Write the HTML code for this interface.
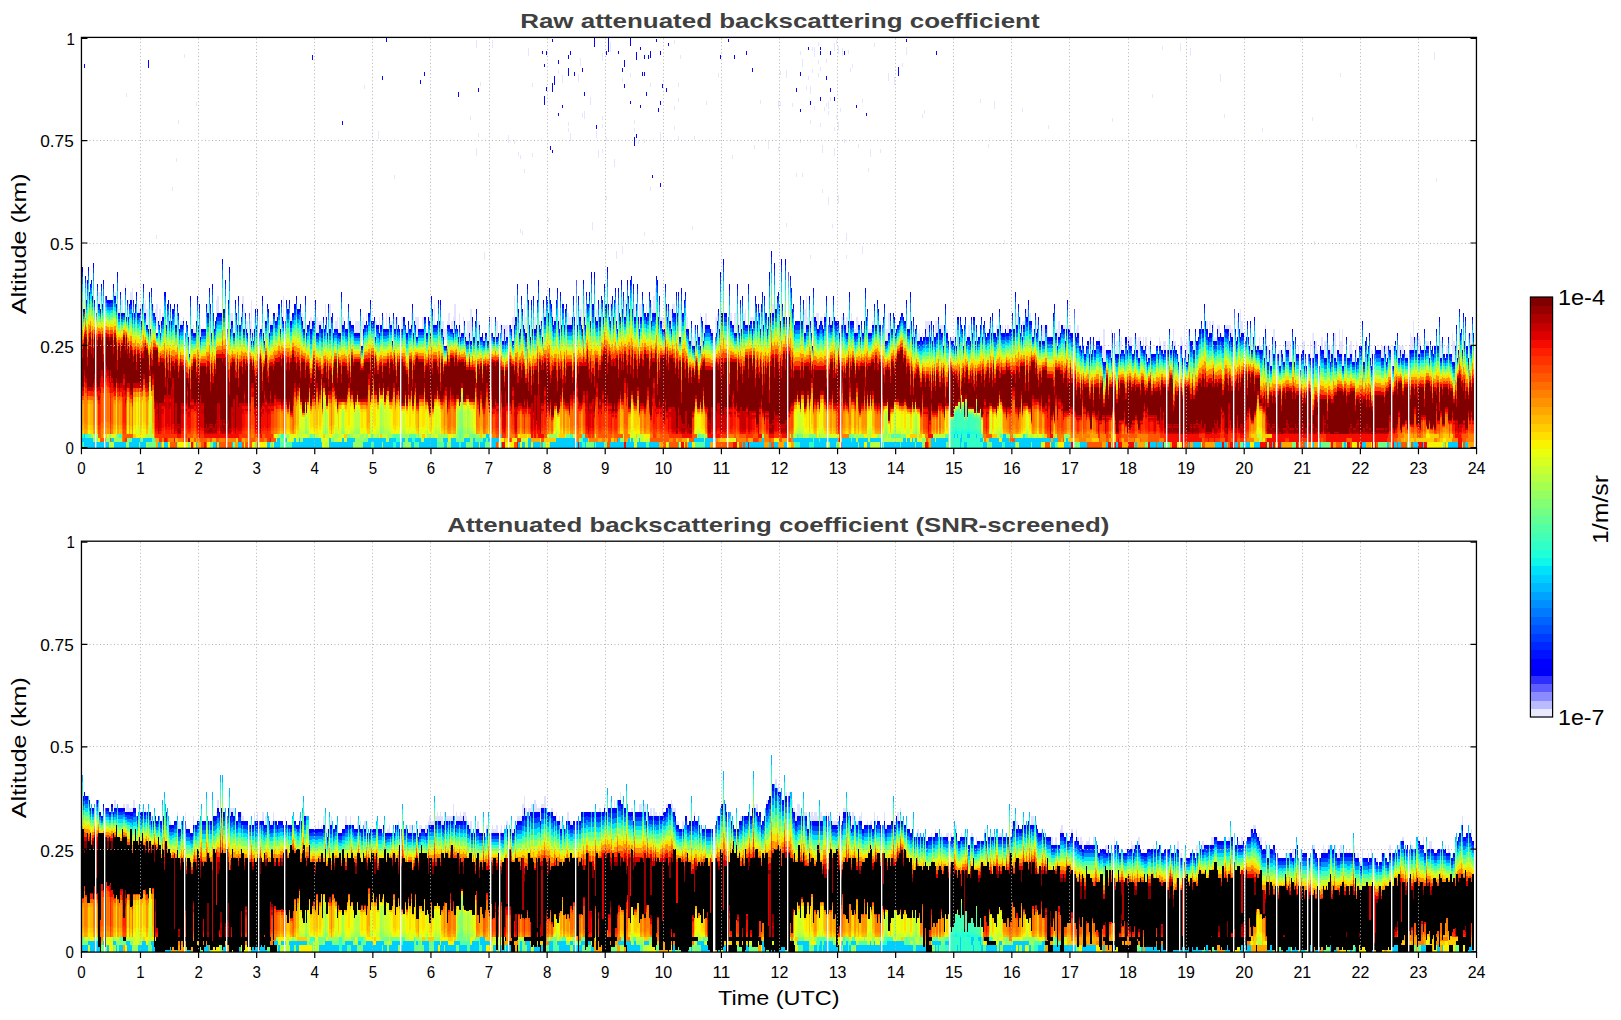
<!DOCTYPE html>
<html><head><meta charset="utf-8"><title>Backscatter</title>
<style>html,body{margin:0;padding:0;background:#fff;overflow:hidden;font-family:"Liberation Sans",sans-serif}svg{display:block}</style></head>
<body>
<svg width="1621" height="1020" viewBox="0 0 1621 1020">
<defs>
<linearGradient id="u" x1="0" y1="0" x2="0" y2="1"><stop offset="0" stop-color="#0000ff"/><stop offset="0.0909" stop-color="#0000ff"/><stop offset="0.0909" stop-color="#003cff"/><stop offset="0.182" stop-color="#003cff"/><stop offset="0.182" stop-color="#008fff"/><stop offset="0.273" stop-color="#008fff"/><stop offset="0.273" stop-color="#00e2f9"/><stop offset="0.364" stop-color="#00e2f9"/><stop offset="0.364" stop-color="#41ffb6"/><stop offset="0.455" stop-color="#41ffb6"/><stop offset="0.455" stop-color="#84ff73"/><stop offset="0.545" stop-color="#84ff73"/><stop offset="0.545" stop-color="#c7ff30"/><stop offset="0.636" stop-color="#c7ff30"/><stop offset="0.636" stop-color="#ffdf00"/><stop offset="0.727" stop-color="#ffdf00"/><stop offset="0.727" stop-color="#ff9200"/><stop offset="0.818" stop-color="#ff9200"/><stop offset="0.818" stop-color="#ff4500"/><stop offset="0.909" stop-color="#ff4500"/><stop offset="0.909" stop-color="#de0000"/><stop offset="1" stop-color="#de0000"/></linearGradient>
<linearGradient id="v" x1="0" y1="0" x2="0" y2="1"><stop offset="0" stop-color="#00b9ff"/><stop offset="0.0833" stop-color="#00b9ff"/><stop offset="0.0833" stop-color="#0ef7e9"/><stop offset="0.167" stop-color="#0ef7e9"/><stop offset="0.167" stop-color="#41ffb6"/><stop offset="0.25" stop-color="#41ffb6"/><stop offset="0.25" stop-color="#73ff84"/><stop offset="0.333" stop-color="#73ff84"/><stop offset="0.333" stop-color="#a5ff51"/><stop offset="0.417" stop-color="#a5ff51"/><stop offset="0.417" stop-color="#d8ff1f"/><stop offset="0.5" stop-color="#d8ff1f"/><stop offset="0.5" stop-color="#ffdf00"/><stop offset="0.583" stop-color="#ffdf00"/><stop offset="0.583" stop-color="#ffa600"/><stop offset="0.667" stop-color="#ffa600"/><stop offset="0.667" stop-color="#ff6c00"/><stop offset="0.75" stop-color="#ff6c00"/><stop offset="0.75" stop-color="#ff3200"/><stop offset="0.833" stop-color="#ff3200"/><stop offset="0.833" stop-color="#de0000"/><stop offset="0.917" stop-color="#de0000"/><stop offset="0.917" stop-color="#af0000"/><stop offset="1" stop-color="#af0000"/></linearGradient>
<linearGradient id="w" x1="0" y1="0" x2="0" y2="1"><stop offset="0" stop-color="#0000ff"/><stop offset="0.05" stop-color="#0000ff"/><stop offset="0.05" stop-color="#003cff"/><stop offset="0.11" stop-color="#003cff"/><stop offset="0.11" stop-color="#008fff"/><stop offset="0.19" stop-color="#008fff"/><stop offset="0.19" stop-color="#00e2f9"/><stop offset="0.28" stop-color="#00e2f9"/><stop offset="0.28" stop-color="#41ffb6"/><stop offset="0.38" stop-color="#41ffb6"/><stop offset="0.38" stop-color="#84ff73"/><stop offset="0.48" stop-color="#84ff73"/><stop offset="0.48" stop-color="#c7ff30"/><stop offset="0.58" stop-color="#c7ff30"/><stop offset="0.58" stop-color="#ffdf00"/><stop offset="0.69" stop-color="#ffdf00"/><stop offset="0.69" stop-color="#ff9200"/><stop offset="0.8" stop-color="#ff9200"/><stop offset="0.8" stop-color="#ff4500"/><stop offset="0.9" stop-color="#ff4500"/><stop offset="0.9" stop-color="#de0000"/><stop offset="1" stop-color="#de0000"/></linearGradient>
<linearGradient id="l17" x1="0" y1="0" x2="0" y2="1"><stop offset="0" stop-color="#c60000"/><stop offset="0.0909" stop-color="#c60000"/><stop offset="0.0909" stop-color="#84ff73"/><stop offset="0.182" stop-color="#84ff73"/><stop offset="0.182" stop-color="#41ffb6"/><stop offset="0.273" stop-color="#41ffb6"/><stop offset="0.273" stop-color="#0ef7e9"/><stop offset="0.364" stop-color="#0ef7e9"/><stop offset="0.364" stop-color="#00e2f9"/><stop offset="0.455" stop-color="#00e2f9"/><stop offset="0.455" stop-color="#00e2f9"/><stop offset="0.545" stop-color="#00e2f9"/><stop offset="0.545" stop-color="#00e2f9"/><stop offset="0.636" stop-color="#00e2f9"/><stop offset="0.636" stop-color="#00e2f9"/><stop offset="0.727" stop-color="#00e2f9"/><stop offset="0.727" stop-color="#00e2f9"/><stop offset="0.818" stop-color="#00e2f9"/><stop offset="0.818" stop-color="#00ceff"/><stop offset="0.909" stop-color="#00ceff"/><stop offset="0.909" stop-color="#00ceff"/><stop offset="1" stop-color="#00ceff"/></linearGradient>
<linearGradient id="l18" x1="0" y1="0" x2="0" y2="1"><stop offset="0" stop-color="#c60000"/><stop offset="0.0909" stop-color="#c60000"/><stop offset="0.0909" stop-color="#95ff62"/><stop offset="0.182" stop-color="#95ff62"/><stop offset="0.182" stop-color="#51ffa5"/><stop offset="0.273" stop-color="#51ffa5"/><stop offset="0.273" stop-color="#1fffd8"/><stop offset="0.364" stop-color="#1fffd8"/><stop offset="0.364" stop-color="#0ef7e9"/><stop offset="0.455" stop-color="#0ef7e9"/><stop offset="0.455" stop-color="#0ef7e9"/><stop offset="0.545" stop-color="#0ef7e9"/><stop offset="0.545" stop-color="#0ef7e9"/><stop offset="0.636" stop-color="#0ef7e9"/><stop offset="0.636" stop-color="#0ef7e9"/><stop offset="0.727" stop-color="#0ef7e9"/><stop offset="0.727" stop-color="#0ef7e9"/><stop offset="0.818" stop-color="#0ef7e9"/><stop offset="0.818" stop-color="#00e2f9"/><stop offset="0.909" stop-color="#00e2f9"/><stop offset="0.909" stop-color="#00ceff"/><stop offset="1" stop-color="#00ceff"/></linearGradient>
<linearGradient id="l19" x1="0" y1="0" x2="0" y2="1"><stop offset="0" stop-color="#c60000"/><stop offset="0.0909" stop-color="#c60000"/><stop offset="0.0909" stop-color="#a5ff51"/><stop offset="0.182" stop-color="#a5ff51"/><stop offset="0.182" stop-color="#62ff95"/><stop offset="0.273" stop-color="#62ff95"/><stop offset="0.273" stop-color="#30ffc7"/><stop offset="0.364" stop-color="#30ffc7"/><stop offset="0.364" stop-color="#1fffd8"/><stop offset="0.455" stop-color="#1fffd8"/><stop offset="0.455" stop-color="#1fffd8"/><stop offset="0.545" stop-color="#1fffd8"/><stop offset="0.545" stop-color="#1fffd8"/><stop offset="0.636" stop-color="#1fffd8"/><stop offset="0.636" stop-color="#1fffd8"/><stop offset="0.727" stop-color="#1fffd8"/><stop offset="0.727" stop-color="#1fffd8"/><stop offset="0.818" stop-color="#1fffd8"/><stop offset="0.818" stop-color="#0ef7e9"/><stop offset="0.909" stop-color="#0ef7e9"/><stop offset="0.909" stop-color="#00e2f9"/><stop offset="1" stop-color="#00e2f9"/></linearGradient>
<linearGradient id="l20" x1="0" y1="0" x2="0" y2="1"><stop offset="0" stop-color="#c60000"/><stop offset="0.0909" stop-color="#c60000"/><stop offset="0.0909" stop-color="#b6ff41"/><stop offset="0.182" stop-color="#b6ff41"/><stop offset="0.182" stop-color="#73ff84"/><stop offset="0.273" stop-color="#73ff84"/><stop offset="0.273" stop-color="#41ffb6"/><stop offset="0.364" stop-color="#41ffb6"/><stop offset="0.364" stop-color="#30ffc7"/><stop offset="0.455" stop-color="#30ffc7"/><stop offset="0.455" stop-color="#30ffc7"/><stop offset="0.545" stop-color="#30ffc7"/><stop offset="0.545" stop-color="#30ffc7"/><stop offset="0.636" stop-color="#30ffc7"/><stop offset="0.636" stop-color="#30ffc7"/><stop offset="0.727" stop-color="#30ffc7"/><stop offset="0.727" stop-color="#30ffc7"/><stop offset="0.818" stop-color="#30ffc7"/><stop offset="0.818" stop-color="#1fffd8"/><stop offset="0.909" stop-color="#1fffd8"/><stop offset="0.909" stop-color="#0ef7e9"/><stop offset="1" stop-color="#0ef7e9"/></linearGradient>
<linearGradient id="l21" x1="0" y1="0" x2="0" y2="1"><stop offset="0" stop-color="#c60000"/><stop offset="0.0909" stop-color="#c60000"/><stop offset="0.0909" stop-color="#c7ff30"/><stop offset="0.182" stop-color="#c7ff30"/><stop offset="0.182" stop-color="#84ff73"/><stop offset="0.273" stop-color="#84ff73"/><stop offset="0.273" stop-color="#51ffa5"/><stop offset="0.364" stop-color="#51ffa5"/><stop offset="0.364" stop-color="#41ffb6"/><stop offset="0.455" stop-color="#41ffb6"/><stop offset="0.455" stop-color="#41ffb6"/><stop offset="0.545" stop-color="#41ffb6"/><stop offset="0.545" stop-color="#41ffb6"/><stop offset="0.636" stop-color="#41ffb6"/><stop offset="0.636" stop-color="#41ffb6"/><stop offset="0.727" stop-color="#41ffb6"/><stop offset="0.727" stop-color="#41ffb6"/><stop offset="0.818" stop-color="#41ffb6"/><stop offset="0.818" stop-color="#30ffc7"/><stop offset="0.909" stop-color="#30ffc7"/><stop offset="0.909" stop-color="#1fffd8"/><stop offset="1" stop-color="#1fffd8"/></linearGradient>
<linearGradient id="l22" x1="0" y1="0" x2="0" y2="1"><stop offset="0" stop-color="#c60000"/><stop offset="0.0909" stop-color="#c60000"/><stop offset="0.0909" stop-color="#d8ff1f"/><stop offset="0.182" stop-color="#d8ff1f"/><stop offset="0.182" stop-color="#95ff62"/><stop offset="0.273" stop-color="#95ff62"/><stop offset="0.273" stop-color="#62ff95"/><stop offset="0.364" stop-color="#62ff95"/><stop offset="0.364" stop-color="#51ffa5"/><stop offset="0.455" stop-color="#51ffa5"/><stop offset="0.455" stop-color="#51ffa5"/><stop offset="0.545" stop-color="#51ffa5"/><stop offset="0.545" stop-color="#51ffa5"/><stop offset="0.636" stop-color="#51ffa5"/><stop offset="0.636" stop-color="#51ffa5"/><stop offset="0.727" stop-color="#51ffa5"/><stop offset="0.727" stop-color="#51ffa5"/><stop offset="0.818" stop-color="#51ffa5"/><stop offset="0.818" stop-color="#41ffb6"/><stop offset="0.909" stop-color="#41ffb6"/><stop offset="0.909" stop-color="#30ffc7"/><stop offset="1" stop-color="#30ffc7"/></linearGradient>
<linearGradient id="l23" x1="0" y1="0" x2="0" y2="1"><stop offset="0" stop-color="#c60000"/><stop offset="0.0909" stop-color="#c60000"/><stop offset="0.0909" stop-color="#e9ff0e"/><stop offset="0.182" stop-color="#e9ff0e"/><stop offset="0.182" stop-color="#a5ff51"/><stop offset="0.273" stop-color="#a5ff51"/><stop offset="0.273" stop-color="#73ff84"/><stop offset="0.364" stop-color="#73ff84"/><stop offset="0.364" stop-color="#62ff95"/><stop offset="0.455" stop-color="#62ff95"/><stop offset="0.455" stop-color="#62ff95"/><stop offset="0.545" stop-color="#62ff95"/><stop offset="0.545" stop-color="#62ff95"/><stop offset="0.636" stop-color="#62ff95"/><stop offset="0.636" stop-color="#62ff95"/><stop offset="0.727" stop-color="#62ff95"/><stop offset="0.727" stop-color="#62ff95"/><stop offset="0.818" stop-color="#62ff95"/><stop offset="0.818" stop-color="#51ffa5"/><stop offset="0.909" stop-color="#51ffa5"/><stop offset="0.909" stop-color="#41ffb6"/><stop offset="1" stop-color="#41ffb6"/></linearGradient>
<linearGradient id="l24" x1="0" y1="0" x2="0" y2="1"><stop offset="0" stop-color="#c60000"/><stop offset="0.0909" stop-color="#c60000"/><stop offset="0.0909" stop-color="#f9f300"/><stop offset="0.182" stop-color="#f9f300"/><stop offset="0.182" stop-color="#b6ff41"/><stop offset="0.273" stop-color="#b6ff41"/><stop offset="0.273" stop-color="#84ff73"/><stop offset="0.364" stop-color="#84ff73"/><stop offset="0.364" stop-color="#73ff84"/><stop offset="0.455" stop-color="#73ff84"/><stop offset="0.455" stop-color="#73ff84"/><stop offset="0.545" stop-color="#73ff84"/><stop offset="0.545" stop-color="#73ff84"/><stop offset="0.636" stop-color="#73ff84"/><stop offset="0.636" stop-color="#73ff84"/><stop offset="0.727" stop-color="#73ff84"/><stop offset="0.727" stop-color="#73ff84"/><stop offset="0.818" stop-color="#73ff84"/><stop offset="0.818" stop-color="#62ff95"/><stop offset="0.909" stop-color="#62ff95"/><stop offset="0.909" stop-color="#51ffa5"/><stop offset="1" stop-color="#51ffa5"/></linearGradient>
<linearGradient id="l25" x1="0" y1="0" x2="0" y2="1"><stop offset="0" stop-color="#c60000"/><stop offset="0.0909" stop-color="#c60000"/><stop offset="0.0909" stop-color="#ffdf00"/><stop offset="0.182" stop-color="#ffdf00"/><stop offset="0.182" stop-color="#c7ff30"/><stop offset="0.273" stop-color="#c7ff30"/><stop offset="0.273" stop-color="#95ff62"/><stop offset="0.364" stop-color="#95ff62"/><stop offset="0.364" stop-color="#84ff73"/><stop offset="0.455" stop-color="#84ff73"/><stop offset="0.455" stop-color="#84ff73"/><stop offset="0.545" stop-color="#84ff73"/><stop offset="0.545" stop-color="#84ff73"/><stop offset="0.636" stop-color="#84ff73"/><stop offset="0.636" stop-color="#84ff73"/><stop offset="0.727" stop-color="#84ff73"/><stop offset="0.727" stop-color="#84ff73"/><stop offset="0.818" stop-color="#84ff73"/><stop offset="0.818" stop-color="#73ff84"/><stop offset="0.909" stop-color="#73ff84"/><stop offset="0.909" stop-color="#62ff95"/><stop offset="1" stop-color="#62ff95"/></linearGradient>
<linearGradient id="l26" x1="0" y1="0" x2="0" y2="1"><stop offset="0" stop-color="#c60000"/><stop offset="0.0909" stop-color="#c60000"/><stop offset="0.0909" stop-color="#ffcc00"/><stop offset="0.182" stop-color="#ffcc00"/><stop offset="0.182" stop-color="#d8ff1f"/><stop offset="0.273" stop-color="#d8ff1f"/><stop offset="0.273" stop-color="#a5ff51"/><stop offset="0.364" stop-color="#a5ff51"/><stop offset="0.364" stop-color="#95ff62"/><stop offset="0.455" stop-color="#95ff62"/><stop offset="0.455" stop-color="#95ff62"/><stop offset="0.545" stop-color="#95ff62"/><stop offset="0.545" stop-color="#95ff62"/><stop offset="0.636" stop-color="#95ff62"/><stop offset="0.636" stop-color="#95ff62"/><stop offset="0.727" stop-color="#95ff62"/><stop offset="0.727" stop-color="#95ff62"/><stop offset="0.818" stop-color="#95ff62"/><stop offset="0.818" stop-color="#84ff73"/><stop offset="0.909" stop-color="#84ff73"/><stop offset="0.909" stop-color="#73ff84"/><stop offset="1" stop-color="#73ff84"/></linearGradient>
<linearGradient id="l27" x1="0" y1="0" x2="0" y2="1"><stop offset="0" stop-color="#c60000"/><stop offset="0.0909" stop-color="#c60000"/><stop offset="0.0909" stop-color="#ffb900"/><stop offset="0.182" stop-color="#ffb900"/><stop offset="0.182" stop-color="#e9ff0e"/><stop offset="0.273" stop-color="#e9ff0e"/><stop offset="0.273" stop-color="#b6ff41"/><stop offset="0.364" stop-color="#b6ff41"/><stop offset="0.364" stop-color="#a5ff51"/><stop offset="0.455" stop-color="#a5ff51"/><stop offset="0.455" stop-color="#a5ff51"/><stop offset="0.545" stop-color="#a5ff51"/><stop offset="0.545" stop-color="#a5ff51"/><stop offset="0.636" stop-color="#a5ff51"/><stop offset="0.636" stop-color="#a5ff51"/><stop offset="0.727" stop-color="#a5ff51"/><stop offset="0.727" stop-color="#a5ff51"/><stop offset="0.818" stop-color="#a5ff51"/><stop offset="0.818" stop-color="#95ff62"/><stop offset="0.909" stop-color="#95ff62"/><stop offset="0.909" stop-color="#84ff73"/><stop offset="1" stop-color="#84ff73"/></linearGradient>
<linearGradient id="l28" x1="0" y1="0" x2="0" y2="1"><stop offset="0" stop-color="#c60000"/><stop offset="0.0909" stop-color="#c60000"/><stop offset="0.0909" stop-color="#ffa600"/><stop offset="0.182" stop-color="#ffa600"/><stop offset="0.182" stop-color="#f9f300"/><stop offset="0.273" stop-color="#f9f300"/><stop offset="0.273" stop-color="#c7ff30"/><stop offset="0.364" stop-color="#c7ff30"/><stop offset="0.364" stop-color="#b6ff41"/><stop offset="0.455" stop-color="#b6ff41"/><stop offset="0.455" stop-color="#b6ff41"/><stop offset="0.545" stop-color="#b6ff41"/><stop offset="0.545" stop-color="#b6ff41"/><stop offset="0.636" stop-color="#b6ff41"/><stop offset="0.636" stop-color="#b6ff41"/><stop offset="0.727" stop-color="#b6ff41"/><stop offset="0.727" stop-color="#b6ff41"/><stop offset="0.818" stop-color="#b6ff41"/><stop offset="0.818" stop-color="#a5ff51"/><stop offset="0.909" stop-color="#a5ff51"/><stop offset="0.909" stop-color="#95ff62"/><stop offset="1" stop-color="#95ff62"/></linearGradient>
<linearGradient id="l29" x1="0" y1="0" x2="0" y2="1"><stop offset="0" stop-color="#c60000"/><stop offset="0.0909" stop-color="#c60000"/><stop offset="0.0909" stop-color="#ff9200"/><stop offset="0.182" stop-color="#ff9200"/><stop offset="0.182" stop-color="#ffdf00"/><stop offset="0.273" stop-color="#ffdf00"/><stop offset="0.273" stop-color="#d8ff1f"/><stop offset="0.364" stop-color="#d8ff1f"/><stop offset="0.364" stop-color="#c7ff30"/><stop offset="0.455" stop-color="#c7ff30"/><stop offset="0.455" stop-color="#c7ff30"/><stop offset="0.545" stop-color="#c7ff30"/><stop offset="0.545" stop-color="#c7ff30"/><stop offset="0.636" stop-color="#c7ff30"/><stop offset="0.636" stop-color="#c7ff30"/><stop offset="0.727" stop-color="#c7ff30"/><stop offset="0.727" stop-color="#c7ff30"/><stop offset="0.818" stop-color="#c7ff30"/><stop offset="0.818" stop-color="#b6ff41"/><stop offset="0.909" stop-color="#b6ff41"/><stop offset="0.909" stop-color="#a5ff51"/><stop offset="1" stop-color="#a5ff51"/></linearGradient>
<linearGradient id="l30" x1="0" y1="0" x2="0" y2="1"><stop offset="0" stop-color="#c60000"/><stop offset="0.0909" stop-color="#c60000"/><stop offset="0.0909" stop-color="#ff7f00"/><stop offset="0.182" stop-color="#ff7f00"/><stop offset="0.182" stop-color="#ffcc00"/><stop offset="0.273" stop-color="#ffcc00"/><stop offset="0.273" stop-color="#e9ff0e"/><stop offset="0.364" stop-color="#e9ff0e"/><stop offset="0.364" stop-color="#d8ff1f"/><stop offset="0.455" stop-color="#d8ff1f"/><stop offset="0.455" stop-color="#d8ff1f"/><stop offset="0.545" stop-color="#d8ff1f"/><stop offset="0.545" stop-color="#d8ff1f"/><stop offset="0.636" stop-color="#d8ff1f"/><stop offset="0.636" stop-color="#d8ff1f"/><stop offset="0.727" stop-color="#d8ff1f"/><stop offset="0.727" stop-color="#d8ff1f"/><stop offset="0.818" stop-color="#d8ff1f"/><stop offset="0.818" stop-color="#c7ff30"/><stop offset="0.909" stop-color="#c7ff30"/><stop offset="0.909" stop-color="#b6ff41"/><stop offset="1" stop-color="#b6ff41"/></linearGradient>
<linearGradient id="l31" x1="0" y1="0" x2="0" y2="1"><stop offset="0" stop-color="#c60000"/><stop offset="0.0909" stop-color="#c60000"/><stop offset="0.0909" stop-color="#ff6c00"/><stop offset="0.182" stop-color="#ff6c00"/><stop offset="0.182" stop-color="#ffb900"/><stop offset="0.273" stop-color="#ffb900"/><stop offset="0.273" stop-color="#f9f300"/><stop offset="0.364" stop-color="#f9f300"/><stop offset="0.364" stop-color="#e9ff0e"/><stop offset="0.455" stop-color="#e9ff0e"/><stop offset="0.455" stop-color="#e9ff0e"/><stop offset="0.545" stop-color="#e9ff0e"/><stop offset="0.545" stop-color="#e9ff0e"/><stop offset="0.636" stop-color="#e9ff0e"/><stop offset="0.636" stop-color="#e9ff0e"/><stop offset="0.727" stop-color="#e9ff0e"/><stop offset="0.727" stop-color="#e9ff0e"/><stop offset="0.818" stop-color="#e9ff0e"/><stop offset="0.818" stop-color="#d8ff1f"/><stop offset="0.909" stop-color="#d8ff1f"/><stop offset="0.909" stop-color="#c7ff30"/><stop offset="1" stop-color="#c7ff30"/></linearGradient>
<linearGradient id="l32" x1="0" y1="0" x2="0" y2="1"><stop offset="0" stop-color="#c60000"/><stop offset="0.0909" stop-color="#c60000"/><stop offset="0.0909" stop-color="#ff5800"/><stop offset="0.182" stop-color="#ff5800"/><stop offset="0.182" stop-color="#ffa600"/><stop offset="0.273" stop-color="#ffa600"/><stop offset="0.273" stop-color="#ffdf00"/><stop offset="0.364" stop-color="#ffdf00"/><stop offset="0.364" stop-color="#f9f300"/><stop offset="0.455" stop-color="#f9f300"/><stop offset="0.455" stop-color="#f9f300"/><stop offset="0.545" stop-color="#f9f300"/><stop offset="0.545" stop-color="#f9f300"/><stop offset="0.636" stop-color="#f9f300"/><stop offset="0.636" stop-color="#f9f300"/><stop offset="0.727" stop-color="#f9f300"/><stop offset="0.727" stop-color="#f9f300"/><stop offset="0.818" stop-color="#f9f300"/><stop offset="0.818" stop-color="#e9ff0e"/><stop offset="0.909" stop-color="#e9ff0e"/><stop offset="0.909" stop-color="#d8ff1f"/><stop offset="1" stop-color="#d8ff1f"/></linearGradient>
<linearGradient id="l33" x1="0" y1="0" x2="0" y2="1"><stop offset="0" stop-color="#c60000"/><stop offset="0.0909" stop-color="#c60000"/><stop offset="0.0909" stop-color="#ff4500"/><stop offset="0.182" stop-color="#ff4500"/><stop offset="0.182" stop-color="#ff9200"/><stop offset="0.273" stop-color="#ff9200"/><stop offset="0.273" stop-color="#ffcc00"/><stop offset="0.364" stop-color="#ffcc00"/><stop offset="0.364" stop-color="#ffdf00"/><stop offset="0.455" stop-color="#ffdf00"/><stop offset="0.455" stop-color="#ffdf00"/><stop offset="0.545" stop-color="#ffdf00"/><stop offset="0.545" stop-color="#ffdf00"/><stop offset="0.636" stop-color="#ffdf00"/><stop offset="0.636" stop-color="#ffdf00"/><stop offset="0.727" stop-color="#ffdf00"/><stop offset="0.727" stop-color="#ffdf00"/><stop offset="0.818" stop-color="#ffdf00"/><stop offset="0.818" stop-color="#f9f300"/><stop offset="0.909" stop-color="#f9f300"/><stop offset="0.909" stop-color="#e9ff0e"/><stop offset="1" stop-color="#e9ff0e"/></linearGradient>
<linearGradient id="l34" x1="0" y1="0" x2="0" y2="1"><stop offset="0" stop-color="#c60000"/><stop offset="0.0909" stop-color="#c60000"/><stop offset="0.0909" stop-color="#ff3200"/><stop offset="0.182" stop-color="#ff3200"/><stop offset="0.182" stop-color="#ff7f00"/><stop offset="0.273" stop-color="#ff7f00"/><stop offset="0.273" stop-color="#ffb900"/><stop offset="0.364" stop-color="#ffb900"/><stop offset="0.364" stop-color="#ffcc00"/><stop offset="0.455" stop-color="#ffcc00"/><stop offset="0.455" stop-color="#ffcc00"/><stop offset="0.545" stop-color="#ffcc00"/><stop offset="0.545" stop-color="#ffcc00"/><stop offset="0.636" stop-color="#ffcc00"/><stop offset="0.636" stop-color="#ffcc00"/><stop offset="0.727" stop-color="#ffcc00"/><stop offset="0.727" stop-color="#ffcc00"/><stop offset="0.818" stop-color="#ffcc00"/><stop offset="0.818" stop-color="#ffdf00"/><stop offset="0.909" stop-color="#ffdf00"/><stop offset="0.909" stop-color="#f9f300"/><stop offset="1" stop-color="#f9f300"/></linearGradient>
<linearGradient id="l35" x1="0" y1="0" x2="0" y2="1"><stop offset="0" stop-color="#c60000"/><stop offset="0.0909" stop-color="#c60000"/><stop offset="0.0909" stop-color="#ff1f00"/><stop offset="0.182" stop-color="#ff1f00"/><stop offset="0.182" stop-color="#ff6c00"/><stop offset="0.273" stop-color="#ff6c00"/><stop offset="0.273" stop-color="#ffa600"/><stop offset="0.364" stop-color="#ffa600"/><stop offset="0.364" stop-color="#ffb900"/><stop offset="0.455" stop-color="#ffb900"/><stop offset="0.455" stop-color="#ffb900"/><stop offset="0.545" stop-color="#ffb900"/><stop offset="0.545" stop-color="#ffb900"/><stop offset="0.636" stop-color="#ffb900"/><stop offset="0.636" stop-color="#ffb900"/><stop offset="0.727" stop-color="#ffb900"/><stop offset="0.727" stop-color="#ffb900"/><stop offset="0.818" stop-color="#ffb900"/><stop offset="0.818" stop-color="#ffcc00"/><stop offset="0.909" stop-color="#ffcc00"/><stop offset="0.909" stop-color="#ffdf00"/><stop offset="1" stop-color="#ffdf00"/></linearGradient>
<linearGradient id="l36" x1="0" y1="0" x2="0" y2="1"><stop offset="0" stop-color="#c60000"/><stop offset="0.0909" stop-color="#c60000"/><stop offset="0.0909" stop-color="#f60b00"/><stop offset="0.182" stop-color="#f60b00"/><stop offset="0.182" stop-color="#ff5800"/><stop offset="0.273" stop-color="#ff5800"/><stop offset="0.273" stop-color="#ff9200"/><stop offset="0.364" stop-color="#ff9200"/><stop offset="0.364" stop-color="#ffa600"/><stop offset="0.455" stop-color="#ffa600"/><stop offset="0.455" stop-color="#ffa600"/><stop offset="0.545" stop-color="#ffa600"/><stop offset="0.545" stop-color="#ffa600"/><stop offset="0.636" stop-color="#ffa600"/><stop offset="0.636" stop-color="#ffa600"/><stop offset="0.727" stop-color="#ffa600"/><stop offset="0.727" stop-color="#ffa600"/><stop offset="0.818" stop-color="#ffa600"/><stop offset="0.818" stop-color="#ffb900"/><stop offset="0.909" stop-color="#ffb900"/><stop offset="0.909" stop-color="#ffcc00"/><stop offset="1" stop-color="#ffcc00"/></linearGradient>
<linearGradient id="l37" x1="0" y1="0" x2="0" y2="1"><stop offset="0" stop-color="#c60000"/><stop offset="0.0909" stop-color="#c60000"/><stop offset="0.0909" stop-color="#f60b00"/><stop offset="0.182" stop-color="#f60b00"/><stop offset="0.182" stop-color="#ff4500"/><stop offset="0.273" stop-color="#ff4500"/><stop offset="0.273" stop-color="#ff7f00"/><stop offset="0.364" stop-color="#ff7f00"/><stop offset="0.364" stop-color="#ff9200"/><stop offset="0.455" stop-color="#ff9200"/><stop offset="0.455" stop-color="#ff9200"/><stop offset="0.545" stop-color="#ff9200"/><stop offset="0.545" stop-color="#ff9200"/><stop offset="0.636" stop-color="#ff9200"/><stop offset="0.636" stop-color="#ff9200"/><stop offset="0.727" stop-color="#ff9200"/><stop offset="0.727" stop-color="#ff9200"/><stop offset="0.818" stop-color="#ff9200"/><stop offset="0.818" stop-color="#ffa600"/><stop offset="0.909" stop-color="#ffa600"/><stop offset="0.909" stop-color="#ffb900"/><stop offset="1" stop-color="#ffb900"/></linearGradient>
<linearGradient id="l38" x1="0" y1="0" x2="0" y2="1"><stop offset="0" stop-color="#c60000"/><stop offset="0.0909" stop-color="#c60000"/><stop offset="0.0909" stop-color="#f60b00"/><stop offset="0.182" stop-color="#f60b00"/><stop offset="0.182" stop-color="#ff3200"/><stop offset="0.273" stop-color="#ff3200"/><stop offset="0.273" stop-color="#ff6c00"/><stop offset="0.364" stop-color="#ff6c00"/><stop offset="0.364" stop-color="#ff7f00"/><stop offset="0.455" stop-color="#ff7f00"/><stop offset="0.455" stop-color="#ff7f00"/><stop offset="0.545" stop-color="#ff7f00"/><stop offset="0.545" stop-color="#ff7f00"/><stop offset="0.636" stop-color="#ff7f00"/><stop offset="0.636" stop-color="#ff7f00"/><stop offset="0.727" stop-color="#ff7f00"/><stop offset="0.727" stop-color="#ff7f00"/><stop offset="0.818" stop-color="#ff7f00"/><stop offset="0.818" stop-color="#ff9200"/><stop offset="0.909" stop-color="#ff9200"/><stop offset="0.909" stop-color="#ffa600"/><stop offset="1" stop-color="#ffa600"/></linearGradient>
<linearGradient id="l39" x1="0" y1="0" x2="0" y2="1"><stop offset="0" stop-color="#c60000"/><stop offset="0.0909" stop-color="#c60000"/><stop offset="0.0909" stop-color="#f60b00"/><stop offset="0.182" stop-color="#f60b00"/><stop offset="0.182" stop-color="#ff1f00"/><stop offset="0.273" stop-color="#ff1f00"/><stop offset="0.273" stop-color="#ff5800"/><stop offset="0.364" stop-color="#ff5800"/><stop offset="0.364" stop-color="#ff6c00"/><stop offset="0.455" stop-color="#ff6c00"/><stop offset="0.455" stop-color="#ff6c00"/><stop offset="0.545" stop-color="#ff6c00"/><stop offset="0.545" stop-color="#ff6c00"/><stop offset="0.636" stop-color="#ff6c00"/><stop offset="0.636" stop-color="#ff6c00"/><stop offset="0.727" stop-color="#ff6c00"/><stop offset="0.727" stop-color="#ff6c00"/><stop offset="0.818" stop-color="#ff6c00"/><stop offset="0.818" stop-color="#ff7f00"/><stop offset="0.909" stop-color="#ff7f00"/><stop offset="0.909" stop-color="#ff9200"/><stop offset="1" stop-color="#ff9200"/></linearGradient>
<linearGradient id="l40" x1="0" y1="0" x2="0" y2="1"><stop offset="0" stop-color="#c60000"/><stop offset="0.0909" stop-color="#c60000"/><stop offset="0.0909" stop-color="#f60b00"/><stop offset="0.182" stop-color="#f60b00"/><stop offset="0.182" stop-color="#f60b00"/><stop offset="0.273" stop-color="#f60b00"/><stop offset="0.273" stop-color="#ff4500"/><stop offset="0.364" stop-color="#ff4500"/><stop offset="0.364" stop-color="#ff5800"/><stop offset="0.455" stop-color="#ff5800"/><stop offset="0.455" stop-color="#ff5800"/><stop offset="0.545" stop-color="#ff5800"/><stop offset="0.545" stop-color="#ff5800"/><stop offset="0.636" stop-color="#ff5800"/><stop offset="0.636" stop-color="#ff5800"/><stop offset="0.727" stop-color="#ff5800"/><stop offset="0.727" stop-color="#ff5800"/><stop offset="0.818" stop-color="#ff5800"/><stop offset="0.818" stop-color="#ff6c00"/><stop offset="0.909" stop-color="#ff6c00"/><stop offset="0.909" stop-color="#ff7f00"/><stop offset="1" stop-color="#ff7f00"/></linearGradient>
<linearGradient id="l41" x1="0" y1="0" x2="0" y2="1"><stop offset="0" stop-color="#c60000"/><stop offset="0.0909" stop-color="#c60000"/><stop offset="0.0909" stop-color="#f60b00"/><stop offset="0.182" stop-color="#f60b00"/><stop offset="0.182" stop-color="#de0000"/><stop offset="0.273" stop-color="#de0000"/><stop offset="0.273" stop-color="#ff3200"/><stop offset="0.364" stop-color="#ff3200"/><stop offset="0.364" stop-color="#ff4500"/><stop offset="0.455" stop-color="#ff4500"/><stop offset="0.455" stop-color="#ff4500"/><stop offset="0.545" stop-color="#ff4500"/><stop offset="0.545" stop-color="#ff4500"/><stop offset="0.636" stop-color="#ff4500"/><stop offset="0.636" stop-color="#ff4500"/><stop offset="0.727" stop-color="#ff4500"/><stop offset="0.727" stop-color="#ff4500"/><stop offset="0.818" stop-color="#ff4500"/><stop offset="0.818" stop-color="#ff5800"/><stop offset="0.909" stop-color="#ff5800"/><stop offset="0.909" stop-color="#ff6c00"/><stop offset="1" stop-color="#ff6c00"/></linearGradient>
<linearGradient id="l42" x1="0" y1="0" x2="0" y2="1"><stop offset="0" stop-color="#c60000"/><stop offset="0.0909" stop-color="#c60000"/><stop offset="0.0909" stop-color="#f60b00"/><stop offset="0.182" stop-color="#f60b00"/><stop offset="0.182" stop-color="#c60000"/><stop offset="0.273" stop-color="#c60000"/><stop offset="0.273" stop-color="#ff1f00"/><stop offset="0.364" stop-color="#ff1f00"/><stop offset="0.364" stop-color="#ff3200"/><stop offset="0.455" stop-color="#ff3200"/><stop offset="0.455" stop-color="#ff3200"/><stop offset="0.545" stop-color="#ff3200"/><stop offset="0.545" stop-color="#ff3200"/><stop offset="0.636" stop-color="#ff3200"/><stop offset="0.636" stop-color="#ff3200"/><stop offset="0.727" stop-color="#ff3200"/><stop offset="0.727" stop-color="#ff3200"/><stop offset="0.818" stop-color="#ff3200"/><stop offset="0.818" stop-color="#ff4500"/><stop offset="0.909" stop-color="#ff4500"/><stop offset="0.909" stop-color="#ff5800"/><stop offset="1" stop-color="#ff5800"/></linearGradient>
<linearGradient id="l43" x1="0" y1="0" x2="0" y2="1"><stop offset="0" stop-color="#c60000"/><stop offset="0.0909" stop-color="#c60000"/><stop offset="0.0909" stop-color="#f60b00"/><stop offset="0.182" stop-color="#f60b00"/><stop offset="0.182" stop-color="#c60000"/><stop offset="0.273" stop-color="#c60000"/><stop offset="0.273" stop-color="#f60b00"/><stop offset="0.364" stop-color="#f60b00"/><stop offset="0.364" stop-color="#ff1f00"/><stop offset="0.455" stop-color="#ff1f00"/><stop offset="0.455" stop-color="#ff1f00"/><stop offset="0.545" stop-color="#ff1f00"/><stop offset="0.545" stop-color="#ff1f00"/><stop offset="0.636" stop-color="#ff1f00"/><stop offset="0.636" stop-color="#ff1f00"/><stop offset="0.727" stop-color="#ff1f00"/><stop offset="0.727" stop-color="#ff1f00"/><stop offset="0.818" stop-color="#ff1f00"/><stop offset="0.818" stop-color="#ff3200"/><stop offset="0.909" stop-color="#ff3200"/><stop offset="0.909" stop-color="#ff4500"/><stop offset="1" stop-color="#ff4500"/></linearGradient>
<linearGradient id="l44" x1="0" y1="0" x2="0" y2="1"><stop offset="0" stop-color="#c60000"/><stop offset="0.0909" stop-color="#c60000"/><stop offset="0.0909" stop-color="#f60b00"/><stop offset="0.182" stop-color="#f60b00"/><stop offset="0.182" stop-color="#c60000"/><stop offset="0.273" stop-color="#c60000"/><stop offset="0.273" stop-color="#de0000"/><stop offset="0.364" stop-color="#de0000"/><stop offset="0.364" stop-color="#f60b00"/><stop offset="0.455" stop-color="#f60b00"/><stop offset="0.455" stop-color="#f60b00"/><stop offset="0.545" stop-color="#f60b00"/><stop offset="0.545" stop-color="#f60b00"/><stop offset="0.636" stop-color="#f60b00"/><stop offset="0.636" stop-color="#f60b00"/><stop offset="0.727" stop-color="#f60b00"/><stop offset="0.727" stop-color="#f60b00"/><stop offset="0.818" stop-color="#f60b00"/><stop offset="0.818" stop-color="#ff1f00"/><stop offset="0.909" stop-color="#ff1f00"/><stop offset="0.909" stop-color="#ff3200"/><stop offset="1" stop-color="#ff3200"/></linearGradient>
<linearGradient id="l45" x1="0" y1="0" x2="0" y2="1"><stop offset="0" stop-color="#c60000"/><stop offset="0.0909" stop-color="#c60000"/><stop offset="0.0909" stop-color="#de0000"/><stop offset="0.182" stop-color="#de0000"/><stop offset="0.182" stop-color="#c60000"/><stop offset="0.273" stop-color="#c60000"/><stop offset="0.273" stop-color="#c60000"/><stop offset="0.364" stop-color="#c60000"/><stop offset="0.364" stop-color="#de0000"/><stop offset="0.455" stop-color="#de0000"/><stop offset="0.455" stop-color="#de0000"/><stop offset="0.545" stop-color="#de0000"/><stop offset="0.545" stop-color="#de0000"/><stop offset="0.636" stop-color="#de0000"/><stop offset="0.636" stop-color="#de0000"/><stop offset="0.727" stop-color="#de0000"/><stop offset="0.727" stop-color="#de0000"/><stop offset="0.818" stop-color="#de0000"/><stop offset="0.818" stop-color="#f60b00"/><stop offset="0.909" stop-color="#f60b00"/><stop offset="0.909" stop-color="#ff1f00"/><stop offset="1" stop-color="#ff1f00"/></linearGradient>
<linearGradient id="l46" x1="0" y1="0" x2="0" y2="1"><stop offset="0" stop-color="#c60000"/><stop offset="0.0909" stop-color="#c60000"/><stop offset="0.0909" stop-color="#c60000"/><stop offset="0.182" stop-color="#c60000"/><stop offset="0.182" stop-color="#c60000"/><stop offset="0.273" stop-color="#c60000"/><stop offset="0.273" stop-color="#c60000"/><stop offset="0.364" stop-color="#c60000"/><stop offset="0.364" stop-color="#c60000"/><stop offset="0.455" stop-color="#c60000"/><stop offset="0.455" stop-color="#c60000"/><stop offset="0.545" stop-color="#c60000"/><stop offset="0.545" stop-color="#c60000"/><stop offset="0.636" stop-color="#c60000"/><stop offset="0.636" stop-color="#c60000"/><stop offset="0.727" stop-color="#c60000"/><stop offset="0.727" stop-color="#c60000"/><stop offset="0.818" stop-color="#c60000"/><stop offset="0.818" stop-color="#de0000"/><stop offset="0.909" stop-color="#de0000"/><stop offset="0.909" stop-color="#f60b00"/><stop offset="1" stop-color="#f60b00"/></linearGradient>
<linearGradient id="l47" x1="0" y1="0" x2="0" y2="1"><stop offset="0" stop-color="#c60000"/><stop offset="0.0909" stop-color="#c60000"/><stop offset="0.0909" stop-color="#af0000"/><stop offset="0.182" stop-color="#af0000"/><stop offset="0.182" stop-color="#c60000"/><stop offset="0.273" stop-color="#c60000"/><stop offset="0.273" stop-color="#c60000"/><stop offset="0.364" stop-color="#c60000"/><stop offset="0.364" stop-color="#af0000"/><stop offset="0.455" stop-color="#af0000"/><stop offset="0.455" stop-color="#af0000"/><stop offset="0.545" stop-color="#af0000"/><stop offset="0.545" stop-color="#af0000"/><stop offset="0.636" stop-color="#af0000"/><stop offset="0.636" stop-color="#af0000"/><stop offset="0.727" stop-color="#af0000"/><stop offset="0.727" stop-color="#af0000"/><stop offset="0.818" stop-color="#af0000"/><stop offset="0.818" stop-color="#c60000"/><stop offset="0.909" stop-color="#c60000"/><stop offset="0.909" stop-color="#de0000"/><stop offset="1" stop-color="#de0000"/></linearGradient>
<linearGradient id="l48" x1="0" y1="0" x2="0" y2="1"><stop offset="0" stop-color="#c60000"/><stop offset="0.0909" stop-color="#c60000"/><stop offset="0.0909" stop-color="#970000"/><stop offset="0.182" stop-color="#970000"/><stop offset="0.182" stop-color="#c60000"/><stop offset="0.273" stop-color="#c60000"/><stop offset="0.273" stop-color="#c60000"/><stop offset="0.364" stop-color="#c60000"/><stop offset="0.364" stop-color="#970000"/><stop offset="0.455" stop-color="#970000"/><stop offset="0.455" stop-color="#970000"/><stop offset="0.545" stop-color="#970000"/><stop offset="0.545" stop-color="#970000"/><stop offset="0.636" stop-color="#970000"/><stop offset="0.636" stop-color="#970000"/><stop offset="0.727" stop-color="#970000"/><stop offset="0.727" stop-color="#970000"/><stop offset="0.818" stop-color="#970000"/><stop offset="0.818" stop-color="#af0000"/><stop offset="0.909" stop-color="#af0000"/><stop offset="0.909" stop-color="#c60000"/><stop offset="1" stop-color="#c60000"/></linearGradient>
</defs>
<rect width="1621" height="1020" fill="#fff"/>
<g shape-rendering="crispEdges" transform="translate(82.40 0) scale(1.45225 1)">
<path fill="#e4e4ff" d="M0 300V300h2V280h1V304h1V292h1V304h1V292h2V304h1V292h1V304h1V292h3V300h1V304h1V300h3V304h1V300h2V292h2V309h2V300h2V313h1V284h1V313h1V300h1V309h1V292h1V288h1V317h3V304h1V309h1V304h3V300h1V309h3V317h1V304h1V317h1V309h1V304h1V321h1V309h1V321h1V313h1V321h1V313h1V309h1V313h1V321h1V325h2V317h1V313h1V329h2V321h2V317h1V333h4V337h2V325h1V329h2V337h2V325h1V337h2V333h1V321h1V304h1V317h1V313h1V321h1V325h2V300h1V296h1V321h2V313h2V321h2V325h1V313h3V325h1V313h3V329h1V313h1V296h1V309h1V321h4V300h1V329h1V317h4V333h1V325h1V333h1V317h1V329h1V333h2V321h2V313h1V329h1V313h2V317h3V296h1V313h2V304h2V317h7V313h2V317h1V325h3V329h1V317h1V329h1V317h1V329h1V317h1V321h3V329h2V304h1V329h2V304h1V329h3V321h1V317h1V329h1V317h1V329h1V317h1V329h2V317h3V329h3V321h5V317h1V329h1V313h1V329h1V321h6V329h1V317h1V329h1V317h2V329h1V313h1V329h1V313h1V321h2V317h3V329h2V317h3V329h4V313h2V329h1V317h3V329h2V317h2V329h3V317h2V329h1V304h1V325h1V329h3V321h2V329h2V321h1V313h1V329h1V321h1V317h1V304h1V329h2V313h1V329h1V333h1V317h1V333h2V321h2V309h1V325h1V333h1V321h1V317h1V321h2V337h5V325h1V329h1V317h1V337h2V325h1V321h1V337h1V325h1V337h1V325h4V321h1V333h1V329h1V317h1V296h1V329h2V321h2V329h1V325h1V304h1V317h1V313h1V329h1V321h2V317h2V329h2V321h2V317h2V309h1V321h1V329h1V321h2V309h1V321h1V317h1V325h1V309h1V317h1V325h1V300h1V325h2V313h2V317h2V321h1V313h1V321h1V304h1V309h3V321h1V296h1V309h1V321h1V304h1V321h1V309h3V317h1V309h1V317h1V304h2V317h3V304h1V317h1V300h2V304h1V317h1V304h3V317h1V300h1V317h1V300h1V317h1V304h1V317h1V304h2V309h1V304h2V317h1V304h2V317h1V304h1V317h1V304h1V317h1V309h1V304h1V309h1V296h1V288h1V300h3V317h3V304h2V317h1V309h2V304h2V321h1V304h1V321h1V304h1V321h2V325h1V313h1V317h1V333h2V337h2V325h1V337h1V329h1V333h1V313h1V317h1V329h1V325h1V313h1V337h1V329h1V337h1V329h1V321h1V317h2V313h2V321h1V325h1V317h1V325h1V313h2V296h1V313h1V325h2V313h3V325h2V317h1V313h1V309h1V325h3V317h3V325h1V313h2V309h1V325h2V321h1V313h1V317h1V321h1V313h2V304h3V313h1V309h3V317h1V304h1V317h2V304h1V317h1V309h1V317h1V325h1V321h1V325h5V309h1V296h1V317h1V313h1V325h1V317h1V313h1V325h1V313h2V325h1V317h2V325h1V313h2V325h2V317h1V321h1V317h2V325h3V317h3V321h1V317h1V313h1V321h1V313h1V329h3V317h1V321h1V329h1V325h1V329h2V321h1V317h1V329h3V321h4V329h1V321h1V325h3V329h2V313h2V329h4V325h1V321h1V317h2V321h1V325h1V317h1V329h1V325h4V337h1V333h2V329h1V337h1V333h1V337h1V321h4V337h3V321h2V337h1V325h3V333h1V337h1V329h1V337h5V329h1V337h1V329h2V337h2V325h1V333h1V337h1V325h1V337h2V325h2V337h3V325h1V333h1V329h2V337h1V333h1V321h1V325h1V333h1V325h1V333h1V325h3V333h1V325h1V333h1V325h1V333h1V325h1V333h2V321h1V329h1V313h2V329h1V317h1V329h1V321h2V309h2V329h1V313h1V329h3V317h1V321h2V337h1V325h3V337h1V325h1V337h3V325h1V337h1V329h2V321h1V337h2V325h6V337h1V341h2V329h1V325h1V333h1V346h1V337h1V350h3V346h1V337h1V341h2V350h1V346h1V341h1V350h1V337h1V346h2V329h1V350h4V329h1V346h2V350h1V341h3V337h1V350h2V337h1V350h1V337h3V354h1V337h2V341h1V337h2V354h1V337h1V354h1V337h1V354h1V346h1V337h1V354h5V337h1V341h1V354h1V341h2V354h1V346h1V354h1V346h2V329h1V341h1V354h2V346h1V337h1V341h1V325h1V354h1V341h1V329h1V341h2V346h1V341h1V354h2V346h1V337h3V321h3V337h1V321h1V337h1V321h1V337h2V325h2V333h2V337h2V325h4V329h2V337h2V321h1V337h1V309h1V321h1V337h1V329h1V341h2V337h1V341h1V333h1V337h1V333h1V346h2V337h1V346h1V358h1V341h1V325h1V333h1V346h1V358h1V350h1V358h1V329h1V358h2V350h4V358h2V341h3V358h1V341h2V358h2V346h1V358h2V341h2V358h1V346h1V358h1V341h2V333h1V341h2V350h2V358h1V337h1V358h1V341h2V346h2V350h1V346h2V333h1V358h2V329h1V341h1V329h1V358h2V346h1V358h1V346h1V341h1V350h1V358h2V341h1V358h2V346h1V350h1V358h2V350h1V358h2V350h3V358h4V346h2V358h1V346h2V358h1V346h4V354h2V346h4V354h3V346h1V333h1V337h1V321h1V337h2V354h1V337h1V341h1V354h1V350h1V341h3V354h4V358h4V341h1V358h3V346h1V358h1V341h1V358h1V333h1V341h1V346h2V350h1V337h1V350h1V346h1V350h1V321h1V350h1V333h3V350h1V360h-10V361h-1V362h-1V364h-1V366h-1V367h-13V366h-1V365h-2V364h-25V365h-1V366h-1V367h-1V368h-36V367h-52V365h-1V359h-1V355h-1V354h-5V353h-2V352h-1V349h-1V347h-23V348h-7V350h-1V357h-1V363h-37V362h-40V361h-1V360h-1V359h-1V358h-1V357h-1V355h-1V354h-1V352h-1V351h-1V350h-3V349h-20V348h-1V347h-1V343h-1V340h-5V339h-10V342h-1V344h-8V345h-8V346h-1V347h-2V348h-1V349h-16V350h-10V349h-22V348h-1V345h-1V343h-1V340h-1V337h-1V334h-1V332h-1V329h-1V327h-1V331h-1V335h-1V338h-1V341h-9V340h-10V339h-10V338h-10V337h-2V334h-1V332h-1V331h-1V333h-1V335h-1V337h-23V335h-1V333h-1V331h-1V329h-2V328h-2V327h-3V326h-2V325h-2V327h-1V328h-1V329h-1V331h-1V332h-1V333h-2V334h-6V335h-6V336h-6V337h-6V336h-1V335h-2V334h-1V333h-1V335h-1V337h-1V339h-1V340h-1V342h-1V344h-1V345h-1V347h-1V348h-1V350h-1V349h-6V348h-5V347h-1V345h-1V342h-1V339h-1V336h-1V334h-1V331h-4V330h-5V329h-4V328h-43V329h-7V330h-7V331h-5V332h-3V333h-2V334h-3V335h-2V336h-2V337h-3V338h-2V339h-4V340h-11V341h-12V343h-1V344h-1V346h-1V347h-12V346h-17V344h-1V343h-1V342h-1V341h-6V340h-43V341h-23V340h-30V339h-1V338h-1V337h-1V336h-1V334h-1V332h-1V331h-1V329h-1V327h-3V328h-5V329h-3V331h-1V332h-1V334h-1V336h-1V338h-1V339h-1V340h-2V341h-2V342h-2V343h-6V342h-4V341h-4V340h-4V339h-2V338h-3V337h-1V336h-1V335h-1V334h-1V333h-1V332h-1V331h-1V332h-2V333h-2V334h-2V335h-2V337h-1V339h-1V341h-1V343h-1V344h-1V346h-2V347h-8V346h-1V345h-1V344h-2V343h-1V342h-2V340h-1V339h-1V338h-1V337h-1V336h-1V334h-1V333h-1V332h-2V331h-4V330h-4V329h-4V328h-3V327h-4V326h-3V325h-2V324h-2V323h-2V322h-2V321h-1V320h-2V319h-2V318h-2V317h-4V316h-8V315h-6V314h-1V313h-1V312h-1z"/>
<path fill="#800000" d="M0 344V344h1V336h17V340h1V336h4V344h5V336h3V344h2V348h1V352h7V348h2V344h1V348h1V356h1V352h1V348h5V352h1V356h1V360h2V356h4V360h2V364h1V360h2V356h1V369h1V360h1V364h3V369h3V364h1V369h1V360h5V364h8V360h1V364h1V373h1V356h4V360h1V356h4V364h2V360h5V364h1V360h4V364h1V373h1V360h3V373h2V360h2V356h1V364h1V369h1V364h1V356h1V364h4V360h5V356h4V360h2V356h1V360h1V352h2V360h8V364h3V381h1V373h1V360h1V364h2V369h2V377h2V364h3V369h4V360h2V381h1V360h1V364h5V373h1V364h1V381h1V356h1V364h1V360h5V369h2V360h4V364h1V356h3V364h1V373h1V364h6V360h4V356h1V360h2V364h1V360h3V364h2V373h1V360h3V364h1V360h2V356h1V360h4V364h3V360h6V369h1V360h3V373h1V364h2V356h1V364h1V356h5V360h6V369h2V360h1V369h5V364h3V381h1V364h4V360h7V364h2V369h1V385h1V369h3V360h1V364h2V373h1V364h6V369h1V381h1V369h7V364h1V360h8V369h3V364h3V369h1V364h2V360h1V364h1V360h1V364h3V381h1V364h9V352h1V360h3V373h1V360h3V364h1V369h1V352h4V356h1V352h1V356h1V360h2V356h7V352h1V360h2V352h1V356h1V352h1V356h4V364h1V356h1V352h3V356h3V352h1V360h2V352h1V360h3V356h3V352h2V356h4V360h1V373h1V360h7V364h1V381h1V369h3V377h1V360h1V369h1V381h1V369h1V364h1V360h2V369h5V364h2V360h1V364h1V360h7V364h1V360h6V364h3V369h1V356h5V369h1V356h1V360h4V364h7V356h6V360h2V352h6V360h1V364h1V369h4V360h1V364h5V360h2V364h1V369h11V373h1V360h3V377h1V373h1V356h1V364h1V369h3V377h1V364h1V360h1V364h1V369h1V360h1V364h1V377h1V364h10V360h2V364h1V356h1V360h2V364h4V369h1V364h1V369h1V364h1V360h4V352h2V348h2V360h1V356h1V360h1V364h1V369h2V373h1V377h1V369h3V377h1V385h1V373h1V377h1V385h1V377h4V373h2V389h1V373h2V385h1V373h1V369h3V385h1V373h1V364h1V369h1V373h3V369h1V373h3V369h4V381h1V373h8V369h2V377h1V373h1V369h1V381h1V369h2V364h1V381h1V369h4V373h3V364h1V369h2V373h3V369h2V364h5V369h4V360h3V364h1V377h2V373h1V369h4V377h6V369h3V373h4V369h2V381h1V369h1V381h1V373h1V377h1V393h1V385h1V377h1V381h1V393h1V381h1V385h3V397h1V385h6V397h1V385h1V381h1V406h1V393h1V377h1V397h1V385h3V389h1V385h1V401h1V381h4V385h1V397h1V381h3V385h2V381h1V385h3V381h3V389h3V381h2V393h1V385h1V389h1V385h2V381h3V385h2V389h2V377h3V410h1V389h5V397h1V385h5V397h1V385h1V397h1V385h1V389h1V381h2V377h4V385h1V381h3V373h1V385h1V381h1V385h1V381h3V393h1V381h1V377h1V381h1V377h1V381h1V389h1V373h1V381h2V377h4V373h8V377h4V397h1V393h4V406h1V393h7V389h2V393h1V389h8V393h5V401h1V393h3V389h1V393h1V397h1V414h1V397h2V406h1V397h9V401h1V393h3V389h4V393h1V389h2V393h2V389h3V397h9V393h2V406h1V410h1V393h7V397h1V389h3V385h1V393h2V381h6V393h1V385h4V397h1V385h4V389h1V385h5V381h3V385h1V401h1V385h1V389h1V385h10V389h2V401h1V389h1V377h4V381h3V389h1V397h1V381h1V389h1V381h1V421h-1V413h-1V421h-1V413h-1V429h-2V421h-1V425h-3V429h-1V421h-3V413h-1V421h-3V409h-2V425h-2V413h-1V421h-2V405h-1V429h-1V425h-1V429h-2V421h-1V429h-1V425h-1V417h-3V429h-1V425h-3V409h-1V425h-3V421h-1V429h-1V421h-1V425h-2V434h-1V429h-1V413h-1V425h-1V429h-1V434h-1V429h-1V421h-1V417h-1V434h-2V429h-1V434h-1V429h-5V434h-4V429h-1V434h-1V425h-1V434h-1V429h-1V434h-3V421h-1V425h-1V429h-2V434h-1V425h-1V429h-1V434h-14V425h-1V434h-1V421h-1V417h-1V434h-3V417h-1V429h-1V434h-1V425h-1V434h-2V421h-1V434h-1V429h-1V434h-1V425h-1V434h-1V429h-1V421h-1V429h-1V425h-1V434h-1V429h-3V425h-1V421h-1V429h-2V434h-3V429h-1V425h-1V434h-1V425h-2V429h-1V425h-1V421h-1V417h-1V405h-1V409h-1V405h-3V392h-1V405h-1V413h-1V421h-2V417h-1V409h-1V413h-1V417h-1V421h-1V429h-1V425h-2V429h-1V417h-1V429h-1V425h-1V429h-2V421h-1V405h-1V434h-1V429h-1V417h-1V413h-1V409h-1V425h-1V429h-1V421h-1V425h-1V421h-1V429h-1V434h-4V425h-2V429h-1V421h-1V425h-2V421h-1V425h-2V434h-1V425h-1V434h-3V429h-1V434h-4V425h-4V429h-1V425h-4V429h-1V413h-1V421h-1V409h-1V425h-1V421h-1V417h-6V409h-1V413h-1V405h-1V413h-1V421h-2V429h-1V421h-1V417h-1V421h-2V425h-1V429h-1V425h-1V434h-1V425h-1V413h-1V421h-3V425h-1V434h-1V421h-1V413h-1V409h-1V417h-4V425h-1V417h-2V421h-2V413h-1V417h-2V413h-2V429h-1V417h-1V413h-1V417h-1V409h-2V397h-1V417h-4V413h-2V409h-2V413h-4V417h-1V405h-1V401h-2V417h-1V397h-1V421h-1V413h-1V417h-1V421h-1V397h-1V413h-1V405h-1V409h-2V397h-1V405h-1V401h-4V397h-1V421h-1V409h-2V405h-3V413h-1V392h-1V409h-1V417h-1V409h-2V388h-2V409h-3V417h-1V409h-2V405h-1V401h-1V392h-1V405h-1V413h-1V409h-3V405h-2V409h-2V401h-1V409h-1V417h-1V409h-1V413h-2V397h-1V413h-1V409h-4V417h-1V397h-1V417h-1V401h-1V392h-1V409h-1V401h-1V405h-2V409h-1V417h-3V405h-3V417h-1V409h-1V405h-3V413h-4V405h-1V421h-1V413h-1V409h-3V392h-1V413h-1V409h-3V401h-1V409h-1V401h-1V409h-3V405h-1V401h-1V405h-4V401h-3V409h-3V421h-1V401h-1V405h-3V397h-1V409h-1V405h-1V409h-1V405h-2V392h-1V405h-1V392h-1V405h-1V392h-1V405h-1V388h-1V405h-2V413h-1V405h-1V384h-1V405h-1V401h-3V384h-1V409h-1V405h-1V401h-1V405h-1V380h-1V397h-1V388h-1V405h-4V392h-1V401h-2V405h-2V401h-1V392h-3V409h-1V401h-1V405h-1V401h-1V409h-1V380h-1V397h-1V405h-1V392h-1V405h-1V409h-1V392h-2V409h-1V401h-1V392h-1V401h-2V405h-2V409h-1V413h-1V417h-1V421h-1V425h-4V417h-3V413h-1V421h-1V425h-2V413h-3V421h-1V413h-1V401h-1V409h-1V425h-2V413h-5V417h-1V409h-1V413h-3V409h-1V413h-2V405h-1V409h-1V392h-1V397h-1V409h-5V417h-1V413h-1V417h-1V405h-2V413h-1V421h-1V425h-1V409h-1V425h-1V421h-1V409h-2V405h-1V388h-1V409h-1V401h-1V409h-2V397h-1V409h-1V413h-1V429h-2V425h-1V429h-1V413h-1V425h-2V421h-1V417h-1V409h-1V429h-1V413h-1V409h-5V413h-1V401h-1V421h-1V405h-1V409h-1V401h-1V409h-2V405h-1V380h-1V397h-1V417h-1V409h-1V388h-1V401h-1V409h-1V405h-3V413h-1V388h-1V405h-2V401h-1V392h-1V409h-2V384h-1V397h-1V380h-1V401h-2V392h-1V401h-1V405h-1V413h-1V405h-1V413h-1V405h-3V397h-1V405h-2V392h-1V409h-1V401h-1V409h-1V384h-1V397h-1V413h-1V401h-1V405h-2V413h-1V392h-1V405h-1V392h-1V401h-1V405h-2V401h-1V384h-1V401h-1V392h-1V401h-1V397h-1V413h-1V405h-3V401h-1V384h-1V397h-1V409h-1V413h-1V405h-2V417h-2V401h-1V413h-1V405h-1V413h-1V388h-1V405h-2V425h-1V397h-2V421h-1V397h-1V413h-1V405h-1V409h-2V401h-1V409h-1V401h-1V409h-1V405h-3V409h-3V388h-1V409h-1V405h-1V413h-1V405h-1V392h-1V409h-2V392h-1V413h-1V405h-2V401h-1V409h-2V388h-1V409h-1V401h-1V384h-1V401h-1V409h-1V405h-1V392h-1V413h-1V401h-1V384h-2V401h-4V397h-2V401h-2V384h-1V401h-1V405h-1V397h-2V401h-1V397h-2V388h-1V401h-1V409h-1V388h-1V392h-1V397h-1V401h-2V397h-1V388h-1V397h-2V409h-1V392h-1V413h-1V405h-1V401h-2V384h-1V397h-3V405h-2V384h-1V392h-1V405h-1V388h-1V397h-1V392h-1V405h-1V392h-1V405h-3V397h-1V388h-1V392h-1V401h-1V384h-1V397h-1V401h-2V388h-1V392h-1V401h-1V384h-1V392h-2V384h-1V401h-1V392h-2V376h-1V392h-1V401h-1V376h-1V397h-1V401h-6V392h-1V401h-1V409h-1V401h-1V392h-1V397h-1V384h-1V392h-1V401h-6V409h-1V397h-1V388h-1V384h-1V392h-3V405h-1V392h-1V384h-1V409h-1V377h-1V392h-1V401h-1V384h-1V401h-1V397h-2V405h-1V384h-1V401h-1V413h-1V401h-1V413h-2V401h-1V384h-1V388h-1V397h-1V384h-1V397h-1V413h-2V401h-1V409h-1V401h-3V405h-1V401h-4V397h-1V405h-2V392h-1V405h-2V401h-1V392h-1V405h-1V409h-1V429h-1V405h-1V409h-3V384h-2V405h-1V392h-1V405h-2V392h-1V405h-3V409h-1V397h-1V429h-1V401h-1V409h-2V429h-1V421h-1V425h-2V421h-1V429h-1V421h-1V405h-2V421h-1V425h-1V429h-1V425h-3V429h-1V425h-1V429h-1V405h-2V397h-1V405h-2V401h-1V405h-1V401h-3V409h-1V388h-1V405h-4V429h-1V425h-2V405h-1V425h-1V380h-1V388h-1V397h-2V380h-1V397h-2V405h-3V421h-1V405h-1V409h-1V401h-1V376h-1V388h-1V372h-1V388h-1V384h-2V376h-1V388h-1V384h-6V397h-1V392h-1V384h-2V388h-1V392h-1V376h-1V384h-2V388h-1V384h-1V380h-1V388h-1V384h-1V380h-1V372h-1V380h-1V372h-1V368h-1V364h-1V380h-1V372h-1V380h-1V388h-2V384h-1V376h-1V384h-1V388h-4V380h-1V372h-1V388h-1z"/>
<g fill="url(#u)">
<path d="M0 309h1v37h-1z"/>
<path d="M1 309h1v28h-1z"/>
<path d="M2 300h1v37h-1z"/>
<path d="M3 304h1v33h-1z"/>
<path d="M4 292h1v45h-1z"/>
<path d="M5 292h1v45h-1z"/>
<path d="M6 296h1v41h-1z"/>
<path d="M7 296h1v41h-1z"/>
<path d="M8 300h1v37h-1z"/>
<path d="M9 313h1v24h-1z"/>
<path d="M10 304h1v33h-1z"/>
<path d="M11 304h1v33h-1z"/>
<path d="M12 309h1v28h-1z"/>
<path d="M13 304h1v33h-1z"/>
<path d="M14 304h1v33h-1z"/>
<path d="M15 296h1v41h-1z"/>
<path d="M16 296h1v41h-1z"/>
<path d="M17 300h1v37h-1z"/>
<path d="M18 300h1v41h-1z"/>
<path d="M19 300h1v37h-1z"/>
<path d="M20 300h1v37h-1z"/>
<path d="M21 300h1v37h-1z"/>
<path d="M22 296h1v41h-1z"/>
<path d="M23 304h1v42h-1z"/>
<path d="M24 313h1v33h-1z"/>
<path d="M25 313h1v33h-1z"/>
<path d="M26 313h1v33h-1z"/>
<path d="M27 313h1v33h-1z"/>
<path d="M28 313h1v24h-1z"/>
<path d="M29 309h1v28h-1z"/>
<path d="M30 317h1v20h-1z"/>
<path d="M31 317h1v29h-1z"/>
<path d="M32 317h1v29h-1z"/>
<path d="M33 300h1v50h-1z"/>
<path d="M34 313h1v41h-1z"/>
<path d="M35 313h1v41h-1z"/>
<path d="M36 304h1v50h-1z"/>
<path d="M37 313h1v41h-1z"/>
<path d="M38 313h1v41h-1z"/>
<path d="M39 321h1v33h-1z"/>
<path d="M40 321h1v33h-1z"/>
<path d="M41 317h1v33h-1z"/>
<path d="M42 313h1v37h-1z"/>
<path d="M43 313h1v33h-1z"/>
<path d="M44 325h1v25h-1z"/>
<path d="M45 329h1v29h-1z"/>
<path d="M46 329h1v25h-1z"/>
<path d="M47 313h1v37h-1z"/>
<path d="M48 313h1v37h-1z"/>
<path d="M49 313h1v37h-1z"/>
<path d="M50 317h1v33h-1z"/>
<path d="M51 333h1v17h-1z"/>
<path d="M52 333h1v21h-1z"/>
<path d="M53 333h1v25h-1z"/>
<path d="M54 321h1v41h-1z"/>
<path d="M55 317h1v45h-1z"/>
<path d="M56 317h1v41h-1z"/>
<path d="M57 325h1v33h-1z"/>
<path d="M58 325h1v33h-1z"/>
<path d="M59 321h1v37h-1z"/>
<path d="M60 321h1v41h-1z"/>
<path d="M61 321h1v41h-1z"/>
<path d="M62 309h1v57h-1z"/>
<path d="M63 325h1v37h-1z"/>
<path d="M64 325h1v37h-1z"/>
<path d="M65 325h1v33h-1z"/>
<path d="M66 329h1v41h-1z"/>
<path d="M67 325h1v37h-1z"/>
<path d="M68 325h1v41h-1z"/>
<path d="M69 333h1v33h-1z"/>
<path d="M70 333h1v33h-1z"/>
<path d="M71 333h1v37h-1z"/>
<path d="M72 346h1v24h-1z"/>
<path d="M73 354h1v16h-1z"/>
<path d="M74 321h1v45h-1z"/>
<path d="M75 329h1v41h-1z"/>
<path d="M76 333h1v29h-1z"/>
<path d="M77 333h1v29h-1z"/>
<path d="M78 341h1v21h-1z"/>
<path d="M79 325h1v37h-1z"/>
<path d="M80 325h1v37h-1z"/>
<path d="M81 337h1v29h-1z"/>
<path d="M82 329h1v37h-1z"/>
<path d="M83 329h1v37h-1z"/>
<path d="M84 329h1v37h-1z"/>
<path d="M85 325h1v41h-1z"/>
<path d="M86 313h1v53h-1z"/>
<path d="M87 333h1v33h-1z"/>
<path d="M88 333h1v33h-1z"/>
<path d="M89 333h1v29h-1z"/>
<path d="M90 329h1v37h-1z"/>
<path d="M91 321h1v53h-1z"/>
<path d="M92 317h1v41h-1z"/>
<path d="M93 313h1v45h-1z"/>
<path d="M94 313h1v45h-1z"/>
<path d="M95 313h1v45h-1z"/>
<path d="M96 309h1v53h-1z"/>
<path d="M97 309h1v49h-1z"/>
<path d="M98 309h1v49h-1z"/>
<path d="M99 329h1v29h-1z"/>
<path d="M100 329h1v29h-1z"/>
<path d="M101 329h1v37h-1z"/>
<path d="M102 321h1v45h-1z"/>
<path d="M103 321h1v41h-1z"/>
<path d="M104 333h1v29h-1z"/>
<path d="M105 325h1v37h-1z"/>
<path d="M106 325h1v37h-1z"/>
<path d="M107 325h1v37h-1z"/>
<path d="M108 325h1v41h-1z"/>
<path d="M109 329h1v33h-1z"/>
<path d="M110 329h1v33h-1z"/>
<path d="M111 329h1v33h-1z"/>
<path d="M112 329h1v33h-1z"/>
<path d="M113 333h1v33h-1z"/>
<path d="M114 325h1v49h-1z"/>
<path d="M115 329h1v33h-1z"/>
<path d="M116 341h1v21h-1z"/>
<path d="M117 341h1v21h-1z"/>
<path d="M118 329h1v45h-1z"/>
<path d="M119 325h1v49h-1z"/>
<path d="M120 329h1v33h-1z"/>
<path d="M121 333h1v29h-1z"/>
<path d="M122 329h1v29h-1z"/>
<path d="M123 329h1v37h-1z"/>
<path d="M124 333h1v37h-1z"/>
<path d="M125 341h1v25h-1z"/>
<path d="M126 321h1v37h-1z"/>
<path d="M127 317h1v49h-1z"/>
<path d="M128 333h1v33h-1z"/>
<path d="M129 325h1v41h-1z"/>
<path d="M130 325h1v41h-1z"/>
<path d="M131 325h1v37h-1z"/>
<path d="M132 321h1v41h-1z"/>
<path d="M133 321h1v41h-1z"/>
<path d="M134 317h1v45h-1z"/>
<path d="M135 304h1v58h-1z"/>
<path d="M136 329h1v29h-1z"/>
<path d="M137 317h1v41h-1z"/>
<path d="M138 321h1v37h-1z"/>
<path d="M139 321h1v37h-1z"/>
<path d="M140 317h1v45h-1z"/>
<path d="M141 309h1v53h-1z"/>
<path d="M142 321h1v37h-1z"/>
<path d="M143 321h1v41h-1z"/>
<path d="M144 313h1v41h-1z"/>
<path d="M145 313h1v41h-1z"/>
<path d="M146 304h1v58h-1z"/>
<path d="M147 309h1v53h-1z"/>
<path d="M148 309h1v53h-1z"/>
<path d="M149 317h1v45h-1z"/>
<path d="M150 317h1v45h-1z"/>
<path d="M151 321h1v41h-1z"/>
<path d="M152 329h1v33h-1z"/>
<path d="M153 329h1v33h-1z"/>
<path d="M154 333h1v33h-1z"/>
<path d="M155 325h1v41h-1z"/>
<path d="M156 329h1v37h-1z"/>
<path d="M157 329h1v54h-1z"/>
<path d="M158 321h1v53h-1z"/>
<path d="M159 321h1v41h-1z"/>
<path d="M160 333h1v33h-1z"/>
<path d="M161 333h1v33h-1z"/>
<path d="M162 333h1v37h-1z"/>
<path d="M163 325h1v45h-1z"/>
<path d="M164 329h1v49h-1z"/>
<path d="M165 329h1v49h-1z"/>
<path d="M166 329h1v37h-1z"/>
<path d="M167 325h1v41h-1z"/>
<path d="M168 333h1v33h-1z"/>
<path d="M169 329h1v41h-1z"/>
<path d="M170 329h1v41h-1z"/>
<path d="M171 325h1v45h-1z"/>
<path d="M172 333h1v37h-1z"/>
<path d="M173 329h1v33h-1z"/>
<path d="M174 329h1v33h-1z"/>
<path d="M175 329h1v54h-1z"/>
<path d="M176 333h1v29h-1z"/>
<path d="M177 333h1v33h-1z"/>
<path d="M178 329h1v37h-1z"/>
<path d="M179 325h1v41h-1z"/>
<path d="M180 321h1v45h-1z"/>
<path d="M181 329h1v37h-1z"/>
<path d="M182 329h1v45h-1z"/>
<path d="M183 321h1v45h-1z"/>
<path d="M184 321h1v62h-1z"/>
<path d="M185 325h1v33h-1z"/>
<path d="M186 325h1v41h-1z"/>
<path d="M187 333h1v29h-1z"/>
<path d="M188 333h1v29h-1z"/>
<path d="M189 333h1v29h-1z"/>
<path d="M190 333h1v29h-1z"/>
<path d="M191 329h1v33h-1z"/>
<path d="M192 346h1v24h-1z"/>
<path d="M193 329h1v41h-1z"/>
<path d="M194 325h1v37h-1z"/>
<path d="M195 321h1v41h-1z"/>
<path d="M196 325h1v37h-1z"/>
<path d="M197 313h1v49h-1z"/>
<path d="M198 321h1v45h-1z"/>
<path d="M199 321h1v37h-1z"/>
<path d="M200 321h1v37h-1z"/>
<path d="M201 337h1v21h-1z"/>
<path d="M202 325h1v41h-1z"/>
<path d="M203 325h1v49h-1z"/>
<path d="M204 333h1v33h-1z"/>
<path d="M205 325h1v41h-1z"/>
<path d="M206 325h1v41h-1z"/>
<path d="M207 329h1v37h-1z"/>
<path d="M208 329h1v37h-1z"/>
<path d="M209 329h1v37h-1z"/>
<path d="M210 329h1v33h-1z"/>
<path d="M211 329h1v33h-1z"/>
<path d="M212 325h1v37h-1z"/>
<path d="M213 341h1v21h-1z"/>
<path d="M214 329h1v29h-1z"/>
<path d="M215 337h1v25h-1z"/>
<path d="M216 329h1v33h-1z"/>
<path d="M217 325h1v41h-1z"/>
<path d="M218 329h1v33h-1z"/>
<path d="M219 329h1v33h-1z"/>
<path d="M220 329h1v33h-1z"/>
<path d="M221 317h1v49h-1z"/>
<path d="M222 333h1v33h-1z"/>
<path d="M223 333h1v41h-1z"/>
<path d="M224 337h1v25h-1z"/>
<path d="M225 329h1v33h-1z"/>
<path d="M226 325h1v37h-1z"/>
<path d="M227 333h1v33h-1z"/>
<path d="M228 333h1v29h-1z"/>
<path d="M229 325h1v37h-1z"/>
<path d="M230 337h1v21h-1z"/>
<path d="M231 329h1v33h-1z"/>
<path d="M232 329h1v33h-1z"/>
<path d="M233 329h1v33h-1z"/>
<path d="M234 329h1v33h-1z"/>
<path d="M235 333h1v33h-1z"/>
<path d="M236 333h1v33h-1z"/>
<path d="M237 333h1v33h-1z"/>
<path d="M238 317h1v45h-1z"/>
<path d="M239 333h1v29h-1z"/>
<path d="M240 317h1v45h-1z"/>
<path d="M241 325h1v37h-1z"/>
<path d="M242 325h1v37h-1z"/>
<path d="M243 325h1v37h-1z"/>
<path d="M244 321h1v49h-1z"/>
<path d="M245 321h1v41h-1z"/>
<path d="M246 317h1v45h-1z"/>
<path d="M247 329h1v33h-1z"/>
<path d="M248 337h1v37h-1z"/>
<path d="M249 346h1v20h-1z"/>
<path d="M250 346h1v20h-1z"/>
<path d="M251 325h1v33h-1z"/>
<path d="M252 325h1v41h-1z"/>
<path d="M253 329h1v29h-1z"/>
<path d="M254 329h1v29h-1z"/>
<path d="M255 333h1v25h-1z"/>
<path d="M256 329h1v29h-1z"/>
<path d="M257 325h1v33h-1z"/>
<path d="M258 337h1v25h-1z"/>
<path d="M259 325h1v37h-1z"/>
<path d="M260 337h1v25h-1z"/>
<path d="M261 333h1v29h-1z"/>
<path d="M262 333h1v29h-1z"/>
<path d="M263 337h1v25h-1z"/>
<path d="M264 341h1v29h-1z"/>
<path d="M265 341h1v29h-1z"/>
<path d="M266 333h1v29h-1z"/>
<path d="M267 341h1v29h-1z"/>
<path d="M268 317h1v53h-1z"/>
<path d="M269 337h1v33h-1z"/>
<path d="M270 337h1v33h-1z"/>
<path d="M271 337h1v33h-1z"/>
<path d="M272 341h1v25h-1z"/>
<path d="M273 350h1v16h-1z"/>
<path d="M274 337h1v29h-1z"/>
<path d="M275 333h1v50h-1z"/>
<path d="M276 341h1v25h-1z"/>
<path d="M277 333h1v33h-1z"/>
<path d="M278 341h1v25h-1z"/>
<path d="M279 341h1v25h-1z"/>
<path d="M280 333h1v29h-1z"/>
<path d="M281 333h1v29h-1z"/>
<path d="M282 333h1v29h-1z"/>
<path d="M283 337h1v25h-1z"/>
<path d="M284 329h1v33h-1z"/>
<path d="M285 337h1v25h-1z"/>
<path d="M286 333h1v29h-1z"/>
<path d="M287 333h1v33h-1z"/>
<path d="M288 337h1v29h-1z"/>
<path d="M289 341h1v29h-1z"/>
<path d="M290 329h1v58h-1z"/>
<path d="M291 341h1v29h-1z"/>
<path d="M292 337h1v33h-1z"/>
<path d="M293 337h1v33h-1z"/>
<path d="M294 325h1v37h-1z"/>
<path d="M295 329h1v37h-1z"/>
<path d="M296 341h1v25h-1z"/>
<path d="M297 325h1v49h-1z"/>
<path d="M298 317h1v49h-1z"/>
<path d="M299 317h1v49h-1z"/>
<path d="M300 333h1v33h-1z"/>
<path d="M301 329h1v37h-1z"/>
<path d="M302 325h1v41h-1z"/>
<path d="M303 325h1v41h-1z"/>
<path d="M304 329h1v41h-1z"/>
<path d="M305 333h1v50h-1z"/>
<path d="M306 325h1v45h-1z"/>
<path d="M307 325h1v45h-1z"/>
<path d="M308 337h1v33h-1z"/>
<path d="M309 329h1v41h-1z"/>
<path d="M310 325h1v45h-1z"/>
<path d="M311 329h1v41h-1z"/>
<path d="M312 325h1v45h-1z"/>
<path d="M313 321h1v45h-1z"/>
<path d="M314 325h1v37h-1z"/>
<path d="M315 329h1v33h-1z"/>
<path d="M316 337h1v25h-1z"/>
<path d="M317 325h1v37h-1z"/>
<path d="M318 317h1v45h-1z"/>
<path d="M319 317h1v45h-1z"/>
<path d="M320 313h1v49h-1z"/>
<path d="M321 325h1v37h-1z"/>
<path d="M322 317h1v53h-1z"/>
<path d="M323 317h1v53h-1z"/>
<path d="M324 325h1v45h-1z"/>
<path d="M325 321h1v45h-1z"/>
<path d="M326 329h1v37h-1z"/>
<path d="M327 321h1v45h-1z"/>
<path d="M328 329h1v41h-1z"/>
<path d="M329 325h1v41h-1z"/>
<path d="M330 325h1v41h-1z"/>
<path d="M331 325h1v37h-1z"/>
<path d="M332 333h1v33h-1z"/>
<path d="M333 325h1v37h-1z"/>
<path d="M334 325h1v41h-1z"/>
<path d="M335 325h1v41h-1z"/>
<path d="M336 325h1v41h-1z"/>
<path d="M337 317h1v66h-1z"/>
<path d="M338 317h1v49h-1z"/>
<path d="M339 313h1v53h-1z"/>
<path d="M340 325h1v41h-1z"/>
<path d="M341 317h1v49h-1z"/>
<path d="M342 317h1v49h-1z"/>
<path d="M343 325h1v41h-1z"/>
<path d="M344 329h1v37h-1z"/>
<path d="M345 317h1v49h-1z"/>
<path d="M346 325h1v41h-1z"/>
<path d="M347 304h1v50h-1z"/>
<path d="M348 317h1v45h-1z"/>
<path d="M349 321h1v41h-1z"/>
<path d="M350 321h1v41h-1z"/>
<path d="M351 304h1v70h-1z"/>
<path d="M352 304h1v58h-1z"/>
<path d="M353 317h1v45h-1z"/>
<path d="M354 321h1v41h-1z"/>
<path d="M355 321h1v45h-1z"/>
<path d="M356 317h1v53h-1z"/>
<path d="M357 317h1v37h-1z"/>
<path d="M358 317h1v37h-1z"/>
<path d="M359 317h1v37h-1z"/>
<path d="M360 304h1v50h-1z"/>
<path d="M361 304h1v54h-1z"/>
<path d="M362 317h1v37h-1z"/>
<path d="M363 321h1v37h-1z"/>
<path d="M364 321h1v41h-1z"/>
<path d="M365 317h1v45h-1z"/>
<path d="M366 317h1v41h-1z"/>
<path d="M367 321h1v37h-1z"/>
<path d="M368 329h1v29h-1z"/>
<path d="M369 313h1v45h-1z"/>
<path d="M370 317h1v41h-1z"/>
<path d="M371 309h1v49h-1z"/>
<path d="M372 309h1v49h-1z"/>
<path d="M373 317h1v37h-1z"/>
<path d="M374 317h1v45h-1z"/>
<path d="M375 317h1v45h-1z"/>
<path d="M376 309h1v45h-1z"/>
<path d="M377 309h1v49h-1z"/>
<path d="M378 309h1v45h-1z"/>
<path d="M379 309h1v49h-1z"/>
<path d="M380 317h1v41h-1z"/>
<path d="M381 317h1v41h-1z"/>
<path d="M382 317h1v41h-1z"/>
<path d="M383 329h1v37h-1z"/>
<path d="M384 317h1v41h-1z"/>
<path d="M385 317h1v37h-1z"/>
<path d="M386 321h1v33h-1z"/>
<path d="M387 313h1v41h-1z"/>
<path d="M388 317h1v41h-1z"/>
<path d="M389 313h1v45h-1z"/>
<path d="M390 321h1v37h-1z"/>
<path d="M391 321h1v33h-1z"/>
<path d="M392 313h1v49h-1z"/>
<path d="M393 313h1v49h-1z"/>
<path d="M394 313h1v41h-1z"/>
<path d="M395 317h1v45h-1z"/>
<path d="M396 317h1v45h-1z"/>
<path d="M397 317h1v45h-1z"/>
<path d="M398 321h1v37h-1z"/>
<path d="M399 329h1v29h-1z"/>
<path d="M400 329h1v29h-1z"/>
<path d="M401 325h1v29h-1z"/>
<path d="M402 317h1v37h-1z"/>
<path d="M403 317h1v41h-1z"/>
<path d="M404 321h1v37h-1z"/>
<path d="M405 329h1v29h-1z"/>
<path d="M406 309h1v49h-1z"/>
<path d="M407 313h1v49h-1z"/>
<path d="M408 313h1v61h-1z"/>
<path d="M409 313h1v49h-1z"/>
<path d="M410 313h1v49h-1z"/>
<path d="M411 337h1v25h-1z"/>
<path d="M412 337h1v25h-1z"/>
<path d="M413 313h1v49h-1z"/>
<path d="M414 313h1v49h-1z"/>
<path d="M415 329h1v33h-1z"/>
<path d="M416 329h1v37h-1z"/>
<path d="M417 329h1v54h-1z"/>
<path d="M418 341h1v29h-1z"/>
<path d="M419 346h1v24h-1z"/>
<path d="M420 346h1v24h-1z"/>
<path d="M421 346h1v32h-1z"/>
<path d="M422 341h1v21h-1z"/>
<path d="M423 325h1v45h-1z"/>
<path d="M424 337h1v46h-1z"/>
<path d="M425 346h1v24h-1z"/>
<path d="M426 321h1v45h-1z"/>
<path d="M427 341h1v21h-1z"/>
<path d="M428 333h1v29h-1z"/>
<path d="M429 325h1v45h-1z"/>
<path d="M430 325h1v45h-1z"/>
<path d="M431 325h1v45h-1z"/>
<path d="M432 329h1v41h-1z"/>
<path d="M433 333h1v37h-1z"/>
<path d="M434 341h1v25h-1z"/>
<path d="M435 337h1v29h-1z"/>
<path d="M436 333h1v29h-1z"/>
<path d="M437 321h1v45h-1z"/>
<path d="M438 329h1v33h-1z"/>
<path d="M439 321h1v41h-1z"/>
<path d="M440 313h1v49h-1z"/>
<path d="M441 313h1v49h-1z"/>
<path d="M442 313h1v49h-1z"/>
<path d="M443 313h1v49h-1z"/>
<path d="M444 317h1v45h-1z"/>
<path d="M445 317h1v49h-1z"/>
<path d="M446 321h1v41h-1z"/>
<path d="M447 325h1v37h-1z"/>
<path d="M448 325h1v37h-1z"/>
<path d="M449 333h1v29h-1z"/>
<path d="M450 333h1v29h-1z"/>
<path d="M451 325h1v37h-1z"/>
<path d="M452 333h1v33h-1z"/>
<path d="M453 329h1v37h-1z"/>
<path d="M454 329h1v37h-1z"/>
<path d="M455 321h1v49h-1z"/>
<path d="M456 325h1v33h-1z"/>
<path d="M457 325h1v33h-1z"/>
<path d="M458 317h1v41h-1z"/>
<path d="M459 325h1v33h-1z"/>
<path d="M460 321h1v37h-1z"/>
<path d="M461 329h1v41h-1z"/>
<path d="M462 321h1v37h-1z"/>
<path d="M463 321h1v41h-1z"/>
<path d="M464 321h1v41h-1z"/>
<path d="M465 325h1v37h-1z"/>
<path d="M466 329h1v33h-1z"/>
<path d="M467 325h1v41h-1z"/>
<path d="M468 325h1v41h-1z"/>
<path d="M469 317h1v49h-1z"/>
<path d="M470 313h1v53h-1z"/>
<path d="M471 329h1v37h-1z"/>
<path d="M472 317h1v49h-1z"/>
<path d="M473 313h1v53h-1z"/>
<path d="M474 313h1v45h-1z"/>
<path d="M475 313h1v45h-1z"/>
<path d="M476 325h1v33h-1z"/>
<path d="M477 309h1v49h-1z"/>
<path d="M478 309h1v49h-1z"/>
<path d="M479 321h1v37h-1z"/>
<path d="M480 321h1v41h-1z"/>
<path d="M481 317h1v45h-1z"/>
<path d="M482 317h1v37h-1z"/>
<path d="M483 317h1v37h-1z"/>
<path d="M484 317h1v37h-1z"/>
<path d="M485 317h1v37h-1z"/>
<path d="M486 317h1v37h-1z"/>
<path d="M487 309h1v45h-1z"/>
<path d="M488 309h1v53h-1z"/>
<path d="M489 325h1v41h-1z"/>
<path d="M490 325h1v45h-1z"/>
<path d="M491 321h1v49h-1z"/>
<path d="M492 321h1v49h-1z"/>
<path d="M493 321h1v49h-1z"/>
<path d="M494 317h1v45h-1z"/>
<path d="M495 321h1v45h-1z"/>
<path d="M496 321h1v45h-1z"/>
<path d="M497 333h1v33h-1z"/>
<path d="M498 325h1v41h-1z"/>
<path d="M499 325h1v41h-1z"/>
<path d="M500 313h1v49h-1z"/>
<path d="M501 321h1v41h-1z"/>
<path d="M502 346h1v20h-1z"/>
<path d="M503 317h1v53h-1z"/>
<path d="M504 317h1v53h-1z"/>
<path d="M505 321h1v49h-1z"/>
<path d="M506 329h1v41h-1z"/>
<path d="M507 325h1v45h-1z"/>
<path d="M508 321h1v49h-1z"/>
<path d="M509 325h1v45h-1z"/>
<path d="M510 329h1v41h-1z"/>
<path d="M511 317h1v53h-1z"/>
<path d="M512 317h1v53h-1z"/>
<path d="M513 325h1v45h-1z"/>
<path d="M514 317h1v57h-1z"/>
<path d="M515 325h1v37h-1z"/>
<path d="M516 321h1v41h-1z"/>
<path d="M517 317h1v45h-1z"/>
<path d="M518 321h1v57h-1z"/>
<path d="M519 321h1v53h-1z"/>
<path d="M520 321h1v37h-1z"/>
<path d="M521 333h1v33h-1z"/>
<path d="M522 325h1v45h-1z"/>
<path d="M523 325h1v45h-1z"/>
<path d="M524 325h1v45h-1z"/>
<path d="M525 325h1v53h-1z"/>
<path d="M526 333h1v33h-1z"/>
<path d="M527 321h1v41h-1z"/>
<path d="M528 321h1v45h-1z"/>
<path d="M529 321h1v49h-1z"/>
<path d="M530 321h1v41h-1z"/>
<path d="M531 333h1v33h-1z"/>
<path d="M532 333h1v45h-1z"/>
<path d="M533 333h1v33h-1z"/>
<path d="M534 333h1v33h-1z"/>
<path d="M535 337h1v29h-1z"/>
<path d="M536 321h1v45h-1z"/>
<path d="M537 333h1v33h-1z"/>
<path d="M538 321h1v45h-1z"/>
<path d="M539 317h1v49h-1z"/>
<path d="M540 321h1v45h-1z"/>
<path d="M541 333h1v33h-1z"/>
<path d="M542 333h1v33h-1z"/>
<path d="M543 333h1v29h-1z"/>
<path d="M544 325h1v37h-1z"/>
<path d="M545 325h1v41h-1z"/>
<path d="M546 325h1v33h-1z"/>
<path d="M547 325h1v37h-1z"/>
<path d="M548 325h1v37h-1z"/>
<path d="M549 325h1v41h-1z"/>
<path d="M550 325h1v41h-1z"/>
<path d="M551 329h1v37h-1z"/>
<path d="M552 325h1v41h-1z"/>
<path d="M553 341h1v29h-1z"/>
<path d="M554 341h1v25h-1z"/>
<path d="M555 333h1v37h-1z"/>
<path d="M556 333h1v33h-1z"/>
<path d="M557 329h1v33h-1z"/>
<path d="M558 329h1v33h-1z"/>
<path d="M559 333h1v29h-1z"/>
<path d="M560 329h1v33h-1z"/>
<path d="M561 325h1v29h-1z"/>
<path d="M562 321h1v33h-1z"/>
<path d="M563 317h1v33h-1z"/>
<path d="M564 313h1v37h-1z"/>
<path d="M565 317h1v45h-1z"/>
<path d="M566 321h1v37h-1z"/>
<path d="M567 321h1v41h-1z"/>
<path d="M568 329h1v37h-1z"/>
<path d="M569 329h1v41h-1z"/>
<path d="M570 321h1v49h-1z"/>
<path d="M571 337h1v37h-1z"/>
<path d="M572 337h1v41h-1z"/>
<path d="M573 337h1v33h-1z"/>
<path d="M574 341h1v29h-1z"/>
<path d="M575 341h1v29h-1z"/>
<path d="M576 341h1v37h-1z"/>
<path d="M577 337h1v50h-1z"/>
<path d="M578 341h1v33h-1z"/>
<path d="M579 337h1v41h-1z"/>
<path d="M580 329h1v58h-1z"/>
<path d="M581 337h1v41h-1z"/>
<path d="M582 337h1v41h-1z"/>
<path d="M583 337h1v41h-1z"/>
<path d="M584 333h1v45h-1z"/>
<path d="M585 341h1v33h-1z"/>
<path d="M586 337h1v37h-1z"/>
<path d="M587 337h1v54h-1z"/>
<path d="M588 333h1v41h-1z"/>
<path d="M589 329h1v45h-1z"/>
<path d="M590 329h1v58h-1z"/>
<path d="M591 333h1v41h-1z"/>
<path d="M592 346h1v24h-1z"/>
<path d="M593 341h1v29h-1z"/>
<path d="M594 333h1v37h-1z"/>
<path d="M595 333h1v54h-1z"/>
<path d="M596 341h1v33h-1z"/>
<path d="M597 337h1v29h-1z"/>
<path d="M598 341h1v29h-1z"/>
<path d="M599 341h1v33h-1z"/>
<path d="M600 346h1v28h-1z"/>
<path d="M601 346h1v28h-1z"/>
<path d="M602 337h1v33h-1z"/>
<path d="M603 337h1v37h-1z"/>
<path d="M604 337h1v37h-1z"/>
<path d="M605 341h1v33h-1z"/>
<path d="M606 346h1v24h-1z"/>
<path d="M607 346h1v24h-1z"/>
<path d="M608 341h1v29h-1z"/>
<path d="M609 337h1v33h-1z"/>
<path d="M610 337h1v46h-1z"/>
<path d="M611 341h1v33h-1z"/>
<path d="M612 333h1v41h-1z"/>
<path d="M613 333h1v41h-1z"/>
<path d="M614 341h1v33h-1z"/>
<path d="M615 341h1v33h-1z"/>
<path d="M616 341h1v33h-1z"/>
<path d="M617 337h1v37h-1z"/>
<path d="M618 325h1v49h-1z"/>
<path d="M619 337h1v33h-1z"/>
<path d="M620 337h1v33h-1z"/>
<path d="M621 333h1v45h-1z"/>
<path d="M622 337h1v37h-1z"/>
<path d="M623 333h1v37h-1z"/>
<path d="M624 329h1v54h-1z"/>
<path d="M625 333h1v37h-1z"/>
<path d="M626 333h1v37h-1z"/>
<path d="M627 333h1v33h-1z"/>
<path d="M628 333h1v50h-1z"/>
<path d="M629 337h1v33h-1z"/>
<path d="M630 329h1v41h-1z"/>
<path d="M631 329h1v41h-1z"/>
<path d="M632 333h1v37h-1z"/>
<path d="M633 333h1v41h-1z"/>
<path d="M634 333h1v41h-1z"/>
<path d="M635 329h1v45h-1z"/>
<path d="M636 333h1v33h-1z"/>
<path d="M637 333h1v37h-1z"/>
<path d="M638 329h1v41h-1z"/>
<path d="M639 329h1v45h-1z"/>
<path d="M640 333h1v41h-1z"/>
<path d="M641 329h1v45h-1z"/>
<path d="M642 317h1v53h-1z"/>
<path d="M643 325h1v45h-1z"/>
<path d="M644 325h1v41h-1z"/>
<path d="M645 333h1v33h-1z"/>
<path d="M646 325h1v41h-1z"/>
<path d="M647 337h1v29h-1z"/>
<path d="M648 325h1v41h-1z"/>
<path d="M649 333h1v37h-1z"/>
<path d="M650 317h1v53h-1z"/>
<path d="M651 317h1v53h-1z"/>
<path d="M652 321h1v49h-1z"/>
<path d="M653 321h1v41h-1z"/>
<path d="M654 337h1v25h-1z"/>
<path d="M655 329h1v33h-1z"/>
<path d="M656 333h1v33h-1z"/>
<path d="M657 329h1v49h-1z"/>
<path d="M658 329h1v49h-1z"/>
<path d="M659 341h1v33h-1z"/>
<path d="M660 346h1v24h-1z"/>
<path d="M661 341h1v29h-1z"/>
<path d="M662 341h1v29h-1z"/>
<path d="M663 325h1v45h-1z"/>
<path d="M664 337h1v41h-1z"/>
<path d="M665 337h1v41h-1z"/>
<path d="M666 337h1v41h-1z"/>
<path d="M667 337h1v41h-1z"/>
<path d="M668 333h1v45h-1z"/>
<path d="M669 333h1v45h-1z"/>
<path d="M670 333h1v37h-1z"/>
<path d="M671 346h1v24h-1z"/>
<path d="M672 337h1v33h-1z"/>
<path d="M673 333h1v41h-1z"/>
<path d="M674 325h1v49h-1z"/>
<path d="M675 341h1v33h-1z"/>
<path d="M676 341h1v33h-1z"/>
<path d="M677 329h1v41h-1z"/>
<path d="M678 329h1v41h-1z"/>
<path d="M679 329h1v54h-1z"/>
<path d="M680 333h1v37h-1z"/>
<path d="M681 333h1v50h-1z"/>
<path d="M682 333h1v41h-1z"/>
<path d="M683 333h1v45h-1z"/>
<path d="M684 337h1v58h-1z"/>
<path d="M685 333h1v54h-1z"/>
<path d="M686 358h1v20h-1z"/>
<path d="M687 350h1v33h-1z"/>
<path d="M688 337h1v58h-1z"/>
<path d="M689 346h1v37h-1z"/>
<path d="M690 354h1v33h-1z"/>
<path d="M691 346h1v41h-1z"/>
<path d="M692 341h1v46h-1z"/>
<path d="M693 354h1v45h-1z"/>
<path d="M694 354h1v33h-1z"/>
<path d="M695 350h1v37h-1z"/>
<path d="M696 350h1v37h-1z"/>
<path d="M697 350h1v37h-1z"/>
<path d="M698 341h1v46h-1z"/>
<path d="M699 341h1v46h-1z"/>
<path d="M700 341h1v58h-1z"/>
<path d="M701 346h1v41h-1z"/>
<path d="M702 358h1v25h-1z"/>
<path d="M703 362h1v45h-1z"/>
<path d="M704 362h1v33h-1z"/>
<path d="M705 350h1v28h-1z"/>
<path d="M706 350h1v49h-1z"/>
<path d="M707 350h1v37h-1z"/>
<path d="M708 358h1v29h-1z"/>
<path d="M709 333h1v54h-1z"/>
<path d="M710 333h1v58h-1z"/>
<path d="M711 354h1v33h-1z"/>
<path d="M712 354h1v49h-1z"/>
<path d="M713 354h1v29h-1z"/>
<path d="M714 354h1v29h-1z"/>
<path d="M715 350h1v33h-1z"/>
<path d="M716 350h1v33h-1z"/>
<path d="M717 354h1v33h-1z"/>
<path d="M718 337h1v62h-1z"/>
<path d="M719 350h1v33h-1z"/>
<path d="M720 358h1v25h-1z"/>
<path d="M721 346h1v37h-1z"/>
<path d="M722 354h1v33h-1z"/>
<path d="M723 354h1v33h-1z"/>
<path d="M724 350h1v33h-1z"/>
<path d="M725 350h1v37h-1z"/>
<path d="M726 350h1v37h-1z"/>
<path d="M727 358h1v29h-1z"/>
<path d="M728 358h1v25h-1z"/>
<path d="M729 346h1v37h-1z"/>
<path d="M730 350h1v33h-1z"/>
<path d="M731 350h1v41h-1z"/>
<path d="M732 354h1v37h-1z"/>
<path d="M733 362h1v29h-1z"/>
<path d="M734 358h1v25h-1z"/>
<path d="M735 341h1v42h-1z"/>
<path d="M736 354h1v41h-1z"/>
<path d="M737 354h1v33h-1z"/>
<path d="M738 354h1v37h-1z"/>
<path d="M739 354h1v33h-1z"/>
<path d="M740 354h1v33h-1z"/>
<path d="M741 354h1v29h-1z"/>
<path d="M742 350h1v33h-1z"/>
<path d="M743 350h1v33h-1z"/>
<path d="M744 354h1v33h-1z"/>
<path d="M745 350h1v37h-1z"/>
<path d="M746 350h1v41h-1z"/>
<path d="M747 350h1v41h-1z"/>
<path d="M748 341h1v37h-1z"/>
<path d="M749 350h1v28h-1z"/>
<path d="M750 350h1v28h-1z"/>
<path d="M751 350h1v61h-1z"/>
<path d="M752 350h1v41h-1z"/>
<path d="M753 358h1v33h-1z"/>
<path d="M754 362h1v29h-1z"/>
<path d="M755 358h1v33h-1z"/>
<path d="M756 346h1v45h-1z"/>
<path d="M757 358h1v41h-1z"/>
<path d="M758 358h1v29h-1z"/>
<path d="M759 350h1v37h-1z"/>
<path d="M760 362h1v25h-1z"/>
<path d="M761 354h1v33h-1z"/>
<path d="M762 341h1v46h-1z"/>
<path d="M763 341h1v58h-1z"/>
<path d="M764 341h1v46h-1z"/>
<path d="M765 350h1v49h-1z"/>
<path d="M766 341h1v46h-1z"/>
<path d="M767 341h1v50h-1z"/>
<path d="M768 337h1v46h-1z"/>
<path d="M769 329h1v54h-1z"/>
<path d="M770 333h1v45h-1z"/>
<path d="M771 329h1v49h-1z"/>
<path d="M772 321h1v57h-1z"/>
<path d="M773 321h1v57h-1z"/>
<path d="M774 329h1v58h-1z"/>
<path d="M775 337h1v46h-1z"/>
<path d="M776 333h1v50h-1z"/>
<path d="M777 333h1v50h-1z"/>
<path d="M778 341h1v33h-1z"/>
<path d="M779 341h1v46h-1z"/>
<path d="M780 341h1v42h-1z"/>
<path d="M781 329h1v58h-1z"/>
<path d="M782 337h1v46h-1z"/>
<path d="M783 333h1v50h-1z"/>
<path d="M784 337h1v46h-1z"/>
<path d="M785 337h1v58h-1z"/>
<path d="M786 333h1v50h-1z"/>
<path d="M787 329h1v49h-1z"/>
<path d="M788 329h1v54h-1z"/>
<path d="M789 341h1v37h-1z"/>
<path d="M790 333h1v50h-1z"/>
<path d="M791 337h1v54h-1z"/>
<path d="M792 341h1v33h-1z"/>
<path d="M793 333h1v50h-1z"/>
<path d="M794 341h1v42h-1z"/>
<path d="M795 337h1v41h-1z"/>
<path d="M796 329h1v49h-1z"/>
<path d="M797 350h1v28h-1z"/>
<path d="M798 333h1v45h-1z"/>
<path d="M799 333h1v41h-1z"/>
<path d="M800 341h1v33h-1z"/>
<path d="M801 337h1v37h-1z"/>
<path d="M802 337h1v37h-1z"/>
<path d="M803 346h1v28h-1z"/>
<path d="M804 333h1v41h-1z"/>
<path d="M805 350h1v24h-1z"/>
<path d="M806 337h1v37h-1z"/>
<path d="M807 346h1v32h-1z"/>
<path d="M808 350h1v28h-1z"/>
<path d="M809 346h1v32h-1z"/>
<path d="M810 350h1v28h-1z"/>
<path d="M811 350h1v49h-1z"/>
<path d="M812 366h1v29h-1z"/>
<path d="M813 358h1v37h-1z"/>
<path d="M814 358h1v37h-1z"/>
<path d="M815 346h1v49h-1z"/>
<path d="M816 362h1v45h-1z"/>
<path d="M817 350h1v45h-1z"/>
<path d="M818 366h1v29h-1z"/>
<path d="M819 354h1v41h-1z"/>
<path d="M820 354h1v41h-1z"/>
<path d="M821 354h1v41h-1z"/>
<path d="M822 354h1v41h-1z"/>
<path d="M823 354h1v41h-1z"/>
<path d="M824 366h1v25h-1z"/>
<path d="M825 366h1v25h-1z"/>
<path d="M826 354h1v41h-1z"/>
<path d="M827 362h1v29h-1z"/>
<path d="M828 350h1v41h-1z"/>
<path d="M829 350h1v41h-1z"/>
<path d="M830 350h1v41h-1z"/>
<path d="M831 362h1v29h-1z"/>
<path d="M832 362h1v29h-1z"/>
<path d="M833 341h1v50h-1z"/>
<path d="M834 362h1v29h-1z"/>
<path d="M835 354h1v41h-1z"/>
<path d="M836 354h1v41h-1z"/>
<path d="M837 354h1v41h-1z"/>
<path d="M838 370h1v25h-1z"/>
<path d="M839 354h1v41h-1z"/>
<path d="M840 350h1v53h-1z"/>
<path d="M841 366h1v29h-1z"/>
<path d="M842 366h1v29h-1z"/>
<path d="M843 354h1v41h-1z"/>
<path d="M844 354h1v37h-1z"/>
<path d="M845 358h1v37h-1z"/>
<path d="M846 354h1v45h-1z"/>
<path d="M847 358h1v57h-1z"/>
<path d="M848 354h1v45h-1z"/>
<path d="M849 354h1v45h-1z"/>
<path d="M850 354h1v53h-1z"/>
<path d="M851 366h1v33h-1z"/>
<path d="M852 346h1v53h-1z"/>
<path d="M853 350h1v49h-1z"/>
<path d="M854 350h1v49h-1z"/>
<path d="M855 358h1v41h-1z"/>
<path d="M856 358h1v41h-1z"/>
<path d="M857 358h1v41h-1z"/>
<path d="M858 350h1v49h-1z"/>
<path d="M859 362h1v37h-1z"/>
<path d="M860 354h1v49h-1z"/>
<path d="M861 354h1v41h-1z"/>
<path d="M862 358h1v37h-1z"/>
<path d="M863 362h1v33h-1z"/>
<path d="M864 350h1v41h-1z"/>
<path d="M865 354h1v37h-1z"/>
<path d="M866 354h1v37h-1z"/>
<path d="M867 366h1v25h-1z"/>
<path d="M868 366h1v29h-1z"/>
<path d="M869 354h1v37h-1z"/>
<path d="M870 350h1v41h-1z"/>
<path d="M871 358h1v37h-1z"/>
<path d="M872 358h1v37h-1z"/>
<path d="M873 354h1v37h-1z"/>
<path d="M874 362h1v29h-1z"/>
<path d="M875 362h1v29h-1z"/>
<path d="M876 362h1v37h-1z"/>
<path d="M877 362h1v37h-1z"/>
<path d="M878 358h1v41h-1z"/>
<path d="M879 354h1v45h-1z"/>
<path d="M880 346h1v53h-1z"/>
<path d="M881 346h1v53h-1z"/>
<path d="M882 362h1v37h-1z"/>
<path d="M883 341h1v58h-1z"/>
<path d="M884 354h1v45h-1z"/>
<path d="M885 358h1v37h-1z"/>
<path d="M886 358h1v37h-1z"/>
<path d="M887 366h1v41h-1z"/>
<path d="M888 354h1v57h-1z"/>
<path d="M889 354h1v41h-1z"/>
<path d="M890 346h1v49h-1z"/>
<path d="M891 350h1v45h-1z"/>
<path d="M892 350h1v45h-1z"/>
<path d="M893 350h1v45h-1z"/>
<path d="M894 358h1v37h-1z"/>
<path d="M895 358h1v37h-1z"/>
<path d="M896 358h1v41h-1z"/>
<path d="M897 362h1v29h-1z"/>
<path d="M898 358h1v33h-1z"/>
<path d="M899 358h1v33h-1z"/>
<path d="M900 350h1v37h-1z"/>
<path d="M901 354h1v41h-1z"/>
<path d="M902 366h1v29h-1z"/>
<path d="M903 354h1v29h-1z"/>
<path d="M904 350h1v33h-1z"/>
<path d="M905 362h1v21h-1z"/>
<path d="M906 358h1v25h-1z"/>
<path d="M907 350h1v33h-1z"/>
<path d="M908 358h1v25h-1z"/>
<path d="M909 354h1v41h-1z"/>
<path d="M910 350h1v37h-1z"/>
<path d="M911 358h1v29h-1z"/>
<path d="M912 358h1v29h-1z"/>
<path d="M913 350h1v37h-1z"/>
<path d="M914 350h1v49h-1z"/>
<path d="M915 350h1v37h-1z"/>
<path d="M916 350h1v37h-1z"/>
<path d="M917 350h1v37h-1z"/>
<path d="M918 350h1v37h-1z"/>
<path d="M919 350h1v41h-1z"/>
<path d="M920 354h1v33h-1z"/>
<path d="M921 346h1v41h-1z"/>
<path d="M922 350h1v37h-1z"/>
<path d="M923 350h1v37h-1z"/>
<path d="M924 350h1v37h-1z"/>
<path d="M925 346h1v37h-1z"/>
<path d="M926 346h1v37h-1z"/>
<path d="M927 358h1v25h-1z"/>
<path d="M928 350h1v37h-1z"/>
<path d="M929 346h1v57h-1z"/>
<path d="M930 354h1v33h-1z"/>
<path d="M931 346h1v45h-1z"/>
<path d="M932 346h1v41h-1z"/>
<path d="M933 346h1v41h-1z"/>
<path d="M934 346h1v41h-1z"/>
<path d="M935 358h1v29h-1z"/>
<path d="M936 350h1v37h-1z"/>
<path d="M937 354h1v33h-1z"/>
<path d="M938 358h1v29h-1z"/>
<path d="M939 354h1v33h-1z"/>
<path d="M940 354h1v33h-1z"/>
<path d="M941 354h1v33h-1z"/>
<path d="M942 354h1v37h-1z"/>
<path d="M943 362h1v29h-1z"/>
<path d="M944 362h1v41h-1z"/>
<path d="M945 358h1v33h-1z"/>
<path d="M946 358h1v20h-1z"/>
<path d="M947 350h1v28h-1z"/>
<path d="M948 333h1v45h-1z"/>
<path d="M949 341h1v37h-1z"/>
<path d="M950 350h1v33h-1z"/>
<path d="M951 341h1v42h-1z"/>
<path d="M952 341h1v42h-1z"/>
<path d="M953 346h1v45h-1z"/>
<path d="M954 358h1v41h-1z"/>
<path d="M955 346h1v37h-1z"/>
<path d="M956 346h1v45h-1z"/>
<path d="M957 333h1v50h-1z"/>
</g>
<g fill="url(#w)">
<path d="M0 267h.69v91h-.69z"/>
<path d="M2 276h.69v61h-.69z"/>
<path d="M3 280h.69v86h-.69z"/>
<path d="M4 267h.69v83h-.69z"/>
<path d="M5 284h.69v53h-.69z"/>
<path d="M6 280h.69v74h-.69z"/>
<path d="M7 263h.69v95h-.69z"/>
<path d="M10 284h.69v62h-.69z"/>
<path d="M13 284h.69v62h-.69z"/>
<path d="M14 280h.69v82h-.69z"/>
<path d="M21 284h.69v70h-.69z"/>
<path d="M24 272h.69v98h-.69z"/>
<path d="M26 292h.69v66h-.69z"/>
<path d="M29 288h.69v62h-.69z"/>
<path d="M31 300h.69v54h-.69z"/>
<path d="M32 304h.69v54h-.69z"/>
<path d="M35 300h.69v62h-.69z"/>
<path d="M37 292h.69v78h-.69z"/>
<path d="M39 313h.69v45h-.69z"/>
<path d="M40 309h.69v53h-.69z"/>
<path d="M41 304h.69v54h-.69z"/>
<path d="M42 284h.69v74h-.69z"/>
<path d="M46 292h.69v91h-.69z"/>
<path d="M47 288h.69v78h-.69z"/>
<path d="M48 304h.69v62h-.69z"/>
<path d="M52 321h.69v45h-.69z"/>
<path d="M53 325h.69v41h-.69z"/>
<path d="M56 292h.69v74h-.69z"/>
<path d="M57 292h.69v95h-.69z"/>
<path d="M58 304h.69v66h-.69z"/>
<path d="M59 300h.69v78h-.69z"/>
<path d="M60 304h.69v74h-.69z"/>
<path d="M63 304h.69v66h-.69z"/>
<path d="M65 304h.69v62h-.69z"/>
<path d="M66 313h.69v65h-.69z"/>
<path d="M69 321h.69v49h-.69z"/>
<path d="M71 321h.69v57h-.69z"/>
<path d="M72 325h.69v53h-.69z"/>
<path d="M73 337h.69v46h-.69z"/>
<path d="M74 296h.69v103h-.69z"/>
<path d="M78 321h.69v57h-.69z"/>
<path d="M79 296h.69v78h-.69z"/>
<path d="M80 304h.69v79h-.69z"/>
<path d="M85 304h.69v70h-.69z"/>
<path d="M87 288h.69v82h-.69z"/>
<path d="M88 304h.69v87h-.69z"/>
<path d="M89 284h.69v99h-.69z"/>
<path d="M90 313h.69v70h-.69z"/>
<path d="M96 259h.69v103h-.69z"/>
<path d="M98 280h.69v86h-.69z"/>
<path d="M100 300h.69v78h-.69z"/>
<path d="M101 267h.69v128h-.69z"/>
<path d="M105 300h.69v78h-.69z"/>
<path d="M106 313h.69v65h-.69z"/>
<path d="M107 296h.69v91h-.69z"/>
<path d="M109 317h.69v49h-.69z"/>
<path d="M110 304h.69v70h-.69z"/>
<path d="M112 313h.69v57h-.69z"/>
<path d="M115 313h.69v57h-.69z"/>
<path d="M117 333h.69v37h-.69z"/>
<path d="M119 309h.69v74h-.69z"/>
<path d="M120 309h.69v65h-.69z"/>
<path d="M121 321h.69v45h-.69z"/>
<path d="M124 296h.69v95h-.69z"/>
<path d="M127 304h.69v74h-.69z"/>
<path d="M128 309h.69v74h-.69z"/>
<path d="M131 313h.69v57h-.69z"/>
<path d="M132 313h.69v53h-.69z"/>
<path d="M137 300h.69v66h-.69z"/>
<path d="M140 300h.69v70h-.69z"/>
<path d="M142 300h.69v70h-.69z"/>
<path d="M147 296h.69v74h-.69z"/>
<path d="M149 309h.69v57h-.69z"/>
<path d="M150 304h.69v74h-.69z"/>
<path d="M153 296h.69v82h-.69z"/>
<path d="M156 321h.69v53h-.69z"/>
<path d="M160 300h.69v87h-.69z"/>
<path d="M166 317h.69v57h-.69z"/>
<path d="M168 317h.69v61h-.69z"/>
<path d="M169 304h.69v83h-.69z"/>
<path d="M171 317h.69v57h-.69z"/>
<path d="M172 313h.69v90h-.69z"/>
<path d="M178 292h.69v91h-.69z"/>
<path d="M183 304h.69v74h-.69z"/>
<path d="M191 309h.69v61h-.69z"/>
<path d="M198 300h.69v78h-.69z"/>
<path d="M201 317h.69v57h-.69z"/>
<path d="M206 313h.69v65h-.69z"/>
<path d="M211 317h.69v57h-.69z"/>
<path d="M214 313h.69v57h-.69z"/>
<path d="M215 329h.69v41h-.69z"/>
<path d="M216 317h.69v66h-.69z"/>
<path d="M219 321h.69v45h-.69z"/>
<path d="M222 325h.69v45h-.69z"/>
<path d="M224 321h.69v70h-.69z"/>
<path d="M227 304h.69v83h-.69z"/>
<path d="M228 321h.69v49h-.69z"/>
<path d="M235 317h.69v61h-.69z"/>
<path d="M236 317h.69v53h-.69z"/>
<path d="M239 321h.69v49h-.69z"/>
<path d="M240 296h.69v74h-.69z"/>
<path d="M241 309h.69v65h-.69z"/>
<path d="M245 300h.69v74h-.69z"/>
<path d="M246 300h.69v91h-.69z"/>
<path d="M256 321h.69v45h-.69z"/>
<path d="M258 329h.69v37h-.69z"/>
<path d="M263 321h.69v45h-.69z"/>
<path d="M270 321h.69v57h-.69z"/>
<path d="M271 309h.69v102h-.69z"/>
<path d="M273 325h.69v49h-.69z"/>
<path d="M278 333h.69v37h-.69z"/>
<path d="M280 317h.69v53h-.69z"/>
<path d="M284 317h.69v49h-.69z"/>
<path d="M287 317h.69v57h-.69z"/>
<path d="M288 325h.69v45h-.69z"/>
<path d="M299 284h.69v99h-.69z"/>
<path d="M300 309h.69v74h-.69z"/>
<path d="M302 296h.69v82h-.69z"/>
<path d="M303 309h.69v61h-.69z"/>
<path d="M306 284h.69v94h-.69z"/>
<path d="M307 300h.69v91h-.69z"/>
<path d="M309 300h.69v95h-.69z"/>
<path d="M310 296h.69v87h-.69z"/>
<path d="M313 300h.69v66h-.69z"/>
<path d="M314 280h.69v115h-.69z"/>
<path d="M316 321h.69v49h-.69z"/>
<path d="M317 300h.69v70h-.69z"/>
<path d="M319 296h.69v78h-.69z"/>
<path d="M320 300h.69v66h-.69z"/>
<path d="M321 288h.69v82h-.69z"/>
<path d="M322 300h.69v83h-.69z"/>
<path d="M323 304h.69v74h-.69z"/>
<path d="M326 300h.69v78h-.69z"/>
<path d="M327 288h.69v103h-.69z"/>
<path d="M329 292h.69v86h-.69z"/>
<path d="M330 304h.69v83h-.69z"/>
<path d="M331 304h.69v79h-.69z"/>
<path d="M332 309h.69v74h-.69z"/>
<path d="M333 304h.69v66h-.69z"/>
<path d="M338 296h.69v82h-.69z"/>
<path d="M340 280h.69v123h-.69z"/>
<path d="M341 296h.69v78h-.69z"/>
<path d="M345 280h.69v86h-.69z"/>
<path d="M347 292h.69v74h-.69z"/>
<path d="M348 304h.69v66h-.69z"/>
<path d="M349 292h.69v86h-.69z"/>
<path d="M350 272h.69v111h-.69z"/>
<path d="M352 272h.69v115h-.69z"/>
<path d="M355 300h.69v78h-.69z"/>
<path d="M357 296h.69v66h-.69z"/>
<path d="M358 300h.69v62h-.69z"/>
<path d="M359 284h.69v70h-.69z"/>
<path d="M361 267h.69v107h-.69z"/>
<path d="M362 304h.69v58h-.69z"/>
<path d="M364 304h.69v62h-.69z"/>
<path d="M365 296h.69v70h-.69z"/>
<path d="M366 300h.69v66h-.69z"/>
<path d="M367 288h.69v78h-.69z"/>
<path d="M369 288h.69v90h-.69z"/>
<path d="M371 280h.69v90h-.69z"/>
<path d="M372 292h.69v78h-.69z"/>
<path d="M374 304h.69v62h-.69z"/>
<path d="M375 280h.69v94h-.69z"/>
<path d="M376 296h.69v66h-.69z"/>
<path d="M377 280h.69v94h-.69z"/>
<path d="M378 276h.69v90h-.69z"/>
<path d="M379 284h.69v94h-.69z"/>
<path d="M381 304h.69v62h-.69z"/>
<path d="M382 284h.69v94h-.69z"/>
<path d="M385 292h.69v74h-.69z"/>
<path d="M386 304h.69v62h-.69z"/>
<path d="M390 292h.69v86h-.69z"/>
<path d="M391 300h.69v66h-.69z"/>
<path d="M395 276h.69v86h-.69z"/>
<path d="M396 280h.69v115h-.69z"/>
<path d="M397 296h.69v82h-.69z"/>
<path d="M401 284h.69v70h-.69z"/>
<path d="M402 304h.69v62h-.69z"/>
<path d="M403 304h.69v66h-.69z"/>
<path d="M409 292h.69v74h-.69z"/>
<path d="M410 292h.69v86h-.69z"/>
<path d="M412 288h.69v115h-.69z"/>
<path d="M414 300h.69v70h-.69z"/>
<path d="M415 292h.69v86h-.69z"/>
<path d="M419 321h.69v62h-.69z"/>
<path d="M422 325h.69v45h-.69z"/>
<path d="M426 317h.69v53h-.69z"/>
<path d="M438 309h.69v61h-.69z"/>
<path d="M439 272h.69v106h-.69z"/>
<path d="M441 259h.69v115h-.69z"/>
<path d="M445 284h.69v111h-.69z"/>
<path d="M451 284h.69v107h-.69z"/>
<path d="M453 300h.69v74h-.69z"/>
<path d="M454 296h.69v87h-.69z"/>
<path d="M458 284h.69v94h-.69z"/>
<path d="M463 296h.69v91h-.69z"/>
<path d="M464 304h.69v70h-.69z"/>
<path d="M465 304h.69v70h-.69z"/>
<path d="M466 313h.69v65h-.69z"/>
<path d="M467 304h.69v70h-.69z"/>
<path d="M468 292h.69v103h-.69z"/>
<path d="M469 296h.69v87h-.69z"/>
<path d="M471 313h.69v61h-.69z"/>
<path d="M473 272h.69v131h-.69z"/>
<path d="M474 251h.69v115h-.69z"/>
<path d="M476 263h.69v115h-.69z"/>
<path d="M478 296h.69v66h-.69z"/>
<path d="M479 292h.69v78h-.69z"/>
<path d="M480 304h.69v70h-.69z"/>
<path d="M481 259h.69v119h-.69z"/>
<path d="M482 304h.69v62h-.69z"/>
<path d="M484 259h.69v111h-.69z"/>
<path d="M485 304h.69v62h-.69z"/>
<path d="M486 272h.69v82h-.69z"/>
<path d="M487 276h.69v90h-.69z"/>
<path d="M488 288h.69v90h-.69z"/>
<path d="M489 304h.69v74h-.69z"/>
<path d="M494 296h.69v82h-.69z"/>
<path d="M496 300h.69v78h-.69z"/>
<path d="M500 296h.69v74h-.69z"/>
<path d="M502 333h.69v41h-.69z"/>
<path d="M503 288h.69v90h-.69z"/>
<path d="M512 296h.69v91h-.69z"/>
<path d="M517 296h.69v82h-.69z"/>
<path d="M524 313h.69v65h-.69z"/>
<path d="M528 292h.69v95h-.69z"/>
<path d="M534 325h.69v45h-.69z"/>
<path d="M535 325h.69v45h-.69z"/>
<path d="M539 288h.69v99h-.69z"/>
<path d="M540 309h.69v61h-.69z"/>
<path d="M545 304h.69v66h-.69z"/>
<path d="M547 300h.69v70h-.69z"/>
<path d="M548 309h.69v61h-.69z"/>
<path d="M551 317h.69v57h-.69z"/>
<path d="M552 304h.69v79h-.69z"/>
<path d="M556 313h.69v70h-.69z"/>
<path d="M558 313h.69v53h-.69z"/>
<path d="M559 317h.69v57h-.69z"/>
<path d="M567 300h.69v74h-.69z"/>
<path d="M570 292h.69v103h-.69z"/>
<path d="M572 317h.69v78h-.69z"/>
<path d="M573 329h.69v49h-.69z"/>
<path d="M574 325h.69v49h-.69z"/>
<path d="M583 325h.69v62h-.69z"/>
<path d="M584 321h.69v78h-.69z"/>
<path d="M586 325h.69v62h-.69z"/>
<path d="M589 317h.69v61h-.69z"/>
<path d="M592 333h.69v50h-.69z"/>
<path d="M593 325h.69v58h-.69z"/>
<path d="M594 304h.69v103h-.69z"/>
<path d="M597 321h.69v57h-.69z"/>
<path d="M601 337h.69v41h-.69z"/>
<path d="M602 317h.69v66h-.69z"/>
<path d="M603 317h.69v70h-.69z"/>
<path d="M604 317h.69v90h-.69z"/>
<path d="M605 325h.69v62h-.69z"/>
<path d="M606 329h.69v49h-.69z"/>
<path d="M607 325h.69v58h-.69z"/>
<path d="M608 317h.69v61h-.69z"/>
<path d="M612 317h.69v66h-.69z"/>
<path d="M613 317h.69v70h-.69z"/>
<path d="M614 317h.69v74h-.69z"/>
<path d="M615 325h.69v62h-.69z"/>
<path d="M619 317h.69v66h-.69z"/>
<path d="M620 325h.69v49h-.69z"/>
<path d="M621 321h.69v66h-.69z"/>
<path d="M625 317h.69v57h-.69z"/>
<path d="M626 313h.69v74h-.69z"/>
<path d="M631 309h.69v69h-.69z"/>
<path d="M632 325h.69v53h-.69z"/>
<path d="M640 313h.69v65h-.69z"/>
<path d="M642 292h.69v91h-.69z"/>
<path d="M644 304h.69v70h-.69z"/>
<path d="M645 317h.69v61h-.69z"/>
<path d="M649 309h.69v82h-.69z"/>
<path d="M651 300h.69v91h-.69z"/>
<path d="M656 313h.69v61h-.69z"/>
<path d="M658 317h.69v70h-.69z"/>
<path d="M660 325h.69v58h-.69z"/>
<path d="M668 313h.69v74h-.69z"/>
<path d="M669 304h.69v91h-.69z"/>
<path d="M675 329h.69v54h-.69z"/>
<path d="M676 329h.69v49h-.69z"/>
<path d="M678 300h.69v87h-.69z"/>
<path d="M683 309h.69v78h-.69z"/>
<path d="M686 346h.69v41h-.69z"/>
<path d="M687 346h.69v53h-.69z"/>
<path d="M694 337h.69v62h-.69z"/>
<path d="M696 337h.69v70h-.69z"/>
<path d="M714 329h.69v66h-.69z"/>
<path d="M720 341h.69v50h-.69z"/>
<path d="M722 346h.69v45h-.69z"/>
<path d="M725 333h.69v58h-.69z"/>
<path d="M728 341h.69v54h-.69z"/>
<path d="M732 346h.69v49h-.69z"/>
<path d="M739 346h.69v45h-.69z"/>
<path d="M740 346h.69v45h-.69z"/>
<path d="M741 346h.69v45h-.69z"/>
<path d="M742 346h.69v49h-.69z"/>
<path d="M748 329h.69v54h-.69z"/>
<path d="M750 341h.69v42h-.69z"/>
<path d="M752 346h.69v61h-.69z"/>
<path d="M753 350h.69v45h-.69z"/>
<path d="M754 354h.69v41h-.69z"/>
<path d="M762 329h.69v62h-.69z"/>
<path d="M766 329h.69v66h-.69z"/>
<path d="M770 321h.69v66h-.69z"/>
<path d="M772 304h.69v83h-.69z"/>
<path d="M778 325h.69v62h-.69z"/>
<path d="M786 325h.69v62h-.69z"/>
<path d="M789 329h.69v62h-.69z"/>
<path d="M792 329h.69v54h-.69z"/>
<path d="M793 309h.69v82h-.69z"/>
<path d="M794 329h.69v58h-.69z"/>
<path d="M796 313h.69v78h-.69z"/>
<path d="M797 337h.69v50h-.69z"/>
<path d="M800 325h.69v70h-.69z"/>
<path d="M802 321h.69v74h-.69z"/>
<path d="M804 321h.69v62h-.69z"/>
<path d="M807 317h.69v74h-.69z"/>
<path d="M812 350h.69v53h-.69z"/>
<path d="M813 337h.69v66h-.69z"/>
<path d="M814 329h.69v78h-.69z"/>
<path d="M819 337h.69v66h-.69z"/>
<path d="M821 341h.69v62h-.69z"/>
<path d="M825 350h.69v61h-.69z"/>
<path d="M828 341h.69v58h-.69z"/>
<path d="M833 329h.69v70h-.69z"/>
<path d="M835 337h.69v62h-.69z"/>
<path d="M842 354h.69v49h-.69z"/>
<path d="M848 341h.69v66h-.69z"/>
<path d="M851 350h.69v57h-.69z"/>
<path d="M857 333h.69v87h-.69z"/>
<path d="M861 333h.69v70h-.69z"/>
<path d="M870 337h.69v66h-.69z"/>
<path d="M876 350h.69v61h-.69z"/>
<path d="M879 346h.69v57h-.69z"/>
<path d="M881 321h.69v82h-.69z"/>
<path d="M884 337h.69v70h-.69z"/>
<path d="M885 346h.69v53h-.69z"/>
<path d="M886 333h.69v74h-.69z"/>
<path d="M896 346h.69v57h-.69z"/>
<path d="M897 354h.69v41h-.69z"/>
<path d="M899 346h.69v45h-.69z"/>
<path d="M901 337h.69v66h-.69z"/>
<path d="M903 346h.69v45h-.69z"/>
<path d="M904 341h.69v50h-.69z"/>
<path d="M905 333h.69v62h-.69z"/>
<path d="M913 329h.69v74h-.69z"/>
<path d="M917 337h.69v58h-.69z"/>
<path d="M919 333h.69v66h-.69z"/>
<path d="M924 329h.69v78h-.69z"/>
<path d="M928 341h.69v50h-.69z"/>
<path d="M932 329h.69v66h-.69z"/>
<path d="M934 317h.69v94h-.69z"/>
<path d="M936 337h.69v58h-.69z"/>
<path d="M940 337h.69v58h-.69z"/>
<path d="M945 346h.69v49h-.69z"/>
<path d="M946 325h.69v82h-.69z"/>
<path d="M948 309h.69v69h-.69z"/>
<path d="M949 329h.69v58h-.69z"/>
<path d="M951 313h.69v78h-.69z"/>
<path d="M952 317h.69v82h-.69z"/>
<path d="M955 333h.69v54h-.69z"/>
<path d="M957 317h.69v66h-.69z"/>
</g>
<g fill="url(#l20)">
<path d="M601 403h1v31h-1z"/>
<path d="M609 415h1v19h-1z"/>
<path d="M610 407h1v27h-1z"/>
</g>
<g fill="url(#l21)">
<path d="M599 415h1v19h-1z"/>
<path d="M600 407h1v27h-1z"/>
<path d="M602 403h1v31h-1z"/>
<path d="M603 399h1v35h-1z"/>
<path d="M604 407h1v27h-1z"/>
<path d="M605 391h1v43h-1z"/>
<path d="M606 399h1v35h-1z"/>
<path d="M607 415h1v19h-1z"/>
<path d="M608 395h1v39h-1z"/>
<path d="M611 407h1v27h-1z"/>
<path d="M612 407h1v27h-1z"/>
<path d="M613 407h1v27h-1z"/>
<path d="M614 411h1v23h-1z"/>
<path d="M618 407h1v27h-1z"/>
</g>
<g fill="url(#l22)">
<path d="M597 415h1v19h-1z"/>
<path d="M598 415h1v19h-1z"/>
<path d="M615 395h1v39h-1z"/>
<path d="M616 411h1v23h-1z"/>
<path d="M617 411h1v23h-1z"/>
</g>
<g fill="url(#l25)">
<path d="M259 403h1v31h-1z"/>
<path d="M260 399h1v35h-1z"/>
<path d="M261 383h1v51h-1z"/>
</g>
<g fill="url(#l26)">
<path d="M154 411h1v23h-1z"/>
<path d="M167 391h1v43h-1z"/>
<path d="M574 407h1v27h-1z"/>
</g>
<g fill="url(#l27)">
<path d="M153 399h1v35h-1z"/>
<path d="M179 399h1v35h-1z"/>
<path d="M205 391h1v43h-1z"/>
<path d="M258 395h1v39h-1z"/>
<path d="M265 395h1v39h-1z"/>
<path d="M553 403h1v31h-1z"/>
<path d="M573 399h1v35h-1z"/>
</g>
<g fill="url(#l28)">
<path d="M47 387h1v47h-1z"/>
<path d="M168 403h1v31h-1z"/>
<path d="M187 407h1v27h-1z"/>
<path d="M188 399h1v35h-1z"/>
<path d="M189 391h1v43h-1z"/>
<path d="M190 399h1v35h-1z"/>
<path d="M206 391h1v43h-1z"/>
<path d="M207 383h1v51h-1z"/>
<path d="M262 399h1v35h-1z"/>
<path d="M263 399h1v35h-1z"/>
<path d="M266 399h1v35h-1z"/>
<path d="M559 399h1v35h-1z"/>
</g>
<g fill="url(#l29)">
<path d="M155 399h1v35h-1z"/>
<path d="M166 383h1v51h-1z"/>
<path d="M178 399h1v35h-1z"/>
<path d="M180 399h1v35h-1z"/>
<path d="M198 399h1v35h-1z"/>
<path d="M208 399h1v35h-1z"/>
<path d="M209 391h1v43h-1z"/>
<path d="M221 403h1v31h-1z"/>
<path d="M237 399h1v35h-1z"/>
<path d="M243 395h1v39h-1z"/>
<path d="M267 399h1v35h-1z"/>
<path d="M268 399h1v35h-1z"/>
<path d="M326 403h1v31h-1z"/>
<path d="M493 399h1v35h-1z"/>
<path d="M494 407h1v27h-1z"/>
<path d="M552 403h1v31h-1z"/>
<path d="M554 399h1v35h-1z"/>
<path d="M572 407h1v27h-1z"/>
</g>
<g fill="url(#l30)">
<path d="M39 383h1v51h-1z"/>
<path d="M46 370h1v64h-1z"/>
<path d="M149 383h1v51h-1z"/>
<path d="M150 399h1v35h-1z"/>
<path d="M151 411h1v23h-1z"/>
<path d="M152 411h1v23h-1z"/>
<path d="M174 395h1v39h-1z"/>
<path d="M186 399h1v35h-1z"/>
<path d="M204 383h1v51h-1z"/>
<path d="M210 387h1v47h-1z"/>
<path d="M211 399h1v35h-1z"/>
<path d="M220 403h1v31h-1z"/>
<path d="M245 395h1v39h-1z"/>
<path d="M264 395h1v39h-1z"/>
<path d="M492 391h1v43h-1z"/>
<path d="M495 391h1v43h-1z"/>
<path d="M507 407h1v27h-1z"/>
<path d="M509 391h1v43h-1z"/>
<path d="M542 391h1v43h-1z"/>
<path d="M558 407h1v27h-1z"/>
<path d="M563 403h1v31h-1z"/>
<path d="M568 407h1v27h-1z"/>
<path d="M569 407h1v27h-1z"/>
<path d="M575 407h1v27h-1z"/>
<path d="M619 415h1v19h-1z"/>
<path d="M625 403h1v31h-1z"/>
<path d="M630 403h1v31h-1z"/>
<path d="M632 399h1v35h-1z"/>
<path d="M650 403h1v31h-1z"/>
</g>
<g fill="url(#l31)">
<path d="M169 391h1v43h-1z"/>
<path d="M175 407h1v27h-1z"/>
<path d="M177 399h1v35h-1z"/>
<path d="M184 395h1v39h-1z"/>
<path d="M185 391h1v43h-1z"/>
<path d="M199 391h1v43h-1z"/>
<path d="M202 391h1v43h-1z"/>
<path d="M203 399h1v35h-1z"/>
<path d="M212 399h1v35h-1z"/>
<path d="M219 403h1v31h-1z"/>
<path d="M222 391h1v43h-1z"/>
<path d="M224 391h1v43h-1z"/>
<path d="M228 391h1v43h-1z"/>
<path d="M242 395h1v39h-1z"/>
<path d="M269 399h1v35h-1z"/>
<path d="M327 411h1v23h-1z"/>
<path d="M378 391h1v43h-1z"/>
<path d="M423 407h1v27h-1z"/>
<path d="M424 407h1v27h-1z"/>
<path d="M491 399h1v35h-1z"/>
<path d="M496 391h1v43h-1z"/>
<path d="M501 395h1v39h-1z"/>
<path d="M541 403h1v31h-1z"/>
<path d="M543 403h1v31h-1z"/>
<path d="M555 420h1v14h-1z"/>
<path d="M557 407h1v27h-1z"/>
<path d="M560 399h1v35h-1z"/>
<path d="M561 399h1v35h-1z"/>
<path d="M562 403h1v31h-1z"/>
<path d="M565 403h1v31h-1z"/>
<path d="M567 403h1v31h-1z"/>
<path d="M571 399h1v35h-1z"/>
<path d="M576 407h1v27h-1z"/>
<path d="M594 403h1v31h-1z"/>
<path d="M596 403h1v31h-1z"/>
<path d="M628 407h1v27h-1z"/>
<path d="M631 391h1v43h-1z"/>
<path d="M651 407h1v27h-1z"/>
</g>
<g fill="url(#l32)">
<path d="M37 383h1v51h-1z"/>
<path d="M41 387h1v47h-1z"/>
<path d="M156 383h1v51h-1z"/>
<path d="M162 399h1v35h-1z"/>
<path d="M165 407h1v27h-1z"/>
<path d="M181 399h1v35h-1z"/>
<path d="M182 391h1v43h-1z"/>
<path d="M191 399h1v35h-1z"/>
<path d="M193 399h1v35h-1z"/>
<path d="M194 399h1v35h-1z"/>
<path d="M213 395h1v39h-1z"/>
<path d="M217 387h1v47h-1z"/>
<path d="M223 403h1v31h-1z"/>
<path d="M226 387h1v47h-1z"/>
<path d="M227 403h1v31h-1z"/>
<path d="M232 395h1v39h-1z"/>
<path d="M233 395h1v39h-1z"/>
<path d="M236 399h1v35h-1z"/>
<path d="M238 403h1v31h-1z"/>
<path d="M241 407h1v27h-1z"/>
<path d="M244 387h1v47h-1z"/>
<path d="M246 399h1v35h-1z"/>
<path d="M257 395h1v39h-1z"/>
<path d="M270 383h1v51h-1z"/>
<path d="M328 407h1v27h-1z"/>
<path d="M422 395h1v39h-1z"/>
<path d="M425 399h1v35h-1z"/>
<path d="M490 399h1v35h-1z"/>
<path d="M497 407h1v27h-1z"/>
<path d="M499 391h1v43h-1z"/>
<path d="M508 391h1v43h-1z"/>
<path d="M540 391h1v43h-1z"/>
<path d="M564 403h1v31h-1z"/>
<path d="M629 411h1v23h-1z"/>
<path d="M809 391h1v43h-1z"/>
</g>
<g fill="url(#l33)">
<path d="M23 378h1v56h-1z"/>
<path d="M31 383h1v51h-1z"/>
<path d="M35 383h1v51h-1z"/>
<path d="M157 403h1v31h-1z"/>
<path d="M158 395h1v39h-1z"/>
<path d="M164 374h1v60h-1z"/>
<path d="M173 387h1v47h-1z"/>
<path d="M183 383h1v51h-1z"/>
<path d="M192 399h1v35h-1z"/>
<path d="M200 374h1v60h-1z"/>
<path d="M201 391h1v43h-1z"/>
<path d="M216 391h1v43h-1z"/>
<path d="M218 395h1v39h-1z"/>
<path d="M225 395h1v39h-1z"/>
<path d="M234 395h1v39h-1z"/>
<path d="M235 383h1v51h-1z"/>
<path d="M239 411h1v23h-1z"/>
<path d="M325 403h1v31h-1z"/>
<path d="M379 399h1v35h-1z"/>
<path d="M383 411h1v23h-1z"/>
<path d="M426 407h1v27h-1z"/>
<path d="M498 403h1v31h-1z"/>
<path d="M506 399h1v35h-1z"/>
<path d="M530 399h1v35h-1z"/>
<path d="M551 403h1v31h-1z"/>
<path d="M566 399h1v35h-1z"/>
<path d="M570 407h1v27h-1z"/>
<path d="M627 407h1v27h-1z"/>
<path d="M649 403h1v31h-1z"/>
<path d="M652 407h1v27h-1z"/>
<path d="M810 403h1v31h-1z"/>
<path d="M811 403h1v31h-1z"/>
</g>
<g fill="url(#l34)">
<path d="M4 387h1v47h-1z"/>
<path d="M36 383h1v51h-1z"/>
<path d="M38 383h1v51h-1z"/>
<path d="M42 374h1v60h-1z"/>
<path d="M43 383h1v51h-1z"/>
<path d="M45 387h1v47h-1z"/>
<path d="M141 407h1v27h-1z"/>
<path d="M147 395h1v39h-1z"/>
<path d="M159 395h1v39h-1z"/>
<path d="M160 399h1v35h-1z"/>
<path d="M163 391h1v43h-1z"/>
<path d="M176 399h1v35h-1z"/>
<path d="M195 399h1v35h-1z"/>
<path d="M214 383h1v51h-1z"/>
<path d="M215 399h1v35h-1z"/>
<path d="M229 383h1v51h-1z"/>
<path d="M330 383h1v51h-1z"/>
<path d="M377 407h1v27h-1z"/>
<path d="M380 403h1v31h-1z"/>
<path d="M381 403h1v31h-1z"/>
<path d="M382 387h1v47h-1z"/>
<path d="M427 387h1v47h-1z"/>
<path d="M428 403h1v31h-1z"/>
<path d="M502 378h1v56h-1z"/>
<path d="M510 391h1v43h-1z"/>
<path d="M529 399h1v35h-1z"/>
<path d="M535 411h1v23h-1z"/>
<path d="M589 403h1v31h-1z"/>
<path d="M595 403h1v31h-1z"/>
<path d="M624 403h1v31h-1z"/>
<path d="M626 407h1v27h-1z"/>
<path d="M633 403h1v31h-1z"/>
<path d="M648 403h1v31h-1z"/>
<path d="M657 399h1v35h-1z"/>
<path d="M669 420h1v14h-1z"/>
<path d="M926 428h1v6h-1z"/>
</g>
<g fill="url(#l35)">
<path d="M5 387h1v47h-1z"/>
<path d="M6 387h1v47h-1z"/>
<path d="M9 383h1v51h-1z"/>
<path d="M33 391h1v43h-1z"/>
<path d="M40 383h1v51h-1z"/>
<path d="M140 399h1v35h-1z"/>
<path d="M142 399h1v35h-1z"/>
<path d="M148 387h1v47h-1z"/>
<path d="M161 383h1v51h-1z"/>
<path d="M170 391h1v43h-1z"/>
<path d="M172 383h1v51h-1z"/>
<path d="M230 403h1v31h-1z"/>
<path d="M240 391h1v43h-1z"/>
<path d="M247 399h1v35h-1z"/>
<path d="M279 399h1v35h-1z"/>
<path d="M324 415h1v19h-1z"/>
<path d="M332 403h1v31h-1z"/>
<path d="M335 411h1v23h-1z"/>
<path d="M370 391h1v43h-1z"/>
<path d="M371 399h1v35h-1z"/>
<path d="M376 407h1v27h-1z"/>
<path d="M421 407h1v27h-1z"/>
<path d="M500 403h1v31h-1z"/>
<path d="M503 407h1v27h-1z"/>
<path d="M511 399h1v35h-1z"/>
<path d="M513 403h1v31h-1z"/>
<path d="M514 399h1v35h-1z"/>
<path d="M516 391h1v43h-1z"/>
<path d="M526 403h1v31h-1z"/>
<path d="M533 383h1v51h-1z"/>
<path d="M544 391h1v43h-1z"/>
<path d="M556 407h1v27h-1z"/>
<path d="M593 415h1v19h-1z"/>
<path d="M646 391h1v43h-1z"/>
<path d="M647 411h1v23h-1z"/>
<path d="M653 420h1v14h-1z"/>
<path d="M658 399h1v35h-1z"/>
<path d="M808 403h1v31h-1z"/>
</g>
<g fill="url(#l36)">
<path d="M0 387h1v47h-1z"/>
<path d="M22 387h1v47h-1z"/>
<path d="M25 387h1v47h-1z"/>
<path d="M48 374h1v60h-1z"/>
<path d="M136 399h1v35h-1z"/>
<path d="M196 395h1v39h-1z"/>
<path d="M197 374h1v60h-1z"/>
<path d="M248 395h1v39h-1z"/>
<path d="M250 387h1v47h-1z"/>
<path d="M274 391h1v43h-1z"/>
<path d="M275 403h1v31h-1z"/>
<path d="M329 395h1v39h-1z"/>
<path d="M333 403h1v31h-1z"/>
<path d="M343 403h1v31h-1z"/>
<path d="M385 403h1v31h-1z"/>
<path d="M505 403h1v31h-1z"/>
<path d="M512 403h1v31h-1z"/>
<path d="M517 403h1v31h-1z"/>
<path d="M525 399h1v35h-1z"/>
<path d="M527 407h1v27h-1z"/>
<path d="M536 403h1v31h-1z"/>
<path d="M545 403h1v31h-1z"/>
<path d="M587 411h1v23h-1z"/>
<path d="M591 403h1v31h-1z"/>
<path d="M661 407h1v27h-1z"/>
<path d="M813 407h1v27h-1z"/>
<path d="M925 424h1v10h-1z"/>
</g>
<g fill="url(#l37)">
<path d="M3 387h1v47h-1z"/>
<path d="M21 383h1v51h-1z"/>
<path d="M26 383h1v51h-1z"/>
<path d="M44 383h1v51h-1z"/>
<path d="M137 403h1v31h-1z"/>
<path d="M143 411h1v23h-1z"/>
<path d="M146 383h1v51h-1z"/>
<path d="M231 403h1v31h-1z"/>
<path d="M254 395h1v39h-1z"/>
<path d="M273 411h1v23h-1z"/>
<path d="M280 407h1v27h-1z"/>
<path d="M301 403h1v31h-1z"/>
<path d="M334 403h1v31h-1z"/>
<path d="M344 399h1v35h-1z"/>
<path d="M372 399h1v35h-1z"/>
<path d="M386 403h1v31h-1z"/>
<path d="M504 399h1v35h-1z"/>
<path d="M515 399h1v35h-1z"/>
<path d="M518 403h1v31h-1z"/>
<path d="M524 403h1v31h-1z"/>
<path d="M531 399h1v35h-1z"/>
<path d="M532 403h1v31h-1z"/>
<path d="M534 403h1v31h-1z"/>
<path d="M537 403h1v31h-1z"/>
<path d="M538 387h1v47h-1z"/>
<path d="M539 403h1v31h-1z"/>
<path d="M550 395h1v39h-1z"/>
<path d="M585 411h1v23h-1z"/>
<path d="M592 407h1v27h-1z"/>
<path d="M634 407h1v27h-1z"/>
<path d="M635 407h1v27h-1z"/>
<path d="M636 415h1v19h-1z"/>
<path d="M645 407h1v27h-1z"/>
<path d="M656 399h1v35h-1z"/>
<path d="M668 411h1v23h-1z"/>
<path d="M678 411h1v23h-1z"/>
<path d="M679 411h1v23h-1z"/>
<path d="M695 411h1v23h-1z"/>
<path d="M708 415h1v19h-1z"/>
<path d="M709 407h1v27h-1z"/>
<path d="M805 420h1v14h-1z"/>
<path d="M807 411h1v23h-1z"/>
<path d="M812 403h1v31h-1z"/>
<path d="M937 424h1v10h-1z"/>
<path d="M938 407h1v27h-1z"/>
<path d="M940 420h1v14h-1z"/>
</g>
<g fill="url(#l38)">
<path d="M1 370h1v64h-1z"/>
<path d="M2 378h1v56h-1z"/>
<path d="M7 383h1v51h-1z"/>
<path d="M10 387h1v47h-1z"/>
<path d="M14 378h1v56h-1z"/>
<path d="M16 366h1v68h-1z"/>
<path d="M18 378h1v56h-1z"/>
<path d="M24 383h1v51h-1z"/>
<path d="M32 383h1v51h-1z"/>
<path d="M135 399h1v35h-1z"/>
<path d="M171 391h1v43h-1z"/>
<path d="M249 391h1v43h-1z"/>
<path d="M251 407h1v27h-1z"/>
<path d="M255 395h1v39h-1z"/>
<path d="M256 399h1v35h-1z"/>
<path d="M272 399h1v35h-1z"/>
<path d="M278 383h1v51h-1z"/>
<path d="M281 387h1v47h-1z"/>
<path d="M302 403h1v31h-1z"/>
<path d="M321 411h1v23h-1z"/>
<path d="M322 399h1v35h-1z"/>
<path d="M331 399h1v35h-1z"/>
<path d="M338 391h1v43h-1z"/>
<path d="M384 403h1v31h-1z"/>
<path d="M388 399h1v35h-1z"/>
<path d="M389 387h1v47h-1z"/>
<path d="M390 407h1v27h-1z"/>
<path d="M429 407h1v27h-1z"/>
<path d="M489 403h1v31h-1z"/>
<path d="M528 383h1v51h-1z"/>
<path d="M546 403h1v31h-1z"/>
<path d="M547 407h1v27h-1z"/>
<path d="M548 403h1v31h-1z"/>
<path d="M577 411h1v23h-1z"/>
<path d="M578 391h1v43h-1z"/>
<path d="M586 411h1v23h-1z"/>
<path d="M637 407h1v27h-1z"/>
<path d="M641 387h1v47h-1z"/>
<path d="M642 407h1v27h-1z"/>
<path d="M644 415h1v19h-1z"/>
<path d="M655 399h1v35h-1z"/>
<path d="M680 407h1v27h-1z"/>
<path d="M688 395h1v39h-1z"/>
<path d="M694 428h1v6h-1z"/>
<path d="M806 420h1v14h-1z"/>
<path d="M910 424h1v10h-1z"/>
<path d="M914 424h1v10h-1z"/>
<path d="M923 415h1v19h-1z"/>
<path d="M927 420h1v14h-1z"/>
<path d="M928 428h1v6h-1z"/>
<path d="M930 424h1v10h-1z"/>
<path d="M936 424h1v10h-1z"/>
<path d="M939 407h1v27h-1z"/>
<path d="M942 420h1v14h-1z"/>
</g>
<g fill="url(#l39)">
<path d="M8 374h1v60h-1z"/>
<path d="M17 370h1v64h-1z"/>
<path d="M30 387h1v47h-1z"/>
<path d="M34 395h1v39h-1z"/>
<path d="M134 399h1v35h-1z"/>
<path d="M138 399h1v35h-1z"/>
<path d="M139 399h1v35h-1z"/>
<path d="M144 411h1v23h-1z"/>
<path d="M252 399h1v35h-1z"/>
<path d="M253 387h1v47h-1z"/>
<path d="M271 383h1v51h-1z"/>
<path d="M277 399h1v35h-1z"/>
<path d="M305 407h1v27h-1z"/>
<path d="M306 399h1v35h-1z"/>
<path d="M336 395h1v39h-1z"/>
<path d="M337 399h1v35h-1z"/>
<path d="M339 399h1v35h-1z"/>
<path d="M342 403h1v31h-1z"/>
<path d="M353 395h1v39h-1z"/>
<path d="M369 399h1v35h-1z"/>
<path d="M387 407h1v27h-1z"/>
<path d="M468 411h1v23h-1z"/>
<path d="M523 378h1v56h-1z"/>
<path d="M549 407h1v27h-1z"/>
<path d="M588 411h1v23h-1z"/>
<path d="M640 387h1v47h-1z"/>
<path d="M643 407h1v27h-1z"/>
<path d="M654 395h1v39h-1z"/>
<path d="M659 403h1v31h-1z"/>
<path d="M660 395h1v39h-1z"/>
<path d="M662 407h1v27h-1z"/>
<path d="M670 395h1v39h-1z"/>
<path d="M677 411h1v23h-1z"/>
<path d="M692 411h1v23h-1z"/>
<path d="M693 415h1v19h-1z"/>
<path d="M696 411h1v23h-1z"/>
<path d="M697 415h1v19h-1z"/>
<path d="M710 411h1v23h-1z"/>
<path d="M716 420h1v14h-1z"/>
<path d="M718 424h1v10h-1z"/>
<path d="M803 407h1v27h-1z"/>
<path d="M804 415h1v19h-1z"/>
<path d="M909 424h1v10h-1z"/>
<path d="M918 424h1v10h-1z"/>
<path d="M929 428h1v6h-1z"/>
<path d="M935 411h1v23h-1z"/>
</g>
<g fill="url(#l40)">
<path d="M13 370h1v64h-1z"/>
<path d="M20 378h1v56h-1z"/>
<path d="M49 399h1v35h-1z"/>
<path d="M116 383h1v51h-1z"/>
<path d="M132 395h1v39h-1z"/>
<path d="M133 399h1v35h-1z"/>
<path d="M145 395h1v39h-1z"/>
<path d="M276 407h1v27h-1z"/>
<path d="M283 407h1v27h-1z"/>
<path d="M287 411h1v23h-1z"/>
<path d="M288 391h1v43h-1z"/>
<path d="M292 403h1v31h-1z"/>
<path d="M294 403h1v31h-1z"/>
<path d="M300 403h1v31h-1z"/>
<path d="M303 407h1v27h-1z"/>
<path d="M307 407h1v27h-1z"/>
<path d="M320 403h1v31h-1z"/>
<path d="M323 415h1v19h-1z"/>
<path d="M345 391h1v43h-1z"/>
<path d="M361 395h1v39h-1z"/>
<path d="M373 378h1v56h-1z"/>
<path d="M374 395h1v39h-1z"/>
<path d="M375 383h1v51h-1z"/>
<path d="M487 407h1v27h-1z"/>
<path d="M519 403h1v31h-1z"/>
<path d="M584 403h1v31h-1z"/>
<path d="M590 403h1v31h-1z"/>
<path d="M638 407h1v27h-1z"/>
<path d="M639 407h1v27h-1z"/>
<path d="M673 399h1v35h-1z"/>
<path d="M676 411h1v23h-1z"/>
<path d="M683 411h1v23h-1z"/>
<path d="M687 415h1v19h-1z"/>
<path d="M691 415h1v19h-1z"/>
<path d="M707 415h1v19h-1z"/>
<path d="M726 420h1v14h-1z"/>
<path d="M908 432h1v2h-1z"/>
<path d="M911 420h1v14h-1z"/>
<path d="M912 428h1v6h-1z"/>
<path d="M913 420h1v14h-1z"/>
<path d="M915 424h1v10h-1z"/>
<path d="M917 407h1v27h-1z"/>
<path d="M924 415h1v19h-1z"/>
<path d="M933 420h1v14h-1z"/>
<path d="M954 411h1v23h-1z"/>
</g>
<g fill="url(#l41)">
<path d="M27 383h1v51h-1z"/>
<path d="M77 403h1v31h-1z"/>
<path d="M114 391h1v43h-1z"/>
<path d="M117 383h1v51h-1z"/>
<path d="M130 403h1v31h-1z"/>
<path d="M131 403h1v31h-1z"/>
<path d="M295 407h1v27h-1z"/>
<path d="M299 407h1v27h-1z"/>
<path d="M319 411h1v23h-1z"/>
<path d="M340 383h1v51h-1z"/>
<path d="M341 399h1v35h-1z"/>
<path d="M352 411h1v23h-1z"/>
<path d="M354 383h1v51h-1z"/>
<path d="M360 403h1v31h-1z"/>
<path d="M365 411h1v23h-1z"/>
<path d="M391 415h1v19h-1z"/>
<path d="M396 407h1v27h-1z"/>
<path d="M450 403h1v31h-1z"/>
<path d="M467 399h1v35h-1z"/>
<path d="M469 420h1v14h-1z"/>
<path d="M470 411h1v23h-1z"/>
<path d="M486 411h1v23h-1z"/>
<path d="M488 403h1v31h-1z"/>
<path d="M522 395h1v39h-1z"/>
<path d="M579 407h1v27h-1z"/>
<path d="M580 407h1v27h-1z"/>
<path d="M620 407h1v27h-1z"/>
<path d="M667 415h1v19h-1z"/>
<path d="M671 415h1v19h-1z"/>
<path d="M672 399h1v35h-1z"/>
<path d="M675 415h1v19h-1z"/>
<path d="M681 407h1v27h-1z"/>
<path d="M684 415h1v19h-1z"/>
<path d="M686 415h1v19h-1z"/>
<path d="M690 407h1v27h-1z"/>
<path d="M701 420h1v14h-1z"/>
<path d="M702 415h1v19h-1z"/>
<path d="M725 415h1v19h-1z"/>
<path d="M906 411h1v23h-1z"/>
<path d="M907 428h1v6h-1z"/>
<path d="M916 424h1v10h-1z"/>
<path d="M922 415h1v19h-1z"/>
<path d="M934 420h1v14h-1z"/>
<path d="M941 420h1v14h-1z"/>
<path d="M955 420h1v14h-1z"/>
</g>
<g fill="url(#l42)">
<path d="M12 378h1v56h-1z"/>
<path d="M15 362h1v72h-1z"/>
<path d="M75 399h1v35h-1z"/>
<path d="M76 399h1v35h-1z"/>
<path d="M113 403h1v31h-1z"/>
<path d="M118 407h1v27h-1z"/>
<path d="M282 407h1v27h-1z"/>
<path d="M284 399h1v35h-1z"/>
<path d="M296 387h1v47h-1z"/>
<path d="M317 403h1v31h-1z"/>
<path d="M355 407h1v27h-1z"/>
<path d="M357 407h1v27h-1z"/>
<path d="M358 391h1v43h-1z"/>
<path d="M359 403h1v31h-1z"/>
<path d="M368 403h1v31h-1z"/>
<path d="M392 395h1v39h-1z"/>
<path d="M397 399h1v35h-1z"/>
<path d="M400 420h1v14h-1z"/>
<path d="M420 411h1v23h-1z"/>
<path d="M445 407h1v27h-1z"/>
<path d="M451 411h1v23h-1z"/>
<path d="M463 411h1v23h-1z"/>
<path d="M466 407h1v27h-1z"/>
<path d="M581 407h1v27h-1z"/>
<path d="M621 399h1v35h-1z"/>
<path d="M623 407h1v27h-1z"/>
<path d="M663 403h1v31h-1z"/>
<path d="M674 403h1v31h-1z"/>
<path d="M682 411h1v23h-1z"/>
<path d="M689 407h1v27h-1z"/>
<path d="M698 415h1v19h-1z"/>
<path d="M703 415h1v19h-1z"/>
<path d="M715 420h1v14h-1z"/>
<path d="M719 432h1v2h-1z"/>
<path d="M720 424h1v10h-1z"/>
<path d="M727 428h1v6h-1z"/>
<path d="M729 420h1v14h-1z"/>
<path d="M730 411h1v23h-1z"/>
<path d="M731 403h1v31h-1z"/>
<path d="M740 420h1v14h-1z"/>
<path d="M814 403h1v31h-1z"/>
<path d="M905 424h1v10h-1z"/>
<path d="M919 424h1v10h-1z"/>
<path d="M921 428h1v6h-1z"/>
<path d="M931 428h1v6h-1z"/>
<path d="M932 403h1v31h-1z"/>
<path d="M953 428h1v6h-1z"/>
<path d="M956 411h1v23h-1z"/>
<path d="M957 420h1v14h-1z"/>
</g>
<g fill="url(#l43)">
<path d="M11 387h1v47h-1z"/>
<path d="M19 370h1v64h-1z"/>
<path d="M28 374h1v60h-1z"/>
<path d="M29 391h1v43h-1z"/>
<path d="M56 395h1v39h-1z"/>
<path d="M70 403h1v31h-1z"/>
<path d="M71 403h1v31h-1z"/>
<path d="M78 399h1v35h-1z"/>
<path d="M112 403h1v31h-1z"/>
<path d="M115 403h1v31h-1z"/>
<path d="M285 403h1v31h-1z"/>
<path d="M286 403h1v31h-1z"/>
<path d="M293 411h1v23h-1z"/>
<path d="M304 399h1v35h-1z"/>
<path d="M308 407h1v27h-1z"/>
<path d="M312 420h1v14h-1z"/>
<path d="M316 403h1v31h-1z"/>
<path d="M318 387h1v47h-1z"/>
<path d="M346 403h1v31h-1z"/>
<path d="M356 399h1v35h-1z"/>
<path d="M362 403h1v31h-1z"/>
<path d="M363 403h1v31h-1z"/>
<path d="M366 403h1v31h-1z"/>
<path d="M367 411h1v23h-1z"/>
<path d="M394 403h1v31h-1z"/>
<path d="M395 407h1v27h-1z"/>
<path d="M398 407h1v27h-1z"/>
<path d="M399 403h1v31h-1z"/>
<path d="M401 399h1v35h-1z"/>
<path d="M402 411h1v23h-1z"/>
<path d="M448 391h1v43h-1z"/>
<path d="M449 407h1v27h-1z"/>
<path d="M464 424h1v10h-1z"/>
<path d="M472 411h1v23h-1z"/>
<path d="M521 387h1v47h-1z"/>
<path d="M583 420h1v14h-1z"/>
<path d="M664 411h1v23h-1z"/>
<path d="M665 395h1v39h-1z"/>
<path d="M685 415h1v19h-1z"/>
<path d="M700 420h1v14h-1z"/>
<path d="M706 415h1v19h-1z"/>
<path d="M711 420h1v14h-1z"/>
<path d="M717 411h1v23h-1z"/>
<path d="M721 428h1v6h-1z"/>
<path d="M722 424h1v10h-1z"/>
<path d="M724 420h1v14h-1z"/>
<path d="M732 411h1v23h-1z"/>
<path d="M733 407h1v27h-1z"/>
<path d="M735 415h1v19h-1z"/>
<path d="M736 415h1v19h-1z"/>
<path d="M739 415h1v19h-1z"/>
<path d="M741 424h1v10h-1z"/>
<path d="M784 407h1v27h-1z"/>
<path d="M801 415h1v19h-1z"/>
<path d="M802 411h1v23h-1z"/>
<path d="M920 424h1v10h-1z"/>
<path d="M943 411h1v23h-1z"/>
<path d="M944 420h1v14h-1z"/>
<path d="M950 424h1v10h-1z"/>
</g>
<g fill="url(#l44)">
<path d="M55 403h1v31h-1z"/>
<path d="M60 395h1v39h-1z"/>
<path d="M69 403h1v31h-1z"/>
<path d="M72 387h1v47h-1z"/>
<path d="M73 407h1v27h-1z"/>
<path d="M74 399h1v35h-1z"/>
<path d="M110 403h1v31h-1z"/>
<path d="M111 391h1v43h-1z"/>
<path d="M123 407h1v27h-1z"/>
<path d="M124 403h1v31h-1z"/>
<path d="M125 391h1v43h-1z"/>
<path d="M126 399h1v35h-1z"/>
<path d="M128 403h1v31h-1z"/>
<path d="M129 391h1v43h-1z"/>
<path d="M297 407h1v27h-1z"/>
<path d="M310 411h1v23h-1z"/>
<path d="M350 403h1v31h-1z"/>
<path d="M364 403h1v31h-1z"/>
<path d="M393 378h1v56h-1z"/>
<path d="M404 407h1v27h-1z"/>
<path d="M430 407h1v27h-1z"/>
<path d="M443 407h1v27h-1z"/>
<path d="M444 407h1v27h-1z"/>
<path d="M446 407h1v27h-1z"/>
<path d="M447 395h1v39h-1z"/>
<path d="M452 411h1v23h-1z"/>
<path d="M457 407h1v27h-1z"/>
<path d="M461 411h1v23h-1z"/>
<path d="M462 411h1v23h-1z"/>
<path d="M471 411h1v23h-1z"/>
<path d="M478 415h1v19h-1z"/>
<path d="M480 424h1v10h-1z"/>
<path d="M520 403h1v31h-1z"/>
<path d="M622 407h1v27h-1z"/>
<path d="M705 415h1v19h-1z"/>
<path d="M714 420h1v14h-1z"/>
<path d="M723 420h1v14h-1z"/>
<path d="M728 420h1v14h-1z"/>
<path d="M734 415h1v19h-1z"/>
<path d="M737 415h1v19h-1z"/>
<path d="M744 411h1v23h-1z"/>
<path d="M785 411h1v23h-1z"/>
<path d="M790 420h1v14h-1z"/>
<path d="M791 428h1v6h-1z"/>
<path d="M795 415h1v19h-1z"/>
<path d="M815 415h1v19h-1z"/>
<path d="M900 415h1v19h-1z"/>
<path d="M904 428h1v6h-1z"/>
<path d="M951 420h1v14h-1z"/>
<path d="M952 428h1v6h-1z"/>
</g>
<g fill="url(#l45)">
<path d="M50 407h1v27h-1z"/>
<path d="M51 403h1v31h-1z"/>
<path d="M54 403h1v31h-1z"/>
<path d="M57 395h1v39h-1z"/>
<path d="M58 378h1v56h-1z"/>
<path d="M59 395h1v39h-1z"/>
<path d="M62 378h1v56h-1z"/>
<path d="M68 403h1v31h-1z"/>
<path d="M79 403h1v31h-1z"/>
<path d="M81 395h1v39h-1z"/>
<path d="M82 403h1v31h-1z"/>
<path d="M83 403h1v31h-1z"/>
<path d="M94 403h1v31h-1z"/>
<path d="M103 407h1v27h-1z"/>
<path d="M119 407h1v27h-1z"/>
<path d="M120 407h1v27h-1z"/>
<path d="M127 403h1v31h-1z"/>
<path d="M289 407h1v27h-1z"/>
<path d="M291 391h1v43h-1z"/>
<path d="M347 391h1v43h-1z"/>
<path d="M349 403h1v31h-1z"/>
<path d="M351 399h1v35h-1z"/>
<path d="M403 407h1v27h-1z"/>
<path d="M405 407h1v27h-1z"/>
<path d="M410 407h1v27h-1z"/>
<path d="M433 407h1v27h-1z"/>
<path d="M437 403h1v31h-1z"/>
<path d="M438 403h1v31h-1z"/>
<path d="M441 415h1v19h-1z"/>
<path d="M460 411h1v23h-1z"/>
<path d="M476 411h1v23h-1z"/>
<path d="M477 415h1v19h-1z"/>
<path d="M479 415h1v19h-1z"/>
<path d="M738 415h1v19h-1z"/>
<path d="M742 407h1v27h-1z"/>
<path d="M743 420h1v14h-1z"/>
<path d="M771 428h1v6h-1z"/>
<path d="M772 424h1v10h-1z"/>
<path d="M778 428h1v6h-1z"/>
<path d="M782 428h1v6h-1z"/>
<path d="M783 424h1v10h-1z"/>
<path d="M789 403h1v31h-1z"/>
<path d="M796 428h1v6h-1z"/>
<path d="M800 420h1v14h-1z"/>
<path d="M851 432h1v2h-1z"/>
<path d="M853 432h1v2h-1z"/>
<path d="M854 415h1v19h-1z"/>
<path d="M899 432h1v2h-1z"/>
<path d="M901 420h1v14h-1z"/>
<path d="M902 428h1v6h-1z"/>
<path d="M903 432h1v2h-1z"/>
<path d="M946 420h1v14h-1z"/>
<path d="M948 424h1v10h-1z"/>
<path d="M949 424h1v10h-1z"/>
</g>
<g fill="url(#l46)">
<path d="M53 403h1v31h-1z"/>
<path d="M61 387h1v47h-1z"/>
<path d="M64 403h1v31h-1z"/>
<path d="M80 403h1v31h-1z"/>
<path d="M93 403h1v31h-1z"/>
<path d="M102 407h1v27h-1z"/>
<path d="M104 399h1v35h-1z"/>
<path d="M106 395h1v39h-1z"/>
<path d="M107 407h1v27h-1z"/>
<path d="M108 403h1v31h-1z"/>
<path d="M109 403h1v31h-1z"/>
<path d="M121 403h1v31h-1z"/>
<path d="M290 407h1v27h-1z"/>
<path d="M298 407h1v27h-1z"/>
<path d="M309 403h1v31h-1z"/>
<path d="M311 395h1v39h-1z"/>
<path d="M313 395h1v39h-1z"/>
<path d="M314 395h1v39h-1z"/>
<path d="M348 411h1v23h-1z"/>
<path d="M406 407h1v27h-1z"/>
<path d="M407 407h1v27h-1z"/>
<path d="M408 411h1v23h-1z"/>
<path d="M411 415h1v19h-1z"/>
<path d="M415 411h1v23h-1z"/>
<path d="M436 411h1v23h-1z"/>
<path d="M439 415h1v19h-1z"/>
<path d="M440 411h1v23h-1z"/>
<path d="M442 407h1v27h-1z"/>
<path d="M453 407h1v27h-1z"/>
<path d="M454 411h1v23h-1z"/>
<path d="M455 411h1v23h-1z"/>
<path d="M456 411h1v23h-1z"/>
<path d="M458 415h1v19h-1z"/>
<path d="M459 411h1v23h-1z"/>
<path d="M485 415h1v19h-1z"/>
<path d="M582 411h1v23h-1z"/>
<path d="M699 411h1v23h-1z"/>
<path d="M704 424h1v10h-1z"/>
<path d="M712 432h1v2h-1z"/>
<path d="M745 428h1v6h-1z"/>
<path d="M769 424h1v10h-1z"/>
<path d="M770 420h1v14h-1z"/>
<path d="M776 432h1v2h-1z"/>
<path d="M781 420h1v14h-1z"/>
<path d="M786 415h1v19h-1z"/>
<path d="M792 428h1v6h-1z"/>
<path d="M794 428h1v6h-1z"/>
<path d="M850 415h1v19h-1z"/>
<path d="M858 432h1v2h-1z"/>
<path d="M898 432h1v2h-1z"/>
<path d="M945 420h1v14h-1z"/>
</g>
<g fill="url(#l47)">
<path d="M52 420h1v14h-1z"/>
<path d="M63 424h1v10h-1z"/>
<path d="M65 424h1v10h-1z"/>
<path d="M84 428h1v6h-1z"/>
<path d="M85 424h1v10h-1z"/>
<path d="M90 428h1v6h-1z"/>
<path d="M91 424h1v10h-1z"/>
<path d="M95 420h1v14h-1z"/>
<path d="M98 424h1v10h-1z"/>
<path d="M99 424h1v10h-1z"/>
<path d="M101 428h1v6h-1z"/>
<path d="M105 428h1v6h-1z"/>
<path d="M122 428h1v6h-1z"/>
<path d="M315 424h1v10h-1z"/>
<path d="M412 420h1v14h-1z"/>
<path d="M413 424h1v10h-1z"/>
<path d="M416 428h1v6h-1z"/>
<path d="M417 424h1v10h-1z"/>
<path d="M431 420h1v14h-1z"/>
<path d="M432 424h1v10h-1z"/>
<path d="M434 424h1v10h-1z"/>
<path d="M435 420h1v14h-1z"/>
<path d="M465 424h1v10h-1z"/>
<path d="M482 424h1v10h-1z"/>
<path d="M483 424h1v10h-1z"/>
<path d="M484 420h1v14h-1z"/>
<path d="M666 420h1v14h-1z"/>
<path d="M774 432h1v2h-1z"/>
<path d="M777 432h1v2h-1z"/>
<path d="M780 424h1v10h-1z"/>
<path d="M787 428h1v6h-1z"/>
<path d="M793 424h1v10h-1z"/>
<path d="M797 424h1v10h-1z"/>
<path d="M798 424h1v10h-1z"/>
<path d="M799 428h1v6h-1z"/>
<path d="M828 428h1v6h-1z"/>
<path d="M829 420h1v14h-1z"/>
<path d="M840 424h1v10h-1z"/>
<path d="M842 428h1v6h-1z"/>
<path d="M872 428h1v6h-1z"/>
<path d="M880 432h1v2h-1z"/>
<path d="M881 432h1v2h-1z"/>
<path d="M882 428h1v6h-1z"/>
<path d="M947 428h1v6h-1z"/>
</g>
<g fill="url(#l48)">
<path d="M66 424h1v10h-1z"/>
<path d="M67 428h1v6h-1z"/>
<path d="M86 428h1v6h-1z"/>
<path d="M87 424h1v10h-1z"/>
<path d="M88 424h1v10h-1z"/>
<path d="M89 424h1v10h-1z"/>
<path d="M92 420h1v14h-1z"/>
<path d="M96 428h1v6h-1z"/>
<path d="M97 420h1v14h-1z"/>
<path d="M100 420h1v14h-1z"/>
<path d="M409 428h1v6h-1z"/>
<path d="M414 424h1v10h-1z"/>
<path d="M418 428h1v6h-1z"/>
<path d="M419 428h1v6h-1z"/>
<path d="M473 424h1v10h-1z"/>
<path d="M474 424h1v10h-1z"/>
<path d="M475 420h1v14h-1z"/>
<path d="M481 424h1v10h-1z"/>
<path d="M713 424h1v10h-1z"/>
<path d="M746 424h1v10h-1z"/>
<path d="M747 424h1v10h-1z"/>
<path d="M748 424h1v10h-1z"/>
<path d="M749 424h1v10h-1z"/>
<path d="M750 428h1v6h-1z"/>
<path d="M751 424h1v10h-1z"/>
<path d="M752 424h1v10h-1z"/>
<path d="M753 424h1v10h-1z"/>
<path d="M754 424h1v10h-1z"/>
<path d="M755 432h1v2h-1z"/>
<path d="M757 432h1v2h-1z"/>
<path d="M759 428h1v6h-1z"/>
<path d="M760 432h1v2h-1z"/>
<path d="M761 432h1v2h-1z"/>
<path d="M762 432h1v2h-1z"/>
<path d="M763 424h1v10h-1z"/>
<path d="M765 424h1v10h-1z"/>
<path d="M766 424h1v10h-1z"/>
<path d="M767 420h1v14h-1z"/>
<path d="M768 424h1v10h-1z"/>
<path d="M773 424h1v10h-1z"/>
<path d="M775 432h1v2h-1z"/>
<path d="M779 420h1v14h-1z"/>
<path d="M816 420h1v14h-1z"/>
<path d="M817 424h1v10h-1z"/>
<path d="M818 428h1v6h-1z"/>
<path d="M819 424h1v10h-1z"/>
<path d="M820 424h1v10h-1z"/>
<path d="M821 432h1v2h-1z"/>
<path d="M822 424h1v10h-1z"/>
<path d="M823 428h1v6h-1z"/>
<path d="M824 432h1v2h-1z"/>
<path d="M827 428h1v6h-1z"/>
<path d="M830 424h1v10h-1z"/>
<path d="M831 428h1v6h-1z"/>
<path d="M832 428h1v6h-1z"/>
<path d="M833 428h1v6h-1z"/>
<path d="M835 424h1v10h-1z"/>
<path d="M836 428h1v6h-1z"/>
<path d="M837 420h1v14h-1z"/>
<path d="M838 428h1v6h-1z"/>
<path d="M844 420h1v14h-1z"/>
<path d="M845 432h1v2h-1z"/>
<path d="M846 432h1v2h-1z"/>
<path d="M847 424h1v10h-1z"/>
<path d="M849 428h1v6h-1z"/>
<path d="M855 420h1v14h-1z"/>
<path d="M856 432h1v2h-1z"/>
<path d="M857 424h1v10h-1z"/>
<path d="M862 432h1v2h-1z"/>
<path d="M863 432h1v2h-1z"/>
<path d="M864 432h1v2h-1z"/>
<path d="M873 424h1v10h-1z"/>
<path d="M875 428h1v6h-1z"/>
<path d="M876 428h1v6h-1z"/>
<path d="M877 424h1v10h-1z"/>
<path d="M878 420h1v14h-1z"/>
<path d="M883 432h1v2h-1z"/>
<path d="M884 424h1v10h-1z"/>
<path d="M885 432h1v2h-1z"/>
<path d="M886 428h1v6h-1z"/>
<path d="M887 432h1v2h-1z"/>
<path d="M888 432h1v2h-1z"/>
<path d="M889 432h1v2h-1z"/>
<path d="M890 432h1v2h-1z"/>
<path d="M891 428h1v6h-1z"/>
<path d="M892 428h1v6h-1z"/>
<path d="M893 428h1v6h-1z"/>
<path d="M894 428h1v6h-1z"/>
<path d="M895 428h1v6h-1z"/>
<path d="M896 432h1v2h-1z"/>
<path d="M897 428h1v6h-1z"/>
</g>
<path stroke="#30ffc7" stroke-width="4.0" fill="none" d="M0 436.0h1M2 436.0h2M25 436.0h2M137 436.0h2M336 436.0h2M344 436.0h2M492 436.0h1M558 436.0h1M598 436.0h2M601 436.0h1M603 436.0h2M606 436.0h3M611 436.0h4M616 436.0h4"/>
<path stroke="#00ceff" stroke-width="4.0" fill="none" d="M1 436.0h1M278 436.0h2M288 436.0h1M600 436.0h1M602 436.0h1M605 436.0h1M609 436.0h2M615 436.0h1M634 436.0h2"/>
<path stroke="#51ffa5" stroke-width="4.0" fill="none" d="M4 436.0h2M157 436.0h1M199 436.0h1M214 436.0h4M219 436.0h1M225 436.0h5M231 436.0h1M259 436.0h2M424 436.0h1M528 436.0h1M557 436.0h1M560 436.0h4M594 436.0h2M632 436.0h2"/>
<path stroke="#95ff62" stroke-width="4.0" fill="none" d="M6 436.0h1M8 436.0h3M18 436.0h2M23 436.0h1M135 436.0h2M139 436.0h3M174 436.0h2M184 436.0h2M191 436.0h3M196 436.0h1M200 436.0h1M203 436.0h1M210 436.0h3M220 436.0h4M230 436.0h1M237 436.0h3M245 436.0h7M257 436.0h2M262 436.0h1M271 436.0h3M321 436.0h6M353 436.0h1M423 436.0h1M429 436.0h1M468 436.0h1M531 436.0h1M533 436.0h1M535 436.0h3M542 436.0h1M547 436.0h7M555 436.0h1M564 436.0h1M637 436.0h2M641 436.0h1M657 436.0h1M661 436.0h1M670 436.0h1M676 436.0h4"/>
<path stroke="#d8ff1f" stroke-width="4.0" fill="none" d="M7 436.0h1M17 436.0h1M20 436.0h1M22 436.0h1M142 436.0h3M151 436.0h4M163 436.0h3M178 436.0h2M197 436.0h2M204 436.0h1M233 436.0h1M236 436.0h1M243 436.0h2M253 436.0h1M320 436.0h1M327 436.0h1M377 436.0h4M496 436.0h1M506 436.0h1M515 436.0h6M554 436.0h1M567 436.0h1M569 436.0h1M578 436.0h2M644 436.0h4M655 436.0h2M658 436.0h2M811 436.0h1"/>
<path stroke="#ff5800" stroke-width="4.0" fill="none" d="M11 436.0h2M28 436.0h7M72 436.0h4M78 436.0h2M113 436.0h3M118 436.0h2M124 436.0h2M285 436.0h2M310 436.0h1M312 436.0h2M318 436.0h2M346 436.0h2M350 436.0h1M355 436.0h6M362 436.0h3M366 436.0h6M395 436.0h1M398 436.0h6M420 436.0h3M430 436.0h1M444 436.0h1M449 436.0h1M452 436.0h5M462 436.0h3M472 436.0h1M521 436.0h1M622 436.0h4M664 436.0h2M706 436.0h2M715 436.0h11M734 436.0h8M801 436.0h2M919 436.0h3M944 436.0h1M950 436.0h4"/>
<path stroke="#ff7f00" stroke-width="4.0" fill="none" d="M13 436.0h1M27 436.0h1M49 436.0h1M76 436.0h2M116 436.0h2M131 436.0h1M282 436.0h3M287 436.0h1M292 436.0h6M299 436.0h1M340 436.0h4M352 436.0h1M354 436.0h1M361 436.0h1M365 436.0h1M373 436.0h4M391 436.0h2M396 436.0h2M445 436.0h4M450 436.0h2M469 436.0h3M486 436.0h1M488 436.0h1M522 436.0h6M580 436.0h2M620 436.0h2M639 436.0h2M671 436.0h5M681 436.0h7M689 436.0h5M701 436.0h4M726 436.0h8M906 436.0h4M916 436.0h1M922 436.0h1M934 436.0h1M941 436.0h1M954 436.0h4"/>
<path stroke="#ffcc00" stroke-width="4.0" fill="none" d="M14 436.0h3M35 436.0h2M166 436.0h1M180 436.0h2M205 436.0h1M234 436.0h2M274 436.0h1M301 436.0h5M307 436.0h2M328 436.0h4M381 436.0h1M505 436.0h1M570 436.0h5M576 436.0h2M626 436.0h4M662 436.0h2M668 436.0h2M708 436.0h4M805 436.0h4M812 436.0h7M928 436.0h6M937 436.0h4M942 436.0h2"/>
<path stroke="#f9f300" stroke-width="4.0" fill="none" d="M21 436.0h1M37 436.0h6M132 436.0h2M145 436.0h3M170 436.0h2M209 436.0h1M252 436.0h1M254 436.0h1M300 436.0h1M306 436.0h1M338 436.0h2M386 436.0h5M538 436.0h2M543 436.0h4M568 436.0h1M593 436.0h1M643 436.0h1M660 436.0h1M925 436.0h3"/>
<path stroke="#73ff84" stroke-width="4.0" fill="none" d="M24 436.0h1M158 436.0h2M182 436.0h2M195 436.0h1M213 436.0h1M218 436.0h1M261 436.0h1M266 436.0h5M280 436.0h2M333 436.0h3M425 436.0h3M489 436.0h1M493 436.0h3M500 436.0h5M507 436.0h1M529 436.0h2M559 436.0h1M565 436.0h2M596 436.0h2M636 436.0h1M649 436.0h2"/>
<path stroke="#b6ff41" stroke-width="4.0" fill="none" d="M43 436.0h6M134 436.0h1M148 436.0h3M155 436.0h2M160 436.0h3M167 436.0h3M172 436.0h2M176 436.0h2M186 436.0h5M194 436.0h1M201 436.0h2M206 436.0h3M224 436.0h1M232 436.0h1M240 436.0h3M255 436.0h2M263 436.0h3M275 436.0h3M332 436.0h1M372 436.0h1M382 436.0h4M428 436.0h1M487 436.0h1M490 436.0h2M497 436.0h3M508 436.0h7M532 436.0h1M534 436.0h1M540 436.0h2M556 436.0h1M575 436.0h1M586 436.0h7M630 436.0h2M642 436.0h1M651 436.0h4M809 436.0h2"/>
<path stroke="#ff3200" stroke-width="4.0" fill="none" d="M50 436.0h15M68 436.0h4M81 436.0h3M108 436.0h5M120 436.0h2M126 436.0h5M289 436.0h3M298 436.0h1M348 436.0h2M351 436.0h1M393 436.0h2M404 436.0h9M439 436.0h5M457 436.0h5M476 436.0h6M699 436.0h2M705 436.0h1M712 436.0h3M742 436.0h4M769 436.0h4M783 436.0h3M789 436.0h4M795 436.0h2M852 436.0h4M899 436.0h7M949 436.0h1"/>
<path stroke="#f60b00" stroke-width="4.0" fill="none" d="M65 436.0h3M80 436.0h1M84 436.0h24M122 436.0h2M309 436.0h1M311 436.0h1M314 436.0h4M413 436.0h7M431 436.0h8M465 436.0h3M473 436.0h3M482 436.0h4M582 436.0h4M666 436.0h2M746 436.0h23M773 436.0h10M786 436.0h3M793 436.0h2M797 436.0h4M819 436.0h33M856 436.0h43M945 436.0h4"/>
<path stroke="#0ef7e9" stroke-width="4.0" fill="none" d="M648 436.0h1"/>
<path stroke="#ffa600" stroke-width="4.0" fill="none" d="M680 436.0h1M688 436.0h1M694 436.0h5M803 436.0h2M910 436.0h6M917 436.0h2M923 436.0h2M935 436.0h2"/>
<path stroke="#00ceff" stroke-width="4.0" fill="none" d="M0 440.0h7M20 440.0h2M34 440.0h6M42 440.0h6M134 440.0h2M139 440.0h2M146 440.0h1M149 440.0h1M152 440.0h12M170 440.0h1M179 440.0h1M182 440.0h6M197 440.0h12M211 440.0h5M220 440.0h2M224 440.0h3M229 440.0h4M235 440.0h9M248 440.0h4M254 440.0h3M263 440.0h4M269 440.0h1M276 440.0h2M279 440.0h8M307 440.0h2M326 440.0h14M345 440.0h3M369 440.0h1M376 440.0h1M378 440.0h1M383 440.0h1M421 440.0h7M429 440.0h7M468 440.0h1M489 440.0h14M504 440.0h3M508 440.0h12M523 440.0h6M530 440.0h3M534 440.0h7M542 440.0h8M565 440.0h2M568 440.0h2M571 440.0h1M573 440.0h2M584 440.0h3M588 440.0h8M604 440.0h2M618 440.0h2M624 440.0h7M633 440.0h5M642 440.0h25M668 440.0h4M677 440.0h2"/>
<path stroke="#95ff62" stroke-width="4.0" fill="none" d="M7 440.0h3M16 440.0h3M22 440.0h5M145 440.0h1M150 440.0h2M171 440.0h1M188 440.0h6M222 440.0h2M247 440.0h1M262 440.0h1M267 440.0h2M371 440.0h2M390 440.0h1M550 440.0h2M572 440.0h1M578 440.0h3M676 440.0h1"/>
<path stroke="#73ff84" stroke-width="4.0" fill="none" d="M10 440.0h1M31 440.0h3M40 440.0h2M136 440.0h3M172 440.0h1M194 440.0h3M244 440.0h3M257 440.0h5M342 440.0h2M370 440.0h1M596 440.0h2"/>
<path stroke="#f9f300" stroke-width="4.0" fill="none" d="M11 440.0h1M287 440.0h3M296 440.0h1M315 440.0h1M443 440.0h1M476 440.0h4M631 440.0h2M813 440.0h1M937 440.0h2"/>
<path stroke="#ff5800" stroke-width="4.0" fill="none" d="M12 440.0h4M19 440.0h1M28 440.0h1M69 440.0h3M77 440.0h1M81 440.0h5M88 440.0h1M92 440.0h2M98 440.0h1M109 440.0h1M114 440.0h5M121 440.0h4M130 440.0h3M295 440.0h1M316 440.0h2M362 440.0h2M368 440.0h1M391 440.0h13M407 440.0h2M418 440.0h3M450 440.0h1M457 440.0h1M465 440.0h1M473 440.0h1M480 440.0h2M486 440.0h2M581 440.0h1M639 440.0h3M675 440.0h1M700 440.0h1M705 440.0h2M714 440.0h1M717 440.0h3M724 440.0h1M728 440.0h1M734 440.0h7M771 440.0h1M783 440.0h4M791 440.0h1M795 440.0h2M801 440.0h1M815 440.0h1M851 440.0h1M853 440.0h1M871 440.0h3M901 440.0h1M903 440.0h2M950 440.0h3"/>
<path stroke="#ff7f00" stroke-width="4.0" fill="none" d="M27 440.0h1M55 440.0h1M59 440.0h4M66 440.0h3M72 440.0h1M79 440.0h2M86 440.0h2M94 440.0h4M99 440.0h7M112 440.0h2M119 440.0h2M125 440.0h2M290 440.0h1M340 440.0h2M349 440.0h6M358 440.0h2M366 440.0h1M373 440.0h1M404 440.0h3M410 440.0h3M436 440.0h2M451 440.0h6M466 440.0h2M469 440.0h4M474 440.0h2M488 440.0h1M520 440.0h1M621 440.0h1M672 440.0h2M682 440.0h1M686 440.0h5M701 440.0h4M715 440.0h1M720 440.0h4M729 440.0h5M741 440.0h4M802 440.0h5M814 440.0h1M905 440.0h3M931 440.0h2M943 440.0h4M953 440.0h5"/>
<path stroke="#ff3200" stroke-width="4.0" fill="none" d="M29 440.0h2M53 440.0h2M58 440.0h1M107 440.0h2M127 440.0h2M293 440.0h2M299 440.0h3M462 440.0h3M712 440.0h1M745 440.0h1M772 440.0h3M776 440.0h3M780 440.0h3M789 440.0h2M792 440.0h1M797 440.0h4M828 440.0h3M839 440.0h4M852 440.0h1M854 440.0h2M870 440.0h1M898 440.0h3M902 440.0h1"/>
<path stroke="#51ffa5" stroke-width="4.0" fill="none" d="M48 440.0h2M270 440.0h6M278 440.0h1M503 440.0h1M507 440.0h1M529 440.0h1"/>
<path stroke="#ffa600" stroke-width="4.0" fill="none" d="M50 440.0h3M64 440.0h2M74 440.0h3M78 440.0h1M89 440.0h3M110 440.0h2M309 440.0h6M355 440.0h3M360 440.0h2M367 440.0h1M374 440.0h2M409 440.0h1M413 440.0h3M438 440.0h1M458 440.0h4M482 440.0h4M582 440.0h2M638 440.0h1M667 440.0h1M674 440.0h1M683 440.0h3M691 440.0h4M707 440.0h2M716 440.0h1M725 440.0h3M908 440.0h2M911 440.0h3M917 440.0h1M933 440.0h2"/>
<path stroke="#f60b00" stroke-width="4.0" fill="none" d="M56 440.0h2M63 440.0h1M129 440.0h1M521 440.0h1M713 440.0h1M746 440.0h25M775 440.0h1M779 440.0h1M787 440.0h2M793 440.0h2M816 440.0h12M831 440.0h8M843 440.0h8M856 440.0h14M874 440.0h24M947 440.0h3"/>
<path stroke="#c60000" stroke-width="4.0" fill="none" d="M73 440.0h1"/>
<path stroke="#ffcc00" stroke-width="4.0" fill="none" d="M106 440.0h1M291 440.0h2M318 440.0h8M348 440.0h1M364 440.0h2M439 440.0h4M522 440.0h1M622 440.0h2M679 440.0h3M695 440.0h5M709 440.0h3M807 440.0h3M812 440.0h1M910 440.0h1M914 440.0h3M918 440.0h13M935 440.0h2M939 440.0h4"/>
<path stroke="#b6ff41" stroke-width="4.0" fill="none" d="M133 440.0h1M147 440.0h2M164 440.0h1M173 440.0h3M209 440.0h2M233 440.0h2M253 440.0h1M302 440.0h3M377 440.0h1M379 440.0h4M384 440.0h2M428 440.0h1M533 440.0h1M541 440.0h1M552 440.0h13M620 440.0h1M810 440.0h2"/>
<path stroke="#d8ff1f" stroke-width="4.0" fill="none" d="M141 440.0h4M165 440.0h5M176 440.0h3M180 440.0h2M252 440.0h1M297 440.0h2M305 440.0h2M386 440.0h4M416 440.0h2M444 440.0h6M567 440.0h1M570 440.0h1M575 440.0h3M587 440.0h1"/>
<path stroke="#30ffc7" stroke-width="4.0" fill="none" d="M216 440.0h4M227 440.0h2M344 440.0h1M598 440.0h6M606 440.0h12"/>
<path stroke="#30ffc7" stroke-width="6.0" fill="none" d="M0 445.0h1M214 445.0h2M259 445.0h2M344 445.0h2M491 445.0h3M500 445.0h4M563 445.0h1M598 445.0h6M605 445.0h2M609 445.0h11M634 445.0h1"/>
<path stroke="#00ceff" stroke-width="6.0" fill="none" d="M1 445.0h17M22 445.0h8M32 445.0h7M40 445.0h4M52 445.0h2M56 445.0h3M78 445.0h1M90 445.0h2M103 445.0h1M107 445.0h3M127 445.0h2M132 445.0h4M144 445.0h21M170 445.0h16M193 445.0h6M201 445.0h5M207 445.0h7M216 445.0h5M226 445.0h2M232 445.0h12M249 445.0h2M254 445.0h5M261 445.0h3M269 445.0h4M274 445.0h3M281 445.0h4M288 445.0h1M300 445.0h1M303 445.0h2M307 445.0h2M310 445.0h5M316 445.0h1M322 445.0h19M342 445.0h2M346 445.0h1M352 445.0h1M354 445.0h5M363 445.0h10M374 445.0h6M382 445.0h6M390 445.0h7M410 445.0h1M417 445.0h3M429 445.0h3M454 445.0h1M456 445.0h2M459 445.0h10M473 445.0h1M476 445.0h3M483 445.0h3M494 445.0h6M504 445.0h8M515 445.0h4M523 445.0h11M535 445.0h3M540 445.0h2M549 445.0h2M552 445.0h11M564 445.0h9M574 445.0h4M584 445.0h11M604 445.0h1M607 445.0h2M620 445.0h3M626 445.0h7M635 445.0h7M645 445.0h8M654 445.0h6M667 445.0h3M676 445.0h5M687 445.0h5M705 445.0h1M712 445.0h1M725 445.0h1M735 445.0h4M740 445.0h4M761 445.0h1M765 445.0h5M780 445.0h5M786 445.0h2M794 445.0h2M799 445.0h5M807 445.0h4M819 445.0h1M825 445.0h1M842 445.0h1M847 445.0h1M851 445.0h2M869 445.0h1M881 445.0h3M898 445.0h2M903 445.0h2M906 445.0h2M916 445.0h4M923 445.0h1M940 445.0h7M952 445.0h2"/>
<path stroke="#b6ff41" stroke-width="6.0" fill="none" d="M18 445.0h4M167 445.0h2M206 445.0h1M273 445.0h1M305 445.0h2M543 445.0h6M643 445.0h2"/>
<path stroke="#95ff62" stroke-width="6.0" fill="none" d="M30 445.0h2M44 445.0h1M186 445.0h7M222 445.0h4M251 445.0h3M321 445.0h1M512 445.0h3M534 445.0h1M542 445.0h1M551 445.0h1M578 445.0h2"/>
<path stroke="#73ff84" stroke-width="6.0" fill="none" d="M39 445.0h1M45 445.0h6M65 445.0h1M73 445.0h1M88 445.0h2M93 445.0h1M104 445.0h1M119 445.0h1M129 445.0h2M221 445.0h1M264 445.0h5M277 445.0h4M317 445.0h2M347 445.0h5M359 445.0h2M403 445.0h1M490 445.0h1M519 445.0h2M573 445.0h1M595 445.0h3M623 445.0h3M642 445.0h1M653 445.0h1M671 445.0h1M683 445.0h4M708 445.0h1M732 445.0h2M745 445.0h4M797 445.0h2M816 445.0h1M833 445.0h3M853 445.0h6M867 445.0h2M870 445.0h1M892 445.0h6M912 445.0h3M937 445.0h1M950 445.0h1"/>
<path stroke="#ffa600" stroke-width="6.0" fill="none" d="M51 445.0h1M54 445.0h1M76 445.0h1M79 445.0h3M105 445.0h2M286 445.0h1M315 445.0h1M397 445.0h3M416 445.0h1M432 445.0h4M469 445.0h4M479 445.0h4M488 445.0h2M583 445.0h1M702 445.0h3M709 445.0h1M716 445.0h4M724 445.0h1M726 445.0h6M749 445.0h1M763 445.0h2M773 445.0h7M788 445.0h1M821 445.0h2M826 445.0h7M843 445.0h4M848 445.0h3M859 445.0h1M861 445.0h2M884 445.0h3M900 445.0h2M938 445.0h1M954 445.0h4"/>
<path stroke="#f9f300" stroke-width="6.0" fill="none" d="M55 445.0h1M59 445.0h1M66 445.0h7M74 445.0h1M77 445.0h1M86 445.0h2M111 445.0h1M117 445.0h2M121 445.0h6M131 445.0h1M169 445.0h1M287 445.0h1M291 445.0h6M309 445.0h1M319 445.0h2M402 445.0h1M411 445.0h1M414 445.0h1M420 445.0h2M451 445.0h1M486 445.0h2M521 445.0h1M538 445.0h2M666 445.0h1M672 445.0h4M754 445.0h3M770 445.0h1M804 445.0h3M874 445.0h4M879 445.0h1M887 445.0h1M889 445.0h1M926 445.0h11M939 445.0h1"/>
<path stroke="#ff5800" stroke-width="6.0" fill="none" d="M60 445.0h5M82 445.0h2M85 445.0h1M92 445.0h1M94 445.0h9M110 445.0h1M112 445.0h5M120 445.0h1M285 445.0h1M297 445.0h2M361 445.0h2M400 445.0h2M404 445.0h6M415 445.0h1M436 445.0h12M452 445.0h2M455 445.0h1M474 445.0h2M582 445.0h1M663 445.0h3M692 445.0h10M739 445.0h1M758 445.0h3M762 445.0h1M771 445.0h2M789 445.0h1M796 445.0h1M837 445.0h5M863 445.0h4M873 445.0h1M891 445.0h1M905 445.0h1M908 445.0h4M915 445.0h1M951 445.0h1"/>
<path stroke="#f60b00" stroke-width="6.0" fill="none" d="M75 445.0h1M84 445.0h1M289 445.0h2M299 445.0h1M341 445.0h1M373 445.0h1M412 445.0h2M448 445.0h3M458 445.0h1M522 445.0h1M580 445.0h2M681 445.0h2M706 445.0h2M710 445.0h2M713 445.0h3M720 445.0h4M734 445.0h1M744 445.0h1M750 445.0h4M757 445.0h1M785 445.0h1M790 445.0h4M811 445.0h5M817 445.0h2M820 445.0h1M823 445.0h2M836 445.0h1M860 445.0h1M871 445.0h2M878 445.0h1M880 445.0h1M888 445.0h1M890 445.0h1M902 445.0h1M920 445.0h3M924 445.0h2M947 445.0h3"/>
<path stroke="#51ffa5" stroke-width="6.0" fill="none" d="M136 445.0h8M199 445.0h2M228 445.0h4M244 445.0h5M353 445.0h1M388 445.0h2M422 445.0h7M633 445.0h1M670 445.0h1"/>
<path stroke="#d8ff1f" stroke-width="6.0" fill="none" d="M165 445.0h2M301 445.0h2M380 445.0h2M660 445.0h3"/>
</g>
<g shape-rendering="crispEdges" transform="translate(82.40 0) scale(1.45225 1)">
<path fill="#e0e0ff" d="M0 796V796h1V792h1V796h2V800h1V808h3V812h1V800h2V808h1V812h1V816h1V804h1V808h4V812h1V804h1V812h1V800h1V808h5V804h1V812h1V804h2V808h3V800h1V808h1V816h1V812h1V816h1V812h1V808h1V812h1V808h1V812h1V808h1V812h1V816h1V821h2V816h1V821h1V816h1V821h2V816h1V812h2V816h1V821h2V825h2V821h2V812h1V821h1V829h1V821h2V812h1V825h1V829h2V833h2V816h1V825h2V821h2V816h1V821h3V812h1V821h4V816h2V812h1V800h1V812h1V808h3V812h1V816h1V808h5V821h2V812h3V816h1V821h6V825h1V812h1V821h1V812h1V821h3V812h1V825h1V816h2V821h1V825h1V821h1V812h1V821h2V825h1V821h3V825h1V816h1V821h1V825h4V821h2V825h2V816h1V821h1V816h1V812h1V816h3V829h4V825h1V829h1V821h1V829h1V825h1V829h1V816h1V821h1V829h2V821h1V816h1V829h2V825h2V833h3V829h2V816h1V825h2V816h1V825h2V829h2V821h1V825h1V821h1V829h2V821h1V825h2V833h1V829h4V821h1V829h1V825h1V829h1V833h1V825h1V833h2V829h1V825h1V833h3V825h2V821h1V829h2V825h1V829h1V825h2V833h1V825h2V833h1V825h1V833h1V821h1V833h1V825h2V829h2V825h2V821h1V816h1V821h2V816h2V812h1V816h1V812h1V816h1V821h1V812h1V816h5V804h1V821h1V812h1V816h2V812h1V816h1V812h2V816h1V821h1V825h1V821h1V833h2V829h2V821h1V829h1V833h3V837h1V825h1V833h2V829h1V825h1V829h2V825h1V833h1V829h1V825h1V833h1V825h1V833h1V821h1V829h2V837h1V829h1V825h1V821h1V816h4V804h1V796h1V808h1V812h1V808h2V804h1V808h1V800h1V804h1V808h3V804h2V796h1V808h1V812h3V808h1V816h2V812h1V821h1V816h1V821h1V825h2V829h1V821h1V812h1V821h2V825h1V821h1V812h1V821h1V816h1V821h1V812h13V808h1V812h2V804h1V812h1V804h1V808h1V800h1V804h1V808h1V800h1V808h1V804h1V800h1V792h1V804h1V808h4V812h2V808h1V816h1V812h3V804h2V812h1V808h1V804h1V812h2V816h1V808h1V816h1V808h1V812h2V816h1V812h1V816h1V808h1V812h2V804h3V800h1V804h1V808h2V821h2V829h2V821h1V829h1V816h1V821h1V825h1V821h1V816h1V821h1V812h1V821h2V816h1V825h1V829h1V825h1V829h7V825h1V816h1V825h1V816h1V812h1V804h1V800h1V804h2V812h1V816h1V821h3V829h3V821h1V816h5V812h1V808h1V816h1V808h1V804h1V812h1V804h1V816h1V812h1V825h1V821h1V816h1V812h1V800h2V796h1V784h3V779h1V788h1V784h1V792h2V800h2V792h3V800h2V808h2V812h1V804h2V812h5V825h1V812h1V816h1V812h1V816h1V812h2V816h1V812h2V816h1V821h2V812h2V816h2V821h5V812h1V821h1V816h1V808h3V812h2V825h1V812h1V816h2V821h2V816h1V812h1V829h1V825h2V821h1V825h1V821h2V829h1V812h1V825h1V816h1V821h1V825h3V812h1V825h4V821h3V816h1V812h1V821h1V808h1V821h2V825h2V829h2V833h1V829h1V837h2V833h1V829h1V833h2V837h2V841h2V837h2V833h1V837h2V829h1V833h1V837h2V833h1V837h3V833h4V837h1V829h1V825h1V841h2V837h1V833h1V837h1V833h1V829h2V845h2V833h1V841h1V845h1V837h1V841h5V829h1V841h1V837h3V833h1V837h4V833h2V837h2V833h1V837h2V833h1V837h1V821h2V808h1V821h1V825h1V829h2V825h3V821h2V825h1V816h2V821h2V829h1V833h2V829h1V833h1V829h1V837h5V845h2V837h1V845h2V829h1V825h1V833h1V837h2V833h1V841h1V837h1V829h1V833h1V841h1V829h1V837h1V845h1V837h1V841h1V845h2V841h2V837h1V845h2V837h1V845h2V853h1V849h4V845h3V853h3V837h1V845h1V841h1V845h1V853h5V849h3V841h1V845h4V837h1V849h1V853h4V849h4V845h1V849h1V841h1V849h1V845h2V853h2V849h4V853h4V849h1V841h1V849h1V853h1V858h1V853h1V849h1V858h3V853h1V849h1V853h1V858h1V845h1V853h1V845h1V849h1V841h1V845h5V837h5V841h7V837h1V841h1V837h3V845h1V837h1V841h1V845h1V837h1V841h1V845h1V841h1V837h2V829h2V825h2V833h1V837h1V833h1V837h1V849h2V841h1V849h2V845h1V849h2V845h1V849h1V853h2V858h4V853h5V849h1V858h1V849h1V845h1V862h1V853h1V858h1V853h3V849h1V858h3V845h2V853h1V858h1V853h1V858h1V853h1V845h1V849h1V853h1V849h1V845h1V849h1V845h1V849h1V845h1V853h2V849h1V845h1V853h3V849h1V853h1V849h1V853h2V845h1V853h1V858h1V853h1V866h1V862h1V849h1V858h3V853h1V858h1V849h1V858h4V866h1V862h1V853h2V858h2V862h2V845h1V858h1V853h3V845h2V849h1V841h1V837h1V849h2V845h1V849h1V841h1V845h1V849h2V841h3V845h2V837h1V853h1V845h1V849h1V841h2V849h2V853h2V849h3V845h1V849h1V845h1V853h1V845h1V849h1V858h1V853h2V845h1V841h1V837h1V833h1V825h1V816h1V837h2V833h1V829h1V833h1V829h1V841h1V849h-1V845h-1V841h-3V845h-2V833h-1V841h-2V845h-1V849h-1V853h-1V862h-1V866h-2V862h-3V858h-6V862h-2V858h-5V853h-1V862h-1V853h-3V849h-2V858h-6V853h-1V858h-2V849h-2V858h-2V853h-1V862h-3V866h-1V862h-1V870h-2V866h-2V862h-1V870h-2V874h-1V870h-1V866h-5V870h-1V866h-4V874h-2V866h-3V862h-10V866h-2V862h-2V858h-4V862h-5V866h-3V862h-1V858h-2V866h-3V858h-1V862h-3V866h-1V870h-2V853h-1V858h-1V866h-2V862h-2V866h-8V862h-2V853h-1V858h-3V866h-1V858h-4V853h-1V849h-1V845h-1V841h-1V837h-1V841h-1V837h-1V845h-3V849h-1V853h-1V849h-1V853h-3V845h-1V853h-1V849h-1V845h-2V849h-10V845h-2V853h-7V858h-3V862h-2V866h-1V862h-3V866h-3V858h-1V870h-1V866h-2V858h-3V862h-4V858h-4V862h-2V853h-2V858h-8V862h-4V858h-1V853h-3V858h-1V862h-1V858h-4V862h-5V853h-4V862h-3V853h-1V862h-1V858h-4V862h-2V853h-9V858h-2V853h-2V849h-1V845h-1V849h-1V841h-2V845h-1V849h-2V845h-2V841h-3V853h-6V845h-5V841h-4V837h-1V833h-5V829h-1V833h-4V837h-2V833h-1V837h-1V825h-1V829h-1V837h-1V845h-1V841h-1V845h-15V849h-1V841h-1V849h-5V853h-2V849h-1V845h-1V853h-2V841h-1V845h-5V849h-2V841h-2V845h-2V849h-2V845h-7V841h-2V845h-5V849h-2V845h-8V837h-1V841h-1V837h-2V833h-2V829h-2V825h-1V829h-2V825h-1V833h-1V829h-2V833h-3V837h-1V829h-1V833h-3V829h-2V833h-1V829h-1V837h-1V833h-6V837h-1V829h-2V833h-3V829h-1V833h-1V837h-1V825h-2V821h-3V829h-1V833h-1V825h-1V833h-5V829h-2V825h-2V833h-2V829h-10V837h-1V825h-7V829h-1V821h-2V816h-1V808h-1V804h-1V800h-1V804h-1V808h-2V804h-1V800h-2V796h-2V792h-2V800h-1V804h-1V808h-1V812h-1V821h-1V825h-1V829h-1V833h-1V821h-1V825h-1V821h-2V816h-2V825h-1V816h-1V821h-1V825h-4V829h-2V837h-3V833h-2V829h-1V825h-1V821h-2V812h-1V808h-1V812h-1V821h-1V825h-1V833h-1V829h-1V833h-1V837h-9V841h-1V833h-1V829h-2V825h-1V829h-1V825h-1V829h-1V833h-2V825h-1V837h-4V833h-2V825h-1V821h-2V816h-1V812h-2V816h-1V821h-2V825h-10V821h-1V829h-1V821h-8V829h-1V821h-3V816h-4V812h-1V808h-2V816h-7V812h-1V821h-1V816h-1V821h-16V829h-1V825h-1V829h-3V833h-2V829h-3V837h-4V829h-3V825h-2V821h-5V816h-3V829h-1V821h-7V825h-3V816h-1V825h-1V829h-4V833h-1V837h-1V841h-1V845h-1V837h-3V841h-12V845h-1V837h-1V845h-1V841h-4V837h-3V841h-3V837h-1V833h-1V829h-2V825h-1V829h-5V833h-1V825h-1V829h-6V833h-2V829h-5V833h-4V837h-1V841h-1V837h-3V841h-1V845h-1V837h-1V841h-6V837h-7V833h-2V841h-7V833h-1V841h-1V837h-8V841h-2V833h-1V837h-4V833h-1V837h-3V833h-6V837h-2V841h-3V833h-2V837h-2V833h-2V837h-1V845h-1V829h-1V833h-1V837h-10V825h-4V829h-3V833h-2V829h-2V833h-4V829h-1V833h-2V829h-3V833h-1V829h-3V833h-2V829h-2V833h-2V829h-7V833h-3V829h-6V821h-2V829h-2V825h-1V821h-2V825h-1V816h-1V825h-1V821h-3V816h-1V821h-1V816h-1V825h-3V829h-11V833h-3V841h-2V837h-3V829h-3V837h-2V829h-3V833h-4V825h-1V821h-2V825h-1V829h-2V825h-1V829h-1V825h-1V829h-3V821h-7V825h-3V816h-2V821h-6V816h-7V821h-1V812h-1V821h-2V816h-3V812h-1V825h-1V821h-2V808h-2V821h-1V816h-3V808h-1V804h-2V800h-1V804h-1z"/>
<path fill="#800000" d="M0 848V848h1V839h22V848h5V839h3V848h2V852h1V856h7V852h2V848h1V852h1V856h2V852h5V856h1V860h1V864h2V860h4V864h2V860h1V864h2V860h1V872h1V864h1V868h3V872h3V868h1V872h1V864h5V868h8V864h1V868h1V864h1V860h4V864h1V860h4V868h2V864h5V868h1V864h4V868h2V864h3V876h2V864h2V860h1V868h1V872h1V868h1V860h1V868h4V864h5V860h4V864h2V860h1V864h1V856h3V864h7V868h4V864h2V868h2V864h3V868h4V872h4V864h2V868h1V864h1V868h8V860h1V868h1V864h5V872h2V864h4V868h1V860h3V868h8V864h4V860h1V864h2V868h1V864h3V868h2V876h1V864h3V868h1V864h2V860h1V864h4V868h3V864h6V872h1V864h3V868h3V860h1V868h1V860h5V864h6V872h2V864h1V872h5V868h8V864h7V868h2V872h5V864h1V868h9V872h9V868h1V864h8V872h3V868h3V872h1V868h2V864h1V868h1V864h1V868h13V856h1V864h7V868h1V864h1V856h4V860h1V856h1V860h1V864h2V860h7V856h1V864h2V856h1V860h1V856h1V860h6V856h3V860h3V856h1V864h2V856h1V864h3V860h3V856h2V860h4V864h9V868h2V872h4V864h1V872h3V868h1V864h2V872h5V868h2V864h9V868h1V864h6V860h1V868h2V872h1V860h7V864h4V868h7V860h6V864h2V856h6V864h1V868h1V872h3V864h2V868h5V864h2V868h1V872h11V868h1V864h3V868h2V860h1V868h1V872h4V868h1V864h1V868h1V872h1V864h1V868h12V864h2V868h1V860h1V864h2V868h4V872h1V868h3V864h4V856h2V852h2V864h1V860h1V864h1V868h1V872h2V876h1V881h1V872h3V881h1V876h2V881h6V876h7V872h3V876h2V868h1V872h1V876h3V872h1V876h3V872h4V885h1V876h8V872h2V881h1V876h1V872h1V876h1V872h2V868h1V872h5V876h3V868h1V872h2V876h3V872h2V868h5V872h4V864h3V868h1V881h2V876h1V872h4V881h6V872h3V876h4V872h4V885h1V876h1V881h1V889h2V881h1V885h3V889h12V885h1V897h2V881h1V889h4V893h1V889h1V893h1V885h4V889h2V885h3V889h2V885h1V889h3V885h3V893h3V885h2V897h1V889h1V893h1V889h2V885h3V889h2V893h2V881h3V897h1V893h5V889h11V885h1V881h5V889h1V885h3V876h2V872h1V885h6V881h1V885h1V881h1V885h2V876h1V885h2V881h4V876h8V881h4V897h13V893h2V897h1V893h8V897h9V893h1V897h1V901h14V897h4V893h4V897h1V893h2V897h2V893h3V901h9V897h11V901h1V893h3V889h1V897h2V885h7V889h9V893h1V889h5V885h3V889h14V893h4V881h4V885h8V925h-1V917h-1V925h-1V917h-1V933h-2V925h-1V929h-3V933h-1V925h-3V917h-1V925h-3V913h-2V929h-2V917h-1V925h-2V909h-1V933h-1V929h-1V933h-2V925h-1V933h-1V929h-1V921h-3V933h-1V929h-3V913h-1V929h-3V925h-1V933h-1V925h-1V929h-2V937h-1V933h-1V917h-1V929h-1V933h-1V937h-1V933h-1V925h-1V921h-1V937h-2V933h-1V937h-1V933h-5V937h-4V933h-1V937h-1V929h-1V937h-1V933h-1V937h-3V925h-1V929h-1V933h-2V937h-1V929h-1V933h-1V937h-14V929h-1V937h-1V925h-1V921h-1V937h-3V921h-1V933h-1V937h-1V929h-1V937h-2V925h-1V937h-1V933h-1V937h-1V929h-1V937h-1V933h-1V925h-1V933h-1V929h-1V937h-1V933h-3V929h-1V925h-1V933h-2V937h-3V933h-1V929h-1V937h-1V929h-2V933h-1V929h-1V925h-1V921h-1V909h-1V913h-1V909h-3V896h-1V909h-1V917h-1V925h-2V921h-1V913h-1V917h-1V921h-1V925h-1V933h-1V929h-2V933h-1V921h-1V933h-1V929h-1V933h-2V925h-1V909h-1V937h-1V933h-1V921h-1V917h-1V913h-1V929h-1V933h-1V925h-1V929h-1V925h-1V933h-1V937h-4V929h-2V933h-1V925h-1V929h-2V925h-1V929h-2V937h-1V929h-1V937h-3V933h-1V937h-4V929h-4V933h-1V929h-4V933h-1V917h-1V925h-1V913h-1V929h-1V925h-1V921h-6V913h-1V917h-1V909h-1V917h-1V925h-2V933h-1V925h-1V921h-1V925h-2V929h-1V933h-1V929h-1V937h-1V929h-1V917h-1V925h-3V929h-1V937h-1V925h-1V917h-1V913h-1V921h-4V929h-1V921h-2V925h-2V917h-1V921h-2V917h-2V933h-1V921h-1V917h-1V921h-1V913h-2V900h-1V921h-4V917h-2V913h-2V917h-4V921h-1V909h-1V904h-2V921h-1V900h-1V925h-1V917h-1V921h-1V925h-1V900h-1V917h-1V909h-1V913h-2V900h-1V909h-1V904h-4V900h-1V925h-1V913h-2V909h-3V917h-1V896h-1V913h-1V921h-1V913h-2V892h-2V913h-3V921h-1V913h-2V909h-1V904h-1V896h-1V909h-1V917h-1V913h-3V909h-2V913h-2V904h-1V913h-1V921h-1V913h-1V917h-2V900h-1V917h-1V913h-4V921h-1V900h-1V921h-1V904h-1V896h-1V913h-1V904h-1V909h-2V913h-1V921h-3V909h-3V921h-1V913h-1V909h-3V917h-4V909h-1V925h-1V917h-1V913h-3V896h-1V917h-1V913h-3V904h-1V913h-1V904h-1V913h-3V909h-1V904h-1V909h-4V904h-3V913h-3V925h-1V904h-1V909h-3V900h-1V913h-1V909h-1V913h-1V909h-2V896h-1V909h-1V896h-1V909h-1V896h-1V909h-1V892h-1V909h-2V917h-1V909h-1V888h-1V909h-1V904h-3V888h-1V913h-1V909h-1V904h-1V909h-1V884h-1V900h-1V892h-1V909h-4V896h-1V904h-2V909h-2V904h-1V896h-3V913h-1V904h-1V909h-1V904h-1V913h-1V884h-1V900h-1V909h-1V896h-1V909h-1V913h-1V896h-2V913h-1V904h-1V896h-1V904h-2V909h-2V913h-1V917h-1V921h-1V925h-1V929h-4V921h-3V917h-1V925h-1V929h-2V917h-3V925h-1V917h-1V904h-1V913h-1V929h-2V917h-5V921h-1V913h-1V917h-3V913h-1V917h-2V909h-1V913h-1V896h-1V900h-1V913h-5V921h-1V917h-1V921h-1V909h-2V917h-1V925h-1V929h-1V913h-1V929h-1V925h-1V913h-2V909h-1V892h-1V913h-1V904h-1V913h-2V900h-1V913h-1V917h-1V933h-2V929h-1V933h-1V917h-1V929h-2V925h-1V921h-1V913h-1V933h-1V917h-1V913h-5V917h-1V904h-1V925h-1V909h-1V913h-1V904h-1V913h-2V909h-1V884h-1V900h-1V921h-1V913h-1V892h-1V904h-1V913h-1V909h-3V917h-1V892h-1V909h-2V904h-1V896h-1V913h-2V888h-1V900h-1V884h-1V904h-2V896h-1V904h-1V909h-1V917h-1V909h-1V917h-1V909h-3V900h-1V909h-2V896h-1V913h-1V904h-1V913h-1V888h-1V900h-1V917h-1V904h-1V909h-2V917h-1V896h-1V909h-1V896h-1V904h-1V909h-2V904h-1V888h-1V904h-1V896h-1V904h-1V900h-1V917h-1V909h-3V904h-1V888h-1V900h-1V913h-1V917h-1V909h-2V921h-2V904h-1V917h-1V909h-1V917h-1V892h-1V909h-2V929h-1V900h-2V925h-1V900h-1V917h-1V909h-1V913h-2V904h-1V913h-1V904h-1V913h-1V909h-3V913h-3V892h-1V913h-1V909h-1V917h-1V909h-1V896h-1V913h-2V896h-1V917h-1V909h-2V904h-1V913h-2V892h-1V913h-1V904h-1V888h-1V904h-1V913h-1V909h-1V896h-1V917h-1V904h-1V888h-2V904h-4V900h-2V904h-2V888h-1V904h-1V909h-1V900h-2V904h-1V900h-2V892h-1V904h-1V913h-1V892h-1V896h-1V900h-1V904h-2V900h-1V892h-1V900h-2V913h-1V896h-1V917h-1V909h-1V904h-2V888h-1V900h-3V909h-2V888h-1V896h-1V909h-1V892h-1V900h-1V896h-1V909h-1V896h-1V909h-3V900h-1V892h-1V896h-1V904h-1V888h-1V900h-1V904h-2V892h-1V896h-1V904h-1V888h-1V896h-2V888h-1V904h-1V896h-2V880h-1V896h-1V904h-1V880h-1V900h-1V904h-6V896h-1V904h-1V913h-1V904h-1V896h-1V900h-1V888h-1V896h-1V904h-6V913h-1V900h-1V892h-1V888h-1V896h-3V909h-1V896h-1V888h-1V913h-1V880h-1V896h-1V904h-1V888h-1V904h-1V900h-2V909h-1V888h-1V904h-1V917h-1V904h-1V917h-2V904h-1V888h-1V892h-1V900h-1V888h-1V900h-1V917h-2V904h-1V913h-1V904h-3V909h-1V904h-4V900h-1V909h-2V896h-1V909h-2V904h-1V896h-1V909h-1V913h-1V933h-1V909h-1V913h-3V888h-2V909h-1V896h-1V909h-2V896h-1V909h-3V913h-1V900h-1V933h-1V904h-1V913h-2V933h-1V925h-1V929h-2V925h-1V933h-1V925h-1V909h-2V925h-1V929h-1V933h-1V929h-3V933h-1V929h-1V933h-1V909h-2V900h-1V909h-2V904h-1V909h-1V904h-3V913h-1V892h-1V909h-4V933h-1V929h-2V909h-1V929h-1V884h-1V892h-1V900h-2V884h-1V900h-2V909h-3V925h-1V909h-1V913h-1V904h-1V880h-1V892h-1V876h-1V892h-1V888h-2V880h-1V892h-1V888h-6V900h-1V896h-1V888h-2V892h-1V896h-1V880h-1V888h-2V892h-1V888h-1V884h-1V892h-1V888h-1V884h-1V876h-1V884h-1V876h-1V872h-1V867h-1V884h-1V876h-1V884h-1V892h-2V888h-1V880h-1V888h-1V892h-4V884h-1V876h-1V892h-1z"/>
<g fill="url(#u)">
<path d="M0 796h1v53h-1z"/>
<path d="M1 792h1v49h-1z"/>
<path d="M2 796h1v45h-1z"/>
<path d="M3 796h1v45h-1z"/>
<path d="M4 800h1v41h-1z"/>
<path d="M5 808h1v33h-1z"/>
<path d="M6 808h1v33h-1z"/>
<path d="M7 808h1v33h-1z"/>
<path d="M8 812h1v29h-1z"/>
<path d="M9 800h1v41h-1z"/>
<path d="M10 800h1v41h-1z"/>
<path d="M11 812h1v29h-1z"/>
<path d="M12 812h1v29h-1z"/>
<path d="M13 816h1v25h-1z"/>
<path d="M14 804h1v37h-1z"/>
<path d="M15 808h1v33h-1z"/>
<path d="M16 808h1v33h-1z"/>
<path d="M17 808h1v33h-1z"/>
<path d="M18 812h1v29h-1z"/>
<path d="M19 812h1v29h-1z"/>
<path d="M20 804h1v37h-1z"/>
<path d="M21 812h1v29h-1z"/>
<path d="M22 808h1v33h-1z"/>
<path d="M23 808h1v41h-1z"/>
<path d="M24 808h1v41h-1z"/>
<path d="M25 808h1v41h-1z"/>
<path d="M26 808h1v41h-1z"/>
<path d="M27 808h1v41h-1z"/>
<path d="M28 808h1v33h-1z"/>
<path d="M29 812h1v29h-1z"/>
<path d="M30 812h1v29h-1z"/>
<path d="M31 812h1v37h-1z"/>
<path d="M32 812h1v37h-1z"/>
<path d="M33 812h1v41h-1z"/>
<path d="M34 812h1v46h-1z"/>
<path d="M35 808h1v50h-1z"/>
<path d="M36 808h1v50h-1z"/>
<path d="M37 816h1v42h-1z"/>
<path d="M38 816h1v42h-1z"/>
<path d="M39 816h1v42h-1z"/>
<path d="M40 812h1v46h-1z"/>
<path d="M41 812h1v41h-1z"/>
<path d="M42 812h1v41h-1z"/>
<path d="M43 812h1v37h-1z"/>
<path d="M44 812h1v41h-1z"/>
<path d="M45 812h1v46h-1z"/>
<path d="M46 812h1v46h-1z"/>
<path d="M47 821h1v32h-1z"/>
<path d="M48 821h1v32h-1z"/>
<path d="M49 821h1v32h-1z"/>
<path d="M50 816h1v37h-1z"/>
<path d="M51 821h1v32h-1z"/>
<path d="M52 816h1v42h-1z"/>
<path d="M53 821h1v41h-1z"/>
<path d="M54 821h1v45h-1z"/>
<path d="M55 816h1v50h-1z"/>
<path d="M56 812h1v50h-1z"/>
<path d="M57 812h1v50h-1z"/>
<path d="M58 816h1v46h-1z"/>
<path d="M59 825h1v37h-1z"/>
<path d="M60 825h1v41h-1z"/>
<path d="M61 825h1v41h-1z"/>
<path d="M62 825h1v37h-1z"/>
<path d="M63 821h1v45h-1z"/>
<path d="M64 821h1v45h-1z"/>
<path d="M65 821h1v41h-1z"/>
<path d="M66 829h1v45h-1z"/>
<path d="M67 829h1v37h-1z"/>
<path d="M68 821h1v49h-1z"/>
<path d="M69 821h1v49h-1z"/>
<path d="M70 821h1v49h-1z"/>
<path d="M71 829h1v45h-1z"/>
<path d="M72 829h1v45h-1z"/>
<path d="M73 829h1v45h-1z"/>
<path d="M74 833h1v37h-1z"/>
<path d="M75 833h1v41h-1z"/>
<path d="M76 825h1v41h-1z"/>
<path d="M77 825h1v41h-1z"/>
<path d="M78 825h1v41h-1z"/>
<path d="M79 821h1v45h-1z"/>
<path d="M80 821h1v45h-1z"/>
<path d="M81 821h1v49h-1z"/>
<path d="M82 821h1v49h-1z"/>
<path d="M83 821h1v49h-1z"/>
<path d="M84 821h1v49h-1z"/>
<path d="M85 821h1v49h-1z"/>
<path d="M86 821h1v49h-1z"/>
<path d="M87 821h1v49h-1z"/>
<path d="M88 821h1v49h-1z"/>
<path d="M89 821h1v45h-1z"/>
<path d="M90 816h1v54h-1z"/>
<path d="M91 816h1v50h-1z"/>
<path d="M92 816h1v46h-1z"/>
<path d="M93 808h1v54h-1z"/>
<path d="M94 812h1v50h-1z"/>
<path d="M95 808h1v54h-1z"/>
<path d="M96 812h1v54h-1z"/>
<path d="M97 812h1v50h-1z"/>
<path d="M98 812h1v50h-1z"/>
<path d="M99 816h1v46h-1z"/>
<path d="M100 808h1v54h-1z"/>
<path d="M101 816h1v54h-1z"/>
<path d="M102 812h1v58h-1z"/>
<path d="M103 812h1v54h-1z"/>
<path d="M104 816h1v50h-1z"/>
<path d="M105 821h1v45h-1z"/>
<path d="M106 821h1v45h-1z"/>
<path d="M107 812h1v54h-1z"/>
<path d="M108 812h1v58h-1z"/>
<path d="M109 821h1v45h-1z"/>
<path d="M110 821h1v45h-1z"/>
<path d="M111 821h1v45h-1z"/>
<path d="M112 821h1v45h-1z"/>
<path d="M113 821h1v49h-1z"/>
<path d="M114 821h1v49h-1z"/>
<path d="M115 825h1v41h-1z"/>
<path d="M116 825h1v41h-1z"/>
<path d="M117 825h1v41h-1z"/>
<path d="M118 821h1v57h-1z"/>
<path d="M119 821h1v57h-1z"/>
<path d="M120 821h1v45h-1z"/>
<path d="M121 821h1v45h-1z"/>
<path d="M122 821h1v41h-1z"/>
<path d="M123 821h1v49h-1z"/>
<path d="M124 821h1v53h-1z"/>
<path d="M125 825h1v45h-1z"/>
<path d="M126 825h1v37h-1z"/>
<path d="M127 821h1v49h-1z"/>
<path d="M128 821h1v49h-1z"/>
<path d="M129 825h1v45h-1z"/>
<path d="M130 825h1v45h-1z"/>
<path d="M131 821h1v45h-1z"/>
<path d="M132 821h1v45h-1z"/>
<path d="M133 821h1v45h-1z"/>
<path d="M134 825h1v41h-1z"/>
<path d="M135 821h1v45h-1z"/>
<path d="M136 821h1v41h-1z"/>
<path d="M137 821h1v41h-1z"/>
<path d="M138 825h1v37h-1z"/>
<path d="M139 825h1v37h-1z"/>
<path d="M140 821h1v45h-1z"/>
<path d="M141 825h1v41h-1z"/>
<path d="M142 825h1v37h-1z"/>
<path d="M143 825h1v41h-1z"/>
<path d="M144 825h1v33h-1z"/>
<path d="M145 821h1v37h-1z"/>
<path d="M146 821h1v37h-1z"/>
<path d="M147 825h1v41h-1z"/>
<path d="M148 825h1v41h-1z"/>
<path d="M149 821h1v45h-1z"/>
<path d="M150 821h1v45h-1z"/>
<path d="M151 821h1v45h-1z"/>
<path d="M152 816h1v50h-1z"/>
<path d="M153 816h1v50h-1z"/>
<path d="M154 816h1v54h-1z"/>
<path d="M155 816h1v54h-1z"/>
<path d="M156 829h1v41h-1z"/>
<path d="M157 829h1v41h-1z"/>
<path d="M158 829h1v37h-1z"/>
<path d="M159 829h1v37h-1z"/>
<path d="M160 829h1v41h-1z"/>
<path d="M161 829h1v41h-1z"/>
<path d="M162 829h1v37h-1z"/>
<path d="M163 829h1v37h-1z"/>
<path d="M164 829h1v37h-1z"/>
<path d="M165 829h1v41h-1z"/>
<path d="M166 825h1v45h-1z"/>
<path d="M167 821h1v49h-1z"/>
<path d="M168 837h1v33h-1z"/>
<path d="M169 829h1v45h-1z"/>
<path d="M170 825h1v49h-1z"/>
<path d="M171 825h1v49h-1z"/>
<path d="M172 829h1v45h-1z"/>
<path d="M173 829h1v37h-1z"/>
<path d="M174 825h1v41h-1z"/>
<path d="M175 825h1v45h-1z"/>
<path d="M176 833h1v33h-1z"/>
<path d="M177 833h1v37h-1z"/>
<path d="M178 833h1v37h-1z"/>
<path d="M179 829h1v41h-1z"/>
<path d="M180 829h1v41h-1z"/>
<path d="M181 825h1v45h-1z"/>
<path d="M182 825h1v45h-1z"/>
<path d="M183 825h1v45h-1z"/>
<path d="M184 825h1v45h-1z"/>
<path d="M185 825h1v37h-1z"/>
<path d="M186 825h1v45h-1z"/>
<path d="M187 829h1v37h-1z"/>
<path d="M188 829h1v37h-1z"/>
<path d="M189 829h1v37h-1z"/>
<path d="M190 825h1v41h-1z"/>
<path d="M191 829h1v37h-1z"/>
<path d="M192 829h1v45h-1z"/>
<path d="M193 829h1v45h-1z"/>
<path d="M194 829h1v37h-1z"/>
<path d="M195 825h1v41h-1z"/>
<path d="M196 833h1v33h-1z"/>
<path d="M197 833h1v33h-1z"/>
<path d="M198 829h1v41h-1z"/>
<path d="M199 829h1v33h-1z"/>
<path d="M200 829h1v33h-1z"/>
<path d="M201 829h1v33h-1z"/>
<path d="M202 829h1v41h-1z"/>
<path d="M203 829h1v41h-1z"/>
<path d="M204 829h1v41h-1z"/>
<path d="M205 829h1v41h-1z"/>
<path d="M206 833h1v37h-1z"/>
<path d="M207 825h1v45h-1z"/>
<path d="M208 833h1v37h-1z"/>
<path d="M209 833h1v37h-1z"/>
<path d="M210 833h1v33h-1z"/>
<path d="M211 833h1v33h-1z"/>
<path d="M212 833h1v33h-1z"/>
<path d="M213 833h1v33h-1z"/>
<path d="M214 833h1v29h-1z"/>
<path d="M215 825h1v41h-1z"/>
<path d="M216 825h1v41h-1z"/>
<path d="M217 829h1v41h-1z"/>
<path d="M218 829h1v37h-1z"/>
<path d="M219 829h1v37h-1z"/>
<path d="M220 829h1v37h-1z"/>
<path d="M221 829h1v41h-1z"/>
<path d="M222 829h1v41h-1z"/>
<path d="M223 829h1v49h-1z"/>
<path d="M224 833h1v33h-1z"/>
<path d="M225 833h1v33h-1z"/>
<path d="M226 833h1v33h-1z"/>
<path d="M227 833h1v37h-1z"/>
<path d="M228 833h1v33h-1z"/>
<path d="M229 833h1v33h-1z"/>
<path d="M230 829h1v33h-1z"/>
<path d="M231 837h1v29h-1z"/>
<path d="M232 833h1v33h-1z"/>
<path d="M233 829h1v37h-1z"/>
<path d="M234 829h1v37h-1z"/>
<path d="M235 829h1v41h-1z"/>
<path d="M236 833h1v37h-1z"/>
<path d="M237 829h1v41h-1z"/>
<path d="M238 825h1v41h-1z"/>
<path d="M239 825h1v41h-1z"/>
<path d="M240 825h1v41h-1z"/>
<path d="M241 825h1v41h-1z"/>
<path d="M242 821h1v45h-1z"/>
<path d="M243 821h1v45h-1z"/>
<path d="M244 821h1v53h-1z"/>
<path d="M245 821h1v45h-1z"/>
<path d="M246 821h1v45h-1z"/>
<path d="M247 825h1v41h-1z"/>
<path d="M248 825h1v45h-1z"/>
<path d="M249 821h1v49h-1z"/>
<path d="M250 821h1v49h-1z"/>
<path d="M251 821h1v41h-1z"/>
<path d="M252 821h1v49h-1z"/>
<path d="M253 821h1v41h-1z"/>
<path d="M254 821h1v41h-1z"/>
<path d="M255 816h1v46h-1z"/>
<path d="M256 825h1v37h-1z"/>
<path d="M257 821h1v41h-1z"/>
<path d="M258 821h1v45h-1z"/>
<path d="M259 821h1v45h-1z"/>
<path d="M260 821h1v45h-1z"/>
<path d="M261 821h1v45h-1z"/>
<path d="M262 816h1v50h-1z"/>
<path d="M263 821h1v45h-1z"/>
<path d="M264 821h1v53h-1z"/>
<path d="M265 825h1v49h-1z"/>
<path d="M266 829h1v37h-1z"/>
<path d="M267 833h1v41h-1z"/>
<path d="M268 833h1v41h-1z"/>
<path d="M269 833h1v41h-1z"/>
<path d="M270 829h1v45h-1z"/>
<path d="M271 829h1v45h-1z"/>
<path d="M272 829h1v41h-1z"/>
<path d="M273 833h1v37h-1z"/>
<path d="M274 833h1v37h-1z"/>
<path d="M275 833h1v37h-1z"/>
<path d="M276 833h1v37h-1z"/>
<path d="M277 837h1v33h-1z"/>
<path d="M278 829h1v41h-1z"/>
<path d="M279 837h1v33h-1z"/>
<path d="M280 833h1v33h-1z"/>
<path d="M281 833h1v33h-1z"/>
<path d="M282 833h1v33h-1z"/>
<path d="M283 833h1v33h-1z"/>
<path d="M284 833h1v33h-1z"/>
<path d="M285 833h1v33h-1z"/>
<path d="M286 833h1v33h-1z"/>
<path d="M287 833h1v37h-1z"/>
<path d="M288 833h1v37h-1z"/>
<path d="M289 833h1v41h-1z"/>
<path d="M290 833h1v41h-1z"/>
<path d="M291 833h1v41h-1z"/>
<path d="M292 829h1v45h-1z"/>
<path d="M293 829h1v45h-1z"/>
<path d="M294 829h1v37h-1z"/>
<path d="M295 837h1v33h-1z"/>
<path d="M296 833h1v37h-1z"/>
<path d="M297 829h1v41h-1z"/>
<path d="M298 825h1v45h-1z"/>
<path d="M299 821h1v49h-1z"/>
<path d="M300 821h1v49h-1z"/>
<path d="M301 821h1v49h-1z"/>
<path d="M302 821h1v49h-1z"/>
<path d="M303 816h1v54h-1z"/>
<path d="M304 808h1v66h-1z"/>
<path d="M305 816h1v58h-1z"/>
<path d="M306 816h1v58h-1z"/>
<path d="M307 816h1v58h-1z"/>
<path d="M308 812h1v62h-1z"/>
<path d="M309 812h1v62h-1z"/>
<path d="M310 812h1v62h-1z"/>
<path d="M311 812h1v62h-1z"/>
<path d="M312 812h1v62h-1z"/>
<path d="M313 812h1v58h-1z"/>
<path d="M314 812h1v54h-1z"/>
<path d="M315 821h1v45h-1z"/>
<path d="M316 808h1v58h-1z"/>
<path d="M317 808h1v58h-1z"/>
<path d="M318 808h1v58h-1z"/>
<path d="M319 812h1v54h-1z"/>
<path d="M320 812h1v54h-1z"/>
<path d="M321 812h1v54h-1z"/>
<path d="M322 812h1v62h-1z"/>
<path d="M323 812h1v62h-1z"/>
<path d="M324 816h1v58h-1z"/>
<path d="M325 816h1v54h-1z"/>
<path d="M326 821h1v49h-1z"/>
<path d="M327 821h1v49h-1z"/>
<path d="M328 821h1v53h-1z"/>
<path d="M329 829h1v41h-1z"/>
<path d="M330 829h1v41h-1z"/>
<path d="M331 829h1v37h-1z"/>
<path d="M332 829h1v41h-1z"/>
<path d="M333 821h1v45h-1z"/>
<path d="M334 821h1v49h-1z"/>
<path d="M335 821h1v49h-1z"/>
<path d="M336 825h1v45h-1z"/>
<path d="M337 825h1v45h-1z"/>
<path d="M338 821h1v49h-1z"/>
<path d="M339 821h1v49h-1z"/>
<path d="M340 821h1v49h-1z"/>
<path d="M341 816h1v54h-1z"/>
<path d="M342 821h1v49h-1z"/>
<path d="M343 812h1v58h-1z"/>
<path d="M344 812h1v58h-1z"/>
<path d="M345 812h1v58h-1z"/>
<path d="M346 812h1v58h-1z"/>
<path d="M347 812h1v46h-1z"/>
<path d="M348 812h1v54h-1z"/>
<path d="M349 812h1v54h-1z"/>
<path d="M350 812h1v54h-1z"/>
<path d="M351 812h1v54h-1z"/>
<path d="M352 812h1v54h-1z"/>
<path d="M353 812h1v54h-1z"/>
<path d="M354 812h1v54h-1z"/>
<path d="M355 812h1v58h-1z"/>
<path d="M356 812h1v54h-1z"/>
<path d="M357 812h1v46h-1z"/>
<path d="M358 812h1v46h-1z"/>
<path d="M359 808h1v50h-1z"/>
<path d="M360 812h1v46h-1z"/>
<path d="M361 804h1v58h-1z"/>
<path d="M362 808h1v50h-1z"/>
<path d="M363 808h1v54h-1z"/>
<path d="M364 808h1v58h-1z"/>
<path d="M365 808h1v58h-1z"/>
<path d="M366 808h1v54h-1z"/>
<path d="M367 808h1v54h-1z"/>
<path d="M368 808h1v54h-1z"/>
<path d="M369 800h1v62h-1z"/>
<path d="M370 800h1v62h-1z"/>
<path d="M371 804h1v58h-1z"/>
<path d="M372 808h1v54h-1z"/>
<path d="M373 808h1v50h-1z"/>
<path d="M374 808h1v58h-1z"/>
<path d="M375 808h1v58h-1z"/>
<path d="M376 812h1v46h-1z"/>
<path d="M377 812h1v50h-1z"/>
<path d="M378 812h1v46h-1z"/>
<path d="M379 821h1v41h-1z"/>
<path d="M380 812h1v50h-1z"/>
<path d="M381 812h1v50h-1z"/>
<path d="M382 812h1v50h-1z"/>
<path d="M383 812h1v50h-1z"/>
<path d="M384 812h1v50h-1z"/>
<path d="M385 812h1v46h-1z"/>
<path d="M386 812h1v46h-1z"/>
<path d="M387 812h1v46h-1z"/>
<path d="M388 821h1v41h-1z"/>
<path d="M389 812h1v50h-1z"/>
<path d="M390 816h1v46h-1z"/>
<path d="M391 816h1v42h-1z"/>
<path d="M392 816h1v50h-1z"/>
<path d="M393 816h1v50h-1z"/>
<path d="M394 816h1v42h-1z"/>
<path d="M395 816h1v50h-1z"/>
<path d="M396 816h1v50h-1z"/>
<path d="M397 816h1v50h-1z"/>
<path d="M398 816h1v46h-1z"/>
<path d="M399 816h1v46h-1z"/>
<path d="M400 812h1v50h-1z"/>
<path d="M401 812h1v46h-1z"/>
<path d="M402 808h1v50h-1z"/>
<path d="M403 804h1v58h-1z"/>
<path d="M404 804h1v58h-1z"/>
<path d="M405 808h1v54h-1z"/>
<path d="M406 812h1v50h-1z"/>
<path d="M407 812h1v54h-1z"/>
<path d="M408 816h1v50h-1z"/>
<path d="M409 825h1v41h-1z"/>
<path d="M410 825h1v41h-1z"/>
<path d="M411 829h1v37h-1z"/>
<path d="M412 829h1v37h-1z"/>
<path d="M413 829h1v37h-1z"/>
<path d="M414 829h1v37h-1z"/>
<path d="M415 816h1v50h-1z"/>
<path d="M416 825h1v45h-1z"/>
<path d="M417 825h1v45h-1z"/>
<path d="M418 821h1v53h-1z"/>
<path d="M419 816h1v58h-1z"/>
<path d="M420 821h1v53h-1z"/>
<path d="M421 816h1v58h-1z"/>
<path d="M422 821h1v45h-1z"/>
<path d="M423 821h1v53h-1z"/>
<path d="M424 825h1v49h-1z"/>
<path d="M425 833h1v41h-1z"/>
<path d="M426 829h1v41h-1z"/>
<path d="M427 829h1v37h-1z"/>
<path d="M428 829h1v37h-1z"/>
<path d="M429 829h1v45h-1z"/>
<path d="M430 829h1v45h-1z"/>
<path d="M431 829h1v45h-1z"/>
<path d="M432 829h1v45h-1z"/>
<path d="M433 829h1v45h-1z"/>
<path d="M434 829h1v41h-1z"/>
<path d="M435 825h1v45h-1z"/>
<path d="M436 821h1v45h-1z"/>
<path d="M437 825h1v41h-1z"/>
<path d="M438 816h1v50h-1z"/>
<path d="M439 812h1v54h-1z"/>
<path d="M440 804h1v62h-1z"/>
<path d="M441 800h1v66h-1z"/>
<path d="M442 804h1v62h-1z"/>
<path d="M443 812h1v54h-1z"/>
<path d="M444 812h1v54h-1z"/>
<path d="M445 816h1v54h-1z"/>
<path d="M446 821h1v45h-1z"/>
<path d="M447 825h1v41h-1z"/>
<path d="M448 825h1v41h-1z"/>
<path d="M449 829h1v37h-1z"/>
<path d="M450 829h1v37h-1z"/>
<path d="M451 829h1v37h-1z"/>
<path d="M452 821h1v41h-1z"/>
<path d="M453 821h1v49h-1z"/>
<path d="M454 816h1v54h-1z"/>
<path d="M455 816h1v58h-1z"/>
<path d="M456 816h1v46h-1z"/>
<path d="M457 816h1v46h-1z"/>
<path d="M458 812h1v50h-1z"/>
<path d="M459 808h1v54h-1z"/>
<path d="M460 816h1v46h-1z"/>
<path d="M461 808h1v54h-1z"/>
<path d="M462 808h1v54h-1z"/>
<path d="M463 812h1v54h-1z"/>
<path d="M464 812h1v54h-1z"/>
<path d="M465 816h1v50h-1z"/>
<path d="M466 812h1v54h-1z"/>
<path d="M467 825h1v45h-1z"/>
<path d="M468 821h1v49h-1z"/>
<path d="M469 816h1v54h-1z"/>
<path d="M470 812h1v58h-1z"/>
<path d="M471 804h1v66h-1z"/>
<path d="M472 800h1v70h-1z"/>
<path d="M473 796h1v74h-1z"/>
<path d="M474 792h1v70h-1z"/>
<path d="M475 784h1v78h-1z"/>
<path d="M476 784h1v78h-1z"/>
<path d="M477 788h1v74h-1z"/>
<path d="M478 788h1v74h-1z"/>
<path d="M479 792h1v70h-1z"/>
<path d="M480 792h1v74h-1z"/>
<path d="M481 796h1v70h-1z"/>
<path d="M482 800h1v58h-1z"/>
<path d="M483 800h1v58h-1z"/>
<path d="M484 796h1v62h-1z"/>
<path d="M485 792h1v66h-1z"/>
<path d="M486 796h1v62h-1z"/>
<path d="M487 800h1v58h-1z"/>
<path d="M488 808h1v58h-1z"/>
<path d="M489 812h1v58h-1z"/>
<path d="M490 812h1v62h-1z"/>
<path d="M491 821h1v53h-1z"/>
<path d="M492 816h1v58h-1z"/>
<path d="M493 816h1v50h-1z"/>
<path d="M494 816h1v50h-1z"/>
<path d="M495 816h1v54h-1z"/>
<path d="M496 816h1v54h-1z"/>
<path d="M497 816h1v54h-1z"/>
<path d="M498 816h1v54h-1z"/>
<path d="M499 829h1v41h-1z"/>
<path d="M500 821h1v45h-1z"/>
<path d="M501 821h1v45h-1z"/>
<path d="M502 821h1v49h-1z"/>
<path d="M503 821h1v53h-1z"/>
<path d="M504 821h1v53h-1z"/>
<path d="M505 821h1v53h-1z"/>
<path d="M506 821h1v53h-1z"/>
<path d="M507 821h1v53h-1z"/>
<path d="M508 821h1v53h-1z"/>
<path d="M509 821h1v53h-1z"/>
<path d="M510 825h1v49h-1z"/>
<path d="M511 825h1v49h-1z"/>
<path d="M512 816h1v58h-1z"/>
<path d="M513 816h1v58h-1z"/>
<path d="M514 821h1v49h-1z"/>
<path d="M515 821h1v45h-1z"/>
<path d="M516 825h1v41h-1z"/>
<path d="M517 825h1v41h-1z"/>
<path d="M518 825h1v45h-1z"/>
<path d="M519 825h1v45h-1z"/>
<path d="M520 825h1v37h-1z"/>
<path d="M521 816h1v54h-1z"/>
<path d="M522 825h1v49h-1z"/>
<path d="M523 821h1v53h-1z"/>
<path d="M524 812h1v62h-1z"/>
<path d="M525 812h1v62h-1z"/>
<path d="M526 812h1v58h-1z"/>
<path d="M527 816h1v50h-1z"/>
<path d="M528 816h1v54h-1z"/>
<path d="M529 829h1v45h-1z"/>
<path d="M530 825h1v41h-1z"/>
<path d="M531 821h1v49h-1z"/>
<path d="M532 825h1v45h-1z"/>
<path d="M533 825h1v45h-1z"/>
<path d="M534 825h1v45h-1z"/>
<path d="M535 821h1v49h-1z"/>
<path d="M536 821h1v49h-1z"/>
<path d="M537 829h1v41h-1z"/>
<path d="M538 825h1v45h-1z"/>
<path d="M539 825h1v45h-1z"/>
<path d="M540 825h1v45h-1z"/>
<path d="M541 825h1v45h-1z"/>
<path d="M542 825h1v45h-1z"/>
<path d="M543 825h1v41h-1z"/>
<path d="M544 829h1v37h-1z"/>
<path d="M545 821h1v49h-1z"/>
<path d="M546 825h1v37h-1z"/>
<path d="M547 821h1v45h-1z"/>
<path d="M548 821h1v45h-1z"/>
<path d="M549 825h1v45h-1z"/>
<path d="M550 825h1v45h-1z"/>
<path d="M551 825h1v45h-1z"/>
<path d="M552 821h1v49h-1z"/>
<path d="M553 829h1v45h-1z"/>
<path d="M554 825h1v45h-1z"/>
<path d="M555 825h1v45h-1z"/>
<path d="M556 825h1v45h-1z"/>
<path d="M557 821h1v45h-1z"/>
<path d="M558 821h1v45h-1z"/>
<path d="M559 825h1v41h-1z"/>
<path d="M560 816h1v50h-1z"/>
<path d="M561 821h1v37h-1z"/>
<path d="M562 821h1v37h-1z"/>
<path d="M563 816h1v37h-1z"/>
<path d="M564 821h1v32h-1z"/>
<path d="M565 821h1v45h-1z"/>
<path d="M566 825h1v37h-1z"/>
<path d="M567 825h1v41h-1z"/>
<path d="M568 829h1v41h-1z"/>
<path d="M569 829h1v45h-1z"/>
<path d="M570 833h1v41h-1z"/>
<path d="M571 829h1v49h-1z"/>
<path d="M572 837h1v45h-1z"/>
<path d="M573 837h1v37h-1z"/>
<path d="M574 837h1v37h-1z"/>
<path d="M575 837h1v37h-1z"/>
<path d="M576 837h1v45h-1z"/>
<path d="M577 837h1v41h-1z"/>
<path d="M578 837h1v41h-1z"/>
<path d="M579 837h1v45h-1z"/>
<path d="M580 841h1v41h-1z"/>
<path d="M581 841h1v41h-1z"/>
<path d="M582 837h1v45h-1z"/>
<path d="M583 837h1v45h-1z"/>
<path d="M584 837h1v45h-1z"/>
<path d="M585 837h1v41h-1z"/>
<path d="M586 837h1v41h-1z"/>
<path d="M587 833h1v45h-1z"/>
<path d="M588 833h1v45h-1z"/>
<path d="M589 837h1v41h-1z"/>
<path d="M590 837h1v41h-1z"/>
<path d="M591 837h1v41h-1z"/>
<path d="M592 837h1v37h-1z"/>
<path d="M593 837h1v37h-1z"/>
<path d="M594 837h1v37h-1z"/>
<path d="M595 837h1v41h-1z"/>
<path d="M596 841h1v37h-1z"/>
<path d="M597 841h1v29h-1z"/>
<path d="M598 837h1v37h-1z"/>
<path d="M599 837h1v41h-1z"/>
<path d="M600 833h1v45h-1z"/>
<path d="M601 833h1v45h-1z"/>
<path d="M602 841h1v33h-1z"/>
<path d="M603 841h1v37h-1z"/>
<path d="M604 837h1v41h-1z"/>
<path d="M605 837h1v41h-1z"/>
<path d="M606 837h1v37h-1z"/>
<path d="M607 837h1v37h-1z"/>
<path d="M608 837h1v37h-1z"/>
<path d="M609 833h1v41h-1z"/>
<path d="M610 845h1v41h-1z"/>
<path d="M611 845h1v33h-1z"/>
<path d="M612 837h1v41h-1z"/>
<path d="M613 841h1v37h-1z"/>
<path d="M614 845h1v33h-1z"/>
<path d="M615 845h1v33h-1z"/>
<path d="M616 841h1v37h-1z"/>
<path d="M617 841h1v37h-1z"/>
<path d="M618 841h1v37h-1z"/>
<path d="M619 841h1v33h-1z"/>
<path d="M620 841h1v33h-1z"/>
<path d="M621 833h1v49h-1z"/>
<path d="M622 841h1v37h-1z"/>
<path d="M623 837h1v37h-1z"/>
<path d="M624 837h1v41h-1z"/>
<path d="M625 837h1v37h-1z"/>
<path d="M626 837h1v37h-1z"/>
<path d="M627 837h1v33h-1z"/>
<path d="M628 837h1v37h-1z"/>
<path d="M629 837h1v37h-1z"/>
<path d="M630 837h1v37h-1z"/>
<path d="M631 837h1v37h-1z"/>
<path d="M632 837h1v37h-1z"/>
<path d="M633 837h1v41h-1z"/>
<path d="M634 837h1v41h-1z"/>
<path d="M635 837h1v41h-1z"/>
<path d="M636 837h1v33h-1z"/>
<path d="M637 837h1v37h-1z"/>
<path d="M638 833h1v41h-1z"/>
<path d="M639 837h1v41h-1z"/>
<path d="M640 829h1v49h-1z"/>
<path d="M641 821h1v57h-1z"/>
<path d="M642 816h1v58h-1z"/>
<path d="M643 829h1v45h-1z"/>
<path d="M644 825h1v45h-1z"/>
<path d="M645 829h1v41h-1z"/>
<path d="M646 829h1v41h-1z"/>
<path d="M647 825h1v45h-1z"/>
<path d="M648 825h1v45h-1z"/>
<path d="M649 825h1v49h-1z"/>
<path d="M650 825h1v49h-1z"/>
<path d="M651 821h1v53h-1z"/>
<path d="M652 825h1v49h-1z"/>
<path d="M653 825h1v41h-1z"/>
<path d="M654 825h1v41h-1z"/>
<path d="M655 825h1v41h-1z"/>
<path d="M656 825h1v45h-1z"/>
<path d="M657 829h1v53h-1z"/>
<path d="M658 833h1v49h-1z"/>
<path d="M659 833h1v45h-1z"/>
<path d="M660 833h1v41h-1z"/>
<path d="M661 833h1v41h-1z"/>
<path d="M662 837h1v37h-1z"/>
<path d="M663 837h1v37h-1z"/>
<path d="M664 837h1v45h-1z"/>
<path d="M665 837h1v45h-1z"/>
<path d="M666 837h1v45h-1z"/>
<path d="M667 845h1v37h-1z"/>
<path d="M668 845h1v37h-1z"/>
<path d="M669 845h1v37h-1z"/>
<path d="M670 845h1v29h-1z"/>
<path d="M671 845h1v29h-1z"/>
<path d="M672 845h1v29h-1z"/>
<path d="M673 833h1v45h-1z"/>
<path d="M674 833h1v45h-1z"/>
<path d="M675 833h1v45h-1z"/>
<path d="M676 837h1v41h-1z"/>
<path d="M677 837h1v37h-1z"/>
<path d="M678 841h1v33h-1z"/>
<path d="M679 841h1v33h-1z"/>
<path d="M680 837h1v37h-1z"/>
<path d="M681 833h1v53h-1z"/>
<path d="M682 833h1v45h-1z"/>
<path d="M683 841h1v41h-1z"/>
<path d="M684 837h1v53h-1z"/>
<path d="M685 841h1v49h-1z"/>
<path d="M686 845h1v37h-1z"/>
<path d="M687 845h1v41h-1z"/>
<path d="M688 849h1v37h-1z"/>
<path d="M689 849h1v37h-1z"/>
<path d="M690 845h1v45h-1z"/>
<path d="M691 845h1v45h-1z"/>
<path d="M692 845h1v45h-1z"/>
<path d="M693 845h1v45h-1z"/>
<path d="M694 845h1v45h-1z"/>
<path d="M695 845h1v45h-1z"/>
<path d="M696 845h1v45h-1z"/>
<path d="M697 845h1v45h-1z"/>
<path d="M698 845h1v45h-1z"/>
<path d="M699 853h1v37h-1z"/>
<path d="M700 853h1v37h-1z"/>
<path d="M701 849h1v41h-1z"/>
<path d="M702 849h1v37h-1z"/>
<path d="M703 849h1v50h-1z"/>
<path d="M704 849h1v50h-1z"/>
<path d="M705 853h1v29h-1z"/>
<path d="M706 845h1v45h-1z"/>
<path d="M707 853h1v37h-1z"/>
<path d="M708 853h1v37h-1z"/>
<path d="M709 853h1v37h-1z"/>
<path d="M710 845h1v50h-1z"/>
<path d="M711 845h1v45h-1z"/>
<path d="M712 845h1v50h-1z"/>
<path d="M713 845h1v41h-1z"/>
<path d="M714 853h1v33h-1z"/>
<path d="M715 853h1v33h-1z"/>
<path d="M716 853h1v33h-1z"/>
<path d="M717 853h1v37h-1z"/>
<path d="M718 853h1v37h-1z"/>
<path d="M719 849h1v37h-1z"/>
<path d="M720 849h1v37h-1z"/>
<path d="M721 849h1v37h-1z"/>
<path d="M722 849h1v41h-1z"/>
<path d="M723 853h1v37h-1z"/>
<path d="M724 849h1v37h-1z"/>
<path d="M725 845h1v45h-1z"/>
<path d="M726 845h1v45h-1z"/>
<path d="M727 845h1v45h-1z"/>
<path d="M728 849h1v37h-1z"/>
<path d="M729 853h1v33h-1z"/>
<path d="M730 853h1v33h-1z"/>
<path d="M731 853h1v42h-1z"/>
<path d="M732 853h1v42h-1z"/>
<path d="M733 849h1v46h-1z"/>
<path d="M734 849h1v37h-1z"/>
<path d="M735 849h1v37h-1z"/>
<path d="M736 849h1v50h-1z"/>
<path d="M737 849h1v41h-1z"/>
<path d="M738 849h1v46h-1z"/>
<path d="M739 849h1v41h-1z"/>
<path d="M740 849h1v41h-1z"/>
<path d="M741 845h1v41h-1z"/>
<path d="M742 845h1v41h-1z"/>
<path d="M743 853h1v33h-1z"/>
<path d="M744 853h1v37h-1z"/>
<path d="M745 849h1v41h-1z"/>
<path d="M746 849h1v46h-1z"/>
<path d="M747 849h1v46h-1z"/>
<path d="M748 849h1v33h-1z"/>
<path d="M749 853h1v29h-1z"/>
<path d="M750 853h1v29h-1z"/>
<path d="M751 853h1v46h-1z"/>
<path d="M752 853h1v42h-1z"/>
<path d="M753 849h1v46h-1z"/>
<path d="M754 849h1v46h-1z"/>
<path d="M755 849h1v46h-1z"/>
<path d="M756 858h1v37h-1z"/>
<path d="M757 858h1v32h-1z"/>
<path d="M758 862h1v28h-1z"/>
<path d="M759 849h1v41h-1z"/>
<path d="M760 858h1v32h-1z"/>
<path d="M761 858h1v32h-1z"/>
<path d="M762 858h1v32h-1z"/>
<path d="M763 853h1v37h-1z"/>
<path d="M764 853h1v37h-1z"/>
<path d="M765 853h1v37h-1z"/>
<path d="M766 858h1v32h-1z"/>
<path d="M767 853h1v37h-1z"/>
<path d="M768 853h1v33h-1z"/>
<path d="M769 849h1v33h-1z"/>
<path d="M770 849h1v33h-1z"/>
<path d="M771 849h1v33h-1z"/>
<path d="M772 845h1v37h-1z"/>
<path d="M773 845h1v37h-1z"/>
<path d="M774 845h1v45h-1z"/>
<path d="M775 845h1v41h-1z"/>
<path d="M776 845h1v41h-1z"/>
<path d="M777 845h1v41h-1z"/>
<path d="M778 845h1v33h-1z"/>
<path d="M779 837h1v41h-1z"/>
<path d="M780 837h1v37h-1z"/>
<path d="M781 841h1v45h-1z"/>
<path d="M782 841h1v45h-1z"/>
<path d="M783 841h1v45h-1z"/>
<path d="M784 841h1v45h-1z"/>
<path d="M785 841h1v45h-1z"/>
<path d="M786 841h1v45h-1z"/>
<path d="M787 841h1v41h-1z"/>
<path d="M788 841h1v45h-1z"/>
<path d="M789 841h1v41h-1z"/>
<path d="M790 841h1v45h-1z"/>
<path d="M791 837h1v49h-1z"/>
<path d="M792 837h1v41h-1z"/>
<path d="M793 841h1v45h-1z"/>
<path d="M794 845h1v41h-1z"/>
<path d="M795 837h1v45h-1z"/>
<path d="M796 845h1v37h-1z"/>
<path d="M797 845h1v37h-1z"/>
<path d="M798 845h1v37h-1z"/>
<path d="M799 841h1v37h-1z"/>
<path d="M800 845h1v33h-1z"/>
<path d="M801 841h1v37h-1z"/>
<path d="M802 837h1v41h-1z"/>
<path d="M803 837h1v41h-1z"/>
<path d="M804 837h1v41h-1z"/>
<path d="M805 829h1v49h-1z"/>
<path d="M806 833h1v45h-1z"/>
<path d="M807 829h1v53h-1z"/>
<path d="M808 833h1v49h-1z"/>
<path d="M809 837h1v45h-1z"/>
<path d="M810 841h1v41h-1z"/>
<path d="M811 845h1v54h-1z"/>
<path d="M812 849h1v50h-1z"/>
<path d="M813 849h1v50h-1z"/>
<path d="M814 849h1v50h-1z"/>
<path d="M815 849h1v50h-1z"/>
<path d="M816 858h1v41h-1z"/>
<path d="M817 849h1v50h-1z"/>
<path d="M818 849h1v50h-1z"/>
<path d="M819 849h1v50h-1z"/>
<path d="M820 845h1v54h-1z"/>
<path d="M821 853h1v46h-1z"/>
<path d="M822 853h1v46h-1z"/>
<path d="M823 858h1v41h-1z"/>
<path d="M824 858h1v37h-1z"/>
<path d="M825 858h1v37h-1z"/>
<path d="M826 858h1v41h-1z"/>
<path d="M827 858h1v37h-1z"/>
<path d="M828 858h1v37h-1z"/>
<path d="M829 858h1v37h-1z"/>
<path d="M830 858h1v37h-1z"/>
<path d="M831 853h1v42h-1z"/>
<path d="M832 853h1v42h-1z"/>
<path d="M833 858h1v37h-1z"/>
<path d="M834 858h1v37h-1z"/>
<path d="M835 849h1v50h-1z"/>
<path d="M836 845h1v54h-1z"/>
<path d="M837 862h1v37h-1z"/>
<path d="M838 862h1v37h-1z"/>
<path d="M839 858h1v41h-1z"/>
<path d="M840 853h1v46h-1z"/>
<path d="M841 853h1v46h-1z"/>
<path d="M842 853h1v46h-1z"/>
<path d="M843 849h1v50h-1z"/>
<path d="M844 858h1v37h-1z"/>
<path d="M845 858h1v41h-1z"/>
<path d="M846 858h1v45h-1z"/>
<path d="M847 849h1v54h-1z"/>
<path d="M848 849h1v54h-1z"/>
<path d="M849 853h1v50h-1z"/>
<path d="M850 858h1v45h-1z"/>
<path d="M851 858h1v45h-1z"/>
<path d="M852 858h1v45h-1z"/>
<path d="M853 853h1v50h-1z"/>
<path d="M854 853h1v50h-1z"/>
<path d="M855 853h1v50h-1z"/>
<path d="M856 853h1v50h-1z"/>
<path d="M857 853h1v50h-1z"/>
<path d="M858 849h1v54h-1z"/>
<path d="M859 849h1v54h-1z"/>
<path d="M860 849h1v50h-1z"/>
<path d="M861 849h1v50h-1z"/>
<path d="M862 853h1v46h-1z"/>
<path d="M863 853h1v46h-1z"/>
<path d="M864 858h1v37h-1z"/>
<path d="M865 858h1v37h-1z"/>
<path d="M866 853h1v42h-1z"/>
<path d="M867 853h1v42h-1z"/>
<path d="M868 853h1v46h-1z"/>
<path d="M869 853h1v42h-1z"/>
<path d="M870 853h1v42h-1z"/>
<path d="M871 853h1v46h-1z"/>
<path d="M872 853h1v46h-1z"/>
<path d="M873 853h1v42h-1z"/>
<path d="M874 853h1v42h-1z"/>
<path d="M875 853h1v42h-1z"/>
<path d="M876 858h1v45h-1z"/>
<path d="M877 858h1v45h-1z"/>
<path d="M878 858h1v45h-1z"/>
<path d="M879 866h1v37h-1z"/>
<path d="M880 866h1v37h-1z"/>
<path d="M881 858h1v45h-1z"/>
<path d="M882 858h1v45h-1z"/>
<path d="M883 858h1v45h-1z"/>
<path d="M884 858h1v45h-1z"/>
<path d="M885 862h1v37h-1z"/>
<path d="M886 858h1v41h-1z"/>
<path d="M887 858h1v41h-1z"/>
<path d="M888 858h1v41h-1z"/>
<path d="M889 858h1v41h-1z"/>
<path d="M890 858h1v41h-1z"/>
<path d="M891 862h1v37h-1z"/>
<path d="M892 866h1v33h-1z"/>
<path d="M893 862h1v37h-1z"/>
<path d="M894 862h1v37h-1z"/>
<path d="M895 853h1v46h-1z"/>
<path d="M896 858h1v45h-1z"/>
<path d="M897 858h1v37h-1z"/>
<path d="M898 862h1v33h-1z"/>
<path d="M899 862h1v33h-1z"/>
<path d="M900 853h1v37h-1z"/>
<path d="M901 858h1v41h-1z"/>
<path d="M902 853h1v46h-1z"/>
<path d="M903 853h1v33h-1z"/>
<path d="M904 853h1v33h-1z"/>
<path d="M905 845h1v41h-1z"/>
<path d="M906 849h1v37h-1z"/>
<path d="M907 849h1v37h-1z"/>
<path d="M908 841h1v45h-1z"/>
<path d="M909 841h1v45h-1z"/>
<path d="M910 849h1v41h-1z"/>
<path d="M911 849h1v41h-1z"/>
<path d="M912 845h1v45h-1z"/>
<path d="M913 849h1v41h-1z"/>
<path d="M914 849h1v41h-1z"/>
<path d="M915 849h1v41h-1z"/>
<path d="M916 849h1v41h-1z"/>
<path d="M917 849h1v41h-1z"/>
<path d="M918 849h1v41h-1z"/>
<path d="M919 841h1v54h-1z"/>
<path d="M920 841h1v49h-1z"/>
<path d="M921 845h1v45h-1z"/>
<path d="M922 845h1v45h-1z"/>
<path d="M923 845h1v45h-1z"/>
<path d="M924 853h1v37h-1z"/>
<path d="M925 845h1v41h-1z"/>
<path d="M926 849h1v37h-1z"/>
<path d="M927 849h1v37h-1z"/>
<path d="M928 849h1v41h-1z"/>
<path d="M929 849h1v41h-1z"/>
<path d="M930 849h1v41h-1z"/>
<path d="M931 853h1v37h-1z"/>
<path d="M932 853h1v37h-1z"/>
<path d="M933 849h1v41h-1z"/>
<path d="M934 849h1v41h-1z"/>
<path d="M935 849h1v41h-1z"/>
<path d="M936 849h1v41h-1z"/>
<path d="M937 849h1v41h-1z"/>
<path d="M938 849h1v41h-1z"/>
<path d="M939 853h1v37h-1z"/>
<path d="M940 853h1v37h-1z"/>
<path d="M941 853h1v37h-1z"/>
<path d="M942 858h1v37h-1z"/>
<path d="M943 858h1v37h-1z"/>
<path d="M944 853h1v42h-1z"/>
<path d="M945 845h1v50h-1z"/>
<path d="M946 841h1v41h-1z"/>
<path d="M947 837h1v45h-1z"/>
<path d="M948 833h1v49h-1z"/>
<path d="M949 833h1v49h-1z"/>
<path d="M950 825h1v61h-1z"/>
<path d="M951 837h1v49h-1z"/>
<path d="M952 837h1v49h-1z"/>
<path d="M953 833h1v53h-1z"/>
<path d="M954 833h1v53h-1z"/>
<path d="M955 833h1v53h-1z"/>
<path d="M956 837h1v49h-1z"/>
<path d="M957 841h1v45h-1z"/>
</g>
<g fill="url(#v)">
<path d="M0 775h.69v87h-.69z"/>
<path d="M4 796h.69v57h-.69z"/>
<path d="M6 804h.69v54h-.69z"/>
<path d="M8 804h.69v37h-.69z"/>
<path d="M9 800h.69v41h-.69z"/>
<path d="M11 800h.69v41h-.69z"/>
<path d="M15 812h.69v29h-.69z"/>
<path d="M24 804h.69v70h-.69z"/>
<path d="M37 816h.69v58h-.69z"/>
<path d="M38 812h.69v46h-.69z"/>
<path d="M39 804h.69v58h-.69z"/>
<path d="M42 804h.69v58h-.69z"/>
<path d="M44 812h.69v41h-.69z"/>
<path d="M45 804h.69v58h-.69z"/>
<path d="M48 816h.69v54h-.69z"/>
<path d="M49 808h.69v45h-.69z"/>
<path d="M53 816h.69v54h-.69z"/>
<path d="M55 800h.69v66h-.69z"/>
<path d="M56 792h.69v78h-.69z"/>
<path d="M57 804h.69v86h-.69z"/>
<path d="M58 808h.69v66h-.69z"/>
<path d="M59 816h.69v66h-.69z"/>
<path d="M65 816h.69v54h-.69z"/>
<path d="M68 821h.69v49h-.69z"/>
<path d="M69 816h.69v58h-.69z"/>
<path d="M77 825h.69v41h-.69z"/>
<path d="M80 821h.69v65h-.69z"/>
<path d="M81 816h.69v54h-.69z"/>
<path d="M82 804h.69v66h-.69z"/>
<path d="M85 792h.69v86h-.69z"/>
<path d="M86 816h.69v54h-.69z"/>
<path d="M87 821h.69v53h-.69z"/>
<path d="M89 792h.69v94h-.69z"/>
<path d="M95 775h.69v87h-.69z"/>
<path d="M96 775h.69v91h-.69z"/>
<path d="M98 808h.69v62h-.69z"/>
<path d="M99 808h.69v54h-.69z"/>
<path d="M101 788h.69v111h-.69z"/>
<path d="M105 808h.69v74h-.69z"/>
<path d="M110 825h.69v53h-.69z"/>
<path d="M116 816h.69v50h-.69z"/>
<path d="M118 821h.69v57h-.69z"/>
<path d="M122 825h.69v37h-.69z"/>
<path d="M124 825h.69v70h-.69z"/>
<path d="M127 812h.69v70h-.69z"/>
<path d="M128 816h.69v70h-.69z"/>
<path d="M132 821h.69v49h-.69z"/>
<path d="M139 821h.69v41h-.69z"/>
<path d="M141 825h.69v41h-.69z"/>
<path d="M142 829h.69v45h-.69z"/>
<path d="M144 816h.69v42h-.69z"/>
<path d="M145 812h.69v46h-.69z"/>
<path d="M147 829h.69v45h-.69z"/>
<path d="M150 812h.69v70h-.69z"/>
<path d="M151 808h.69v58h-.69z"/>
<path d="M152 796h.69v70h-.69z"/>
<path d="M154 816h.69v54h-.69z"/>
<path d="M155 816h.69v54h-.69z"/>
<path d="M167 808h.69v62h-.69z"/>
<path d="M168 833h.69v49h-.69z"/>
<path d="M170 812h.69v62h-.69z"/>
<path d="M172 821h.69v86h-.69z"/>
<path d="M175 816h.69v70h-.69z"/>
<path d="M183 825h.69v57h-.69z"/>
<path d="M184 829h.69v57h-.69z"/>
<path d="M185 825h.69v37h-.69z"/>
<path d="M189 833h.69v33h-.69z"/>
<path d="M190 816h.69v50h-.69z"/>
<path d="M191 833h.69v41h-.69z"/>
<path d="M193 825h.69v49h-.69z"/>
<path d="M195 821h.69v45h-.69z"/>
<path d="M197 829h.69v37h-.69z"/>
<path d="M199 829h.69v33h-.69z"/>
<path d="M202 821h.69v49h-.69z"/>
<path d="M203 816h.69v62h-.69z"/>
<path d="M206 833h.69v49h-.69z"/>
<path d="M208 816h.69v54h-.69z"/>
<path d="M212 837h.69v29h-.69z"/>
<path d="M213 833h.69v33h-.69z"/>
<path d="M214 825h.69v49h-.69z"/>
<path d="M216 825h.69v61h-.69z"/>
<path d="M217 825h.69v45h-.69z"/>
<path d="M219 829h.69v41h-.69z"/>
<path d="M220 804h.69v62h-.69z"/>
<path d="M221 821h.69v49h-.69z"/>
<path d="M223 825h.69v53h-.69z"/>
<path d="M227 825h.69v65h-.69z"/>
<path d="M230 821h.69v41h-.69z"/>
<path d="M236 837h.69v37h-.69z"/>
<path d="M238 825h.69v41h-.69z"/>
<path d="M242 796h.69v70h-.69z"/>
<path d="M244 821h.69v53h-.69z"/>
<path d="M247 825h.69v41h-.69z"/>
<path d="M250 812h.69v58h-.69z"/>
<path d="M252 821h.69v49h-.69z"/>
<path d="M253 821h.69v41h-.69z"/>
<path d="M256 816h.69v54h-.69z"/>
<path d="M259 825h.69v41h-.69z"/>
<path d="M264 821h.69v53h-.69z"/>
<path d="M267 829h.69v45h-.69z"/>
<path d="M269 829h.69v45h-.69z"/>
<path d="M270 816h.69v66h-.69z"/>
<path d="M276 812h.69v58h-.69z"/>
<path d="M277 837h.69v33h-.69z"/>
<path d="M278 829h.69v45h-.69z"/>
<path d="M279 812h.69v58h-.69z"/>
<path d="M280 833h.69v41h-.69z"/>
<path d="M281 825h.69v41h-.69z"/>
<path d="M290 829h.69v61h-.69z"/>
<path d="M291 829h.69v45h-.69z"/>
<path d="M292 825h.69v49h-.69z"/>
<path d="M294 825h.69v41h-.69z"/>
<path d="M295 816h.69v54h-.69z"/>
<path d="M298 821h.69v49h-.69z"/>
<path d="M306 812h.69v70h-.69z"/>
<path d="M307 812h.69v83h-.69z"/>
<path d="M308 816h.69v58h-.69z"/>
<path d="M310 804h.69v82h-.69z"/>
<path d="M318 808h.69v58h-.69z"/>
<path d="M319 808h.69v70h-.69z"/>
<path d="M321 816h.69v58h-.69z"/>
<path d="M322 812h.69v74h-.69z"/>
<path d="M325 821h.69v49h-.69z"/>
<path d="M326 821h.69v61h-.69z"/>
<path d="M328 825h.69v49h-.69z"/>
<path d="M330 816h.69v74h-.69z"/>
<path d="M331 825h.69v61h-.69z"/>
<path d="M332 829h.69v57h-.69z"/>
<path d="M334 821h.69v49h-.69z"/>
<path d="M341 816h.69v62h-.69z"/>
<path d="M345 812h.69v58h-.69z"/>
<path d="M350 812h.69v74h-.69z"/>
<path d="M352 812h.69v78h-.69z"/>
<path d="M353 804h.69v62h-.69z"/>
<path d="M357 812h.69v54h-.69z"/>
<path d="M360 812h.69v46h-.69z"/>
<path d="M361 788h.69v90h-.69z"/>
<path d="M364 796h.69v74h-.69z"/>
<path d="M368 800h.69v62h-.69z"/>
<path d="M372 796h.69v78h-.69z"/>
<path d="M374 784h.69v86h-.69z"/>
<path d="M375 804h.69v74h-.69z"/>
<path d="M380 800h.69v62h-.69z"/>
<path d="M385 812h.69v58h-.69z"/>
<path d="M386 800h.69v70h-.69z"/>
<path d="M389 804h.69v58h-.69z"/>
<path d="M393 816h.69v50h-.69z"/>
<path d="M397 816h.69v66h-.69z"/>
<path d="M399 821h.69v41h-.69z"/>
<path d="M403 808h.69v66h-.69z"/>
<path d="M405 808h.69v54h-.69z"/>
<path d="M406 812h.69v50h-.69z"/>
<path d="M413 829h.69v37h-.69z"/>
<path d="M414 825h.69v49h-.69z"/>
<path d="M419 796h.69v90h-.69z"/>
<path d="M424 816h.69v70h-.69z"/>
<path d="M425 833h.69v41h-.69z"/>
<path d="M426 825h.69v49h-.69z"/>
<path d="M429 825h.69v49h-.69z"/>
<path d="M433 829h.69v45h-.69z"/>
<path d="M435 829h.69v41h-.69z"/>
<path d="M437 816h.69v54h-.69z"/>
<path d="M439 808h.69v74h-.69z"/>
<path d="M441 771h.69v107h-.69z"/>
<path d="M442 800h.69v66h-.69z"/>
<path d="M445 812h.69v87h-.69z"/>
<path d="M446 812h.69v54h-.69z"/>
<path d="M447 816h.69v50h-.69z"/>
<path d="M450 808h.69v58h-.69z"/>
<path d="M455 816h.69v58h-.69z"/>
<path d="M459 804h.69v58h-.69z"/>
<path d="M462 771h.69v91h-.69z"/>
<path d="M463 808h.69v82h-.69z"/>
<path d="M464 816h.69v62h-.69z"/>
<path d="M470 808h.69v62h-.69z"/>
<path d="M474 755h.69v115h-.69z"/>
<path d="M476 784h.69v98h-.69z"/>
<path d="M478 788h.69v78h-.69z"/>
<path d="M479 796h.69v78h-.69z"/>
<path d="M481 788h.69v94h-.69z"/>
<path d="M483 775h.69v83h-.69z"/>
<path d="M485 771h.69v99h-.69z"/>
<path d="M487 792h.69v78h-.69z"/>
<path d="M488 792h.69v90h-.69z"/>
<path d="M495 808h.69v62h-.69z"/>
<path d="M496 792h.69v90h-.69z"/>
<path d="M497 816h.69v54h-.69z"/>
<path d="M500 812h.69v62h-.69z"/>
<path d="M502 821h.69v57h-.69z"/>
<path d="M507 800h.69v74h-.69z"/>
<path d="M510 816h.69v58h-.69z"/>
<path d="M511 816h.69v58h-.69z"/>
<path d="M514 821h.69v57h-.69z"/>
<path d="M515 812h.69v54h-.69z"/>
<path d="M520 821h.69v41h-.69z"/>
<path d="M526 792h.69v78h-.69z"/>
<path d="M527 816h.69v50h-.69z"/>
<path d="M528 812h.69v78h-.69z"/>
<path d="M529 833h.69v41h-.69z"/>
<path d="M531 816h.69v54h-.69z"/>
<path d="M532 821h.69v61h-.69z"/>
<path d="M534 821h.69v53h-.69z"/>
<path d="M541 825h.69v45h-.69z"/>
<path d="M543 829h.69v37h-.69z"/>
<path d="M546 821h.69v41h-.69z"/>
<path d="M551 825h.69v53h-.69z"/>
<path d="M558 796h.69v74h-.69z"/>
<path d="M561 821h.69v37h-.69z"/>
<path d="M563 812h.69v41h-.69z"/>
<path d="M565 816h.69v50h-.69z"/>
<path d="M567 816h.69v62h-.69z"/>
<path d="M572 812h.69v87h-.69z"/>
<path d="M573 837h.69v45h-.69z"/>
<path d="M575 833h.69v41h-.69z"/>
<path d="M577 833h.69v57h-.69z"/>
<path d="M579 833h.69v49h-.69z"/>
<path d="M580 829h.69v61h-.69z"/>
<path d="M585 837h.69v41h-.69z"/>
<path d="M589 837h.69v45h-.69z"/>
<path d="M590 829h.69v61h-.69z"/>
<path d="M591 837h.69v41h-.69z"/>
<path d="M592 837h.69v49h-.69z"/>
<path d="M596 841h.69v37h-.69z"/>
<path d="M597 833h.69v49h-.69z"/>
<path d="M600 821h.69v57h-.69z"/>
<path d="M601 829h.69v53h-.69z"/>
<path d="M602 841h.69v45h-.69z"/>
<path d="M605 841h.69v49h-.69z"/>
<path d="M608 829h.69v53h-.69z"/>
<path d="M609 829h.69v45h-.69z"/>
<path d="M611 837h.69v41h-.69z"/>
<path d="M613 837h.69v53h-.69z"/>
<path d="M618 841h.69v37h-.69z"/>
<path d="M620 845h.69v33h-.69z"/>
<path d="M621 833h.69v57h-.69z"/>
<path d="M623 825h.69v49h-.69z"/>
<path d="M625 829h.69v49h-.69z"/>
<path d="M626 841h.69v49h-.69z"/>
<path d="M628 829h.69v57h-.69z"/>
<path d="M629 829h.69v45h-.69z"/>
<path d="M630 829h.69v45h-.69z"/>
<path d="M633 829h.69v49h-.69z"/>
<path d="M636 833h.69v37h-.69z"/>
<path d="M638 804h.69v70h-.69z"/>
<path d="M639 837h.69v41h-.69z"/>
<path d="M642 808h.69v78h-.69z"/>
<path d="M648 812h.69v58h-.69z"/>
<path d="M650 821h.69v53h-.69z"/>
<path d="M652 812h.69v62h-.69z"/>
<path d="M653 829h.69v37h-.69z"/>
<path d="M655 825h.69v41h-.69z"/>
<path d="M656 816h.69v62h-.69z"/>
<path d="M661 829h.69v45h-.69z"/>
<path d="M663 833h.69v41h-.69z"/>
<path d="M671 845h.69v29h-.69z"/>
<path d="M677 833h.69v41h-.69z"/>
<path d="M697 837h.69v53h-.69z"/>
<path d="M698 841h.69v49h-.69z"/>
<path d="M699 858h.69v32h-.69z"/>
<path d="M708 845h.69v45h-.69z"/>
<path d="M709 853h.69v37h-.69z"/>
<path d="M712 841h.69v66h-.69z"/>
<path d="M715 849h.69v37h-.69z"/>
<path d="M716 849h.69v37h-.69z"/>
<path d="M723 849h.69v41h-.69z"/>
<path d="M726 841h.69v49h-.69z"/>
<path d="M737 849h.69v41h-.69z"/>
<path d="M739 841h.69v54h-.69z"/>
<path d="M742 845h.69v54h-.69z"/>
<path d="M746 845h.69v50h-.69z"/>
<path d="M749 845h.69v37h-.69z"/>
<path d="M752 845h.69v66h-.69z"/>
<path d="M753 849h.69v50h-.69z"/>
<path d="M755 841h.69v54h-.69z"/>
<path d="M757 858h.69v45h-.69z"/>
<path d="M758 849h.69v41h-.69z"/>
<path d="M759 845h.69v45h-.69z"/>
<path d="M764 849h.69v41h-.69z"/>
<path d="M767 853h.69v42h-.69z"/>
<path d="M768 853h.69v33h-.69z"/>
<path d="M769 841h.69v45h-.69z"/>
<path d="M770 845h.69v45h-.69z"/>
<path d="M776 845h.69v41h-.69z"/>
<path d="M786 837h.69v53h-.69z"/>
<path d="M787 837h.69v45h-.69z"/>
<path d="M790 821h.69v65h-.69z"/>
<path d="M792 833h.69v53h-.69z"/>
<path d="M793 833h.69v62h-.69z"/>
<path d="M800 841h.69v58h-.69z"/>
<path d="M801 841h.69v37h-.69z"/>
<path d="M811 849h.69v54h-.69z"/>
<path d="M815 845h.69v54h-.69z"/>
<path d="M817 845h.69v54h-.69z"/>
<path d="M829 853h.69v42h-.69z"/>
<path d="M831 853h.69v42h-.69z"/>
<path d="M833 862h.69v41h-.69z"/>
<path d="M834 858h.69v37h-.69z"/>
<path d="M836 837h.69v62h-.69z"/>
<path d="M837 858h.69v41h-.69z"/>
<path d="M838 845h.69v54h-.69z"/>
<path d="M839 849h.69v50h-.69z"/>
<path d="M843 845h.69v54h-.69z"/>
<path d="M844 858h.69v37h-.69z"/>
<path d="M845 853h.69v46h-.69z"/>
<path d="M846 853h.69v50h-.69z"/>
<path d="M847 845h.69v74h-.69z"/>
<path d="M851 849h.69v62h-.69z"/>
<path d="M859 845h.69v58h-.69z"/>
<path d="M860 845h.69v62h-.69z"/>
<path d="M862 845h.69v54h-.69z"/>
<path d="M868 845h.69v54h-.69z"/>
<path d="M875 833h.69v62h-.69z"/>
<path d="M879 862h.69v45h-.69z"/>
<path d="M881 858h.69v49h-.69z"/>
<path d="M888 853h.69v62h-.69z"/>
<path d="M892 866h.69v33h-.69z"/>
<path d="M896 853h.69v54h-.69z"/>
<path d="M901 849h.69v58h-.69z"/>
<path d="M904 849h.69v46h-.69z"/>
<path d="M905 845h.69v54h-.69z"/>
<path d="M907 841h.69v45h-.69z"/>
<path d="M911 845h.69v45h-.69z"/>
<path d="M914 845h.69v58h-.69z"/>
<path d="M916 849h.69v41h-.69z"/>
<path d="M917 849h.69v50h-.69z"/>
<path d="M918 837h.69v53h-.69z"/>
<path d="M919 837h.69v66h-.69z"/>
<path d="M925 837h.69v49h-.69z"/>
<path d="M928 849h.69v46h-.69z"/>
<path d="M935 849h.69v41h-.69z"/>
<path d="M936 841h.69v58h-.69z"/>
<path d="M942 853h.69v42h-.69z"/>
<path d="M945 837h.69v62h-.69z"/>
<path d="M946 833h.69v78h-.69z"/>
<path d="M949 825h.69v65h-.69z"/>
<path d="M954 825h.69v78h-.69z"/>
</g>
<g fill="url(#l20)">
<path d="M601 907h1v30h-1z"/>
<path d="M609 919h1v18h-1z"/>
<path d="M610 911h1v26h-1z"/>
</g>
<g fill="url(#l21)">
<path d="M599 919h1v18h-1z"/>
<path d="M600 911h1v26h-1z"/>
<path d="M602 907h1v30h-1z"/>
<path d="M603 903h1v34h-1z"/>
<path d="M604 911h1v26h-1z"/>
<path d="M605 895h1v42h-1z"/>
<path d="M606 903h1v34h-1z"/>
<path d="M607 919h1v18h-1z"/>
<path d="M608 899h1v38h-1z"/>
<path d="M611 911h1v26h-1z"/>
<path d="M612 911h1v26h-1z"/>
<path d="M613 911h1v26h-1z"/>
<path d="M614 915h1v22h-1z"/>
<path d="M618 911h1v26h-1z"/>
</g>
<g fill="url(#l22)">
<path d="M597 919h1v18h-1z"/>
<path d="M598 919h1v18h-1z"/>
<path d="M615 899h1v38h-1z"/>
<path d="M616 915h1v22h-1z"/>
<path d="M617 915h1v22h-1z"/>
</g>
<g fill="url(#l25)">
<path d="M259 907h1v30h-1z"/>
<path d="M260 903h1v34h-1z"/>
<path d="M261 886h1v51h-1z"/>
</g>
<g fill="url(#l26)">
<path d="M154 915h1v22h-1z"/>
<path d="M167 895h1v42h-1z"/>
<path d="M574 911h1v26h-1z"/>
</g>
<g fill="url(#l27)">
<path d="M153 903h1v34h-1z"/>
<path d="M179 903h1v34h-1z"/>
<path d="M205 895h1v42h-1z"/>
<path d="M258 899h1v38h-1z"/>
<path d="M265 899h1v38h-1z"/>
<path d="M553 907h1v30h-1z"/>
<path d="M573 903h1v34h-1z"/>
</g>
<g fill="url(#l28)">
<path d="M47 890h1v47h-1z"/>
<path d="M168 907h1v30h-1z"/>
<path d="M187 911h1v26h-1z"/>
<path d="M188 903h1v34h-1z"/>
<path d="M189 895h1v42h-1z"/>
<path d="M190 903h1v34h-1z"/>
<path d="M206 895h1v42h-1z"/>
<path d="M207 886h1v51h-1z"/>
<path d="M262 903h1v34h-1z"/>
<path d="M263 903h1v34h-1z"/>
<path d="M266 903h1v34h-1z"/>
<path d="M559 903h1v34h-1z"/>
</g>
<g fill="url(#l29)">
<path d="M155 903h1v34h-1z"/>
<path d="M166 886h1v51h-1z"/>
<path d="M178 903h1v34h-1z"/>
<path d="M180 903h1v34h-1z"/>
<path d="M198 903h1v34h-1z"/>
<path d="M208 903h1v34h-1z"/>
<path d="M209 895h1v42h-1z"/>
<path d="M221 907h1v30h-1z"/>
<path d="M237 903h1v34h-1z"/>
<path d="M243 899h1v38h-1z"/>
<path d="M267 903h1v34h-1z"/>
<path d="M268 903h1v34h-1z"/>
<path d="M326 907h1v30h-1z"/>
<path d="M493 903h1v34h-1z"/>
<path d="M494 911h1v26h-1z"/>
<path d="M552 907h1v30h-1z"/>
<path d="M554 903h1v34h-1z"/>
<path d="M572 911h1v26h-1z"/>
</g>
<g fill="url(#l30)">
<path d="M39 886h1v51h-1z"/>
<path d="M46 874h1v63h-1z"/>
<path d="M149 886h1v51h-1z"/>
<path d="M150 903h1v34h-1z"/>
<path d="M151 915h1v22h-1z"/>
<path d="M152 915h1v22h-1z"/>
<path d="M174 899h1v38h-1z"/>
<path d="M186 903h1v34h-1z"/>
<path d="M204 886h1v51h-1z"/>
<path d="M210 890h1v47h-1z"/>
<path d="M211 903h1v34h-1z"/>
<path d="M220 907h1v30h-1z"/>
<path d="M245 899h1v38h-1z"/>
<path d="M264 899h1v38h-1z"/>
<path d="M492 895h1v42h-1z"/>
<path d="M495 895h1v42h-1z"/>
<path d="M507 911h1v26h-1z"/>
<path d="M509 895h1v42h-1z"/>
<path d="M542 895h1v42h-1z"/>
<path d="M558 911h1v26h-1z"/>
<path d="M563 907h1v30h-1z"/>
<path d="M568 911h1v26h-1z"/>
<path d="M569 911h1v26h-1z"/>
<path d="M575 911h1v26h-1z"/>
<path d="M619 919h1v18h-1z"/>
<path d="M625 907h1v30h-1z"/>
<path d="M630 907h1v30h-1z"/>
<path d="M632 903h1v34h-1z"/>
<path d="M650 907h1v30h-1z"/>
</g>
<g fill="url(#l31)">
<path d="M169 895h1v42h-1z"/>
<path d="M175 911h1v26h-1z"/>
<path d="M177 903h1v34h-1z"/>
<path d="M184 899h1v38h-1z"/>
<path d="M185 895h1v42h-1z"/>
<path d="M199 895h1v42h-1z"/>
<path d="M202 895h1v42h-1z"/>
<path d="M203 903h1v34h-1z"/>
<path d="M212 903h1v34h-1z"/>
<path d="M219 907h1v30h-1z"/>
<path d="M222 895h1v42h-1z"/>
<path d="M224 895h1v42h-1z"/>
<path d="M228 895h1v42h-1z"/>
<path d="M242 899h1v38h-1z"/>
<path d="M269 903h1v34h-1z"/>
<path d="M327 915h1v22h-1z"/>
<path d="M378 895h1v42h-1z"/>
<path d="M423 911h1v26h-1z"/>
<path d="M424 911h1v26h-1z"/>
<path d="M491 903h1v34h-1z"/>
<path d="M496 895h1v42h-1z"/>
<path d="M501 899h1v38h-1z"/>
<path d="M541 907h1v30h-1z"/>
<path d="M543 907h1v30h-1z"/>
<path d="M555 923h1v14h-1z"/>
<path d="M557 911h1v26h-1z"/>
<path d="M560 903h1v34h-1z"/>
<path d="M561 903h1v34h-1z"/>
<path d="M562 907h1v30h-1z"/>
<path d="M565 907h1v30h-1z"/>
<path d="M567 907h1v30h-1z"/>
<path d="M571 903h1v34h-1z"/>
<path d="M576 911h1v26h-1z"/>
<path d="M594 907h1v30h-1z"/>
<path d="M596 907h1v30h-1z"/>
<path d="M628 911h1v26h-1z"/>
<path d="M631 895h1v42h-1z"/>
<path d="M651 911h1v26h-1z"/>
</g>
<g fill="url(#l32)">
<path d="M37 886h1v51h-1z"/>
<path d="M41 890h1v47h-1z"/>
<path d="M156 886h1v51h-1z"/>
<path d="M162 903h1v34h-1z"/>
<path d="M165 911h1v26h-1z"/>
<path d="M181 903h1v34h-1z"/>
<path d="M182 895h1v42h-1z"/>
<path d="M191 903h1v34h-1z"/>
<path d="M193 903h1v34h-1z"/>
<path d="M194 903h1v34h-1z"/>
<path d="M213 899h1v38h-1z"/>
<path d="M217 890h1v47h-1z"/>
<path d="M223 907h1v30h-1z"/>
<path d="M226 890h1v47h-1z"/>
<path d="M227 907h1v30h-1z"/>
<path d="M232 899h1v38h-1z"/>
<path d="M233 899h1v38h-1z"/>
<path d="M236 903h1v34h-1z"/>
<path d="M238 907h1v30h-1z"/>
<path d="M241 911h1v26h-1z"/>
<path d="M244 890h1v47h-1z"/>
<path d="M246 903h1v34h-1z"/>
<path d="M257 899h1v38h-1z"/>
<path d="M270 886h1v51h-1z"/>
<path d="M328 911h1v26h-1z"/>
<path d="M422 899h1v38h-1z"/>
<path d="M425 903h1v34h-1z"/>
<path d="M490 903h1v34h-1z"/>
<path d="M497 911h1v26h-1z"/>
<path d="M499 895h1v42h-1z"/>
<path d="M508 895h1v42h-1z"/>
<path d="M540 895h1v42h-1z"/>
<path d="M564 907h1v30h-1z"/>
<path d="M629 915h1v22h-1z"/>
<path d="M809 895h1v42h-1z"/>
</g>
<g fill="url(#l33)">
<path d="M23 882h1v55h-1z"/>
<path d="M31 886h1v51h-1z"/>
<path d="M35 886h1v51h-1z"/>
<path d="M157 907h1v30h-1z"/>
<path d="M158 899h1v38h-1z"/>
<path d="M164 878h1v59h-1z"/>
<path d="M173 890h1v47h-1z"/>
<path d="M183 886h1v51h-1z"/>
<path d="M192 903h1v34h-1z"/>
<path d="M200 878h1v59h-1z"/>
<path d="M201 895h1v42h-1z"/>
<path d="M216 895h1v42h-1z"/>
<path d="M218 899h1v38h-1z"/>
<path d="M225 899h1v38h-1z"/>
<path d="M234 899h1v38h-1z"/>
<path d="M235 886h1v51h-1z"/>
<path d="M239 915h1v22h-1z"/>
<path d="M325 907h1v30h-1z"/>
<path d="M379 903h1v34h-1z"/>
<path d="M383 915h1v22h-1z"/>
<path d="M426 911h1v26h-1z"/>
<path d="M498 907h1v30h-1z"/>
<path d="M506 903h1v34h-1z"/>
<path d="M530 903h1v34h-1z"/>
<path d="M551 907h1v30h-1z"/>
<path d="M566 903h1v34h-1z"/>
<path d="M570 911h1v26h-1z"/>
<path d="M627 911h1v26h-1z"/>
<path d="M649 907h1v30h-1z"/>
<path d="M652 911h1v26h-1z"/>
<path d="M810 907h1v30h-1z"/>
<path d="M811 907h1v30h-1z"/>
</g>
<g fill="url(#l34)">
<path d="M4 890h1v47h-1z"/>
<path d="M36 886h1v51h-1z"/>
<path d="M38 886h1v51h-1z"/>
<path d="M42 878h1v59h-1z"/>
<path d="M43 886h1v51h-1z"/>
<path d="M45 890h1v47h-1z"/>
<path d="M141 911h1v26h-1z"/>
<path d="M147 899h1v38h-1z"/>
<path d="M159 899h1v38h-1z"/>
<path d="M160 903h1v34h-1z"/>
<path d="M163 895h1v42h-1z"/>
<path d="M176 903h1v34h-1z"/>
<path d="M195 903h1v34h-1z"/>
<path d="M214 886h1v51h-1z"/>
<path d="M215 903h1v34h-1z"/>
<path d="M229 886h1v51h-1z"/>
<path d="M330 886h1v51h-1z"/>
<path d="M377 911h1v26h-1z"/>
<path d="M380 907h1v30h-1z"/>
<path d="M381 907h1v30h-1z"/>
<path d="M382 890h1v47h-1z"/>
<path d="M427 890h1v47h-1z"/>
<path d="M428 907h1v30h-1z"/>
<path d="M502 882h1v55h-1z"/>
<path d="M510 895h1v42h-1z"/>
<path d="M529 903h1v34h-1z"/>
<path d="M535 915h1v22h-1z"/>
<path d="M589 907h1v30h-1z"/>
<path d="M595 907h1v30h-1z"/>
<path d="M624 907h1v30h-1z"/>
<path d="M626 911h1v26h-1z"/>
<path d="M633 907h1v30h-1z"/>
<path d="M648 907h1v30h-1z"/>
<path d="M657 903h1v34h-1z"/>
<path d="M669 923h1v14h-1z"/>
<path d="M926 932h1v5h-1z"/>
</g>
<g fill="url(#l35)">
<path d="M5 890h1v47h-1z"/>
<path d="M6 890h1v47h-1z"/>
<path d="M9 886h1v51h-1z"/>
<path d="M33 895h1v42h-1z"/>
<path d="M40 886h1v51h-1z"/>
<path d="M140 903h1v34h-1z"/>
<path d="M142 903h1v34h-1z"/>
<path d="M148 890h1v47h-1z"/>
<path d="M161 886h1v51h-1z"/>
<path d="M170 895h1v42h-1z"/>
<path d="M172 886h1v51h-1z"/>
<path d="M230 907h1v30h-1z"/>
<path d="M240 895h1v42h-1z"/>
<path d="M247 903h1v34h-1z"/>
<path d="M279 903h1v34h-1z"/>
<path d="M324 919h1v18h-1z"/>
<path d="M332 907h1v30h-1z"/>
<path d="M335 915h1v22h-1z"/>
<path d="M370 895h1v42h-1z"/>
<path d="M371 903h1v34h-1z"/>
<path d="M376 911h1v26h-1z"/>
<path d="M421 911h1v26h-1z"/>
<path d="M500 907h1v30h-1z"/>
<path d="M503 911h1v26h-1z"/>
<path d="M511 903h1v34h-1z"/>
<path d="M513 907h1v30h-1z"/>
<path d="M514 903h1v34h-1z"/>
<path d="M516 895h1v42h-1z"/>
<path d="M526 907h1v30h-1z"/>
<path d="M533 886h1v51h-1z"/>
<path d="M544 895h1v42h-1z"/>
<path d="M556 911h1v26h-1z"/>
<path d="M593 919h1v18h-1z"/>
<path d="M646 895h1v42h-1z"/>
<path d="M647 915h1v22h-1z"/>
<path d="M653 923h1v14h-1z"/>
<path d="M658 903h1v34h-1z"/>
<path d="M808 907h1v30h-1z"/>
</g>
<g fill="url(#l36)">
<path d="M0 890h1v47h-1z"/>
<path d="M22 890h1v47h-1z"/>
<path d="M25 890h1v47h-1z"/>
<path d="M48 878h1v59h-1z"/>
<path d="M136 903h1v34h-1z"/>
<path d="M196 899h1v38h-1z"/>
<path d="M197 878h1v59h-1z"/>
<path d="M248 899h1v38h-1z"/>
<path d="M250 890h1v47h-1z"/>
<path d="M274 895h1v42h-1z"/>
<path d="M275 907h1v30h-1z"/>
<path d="M329 899h1v38h-1z"/>
<path d="M333 907h1v30h-1z"/>
<path d="M343 907h1v30h-1z"/>
<path d="M385 907h1v30h-1z"/>
<path d="M505 907h1v30h-1z"/>
<path d="M512 907h1v30h-1z"/>
<path d="M517 907h1v30h-1z"/>
<path d="M525 903h1v34h-1z"/>
<path d="M527 911h1v26h-1z"/>
<path d="M536 907h1v30h-1z"/>
<path d="M545 907h1v30h-1z"/>
<path d="M587 915h1v22h-1z"/>
<path d="M591 907h1v30h-1z"/>
<path d="M661 911h1v26h-1z"/>
<path d="M813 911h1v26h-1z"/>
<path d="M925 927h1v10h-1z"/>
</g>
<g fill="url(#l37)">
<path d="M3 890h1v47h-1z"/>
<path d="M21 886h1v51h-1z"/>
<path d="M26 886h1v51h-1z"/>
<path d="M44 886h1v51h-1z"/>
<path d="M137 907h1v30h-1z"/>
<path d="M143 915h1v22h-1z"/>
<path d="M146 886h1v51h-1z"/>
<path d="M231 907h1v30h-1z"/>
<path d="M254 899h1v38h-1z"/>
<path d="M273 915h1v22h-1z"/>
<path d="M280 911h1v26h-1z"/>
<path d="M301 907h1v30h-1z"/>
<path d="M334 907h1v30h-1z"/>
<path d="M344 903h1v34h-1z"/>
<path d="M372 903h1v34h-1z"/>
<path d="M386 907h1v30h-1z"/>
<path d="M504 903h1v34h-1z"/>
<path d="M515 903h1v34h-1z"/>
<path d="M518 907h1v30h-1z"/>
<path d="M524 907h1v30h-1z"/>
<path d="M531 903h1v34h-1z"/>
<path d="M532 907h1v30h-1z"/>
<path d="M534 907h1v30h-1z"/>
<path d="M537 907h1v30h-1z"/>
<path d="M538 890h1v47h-1z"/>
<path d="M539 907h1v30h-1z"/>
<path d="M550 899h1v38h-1z"/>
<path d="M585 915h1v22h-1z"/>
<path d="M592 911h1v26h-1z"/>
<path d="M634 911h1v26h-1z"/>
<path d="M635 911h1v26h-1z"/>
<path d="M636 919h1v18h-1z"/>
<path d="M645 911h1v26h-1z"/>
<path d="M656 903h1v34h-1z"/>
<path d="M668 915h1v22h-1z"/>
<path d="M678 915h1v22h-1z"/>
<path d="M679 915h1v22h-1z"/>
<path d="M695 915h1v22h-1z"/>
<path d="M708 919h1v18h-1z"/>
<path d="M709 911h1v26h-1z"/>
<path d="M805 923h1v14h-1z"/>
<path d="M807 915h1v22h-1z"/>
<path d="M812 907h1v30h-1z"/>
<path d="M937 927h1v10h-1z"/>
<path d="M938 911h1v26h-1z"/>
<path d="M940 923h1v14h-1z"/>
</g>
<g fill="url(#l38)">
<path d="M1 874h1v63h-1z"/>
<path d="M2 882h1v55h-1z"/>
<path d="M7 886h1v51h-1z"/>
<path d="M10 890h1v47h-1z"/>
<path d="M14 882h1v55h-1z"/>
<path d="M16 870h1v67h-1z"/>
<path d="M18 882h1v55h-1z"/>
<path d="M24 886h1v51h-1z"/>
<path d="M32 886h1v51h-1z"/>
<path d="M135 903h1v34h-1z"/>
<path d="M171 895h1v42h-1z"/>
<path d="M249 895h1v42h-1z"/>
<path d="M251 911h1v26h-1z"/>
<path d="M255 899h1v38h-1z"/>
<path d="M256 903h1v34h-1z"/>
<path d="M272 903h1v34h-1z"/>
<path d="M278 886h1v51h-1z"/>
<path d="M281 890h1v47h-1z"/>
<path d="M302 907h1v30h-1z"/>
<path d="M321 915h1v22h-1z"/>
<path d="M322 903h1v34h-1z"/>
<path d="M331 903h1v34h-1z"/>
<path d="M338 895h1v42h-1z"/>
<path d="M384 907h1v30h-1z"/>
<path d="M388 903h1v34h-1z"/>
<path d="M389 890h1v47h-1z"/>
<path d="M390 911h1v26h-1z"/>
<path d="M429 911h1v26h-1z"/>
<path d="M489 907h1v30h-1z"/>
<path d="M528 886h1v51h-1z"/>
<path d="M546 907h1v30h-1z"/>
<path d="M547 911h1v26h-1z"/>
<path d="M548 907h1v30h-1z"/>
<path d="M577 915h1v22h-1z"/>
<path d="M578 895h1v42h-1z"/>
<path d="M586 915h1v22h-1z"/>
<path d="M637 911h1v26h-1z"/>
<path d="M641 890h1v47h-1z"/>
<path d="M642 911h1v26h-1z"/>
<path d="M644 919h1v18h-1z"/>
<path d="M655 903h1v34h-1z"/>
<path d="M680 911h1v26h-1z"/>
<path d="M688 899h1v38h-1z"/>
<path d="M694 932h1v5h-1z"/>
<path d="M806 923h1v14h-1z"/>
<path d="M910 927h1v10h-1z"/>
<path d="M914 927h1v10h-1z"/>
<path d="M923 919h1v18h-1z"/>
<path d="M927 923h1v14h-1z"/>
<path d="M928 932h1v5h-1z"/>
<path d="M930 927h1v10h-1z"/>
<path d="M936 927h1v10h-1z"/>
<path d="M939 911h1v26h-1z"/>
<path d="M942 923h1v14h-1z"/>
</g>
<g fill="url(#l39)">
<path d="M8 878h1v59h-1z"/>
<path d="M17 874h1v63h-1z"/>
<path d="M30 890h1v47h-1z"/>
<path d="M34 899h1v38h-1z"/>
<path d="M134 903h1v34h-1z"/>
<path d="M138 903h1v34h-1z"/>
<path d="M139 903h1v34h-1z"/>
<path d="M144 915h1v22h-1z"/>
<path d="M252 903h1v34h-1z"/>
<path d="M253 890h1v47h-1z"/>
<path d="M271 886h1v51h-1z"/>
<path d="M277 903h1v34h-1z"/>
<path d="M305 911h1v26h-1z"/>
<path d="M306 903h1v34h-1z"/>
<path d="M336 899h1v38h-1z"/>
<path d="M337 903h1v34h-1z"/>
<path d="M339 903h1v34h-1z"/>
<path d="M342 907h1v30h-1z"/>
<path d="M353 899h1v38h-1z"/>
<path d="M369 903h1v34h-1z"/>
<path d="M387 911h1v26h-1z"/>
<path d="M468 915h1v22h-1z"/>
<path d="M523 882h1v55h-1z"/>
<path d="M549 911h1v26h-1z"/>
<path d="M588 915h1v22h-1z"/>
<path d="M640 890h1v47h-1z"/>
<path d="M643 911h1v26h-1z"/>
<path d="M654 899h1v38h-1z"/>
<path d="M659 907h1v30h-1z"/>
<path d="M660 899h1v38h-1z"/>
<path d="M662 911h1v26h-1z"/>
<path d="M670 899h1v38h-1z"/>
<path d="M677 915h1v22h-1z"/>
<path d="M692 915h1v22h-1z"/>
<path d="M693 919h1v18h-1z"/>
<path d="M696 915h1v22h-1z"/>
<path d="M697 919h1v18h-1z"/>
<path d="M710 915h1v22h-1z"/>
<path d="M716 923h1v14h-1z"/>
<path d="M718 927h1v10h-1z"/>
<path d="M803 911h1v26h-1z"/>
<path d="M804 919h1v18h-1z"/>
<path d="M909 927h1v10h-1z"/>
<path d="M918 927h1v10h-1z"/>
<path d="M929 932h1v5h-1z"/>
<path d="M935 915h1v22h-1z"/>
</g>
<g fill="url(#l40)">
<path d="M13 874h1v63h-1z"/>
<path d="M20 882h1v55h-1z"/>
<path d="M49 903h1v34h-1z"/>
<path d="M116 886h1v51h-1z"/>
<path d="M132 899h1v38h-1z"/>
<path d="M133 903h1v34h-1z"/>
<path d="M145 899h1v38h-1z"/>
<path d="M276 911h1v26h-1z"/>
<path d="M283 911h1v26h-1z"/>
<path d="M287 915h1v22h-1z"/>
<path d="M288 895h1v42h-1z"/>
<path d="M292 907h1v30h-1z"/>
<path d="M294 907h1v30h-1z"/>
<path d="M300 907h1v30h-1z"/>
<path d="M303 911h1v26h-1z"/>
<path d="M307 911h1v26h-1z"/>
<path d="M320 907h1v30h-1z"/>
<path d="M323 919h1v18h-1z"/>
<path d="M345 895h1v42h-1z"/>
<path d="M361 899h1v38h-1z"/>
<path d="M373 882h1v55h-1z"/>
<path d="M374 899h1v38h-1z"/>
<path d="M375 886h1v51h-1z"/>
<path d="M487 911h1v26h-1z"/>
<path d="M519 907h1v30h-1z"/>
<path d="M584 907h1v30h-1z"/>
<path d="M590 907h1v30h-1z"/>
<path d="M638 911h1v26h-1z"/>
<path d="M639 911h1v26h-1z"/>
<path d="M673 903h1v34h-1z"/>
<path d="M676 915h1v22h-1z"/>
<path d="M683 915h1v22h-1z"/>
<path d="M687 919h1v18h-1z"/>
<path d="M691 919h1v18h-1z"/>
<path d="M707 919h1v18h-1z"/>
<path d="M726 923h1v14h-1z"/>
<path d="M908 936h1v1h-1z"/>
<path d="M911 923h1v14h-1z"/>
<path d="M912 932h1v5h-1z"/>
<path d="M913 923h1v14h-1z"/>
<path d="M915 927h1v10h-1z"/>
<path d="M917 911h1v26h-1z"/>
<path d="M924 919h1v18h-1z"/>
<path d="M933 923h1v14h-1z"/>
<path d="M954 915h1v22h-1z"/>
</g>
<g fill="url(#l41)">
<path d="M27 886h1v51h-1z"/>
<path d="M77 907h1v30h-1z"/>
<path d="M114 895h1v42h-1z"/>
<path d="M117 886h1v51h-1z"/>
<path d="M130 907h1v30h-1z"/>
<path d="M131 907h1v30h-1z"/>
<path d="M295 911h1v26h-1z"/>
<path d="M299 911h1v26h-1z"/>
<path d="M319 915h1v22h-1z"/>
<path d="M340 886h1v51h-1z"/>
<path d="M341 903h1v34h-1z"/>
<path d="M352 915h1v22h-1z"/>
<path d="M354 886h1v51h-1z"/>
<path d="M360 907h1v30h-1z"/>
<path d="M365 915h1v22h-1z"/>
<path d="M391 919h1v18h-1z"/>
<path d="M396 911h1v26h-1z"/>
<path d="M450 907h1v30h-1z"/>
<path d="M467 903h1v34h-1z"/>
<path d="M469 923h1v14h-1z"/>
<path d="M470 915h1v22h-1z"/>
<path d="M486 915h1v22h-1z"/>
<path d="M488 907h1v30h-1z"/>
<path d="M522 899h1v38h-1z"/>
<path d="M579 911h1v26h-1z"/>
<path d="M580 911h1v26h-1z"/>
<path d="M620 911h1v26h-1z"/>
<path d="M667 919h1v18h-1z"/>
<path d="M671 919h1v18h-1z"/>
<path d="M672 903h1v34h-1z"/>
<path d="M675 919h1v18h-1z"/>
<path d="M681 911h1v26h-1z"/>
<path d="M684 919h1v18h-1z"/>
<path d="M686 919h1v18h-1z"/>
<path d="M690 911h1v26h-1z"/>
<path d="M701 923h1v14h-1z"/>
<path d="M702 919h1v18h-1z"/>
<path d="M725 919h1v18h-1z"/>
<path d="M906 915h1v22h-1z"/>
<path d="M907 932h1v5h-1z"/>
<path d="M916 927h1v10h-1z"/>
<path d="M922 919h1v18h-1z"/>
<path d="M934 923h1v14h-1z"/>
<path d="M941 923h1v14h-1z"/>
<path d="M955 923h1v14h-1z"/>
</g>
<g fill="url(#l42)">
<path d="M12 882h1v55h-1z"/>
<path d="M15 866h1v71h-1z"/>
<path d="M75 903h1v34h-1z"/>
<path d="M76 903h1v34h-1z"/>
<path d="M113 907h1v30h-1z"/>
<path d="M118 911h1v26h-1z"/>
<path d="M282 911h1v26h-1z"/>
<path d="M284 903h1v34h-1z"/>
<path d="M296 890h1v47h-1z"/>
<path d="M317 907h1v30h-1z"/>
<path d="M355 911h1v26h-1z"/>
<path d="M357 911h1v26h-1z"/>
<path d="M358 895h1v42h-1z"/>
<path d="M359 907h1v30h-1z"/>
<path d="M368 907h1v30h-1z"/>
<path d="M392 899h1v38h-1z"/>
<path d="M397 903h1v34h-1z"/>
<path d="M400 923h1v14h-1z"/>
<path d="M420 915h1v22h-1z"/>
<path d="M445 911h1v26h-1z"/>
<path d="M451 915h1v22h-1z"/>
<path d="M463 915h1v22h-1z"/>
<path d="M466 911h1v26h-1z"/>
<path d="M581 911h1v26h-1z"/>
<path d="M621 903h1v34h-1z"/>
<path d="M623 911h1v26h-1z"/>
<path d="M663 907h1v30h-1z"/>
<path d="M674 907h1v30h-1z"/>
<path d="M682 915h1v22h-1z"/>
<path d="M689 911h1v26h-1z"/>
<path d="M698 919h1v18h-1z"/>
<path d="M703 919h1v18h-1z"/>
<path d="M715 923h1v14h-1z"/>
<path d="M719 936h1v1h-1z"/>
<path d="M720 927h1v10h-1z"/>
<path d="M727 932h1v5h-1z"/>
<path d="M729 923h1v14h-1z"/>
<path d="M730 915h1v22h-1z"/>
<path d="M731 907h1v30h-1z"/>
<path d="M740 923h1v14h-1z"/>
<path d="M814 907h1v30h-1z"/>
<path d="M905 927h1v10h-1z"/>
<path d="M919 927h1v10h-1z"/>
<path d="M921 932h1v5h-1z"/>
<path d="M931 932h1v5h-1z"/>
<path d="M932 907h1v30h-1z"/>
<path d="M953 932h1v5h-1z"/>
<path d="M956 915h1v22h-1z"/>
<path d="M957 923h1v14h-1z"/>
</g>
<g fill="url(#l43)">
<path d="M11 890h1v47h-1z"/>
<path d="M19 874h1v63h-1z"/>
<path d="M28 878h1v59h-1z"/>
<path d="M29 895h1v42h-1z"/>
<path d="M56 899h1v38h-1z"/>
<path d="M70 907h1v30h-1z"/>
<path d="M71 907h1v30h-1z"/>
<path d="M78 903h1v34h-1z"/>
<path d="M112 907h1v30h-1z"/>
<path d="M115 907h1v30h-1z"/>
<path d="M285 907h1v30h-1z"/>
<path d="M286 907h1v30h-1z"/>
<path d="M293 915h1v22h-1z"/>
<path d="M304 903h1v34h-1z"/>
<path d="M308 911h1v26h-1z"/>
<path d="M312 923h1v14h-1z"/>
<path d="M316 907h1v30h-1z"/>
<path d="M318 890h1v47h-1z"/>
<path d="M346 907h1v30h-1z"/>
<path d="M356 903h1v34h-1z"/>
<path d="M362 907h1v30h-1z"/>
<path d="M363 907h1v30h-1z"/>
<path d="M366 907h1v30h-1z"/>
<path d="M367 915h1v22h-1z"/>
<path d="M394 907h1v30h-1z"/>
<path d="M395 911h1v26h-1z"/>
<path d="M398 911h1v26h-1z"/>
<path d="M399 907h1v30h-1z"/>
<path d="M401 903h1v34h-1z"/>
<path d="M402 915h1v22h-1z"/>
<path d="M448 895h1v42h-1z"/>
<path d="M449 911h1v26h-1z"/>
<path d="M464 927h1v10h-1z"/>
<path d="M472 915h1v22h-1z"/>
<path d="M521 890h1v47h-1z"/>
<path d="M583 923h1v14h-1z"/>
<path d="M664 915h1v22h-1z"/>
<path d="M665 899h1v38h-1z"/>
<path d="M685 919h1v18h-1z"/>
<path d="M700 923h1v14h-1z"/>
<path d="M706 919h1v18h-1z"/>
<path d="M711 923h1v14h-1z"/>
<path d="M717 915h1v22h-1z"/>
<path d="M721 932h1v5h-1z"/>
<path d="M722 927h1v10h-1z"/>
<path d="M724 923h1v14h-1z"/>
<path d="M732 915h1v22h-1z"/>
<path d="M733 911h1v26h-1z"/>
<path d="M735 919h1v18h-1z"/>
<path d="M736 919h1v18h-1z"/>
<path d="M739 919h1v18h-1z"/>
<path d="M741 927h1v10h-1z"/>
<path d="M784 911h1v26h-1z"/>
<path d="M801 919h1v18h-1z"/>
<path d="M802 915h1v22h-1z"/>
<path d="M920 927h1v10h-1z"/>
<path d="M943 915h1v22h-1z"/>
<path d="M944 923h1v14h-1z"/>
<path d="M950 927h1v10h-1z"/>
</g>
<g fill="url(#l44)">
<path d="M55 907h1v30h-1z"/>
<path d="M60 899h1v38h-1z"/>
<path d="M69 907h1v30h-1z"/>
<path d="M72 890h1v47h-1z"/>
<path d="M73 911h1v26h-1z"/>
<path d="M74 903h1v34h-1z"/>
<path d="M110 907h1v30h-1z"/>
<path d="M111 895h1v42h-1z"/>
<path d="M123 911h1v26h-1z"/>
<path d="M124 907h1v30h-1z"/>
<path d="M125 895h1v42h-1z"/>
<path d="M126 903h1v34h-1z"/>
<path d="M128 907h1v30h-1z"/>
<path d="M129 895h1v42h-1z"/>
<path d="M297 911h1v26h-1z"/>
<path d="M310 915h1v22h-1z"/>
<path d="M350 907h1v30h-1z"/>
<path d="M364 907h1v30h-1z"/>
<path d="M393 882h1v55h-1z"/>
<path d="M404 911h1v26h-1z"/>
<path d="M430 911h1v26h-1z"/>
<path d="M443 911h1v26h-1z"/>
<path d="M444 911h1v26h-1z"/>
<path d="M446 911h1v26h-1z"/>
<path d="M447 899h1v38h-1z"/>
<path d="M452 915h1v22h-1z"/>
<path d="M457 911h1v26h-1z"/>
<path d="M461 915h1v22h-1z"/>
<path d="M462 915h1v22h-1z"/>
<path d="M471 915h1v22h-1z"/>
<path d="M478 919h1v18h-1z"/>
<path d="M480 927h1v10h-1z"/>
<path d="M520 907h1v30h-1z"/>
<path d="M622 911h1v26h-1z"/>
<path d="M705 919h1v18h-1z"/>
<path d="M714 923h1v14h-1z"/>
<path d="M723 923h1v14h-1z"/>
<path d="M728 923h1v14h-1z"/>
<path d="M734 919h1v18h-1z"/>
<path d="M737 919h1v18h-1z"/>
<path d="M744 915h1v22h-1z"/>
<path d="M785 915h1v22h-1z"/>
<path d="M790 923h1v14h-1z"/>
<path d="M791 932h1v5h-1z"/>
<path d="M795 919h1v18h-1z"/>
<path d="M815 919h1v18h-1z"/>
<path d="M900 919h1v18h-1z"/>
<path d="M904 932h1v5h-1z"/>
<path d="M951 923h1v14h-1z"/>
<path d="M952 932h1v5h-1z"/>
</g>
<g fill="url(#l45)">
<path d="M50 911h1v26h-1z"/>
<path d="M51 907h1v30h-1z"/>
<path d="M54 907h1v30h-1z"/>
<path d="M57 899h1v38h-1z"/>
<path d="M58 882h1v55h-1z"/>
<path d="M59 899h1v38h-1z"/>
<path d="M62 882h1v55h-1z"/>
<path d="M68 907h1v30h-1z"/>
<path d="M79 907h1v30h-1z"/>
<path d="M81 899h1v38h-1z"/>
<path d="M82 907h1v30h-1z"/>
<path d="M83 907h1v30h-1z"/>
<path d="M94 907h1v30h-1z"/>
<path d="M103 911h1v26h-1z"/>
<path d="M119 911h1v26h-1z"/>
<path d="M120 911h1v26h-1z"/>
<path d="M127 907h1v30h-1z"/>
<path d="M289 911h1v26h-1z"/>
<path d="M291 895h1v42h-1z"/>
<path d="M347 895h1v42h-1z"/>
<path d="M349 907h1v30h-1z"/>
<path d="M351 903h1v34h-1z"/>
<path d="M403 911h1v26h-1z"/>
<path d="M405 911h1v26h-1z"/>
<path d="M410 911h1v26h-1z"/>
<path d="M433 911h1v26h-1z"/>
<path d="M437 907h1v30h-1z"/>
<path d="M438 907h1v30h-1z"/>
<path d="M441 919h1v18h-1z"/>
<path d="M460 915h1v22h-1z"/>
<path d="M476 915h1v22h-1z"/>
<path d="M477 919h1v18h-1z"/>
<path d="M479 919h1v18h-1z"/>
<path d="M738 919h1v18h-1z"/>
<path d="M742 911h1v26h-1z"/>
<path d="M743 923h1v14h-1z"/>
<path d="M771 932h1v5h-1z"/>
<path d="M772 927h1v10h-1z"/>
<path d="M778 932h1v5h-1z"/>
<path d="M782 932h1v5h-1z"/>
<path d="M783 927h1v10h-1z"/>
<path d="M789 907h1v30h-1z"/>
<path d="M796 932h1v5h-1z"/>
<path d="M800 923h1v14h-1z"/>
<path d="M851 936h1v1h-1z"/>
<path d="M853 936h1v1h-1z"/>
<path d="M854 919h1v18h-1z"/>
<path d="M899 936h1v1h-1z"/>
<path d="M901 923h1v14h-1z"/>
<path d="M902 932h1v5h-1z"/>
<path d="M903 936h1v1h-1z"/>
<path d="M946 923h1v14h-1z"/>
<path d="M948 927h1v10h-1z"/>
<path d="M949 927h1v10h-1z"/>
</g>
<g fill="url(#l46)">
<path d="M53 907h1v30h-1z"/>
<path d="M61 890h1v47h-1z"/>
<path d="M64 907h1v30h-1z"/>
<path d="M80 907h1v30h-1z"/>
<path d="M93 907h1v30h-1z"/>
<path d="M102 911h1v26h-1z"/>
<path d="M104 903h1v34h-1z"/>
<path d="M106 899h1v38h-1z"/>
<path d="M107 911h1v26h-1z"/>
<path d="M108 907h1v30h-1z"/>
<path d="M109 907h1v30h-1z"/>
<path d="M121 907h1v30h-1z"/>
<path d="M290 911h1v26h-1z"/>
<path d="M298 911h1v26h-1z"/>
<path d="M309 907h1v30h-1z"/>
<path d="M311 899h1v38h-1z"/>
<path d="M313 899h1v38h-1z"/>
<path d="M314 899h1v38h-1z"/>
<path d="M348 915h1v22h-1z"/>
<path d="M406 911h1v26h-1z"/>
<path d="M407 911h1v26h-1z"/>
<path d="M408 915h1v22h-1z"/>
<path d="M411 919h1v18h-1z"/>
<path d="M415 915h1v22h-1z"/>
<path d="M436 915h1v22h-1z"/>
<path d="M439 919h1v18h-1z"/>
<path d="M440 915h1v22h-1z"/>
<path d="M442 911h1v26h-1z"/>
<path d="M453 911h1v26h-1z"/>
<path d="M454 915h1v22h-1z"/>
<path d="M455 915h1v22h-1z"/>
<path d="M456 915h1v22h-1z"/>
<path d="M458 919h1v18h-1z"/>
<path d="M459 915h1v22h-1z"/>
<path d="M485 919h1v18h-1z"/>
<path d="M582 915h1v22h-1z"/>
<path d="M699 915h1v22h-1z"/>
<path d="M704 927h1v10h-1z"/>
<path d="M712 936h1v1h-1z"/>
<path d="M745 932h1v5h-1z"/>
<path d="M769 927h1v10h-1z"/>
<path d="M770 923h1v14h-1z"/>
<path d="M776 936h1v1h-1z"/>
<path d="M781 923h1v14h-1z"/>
<path d="M786 919h1v18h-1z"/>
<path d="M792 932h1v5h-1z"/>
<path d="M794 932h1v5h-1z"/>
<path d="M850 919h1v18h-1z"/>
<path d="M858 936h1v1h-1z"/>
<path d="M898 936h1v1h-1z"/>
<path d="M945 923h1v14h-1z"/>
</g>
<g fill="url(#l47)">
<path d="M52 923h1v14h-1z"/>
<path d="M63 927h1v10h-1z"/>
<path d="M65 927h1v10h-1z"/>
<path d="M84 932h1v5h-1z"/>
<path d="M85 927h1v10h-1z"/>
<path d="M90 932h1v5h-1z"/>
<path d="M91 927h1v10h-1z"/>
<path d="M95 923h1v14h-1z"/>
<path d="M98 927h1v10h-1z"/>
<path d="M99 927h1v10h-1z"/>
<path d="M101 932h1v5h-1z"/>
<path d="M105 932h1v5h-1z"/>
<path d="M122 932h1v5h-1z"/>
<path d="M315 927h1v10h-1z"/>
<path d="M412 923h1v14h-1z"/>
<path d="M413 927h1v10h-1z"/>
<path d="M416 932h1v5h-1z"/>
<path d="M417 927h1v10h-1z"/>
<path d="M431 923h1v14h-1z"/>
<path d="M432 927h1v10h-1z"/>
<path d="M434 927h1v10h-1z"/>
<path d="M435 923h1v14h-1z"/>
<path d="M465 927h1v10h-1z"/>
<path d="M482 927h1v10h-1z"/>
<path d="M483 927h1v10h-1z"/>
<path d="M484 923h1v14h-1z"/>
<path d="M666 923h1v14h-1z"/>
<path d="M774 936h1v1h-1z"/>
<path d="M777 936h1v1h-1z"/>
<path d="M780 927h1v10h-1z"/>
<path d="M787 932h1v5h-1z"/>
<path d="M793 927h1v10h-1z"/>
<path d="M797 927h1v10h-1z"/>
<path d="M798 927h1v10h-1z"/>
<path d="M799 932h1v5h-1z"/>
<path d="M828 932h1v5h-1z"/>
<path d="M829 923h1v14h-1z"/>
<path d="M840 927h1v10h-1z"/>
<path d="M842 932h1v5h-1z"/>
<path d="M872 932h1v5h-1z"/>
<path d="M880 936h1v1h-1z"/>
<path d="M881 936h1v1h-1z"/>
<path d="M882 932h1v5h-1z"/>
<path d="M947 932h1v5h-1z"/>
</g>
<g fill="url(#l48)">
<path d="M66 927h1v10h-1z"/>
<path d="M67 932h1v5h-1z"/>
<path d="M86 932h1v5h-1z"/>
<path d="M87 927h1v10h-1z"/>
<path d="M88 927h1v10h-1z"/>
<path d="M89 927h1v10h-1z"/>
<path d="M92 923h1v14h-1z"/>
<path d="M96 932h1v5h-1z"/>
<path d="M97 923h1v14h-1z"/>
<path d="M100 923h1v14h-1z"/>
<path d="M409 932h1v5h-1z"/>
<path d="M414 927h1v10h-1z"/>
<path d="M418 932h1v5h-1z"/>
<path d="M419 932h1v5h-1z"/>
<path d="M473 927h1v10h-1z"/>
<path d="M474 927h1v10h-1z"/>
<path d="M475 923h1v14h-1z"/>
<path d="M481 927h1v10h-1z"/>
<path d="M713 927h1v10h-1z"/>
<path d="M746 927h1v10h-1z"/>
<path d="M747 927h1v10h-1z"/>
<path d="M748 927h1v10h-1z"/>
<path d="M749 927h1v10h-1z"/>
<path d="M750 932h1v5h-1z"/>
<path d="M751 927h1v10h-1z"/>
<path d="M752 927h1v10h-1z"/>
<path d="M753 927h1v10h-1z"/>
<path d="M754 927h1v10h-1z"/>
<path d="M755 936h1v1h-1z"/>
<path d="M757 936h1v1h-1z"/>
<path d="M759 932h1v5h-1z"/>
<path d="M760 936h1v1h-1z"/>
<path d="M761 936h1v1h-1z"/>
<path d="M762 936h1v1h-1z"/>
<path d="M763 927h1v10h-1z"/>
<path d="M765 927h1v10h-1z"/>
<path d="M766 927h1v10h-1z"/>
<path d="M767 923h1v14h-1z"/>
<path d="M768 927h1v10h-1z"/>
<path d="M773 927h1v10h-1z"/>
<path d="M775 936h1v1h-1z"/>
<path d="M779 923h1v14h-1z"/>
<path d="M816 923h1v14h-1z"/>
<path d="M817 927h1v10h-1z"/>
<path d="M818 932h1v5h-1z"/>
<path d="M819 927h1v10h-1z"/>
<path d="M820 927h1v10h-1z"/>
<path d="M821 936h1v1h-1z"/>
<path d="M822 927h1v10h-1z"/>
<path d="M823 932h1v5h-1z"/>
<path d="M824 936h1v1h-1z"/>
<path d="M827 932h1v5h-1z"/>
<path d="M830 927h1v10h-1z"/>
<path d="M831 932h1v5h-1z"/>
<path d="M832 932h1v5h-1z"/>
<path d="M833 932h1v5h-1z"/>
<path d="M835 927h1v10h-1z"/>
<path d="M836 932h1v5h-1z"/>
<path d="M837 923h1v14h-1z"/>
<path d="M838 932h1v5h-1z"/>
<path d="M844 923h1v14h-1z"/>
<path d="M845 936h1v1h-1z"/>
<path d="M846 936h1v1h-1z"/>
<path d="M847 927h1v10h-1z"/>
<path d="M849 932h1v5h-1z"/>
<path d="M855 923h1v14h-1z"/>
<path d="M856 936h1v1h-1z"/>
<path d="M857 927h1v10h-1z"/>
<path d="M862 936h1v1h-1z"/>
<path d="M863 936h1v1h-1z"/>
<path d="M864 936h1v1h-1z"/>
<path d="M873 927h1v10h-1z"/>
<path d="M875 932h1v5h-1z"/>
<path d="M876 932h1v5h-1z"/>
<path d="M877 927h1v10h-1z"/>
<path d="M878 923h1v14h-1z"/>
<path d="M883 936h1v1h-1z"/>
<path d="M884 927h1v10h-1z"/>
<path d="M885 936h1v1h-1z"/>
<path d="M886 932h1v5h-1z"/>
<path d="M887 936h1v1h-1z"/>
<path d="M888 936h1v1h-1z"/>
<path d="M889 936h1v1h-1z"/>
<path d="M890 936h1v1h-1z"/>
<path d="M891 932h1v5h-1z"/>
<path d="M892 932h1v5h-1z"/>
<path d="M893 932h1v5h-1z"/>
<path d="M894 932h1v5h-1z"/>
<path d="M895 932h1v5h-1z"/>
<path d="M896 936h1v1h-1z"/>
<path d="M897 932h1v5h-1z"/>
</g>
<path stroke="#73ff84" stroke-width="4.0" fill="none" d="M0 939.0h1M8 939.0h3M21 939.0h1M133 939.0h1M162 939.0h6M185 939.0h3M193 939.0h1M206 939.0h5M212 939.0h5M258 939.0h6M265 939.0h2M270 939.0h3M320 939.0h1M323 939.0h4M343 939.0h3M371 939.0h2M390 939.0h2M428 939.0h4M493 939.0h4M516 939.0h1M525 939.0h3M538 939.0h1M566 939.0h1M568 939.0h5M577 939.0h1M586 939.0h1M593 939.0h2M636 939.0h2M662 939.0h1"/>
<path stroke="#b6ff41" stroke-width="4.0" fill="none" d="M1 939.0h1M4 939.0h1M22 939.0h3M30 939.0h6M40 939.0h2M46 939.0h1M141 939.0h1M146 939.0h2M155 939.0h2M180 939.0h5M211 939.0h1M222 939.0h3M232 939.0h2M257 939.0h1M264 939.0h1M283 939.0h8M300 939.0h4M337 939.0h2M353 939.0h2M377 939.0h2M381 939.0h4M424 939.0h1M426 939.0h1M497 939.0h6M517 939.0h1M528 939.0h1M545 939.0h1M548 939.0h4M561 939.0h3M573 939.0h3M578 939.0h1M589 939.0h1M630 939.0h1M656 939.0h3M676 939.0h2M809 939.0h2"/>
<path stroke="#d8ff1f" stroke-width="4.0" fill="none" d="M2 939.0h2M16 939.0h5M37 939.0h3M142 939.0h2M160 939.0h2M168 939.0h1M225 939.0h3M268 939.0h2M321 939.0h1M333 939.0h1M532 939.0h6M539 939.0h5M546 939.0h2M558 939.0h3M627 939.0h3M640 939.0h8M811 939.0h1"/>
<path stroke="#f9f300" stroke-width="4.0" fill="none" d="M5 939.0h3M36 939.0h1M43 939.0h3M47 939.0h4M135 939.0h6M188 939.0h1M195 939.0h6M202 939.0h3M246 939.0h6M255 939.0h1M267 939.0h1M327 939.0h1M334 939.0h3M386 939.0h1M490 939.0h1M503 939.0h1M518 939.0h6M529 939.0h1M631 939.0h3M659 939.0h3M925 939.0h3"/>
<path stroke="#000" stroke-width="4.0" fill="none" d="M11 939.0h2M28 939.0h2M51 939.0h12M63 939.0h7M70 939.0h4M74 939.0h1M82 939.0h5M87 939.0h7M94 939.0h1M95 939.0h13M108 939.0h4M112 939.0h5M118 939.0h3M121 939.0h2M123 939.0h1M124 939.0h3M127 939.0h3M291 939.0h1M297 939.0h2M304 939.0h5M309 939.0h3M312 939.0h1M313 939.0h2M315 939.0h1M316 939.0h3M346 939.0h1M347 939.0h5M355 939.0h9M364 939.0h2M366 939.0h2M392 939.0h4M397 939.0h7M404 939.0h3M407 939.0h3M410 939.0h3M413 939.0h11M432 939.0h1M433 939.0h2M435 939.0h2M437 939.0h6M443 939.0h10M453 939.0h1M454 939.0h2M456 939.0h11M472 939.0h1M473 939.0h3M476 939.0h11M582 939.0h3M621 939.0h3M665 939.0h1M666 939.0h2M703 939.0h2M705 939.0h1M706 939.0h1M712 939.0h3M715 939.0h4M721 939.0h4M727 939.0h1M728 939.0h2M734 939.0h10M744 939.0h2M746 939.0h25M771 939.0h3M774 939.0h4M778 939.0h9M787 939.0h2M789 939.0h10M799 939.0h2M801 939.0h4M817 939.0h36M853 939.0h3M856 939.0h45M901 939.0h5M919 939.0h3M931 939.0h2M947 939.0h2M949 939.0h3M952 939.0h4M957 939.0h1"/>
<path stroke="#ff7f00" stroke-width="4.0" fill="none" d="M13 939.0h1M75 939.0h7M117 939.0h1M130 939.0h3M292 939.0h5M299 939.0h1M319 939.0h1M340 939.0h3M352 939.0h1M368 939.0h3M373 939.0h4M396 939.0h1M467 939.0h1M469 939.0h3M488 939.0h1M579 939.0h3M620 939.0h1M638 939.0h2M663 939.0h2M671 939.0h5M681 939.0h2M702 939.0h1M719 939.0h2M725 939.0h2M730 939.0h4M814 939.0h3M906 939.0h3M912 939.0h5M922 939.0h1M934 939.0h6M956 939.0h1"/>
<path stroke="#95ff62" stroke-width="4.0" fill="none" d="M14 939.0h2M25 939.0h1M134 939.0h1M144 939.0h2M169 939.0h8M179 939.0h1M189 939.0h1M194 939.0h1M205 939.0h1M217 939.0h2M229 939.0h3M236 939.0h2M242 939.0h4M328 939.0h2M339 939.0h1M385 939.0h1M425 939.0h1M487 939.0h1M489 939.0h1M504 939.0h2M512 939.0h4M544 939.0h1M565 939.0h1M576 939.0h1M585 939.0h1M590 939.0h3M634 939.0h2M648 939.0h8M668 939.0h2"/>
<path stroke="#51ffa5" stroke-width="4.0" fill="none" d="M26 939.0h2M219 939.0h3M273 939.0h1M330 939.0h3M379 939.0h2M427 939.0h1M506 939.0h6M530 939.0h2M552 939.0h2M587 939.0h2M595 939.0h3M626 939.0h1"/>
<path stroke="#ffcc00" stroke-width="4.0" fill="none" d="M42 939.0h1M148 939.0h7M201 939.0h1M234 939.0h2M238 939.0h4M252 939.0h3M256 939.0h1M277 939.0h6M322 939.0h1M387 939.0h3M468 939.0h1M491 939.0h2M564 939.0h1M678 939.0h3M695 939.0h1M709 939.0h1M805 939.0h1M807 939.0h2M812 939.0h2M928 939.0h3M940 939.0h7"/>
<path stroke="#30ffc7" stroke-width="4.0" fill="none" d="M157 939.0h3M177 939.0h2M190 939.0h3M228 939.0h1M524 939.0h1M554 939.0h4M567 939.0h1M598 939.0h6M605 939.0h7M614 939.0h3M619 939.0h1M625 939.0h1M670 939.0h1"/>
<path stroke="#00ceff" stroke-width="4.0" fill="none" d="M274 939.0h3M604 939.0h1M612 939.0h2M617 939.0h2"/>
<path stroke="#0ef7e9" stroke-width="4.0" fill="none" d="M624 939.0h1"/>
<path stroke="#ffa600" stroke-width="4.0" fill="none" d="M683 939.0h12M696 939.0h6M707 939.0h2M710 939.0h2M806 939.0h1M909 939.0h3M917 939.0h2M923 939.0h2M933 939.0h1"/>
<path stroke="#73ff84" stroke-width="4.0" fill="none" d="M0 943.0h4M23 943.0h2M26 943.0h4M33 943.0h2M45 943.0h2M163 943.0h3M172 943.0h5M179 943.0h2M194 943.0h1M229 943.0h1M239 943.0h2M281 943.0h1M303 943.0h1M338 943.0h5M509 943.0h2M524 943.0h2M550 943.0h1M572 943.0h1M591 943.0h3"/>
<path stroke="#00ceff" stroke-width="4.0" fill="none" d="M4 943.0h8M14 943.0h2M21 943.0h2M30 943.0h3M41 943.0h3M47 943.0h3M132 943.0h3M137 943.0h3M142 943.0h13M167 943.0h5M181 943.0h5M190 943.0h2M195 943.0h5M202 943.0h6M213 943.0h6M221 943.0h7M230 943.0h1M234 943.0h5M242 943.0h4M247 943.0h5M256 943.0h4M268 943.0h5M274 943.0h7M301 943.0h2M305 943.0h3M321 943.0h3M327 943.0h6M336 943.0h2M343 943.0h7M369 943.0h9M380 943.0h1M387 943.0h3M423 943.0h5M468 943.0h2M492 943.0h8M508 943.0h1M511 943.0h6M523 943.0h1M526 943.0h1M529 943.0h4M542 943.0h1M545 943.0h1M549 943.0h1M554 943.0h12M585 943.0h6M594 943.0h3M604 943.0h1M612 943.0h1M618 943.0h1M631 943.0h2M641 943.0h11M661 943.0h2"/>
<path stroke="#000" stroke-width="4.0" fill="none" d="M12 943.0h1M50 943.0h13M65 943.0h1M72 943.0h1M73 943.0h2M75 943.0h3M78 943.0h1M82 943.0h1M86 943.0h2M88 943.0h3M94 943.0h4M99 943.0h5M104 943.0h2M109 943.0h2M116 943.0h2M123 943.0h3M126 943.0h2M131 943.0h1M294 943.0h3M310 943.0h2M356 943.0h2M359 943.0h1M361 943.0h2M395 943.0h1M412 943.0h2M414 943.0h1M416 943.0h1M430 943.0h2M435 943.0h1M437 943.0h1M439 943.0h1M447 943.0h1M466 943.0h2M476 943.0h4M486 943.0h4M519 943.0h1M579 943.0h1M623 943.0h6M663 943.0h3M685 943.0h1M700 943.0h1M704 943.0h1M705 943.0h6M713 943.0h1M714 943.0h2M717 943.0h1M722 943.0h5M728 943.0h2M747 943.0h24M771 943.0h1M772 943.0h18M790 943.0h2M792 943.0h1M793 943.0h2M795 943.0h4M799 943.0h2M801 943.0h1M816 943.0h12M828 943.0h2M830 943.0h10M840 943.0h2M842 943.0h8M850 943.0h3M853 943.0h1M854 943.0h2M856 943.0h2M858 943.0h2M860 943.0h9M869 943.0h4M873 943.0h7M880 943.0h1M881 943.0h17M898 943.0h2M900 943.0h7M946 943.0h3M949 943.0h4"/>
<path stroke="#ffa600" stroke-width="4.0" fill="none" d="M13 943.0h1M71 943.0h1M92 943.0h2M107 943.0h2M118 943.0h2M291 943.0h3M297 943.0h2M352 943.0h4M358 943.0h1M365 943.0h4M399 943.0h3M403 943.0h3M410 943.0h2M470 943.0h4M485 943.0h1M580 943.0h2M666 943.0h2M684 943.0h1M687 943.0h2M692 943.0h6M716 943.0h1M718 943.0h1M912 943.0h2M915 943.0h4M924 943.0h1M954 943.0h1"/>
<path stroke="#d8ff1f" stroke-width="4.0" fill="none" d="M16 943.0h2M35 943.0h4M135 943.0h1M140 943.0h2M246 943.0h1M267 943.0h1M282 943.0h7M429 943.0h1M459 943.0h7M475 943.0h1M490 943.0h2M501 943.0h1M520 943.0h2M546 943.0h3M629 943.0h2M808 943.0h1M926 943.0h1"/>
<path stroke="#f9f300" stroke-width="4.0" fill="none" d="M18 943.0h3M44 943.0h1M200 943.0h2M252 943.0h4M350 943.0h1M415 943.0h1M474 943.0h1M480 943.0h5M502 943.0h3M620 943.0h2M675 943.0h3M805 943.0h1M813 943.0h3M925 943.0h1M938 943.0h2"/>
<path stroke="#95ff62" stroke-width="4.0" fill="none" d="M25 943.0h1M39 943.0h2M155 943.0h1M166 943.0h1M186 943.0h2M208 943.0h2M300 943.0h1M333 943.0h3M379 943.0h1M381 943.0h5M390 943.0h5M428 943.0h1M500 943.0h1M517 943.0h2M534 943.0h1M543 943.0h2M573 943.0h1M576 943.0h3M584 943.0h1M635 943.0h6M652 943.0h3M668 943.0h2"/>
<path stroke="#ff7f00" stroke-width="4.0" fill="none" d="M63 943.0h2M66 943.0h5M83 943.0h3M91 943.0h1M106 943.0h1M111 943.0h5M120 943.0h3M128 943.0h3M289 943.0h2M299 943.0h1M319 943.0h2M363 943.0h2M407 943.0h2M417 943.0h4M432 943.0h3M436 943.0h1M458 943.0h1M522 943.0h1M582 943.0h2M686 943.0h1M689 943.0h3M698 943.0h2M701 943.0h3M711 943.0h2M719 943.0h3M727 943.0h1M730 943.0h17M802 943.0h2M907 943.0h2M919 943.0h5M931 943.0h4M953 943.0h1M955 943.0h3"/>
<path stroke="#ffcc00" stroke-width="4.0" fill="none" d="M79 943.0h3M98 943.0h1M304 943.0h1M308 943.0h2M312 943.0h7M351 943.0h1M360 943.0h1M396 943.0h3M402 943.0h1M406 943.0h1M409 943.0h1M438 943.0h1M440 943.0h7M448 943.0h10M622 943.0h1M678 943.0h6M804 943.0h1M806 943.0h2M812 943.0h1M909 943.0h3M914 943.0h1M927 943.0h4M935 943.0h3M940 943.0h6"/>
<path stroke="#b6ff41" stroke-width="4.0" fill="none" d="M136 943.0h1M159 943.0h4M188 943.0h2M210 943.0h3M233 943.0h1M326 943.0h1M378 943.0h1M386 943.0h1M421 943.0h2M533 943.0h1M540 943.0h2M570 943.0h2M574 943.0h2M633 943.0h2M809 943.0h3"/>
<path stroke="#51ffa5" stroke-width="4.0" fill="none" d="M156 943.0h3M192 943.0h2M228 943.0h1M231 943.0h2M241 943.0h1M260 943.0h7M273 943.0h1M324 943.0h2M505 943.0h3M527 943.0h2M535 943.0h5M551 943.0h1M566 943.0h4M597 943.0h1M655 943.0h6M670 943.0h5"/>
<path stroke="#30ffc7" stroke-width="4.0" fill="none" d="M177 943.0h2M219 943.0h2M552 943.0h2M598 943.0h6M605 943.0h7M613 943.0h5M619 943.0h1"/>
<path stroke="#00ceff" stroke-width="6.8" fill="none" d="M0 948.4h4M5 948.4h7M17 948.4h1M23 948.4h1M25 948.4h3M31 948.4h3M38 948.4h7M48 948.4h2M57 948.4h4M65 948.4h1M72 948.4h3M84 948.4h3M97 948.4h2M108 948.4h1M116 948.4h11M135 948.4h1M143 948.4h3M147 948.4h2M163 948.4h14M179 948.4h3M185 948.4h4M193 948.4h13M207 948.4h3M211 948.4h6M219 948.4h9M235 948.4h4M242 948.4h3M246 948.4h3M250 948.4h7M259 948.4h6M267 948.4h6M275 948.4h3M283 948.4h2M288 948.4h3M292 948.4h3M301 948.4h2M306 948.4h3M311 948.4h4M316 948.4h1M321 948.4h3M328 948.4h8M338 948.4h3M342 948.4h2M350 948.4h2M375 948.4h9M406 948.4h2M417 948.4h1M419 948.4h1M426 948.4h6M438 948.4h1M441 948.4h2M456 948.4h3M468 948.4h2M474 948.4h1M476 948.4h1M480 948.4h4M496 948.4h4M504 948.4h2M507 948.4h2M510 948.4h10M522 948.4h1M524 948.4h3M528 948.4h1M533 948.4h39M574 948.4h7M587 948.4h1M589 948.4h1M602 948.4h1M604 948.4h1M613 948.4h1M619 948.4h1M622 948.4h8M631 948.4h1M634 948.4h9M644 948.4h1M647 948.4h2M652 948.4h1M658 948.4h4M668 948.4h5M676 948.4h8M688 948.4h10M703 948.4h1M710 948.4h1M729 948.4h1M732 948.4h9M743 948.4h4M751 948.4h11M764 948.4h7M773 948.4h3M780 948.4h1M787 948.4h3M797 948.4h2M800 948.4h5M816 948.4h4M825 948.4h1M829 948.4h3M833 948.4h4M839 948.4h3M845 948.4h1M849 948.4h3M854 948.4h1M859 948.4h1M862 948.4h2M873 948.4h1M876 948.4h1M888 948.4h1M902 948.4h4M922 948.4h3M933 948.4h2M936 948.4h1M954 948.4h4"/>
<path stroke="#d8ff1f" stroke-width="6.8" fill="none" d="M4 948.4h1M389 948.4h4M491 948.4h2M643 948.4h1M649 948.4h2"/>
<path stroke="#000" stroke-width="6.8" fill="none" d="M12 948.4h1M50 948.4h7M76 948.4h4M80 948.4h1M83 948.4h1M101 948.4h2M104 948.4h3M107 948.4h1M110 948.4h1M129 948.4h2M131 948.4h3M287 948.4h1M295 948.4h3M299 948.4h1M315 948.4h1M317 948.4h2M341 948.4h1M358 948.4h6M374 948.4h1M403 948.4h1M412 948.4h3M415 948.4h2M432 948.4h1M433 948.4h1M437 948.4h1M439 948.4h1M443 948.4h1M444 948.4h2M446 948.4h4M450 948.4h1M454 948.4h2M470 948.4h1M473 948.4h1M475 948.4h1M477 948.4h3M485 948.4h6M520 948.4h1M581 948.4h4M665 948.4h3M673 948.4h3M709 948.4h1M713 948.4h13M742 948.4h1M747 948.4h4M762 948.4h2M777 948.4h1M790 948.4h2M792 948.4h2M799 948.4h1M808 948.4h1M821 948.4h2M823 948.4h1M827 948.4h2M838 948.4h1M843 948.4h2M846 948.4h2M860 948.4h2M870 948.4h1M877 948.4h2M884 948.4h4M891 948.4h3M894 948.4h1M906 948.4h5M911 948.4h6M925 948.4h4M941 948.4h3M948 948.4h1M949 948.4h2M952 948.4h2"/>
<path stroke="#73ff84" stroke-width="6.8" fill="none" d="M13 948.4h4M21 948.4h1M24 948.4h1M45 948.4h3M71 948.4h1M81 948.4h2M88 948.4h1M95 948.4h1M127 948.4h2M134 948.4h1M158 948.4h1M189 948.4h4M206 948.4h1M229 948.4h6M239 948.4h3M257 948.4h2M285 948.4h2M291 948.4h1M300 948.4h1M303 948.4h3M310 948.4h1M319 948.4h2M344 948.4h6M364 948.4h4M385 948.4h1M395 948.4h2M408 948.4h4M418 948.4h1M420 948.4h1M422 948.4h4M434 948.4h1M451 948.4h3M459 948.4h6M471 948.4h2M484 948.4h1M500 948.4h4M521 948.4h1M531 948.4h1M653 948.4h2M684 948.4h2M726 948.4h3M741 948.4h1M771 948.4h2M778 948.4h2M824 948.4h1M842 948.4h1M855 948.4h4M871 948.4h1M874 948.4h2M917 948.4h1M919 948.4h3M945 948.4h3"/>
<path stroke="#f9f300" stroke-width="6.8" fill="none" d="M18 948.4h3M29 948.4h2M89 948.4h6M103 948.4h1M109 948.4h1M111 948.4h5M149 948.4h9M245 948.4h1M278 948.4h5M309 948.4h1M393 948.4h2M404 948.4h2M440 948.4h1M467 948.4h1M686 948.4h2M698 948.4h4M711 948.4h2M794 948.4h3M832 948.4h1M837 948.4h1M866 948.4h4M872 948.4h1M879 948.4h5M895 948.4h1M898 948.4h4M930 948.4h3M937 948.4h4M944 948.4h1M951 948.4h1"/>
<path stroke="#95ff62" stroke-width="6.8" fill="none" d="M22 948.4h1M34 948.4h4M146 948.4h1M210 948.4h1M217 948.4h2M249 948.4h1M336 948.4h2M421 948.4h1M523 948.4h1M529 948.4h2M585 948.4h2M630 948.4h1M632 948.4h2M645 948.4h2"/>
<path stroke="#ffa600" stroke-width="6.8" fill="none" d="M28 948.4h1M61 948.4h4M66 948.4h5M75 948.4h1M87 948.4h1M96 948.4h1M99 948.4h2M298 948.4h1M352 948.4h6M368 948.4h2M373 948.4h1M397 948.4h6M435 948.4h2M465 948.4h2M663 948.4h2M702 948.4h1M704 948.4h5M730 948.4h2M776 948.4h1M781 948.4h6M805 948.4h3M809 948.4h7M820 948.4h1M826 948.4h1M848 948.4h1M852 948.4h2M864 948.4h2M889 948.4h2M896 948.4h2M918 948.4h1M929 948.4h1M935 948.4h1"/>
<path stroke="#b6ff41" stroke-width="6.8" fill="none" d="M136 948.4h7M159 948.4h4M370 948.4h3M386 948.4h3M532 948.4h1M651 948.4h1"/>
<path stroke="#30ffc7" stroke-width="6.8" fill="none" d="M177 948.4h2M506 948.4h1M527 948.4h1M588 948.4h1M594 948.4h8M603 948.4h1M605 948.4h8M614 948.4h5M655 948.4h3M662 948.4h1"/>
<path stroke="#51ffa5" stroke-width="6.8" fill="none" d="M182 948.4h3M228 948.4h1M265 948.4h2M273 948.4h2M324 948.4h4M384 948.4h1M493 948.4h3M509 948.4h1M572 948.4h2M590 948.4h4M620 948.4h2"/>
<path fill="#000" d="M0 829V829h1V853h1V849h1V833h1V841h1V833h1V845h1V849h1V837h2V849h1V833h4V837h2V849h1V837h1V841h1V849h1V833h1V837h1V825h1V837h2V841h1V829h1V837h3V845h2V829h1V853h1V841h1V829h1V841h1V845h1V837h1V841h1V833h1V845h1V853h1V841h1V853h1V841h1V853h1V845h1V862h1V845h1V849h1V837h1V845h1V858h1V849h1V870h1V841h1V853h1V849h1V853h1V858h2V853h1V858h1V849h1V858h1V870h1V858h1V862h1V858h1V874h1V858h2V862h1V874h1V862h2V870h1V849h1V858h1V878h1V862h1V866h1V862h2V853h1V858h1V862h1V870h1V849h1V853h1V849h1V874h1V870h1V853h1V849h1V853h2V849h1V862h1V870h1V858h1V849h1V858h3V866h1V858h1V849h1V853h1V870h1V858h2V853h1V862h2V870h1V858h1V862h1V858h2V874h1V858h1V862h1V853h1V866h1V858h1V862h2V849h1V858h1V866h1V858h2V866h1V858h1V866h1V853h1V849h2V858h1V853h1V845h1V849h2V853h1V849h3V862h1V853h1V845h1V858h1V866h1V858h1V845h1V862h3V874h1V862h1V858h1V862h1V853h2V862h1V849h1V866h1V858h2V870h1V853h1V870h1V858h3V853h1V866h1V849h1V858h1V870h1V853h1V858h2V853h1V858h1V862h1V874h1V853h2V858h1V862h1V853h1V858h1V862h1V870h1V858h1V862h1V853h2V874h1V853h1V870h1V858h4V849h1V862h1V853h1V858h2V866h1V853h1V862h1V858h1V874h1V845h1V866h1V858h2V862h5V870h1V866h1V858h2V870h1V853h1V845h1V853h3V858h1V874h1V858h2V874h1V858h1V866h1V858h2V866h1V853h2V858h1V853h2V858h2V845h1V858h3V853h1V874h1V858h1V862h1V874h1V858h3V853h2V862h2V874h1V858h1V853h1V878h1V862h1V870h1V862h2V870h3V862h1V874h1V858h2V870h1V853h1V866h1V874h1V862h1V858h4V849h1V862h3V858h2V862h1V870h1V858h2V882h1V866h1V870h1V853h1V858h2V862h1V870h1V858h1V862h1V858h1V866h1V870h1V858h2V862h1V874h1V858h1V870h1V866h3V858h1V866h1V862h2V866h1V862h1V858h3V862h1V853h1V858h2V862h1V858h1V866h1V862h1V858h1V866h1V870h1V866h1V853h2V862h2V878h1V870h1V858h1V853h1V858h3V853h2V858h1V853h2V866h1V870h1V853h1V866h3V853h1V866h1V858h1V862h2V874h1V866h2V862h1V849h1V870h1V866h1V862h3V858h2V862h1V853h1V858h3V862h1V866h2V858h1V862h1V858h1V862h2V866h1V862h2V858h1V866h1V878h1V858h1V862h1V849h2V862h1V858h2V862h2V882h1V862h1V853h1V862h2V874h2V858h1V870h1V866h1V862h1V866h1V862h1V866h1V862h1V858h2V866h1V858h1V862h1V858h3V862h1V870h1V849h1V853h1V870h1V866h2V862h2V853h1V849h1V841h1V853h1V845h1V858h1V853h1V866h1V858h1V866h1V849h1V858h1V870h1V866h1V858h3V849h2V858h2V866h1V853h1V858h1V853h2V874h2V858h1V853h1V849h3V845h1V849h1V866h1V853h2V858h1V866h1V853h1V858h2V862h1V853h1V862h2V845h1V862h2V853h1V866h3V853h1V862h1V858h2V866h1V862h1V845h1V853h1V862h1V874h1V866h1V878h2V870h1V853h1V849h1V858h1V853h2V849h1V866h1V870h1V878h1V870h1V862h1V858h1V862h1V858h2V870h1V858h3V870h1V849h1V874h1V866h1V862h2V858h2V853h1V845h1V849h1V870h1V862h2V853h2V866h1V853h3V858h1V870h1V858h1V866h1V858h1V866h2V862h1V858h1V853h2V849h1V866h1V849h1V858h2V862h1V858h1V882h1V870h2V858h1V866h3V870h1V866h1V862h1V866h1V870h1V866h1V862h3V866h1V878h1V870h1V866h1V870h1V874h1V866h3V878h1V874h1V862h2V874h1V870h1V878h1V870h1V874h1V870h2V886h1V870h1V878h1V874h1V878h1V866h1V858h1V870h3V882h1V878h1V862h1V866h3V862h1V870h1V874h2V866h2V874h1V878h1V866h1V874h1V866h2V870h3V874h1V853h1V866h1V874h1V862h1V858h2V870h1V882h1V870h1V862h3V870h1V862h1V874h1V862h2V874h3V866h1V886h1V874h1V866h1V874h1V858h1V870h3V866h1V870h1V874h1V866h2V882h2V874h1V882h1V870h1V866h2V874h1V870h1V874h2V878h1V882h1V874h1V899h1V874h1V878h1V899h1V866h1V874h2V878h1V882h1V886h2V882h3V874h2V899h1V866h1V870h1V886h1V870h1V882h1V870h1V878h1V890h1V882h1V870h1V882h1V895h1V882h2V878h1V886h1V874h1V882h3V895h2V882h2V878h1V882h2V874h1V882h1V874h1V899h2V874h1V878h4V882h2V886h1V882h3V890h1V899h1V886h1V882h1V907h1V890h2V878h2V890h1V878h3V874h1V882h1V886h1V878h1V890h1V882h2V886h1V874h1V870h1V874h3V870h1V878h2V870h3V862h2V870h1V878h2V886h1V866h1V878h2V882h1V874h1V878h2V870h1V862h1V870h1V866h2V874h1V870h1V874h1V878h1V870h1V878h5V895h1V874h1V878h1V874h1V870h1V890h2V903h1V882h2V895h1V882h1V886h1V895h1V886h2V899h1V886h4V874h1V890h1V886h1V895h1V878h1V882h1V890h1V886h1V895h1V886h2V899h1V886h1V899h1V890h1V895h1V899h1V895h1V878h1V895h1V890h1V899h1V886h1V890h1V899h2V886h1V890h1V886h1V890h1V882h1V874h1V899h1V886h1V890h3V895h1V886h1V882h2V895h1V886h2V895h1V886h2V895h1V878h1V899h1V886h1V890h2V886h3V882h1V886h3V882h1V886h1V899h1V903h1V899h1V886h1V899h1V890h2V886h3V882h1V886h2V878h2V886h1V874h1V882h1V878h1V882h2V895h1V882h1V878h1V874h1V890h1V899h1V882h2V878h1V886h1V882h2V895h1V886h1V878h1V886h1V882h1V895h1V886h1V878h2V882h1V886h1V874h1V878h1V882h3V878h1V882h2V874h1V882h1V878h1V886h1V874h1V882h1V878h1V874h2V878h1V870h1V886h1V878h2V882h1V874h1V950h-1V923h-1V947h-1V950h-1V947h-1V926h-1V930h-1V947h-1V940h-1V947h-1V942h-1V936h-1V928h-1V929h-1V932h-1V936h-1V940h-1V931h-1V918h-1V923h-1V935h-1V940h-1V923h-1V947h-1V931h-1V934h-1V950h-1V935h-1V939h-1V944h-1V931h-1V934h-1V940h-1V922h-1V932h-1V921h-1V940h-2V947h-1V935h-1V923h-1V947h-1V927h-1V935h-1V931h-1V947h-2V935h-1V940h-1V943h-1V947h-1V950h-1V921h-1V927h-1V929h-1V947h-2V950h-1V947h-1V950h-7V947h-1V950h-4V947h-3V950h-1V947h-2V950h-1V933h-1V950h-2V947h-1V940h-1V950h-4V932h-1V950h-2V947h-1V950h-2V947h-2V950h-1V947h-1V950h-1V936h-1V947h-2V940h-1V950h-2V947h-1V950h-1V947h-1V950h-2V947h-1V950h-2V938h-1V950h-9V947h-1V950h-2V947h-3V950h-2V935h-1V950h-2V947h-1V950h-1V947h-2V950h-2V941h-1V950h-2V936h-1V916h-1V918h-1V919h-1V914h-1V909h-3V927h-1V926h-1V936h-1V927h-1V918h-1V937h-1V950h-1V925h-1V922h-1V924h-1V950h-1V947h-2V950h-1V929h-2V933h-1V950h-2V921h-1V950h-3V947h-1V950h-1V926h-1V940h-1V950h-2V947h-1V936h-1V950h-2V941h-1V950h-1V947h-1V950h-4V947h-1V950h-2V947h-1V950h-2V947h-1V950h-2V947h-2V950h-13V924h-1V947h-1V950h-2V928h-1V947h-1V950h-1V947h-6V930h-1V947h-2V929h-1V939h-1V950h-1V926h-1V932h-1V947h-1V926h-1V928h-1V922h-1V940h-1V921h-1V926h-1V914h-1V933h-1V947h-2V950h-1V923h-2V922h-2V950h-1V941h-1V922h-1V925h-1V929h-1V950h-1V947h-1V932h-1V930h-1V932h-1V923h-1V918h-1V944h-1V932h-1V923h-1V921h-1V947h-2V917h-1V927h-1V917h-1V947h-1V929h-1V923h-1V947h-1V912h-1V923h-3V927h-2V947h-2V915h-1V906h-1V947h-1V911h-1V931h-1V918h-1V927h-1V911h-1V947h-1V940h-1V908h-1V918h-2V901h-1V914h-1V915h-1V910h-1V905h-1V915h-1V906h-1V931h-1V918h-1V923h-1V919h-1V914h-1V909h-1V927h-1V903h-1V918h-1V927h-1V913h-1V918h-1V907h-1V902h-1V922h-1V927h-1V918h-1V927h-1V923h-2V919h-1V910h-1V907h-1V914h-1V927h-1V923h-1V918h-2V914h-1V909h-1V926h-1V922h-1V916h-1V932h-1V927h-1V918h-1V927h-2V906h-1V927h-1V923h-1V918h-1V923h-2V932h-1V911h-1V932h-1V915h-1V899h-1V918h-1V915h-1V909h-1V914h-1V923h-1V927h-1V932h-1V927h-1V914h-1V919h-1V914h-1V932h-1V918h-1V909h-1V919h-2V923h-1V927h-1V923h-1V927h-1V909h-1V930h-1V950h-1V947h-1V928h-1V947h-1V904h-1V923h-1V913h-1V918h-1V923h-1V910h-1V918h-1V910h-1V918h-3V914h-1V910h-1V914h-1V919h-1V909h-1V914h-1V915h-1V910h-2V918h-2V923h-1V931h-1V910h-1V909h-1V919h-1V909h-1V906h-1V923h-1V914h-1V923h-1V914h-2V902h-1V909h-1V907h-1V919h-1V902h-1V914h-1V899h-1V914h-2V923h-1V919h-1V899h-1V914h-1V910h-1V915h-1V910h-1V904h-1V923h-1V919h-1V915h-1V914h-1V894h-1V905h-1V926h-1V933h-1V947h-1V914h-1V919h-1V902h-1V910h-2V914h-2V910h-1V902h-3V918h-1V910h-1V914h-1V910h-1V923h-1V894h-1V906h-1V914h-1V902h-1V914h-1V918h-1V902h-1V897h-1V918h-1V905h-1V902h-1V915h-1V910h-1V909h-1V933h-1V923h-1V947h-1V950h-2V947h-3V950h-2V947h-2V950h-1V914h-1V950h-5V947h-1V923h-1V932h-1V921h-1V936h-1V947h-4V930h-1V939h-1V947h-1V914h-1V950h-2V928h-1V947h-2V914h-1V920h-1V947h-1V950h-1V938h-1V931h-1V905h-1V940h-1V950h-1V938h-1V947h-1V950h-3V947h-1V950h-2V947h-2V950h-2V912h-1V918h-1V919h-1V909h-1V923h-1V915h-1V913h-1V918h-1V906h-1V918h-1V915h-1V947h-2V950h-1V947h-1V950h-5V947h-1V950h-2V933h-1V950h-1V929h-1V950h-1V947h-1V950h-2V942h-1V950h-3V917h-1V933h-1V950h-1V947h-2V915h-1V918h-1V905h-2V918h-1V914h-2V919h-1V923h-1V903h-1V909h-2V915h-1V907h-1V923h-1V918h-1V895h-1V902h-1V947h-1V910h-2V907h-1V905h-1V913h-1V928h-1V947h-3V901h-1V914h-1V930h-1V947h-1V950h-1V947h-1V937h-1V947h-1V912h-1V950h-1V906h-1V938h-1V947h-1V911h-2V933h-1V947h-1V950h-1V897h-1V915h-1V914h-2V947h-1V936h-1V910h-1V902h-1V910h-1V906h-1V918h-1V914h-1V919h-1V914h-1V915h-1V897h-1V911h-1V913h-1V923h-1V919h-1V914h-1V927h-1V922h-1V910h-1V918h-1V919h-1V910h-1V947h-2V937h-1V924h-1V947h-1V932h-1V947h-2V937h-1V947h-1V922h-1V918h-1V910h-1V918h-1V919h-1V918h-1V914h-1V919h-1V914h-1V940h-1V914h-1V921h-1V950h-1V938h-1V906h-1V939h-1V906h-1V907h-1V927h-1V950h-1V902h-1V947h-1V905h-1V950h-1V902h-1V918h-1V919h-1V904h-1V913h-1V910h-1V893h-1V910h-1V918h-1V914h-1V907h-1V923h-1V915h-1V891h-1V895h-1V915h-2V910h-2V911h-2V910h-1V905h-1V889h-1V910h-1V909h-1V906h-2V915h-1V901h-1V911h-1V893h-1V910h-1V923h-1V903h-1V902h-1V906h-1V910h-1V915h-1V906h-1V903h-1V906h-2V918h-1V902h-1V923h-1V914h-1V910h-1V915h-1V899h-1V911h-1V906h-2V919h-2V894h-1V907h-1V914h-1V893h-1V906h-1V897h-1V909h-1V902h-1V914h-1V909h-2V906h-1V898h-1V907h-1V915h-1V894h-1V906h-1V910h-2V903h-1V902h-1V915h-1V894h-1V897h-1V902h-1V894h-1V910h-1V897h-1V902h-1V893h-1V902h-1V910h-1V888h-1V906h-1V915h-1V905h-1V910h-1V905h-1V910h-2V902h-1V915h-1V918h-1V910h-1V902h-1V906h-1V894h-1V902h-1V910h-2V915h-1V910h-2V905h-1V918h-1V901h-1V898h-1V894h-1V902h-1V897h-1V902h-1V914h-1V902h-1V894h-1V918h-1V894h-1V902h-1V915h-1V894h-1V910h-1V901h-1V906h-1V914h-1V899h-1V910h-1V923h-1V910h-1V923h-1V918h-1V910h-1V889h-1V898h-1V911h-1V899h-1V911h-1V918h-2V910h-1V923h-1V915h-1V910h-2V909h-1V910h-4V906h-1V940h-1V904h-1V902h-1V947h-2V950h-1V935h-1V947h-1V938h-1V947h-1V950h-1V947h-2V950h-1V947h-1V950h-1V947h-1V950h-1V947h-1V906h-1V950h-1V947h-1V911h-1V947h-3V950h-3V927h-1V947h-1V903h-1V920h-1V923h-1V947h-1V950h-1V912h-1V930h-1V947h-2V950h-1V947h-1V950h-2V939h-1V903h-1V937h-1V947h-1V919h-1V950h-1V947h-2V941h-1V950h-2V901h-1V947h-1V950h-3V947h-1V911h-1V947h-1V939h-1V950h-1V929h-1V950h-3V947h-1V950h-1V947h-1V950h-4V947h-2V950h-2V928h-1V899h-1V947h-1V888h-1V893h-1V888h-1V898h-1V894h-1V889h-1V890h-1V898h-1V899h-1V894h-5V906h-1V907h-1V894h-2V898h-1V890h-1V918h-1V889h-2V903h-1V899h-1V895h-1V898h-1V894h-1V890h-1V883h-1V885h-1V886h-1V882h-1V947h-1V890h-1V884h-1V920h-1V947h-1V893h-1V894h-1V886h-1V899h-1V893h-2V903h-2V895h-1V886h-1V898h-1z"/>
<path fill="#f60b00" d="M9 837h1v41h-1z"/>
<path fill="#970000" d="M63 853h1v76h-1z"/>
<path fill="#c60000" d="M89 870h1v71h-1z"/>
<path fill="#f60b00" d="M92 849h1v56h-1z"/>
<path fill="#970000" d="M292 858h1v46h-1z"/>
<path fill="#af0000" d="M303 858h1v52h-1z"/>
<path fill="#af0000" d="M313 862h1v66h-1z"/>
<path fill="#c60000" d="M316 870h1v66h-1z"/>
<path fill="#de0000" d="M348 853h1v79h-1z"/>
<path fill="#af0000" d="M353 858h1v38h-1z"/>
<path fill="#de0000" d="M358 853h1v66h-1z"/>
<path fill="#970000" d="M376 866h1v51h-1z"/>
<path fill="#f60b00" d="M377 862h1v34h-1z"/>
<path fill="#970000" d="M387 853h1v61h-1z"/>
<path fill="#970000" d="M391 862h1v33h-1z"/>
<path fill="#de0000" d="M399 866h1v55h-1z"/>
<path fill="#f60b00" d="M409 862h1v41h-1z"/>
<path fill="#af0000" d="M421 858h1v34h-1z"/>
<path fill="#f60b00" d="M432 858h1v55h-1z"/>
<path fill="#f60b00" d="M441 870h1v40h-1z"/>
<path fill="#de0000" d="M472 874h1v52h-1z"/>
<path fill="#af0000" d="M473 874h1v63h-1z"/>
<path fill="#af0000" d="M516 858h1v35h-1z"/>
<path fill="#c60000" d="M551 853h1v31h-1z"/>
<path fill="#f60b00" d="M605 870h1v16h-1z"/>
<path fill="#970000" d="M607 886h1v43h-1z"/>
<path fill="#af0000" d="M716 882h1v38h-1z"/>
<path fill="#f60b00" d="M757 878h1v58h-1z"/>
<path fill="#de0000" d="M798 870h1v43h-1z"/>
<path fill="#c60000" d="M813 890h1v24h-1z"/>
<path fill="#de0000" d="M886 886h1v34h-1z"/>
<path fill="#f60b00" d="M889 886h1v57h-1z"/>
<path fill="#970000" d="M890 899h1v34h-1z"/>
<path fill="#f60b00" d="M908 878h1v44h-1z"/>
</g>
<path stroke="#fff" stroke-width="1" shape-rendering="crispEdges" fill="none" d="M95.5 77.4V447.9M104.5 77.4V447.9M184.5 77.4V447.9M226.5 77.4V447.9M248.5 77.4V447.9M258.5 77.4V447.9M284.5 77.4V447.9M400.5 77.4V447.9M490.5 77.4V447.9M499.5 77.4V447.9M508.5 77.4V447.9M575.5 77.4V447.9M713.5 77.4V447.9M714.5 77.4V447.9M727.5 77.4V447.9M787.5 77.4V447.9M827.5 77.4V447.9M840.5 77.4V447.9M881.5 77.4V447.9M949.5 77.4V447.9M1073.5 77.4V447.9M1113.5 77.4V447.9M1166.5 77.4V447.9M1179.5 77.4V447.9M1183.5 77.4V447.9M1233.5 77.4V447.9M1244.5 77.4V447.9M1276.5 77.4V447.9M1299.5 77.4V447.9M1307.5 77.4V447.9M1311.5 77.4V447.9M1318.5 77.4V447.9M1373.5 77.4V447.9M1391.5 77.4V447.9M1408.5 77.4V447.9"/>
<path stroke="#fff" stroke-opacity="0.35" stroke-width="1" shape-rendering="crispEdges" fill="none" d="M96.5 77.4V447.9M105.5 77.4V447.9M185.5 77.4V447.9M227.5 77.4V447.9M249.5 77.4V447.9M259.5 77.4V447.9M285.5 77.4V447.9M401.5 77.4V447.9M491.5 77.4V447.9M500.5 77.4V447.9M509.5 77.4V447.9M576.5 77.4V447.9M714.5 77.4V447.9M715.5 77.4V447.9M728.5 77.4V447.9M788.5 77.4V447.9M828.5 77.4V447.9M841.5 77.4V447.9M882.5 77.4V447.9M950.5 77.4V447.9M1074.5 77.4V447.9M1114.5 77.4V447.9M1167.5 77.4V447.9M1180.5 77.4V447.9M1184.5 77.4V447.9M1234.5 77.4V447.9M1245.5 77.4V447.9M1277.5 77.4V447.9M1300.5 77.4V447.9M1308.5 77.4V447.9M1312.5 77.4V447.9M1319.5 77.4V447.9M1374.5 77.4V447.9M1392.5 77.4V447.9M1409.5 77.4V447.9"/>
<path stroke="#fff" stroke-width="1" shape-rendering="crispEdges" fill="none" d="M95.5 581.2V951.7M104.5 581.2V951.7M184.5 581.2V951.7M226.5 581.2V951.7M248.5 581.2V951.7M258.5 581.2V951.7M284.5 581.2V951.7M400.5 581.2V951.7M490.5 581.2V951.7M499.5 581.2V951.7M508.5 581.2V951.7M575.5 581.2V951.7M713.5 581.2V951.7M714.5 581.2V951.7M727.5 581.2V951.7M787.5 581.2V951.7M827.5 581.2V951.7M840.5 581.2V951.7M881.5 581.2V951.7M949.5 581.2V951.7M1073.5 581.2V951.7M1113.5 581.2V951.7M1166.5 581.2V951.7M1179.5 581.2V951.7M1183.5 581.2V951.7M1233.5 581.2V951.7M1244.5 581.2V951.7M1276.5 581.2V951.7M1299.5 581.2V951.7M1307.5 581.2V951.7M1311.5 581.2V951.7M1318.5 581.2V951.7M1373.5 581.2V951.7M1391.5 581.2V951.7M1408.5 581.2V951.7"/>
<path stroke="#fff" stroke-opacity="0.35" stroke-width="1" shape-rendering="crispEdges" fill="none" d="M96.5 581.2V951.7M105.5 581.2V951.7M185.5 581.2V951.7M227.5 581.2V951.7M249.5 581.2V951.7M259.5 581.2V951.7M285.5 581.2V951.7M401.5 581.2V951.7M491.5 581.2V951.7M500.5 581.2V951.7M509.5 581.2V951.7M576.5 581.2V951.7M714.5 581.2V951.7M715.5 581.2V951.7M728.5 581.2V951.7M788.5 581.2V951.7M828.5 581.2V951.7M841.5 581.2V951.7M882.5 581.2V951.7M950.5 581.2V951.7M1074.5 581.2V951.7M1114.5 581.2V951.7M1167.5 581.2V951.7M1180.5 581.2V951.7M1184.5 581.2V951.7M1234.5 581.2V951.7M1245.5 581.2V951.7M1277.5 581.2V951.7M1300.5 581.2V951.7M1308.5 581.2V951.7M1312.5 581.2V951.7M1319.5 581.2V951.7M1374.5 581.2V951.7M1392.5 581.2V951.7M1409.5 581.2V951.7"/>
<path stroke="#0808f0" stroke-width="1" shape-rendering="crispEdges" fill="none" d="M148 60.1v8.0M312 54.8v5.0M342 120.8v4.0M382 76.0v4.0M386 38.4v4.0M424 71.9v4.0M420 79.9v4.0M458 91.8v5.0M478 87.9v4.0M84 63.6v4.0M552 39.3v2.4M594 38.2v8.9M608 38.2v13.3M630 38.2v7.4M656 39.0v3.0M668 43.4v3.0M728 39.0v3.0M906 39.0v3.0M546 51.1v3.6M542 51.4v3.0M570 51.1v3.6M568 55.2v4.1M558 60.3v3.6M544 63.8v3.6M568 68.4v7.4M574 72.1v3.6M582 68.3v3.6M554 76.1v7.4M552 83.4v8.9M546 87.2v4.1M584 92.3v4.1M544 96.1v8.9M562 104.7v3.6M562 104.7v3.6M558 112.7v3.6M596 124.8v4.1M550 145.6v4.1M552 149.7v3.6M606 51.1v3.6M618 51.4v3.0M636 52.4v7.4M640 46.7v3.6M644 55.2v4.1M648 55.2v4.1M650 50.7v7.4M660 51.1v3.6M624 59.5v7.4M622 68.3v3.6M642 72.1v3.6M644 72.1v3.6M624 84.0v3.6M646 92.3v4.1M662 84.0v3.6M666 88.1v3.6M660 101.1v3.6M658 108.3v3.6M640 105.0v3.0M630 101.4v3.0M636 134.0v3.6M634 136.7v8.9M652 174.6v3.6M660 182.9v3.6M720 55.2v4.1M734 55.2v4.1M746 51.1v3.6M752 68.3v3.6M800 51.1v3.6M808 46.7v3.6M820 46.7v3.6M820 51.1v3.6M830 51.1v3.6M844 51.1v3.6M800 72.1v3.6M826 76.3v3.6M796 88.1v3.6M830 88.1v3.6M820 97.0v3.6M834 97.0v3.6M810 101.1v3.6M800 108.8v3.6M856 104.7v3.6M866 112.7v3.6M898 67.1v8.9M936 51.1v3.6M544 63.8v3.6M546 50.8v4.1M542 51.4v3.0M552 39.0v3.0M554 76.3v8.3M552 83.7v8.3M544 96.4v8.3M546 87.5v3.6M558 60.3v3.6M558 112.7v3.6M550 145.6v4.1"/>
<path stroke="#e6e6ff" stroke-width="1" shape-rendering="crispEdges" fill="none" d="M874 43.3v4.0M822 189.3v4.0M994 101.4v8.0M988 144.2v4.0M844 138.9v4.0M570 132.8v8.0M862 245.5v8.0M606 195.9v4.0M834 126.8v4.0M674 106.4v4.0M378 131.0v8.0M678 98.1v4.0M834 258.5v4.0M622 246.0v8.0M792 102.6v4.0M596 130.2v8.0M548 218.2v4.0M830 96.6v4.0M834 43.6v4.0M562 75.3v8.0M846 255.2v4.0M196 102.4v4.0M822 145.1v8.0M644 232.0v4.0M862 98.7v4.0M634 128.4v4.0M1220 74.3v8.0M812 47.3v4.0M1434 52.4v8.0M652 240.4v4.0M610 47.8v4.0M924 109.7v4.0M846 232.6v8.0M1262 127.5v4.0M842 48.0v8.0M558 70.2v4.0M528 47.9v8.0M838 121.6v8.0M680 54.7v4.0M598 150.3v8.0M176 157.9v4.0M1340 72.9v4.0M820 123.1v4.0M492 40.2v8.0M1004 239.6v4.0M818 60.3v4.0M470 115.9v4.0M1022 107.6v4.0M650 186.6v4.0M828 100.7v8.0M602 124.4v4.0M814 48.5v8.0M630 72.6v4.0M802 59.4v8.0M834 147.9v8.0M578 74.2v8.0M1312 117.1v4.0M1224 114.2v4.0M650 83.3v4.0M1314 240.6v4.0M602 149.3v4.0M610 42.0v8.0M922 114.3v4.0M786 70.2v8.0M828 111.4v4.0M1180 43.4v8.0M606 136.6v4.0M532 83.2v4.0M172 186.6v4.0M1048 125.1v4.0M828 197.4v8.0M394 174.6v4.0M582 112.9v4.0M812 68.6v4.0M824 107.1v4.0M364 85.4v4.0M476 148.4v8.0M1300 38.0v4.0M484 252.0v8.0M692 225.8v4.0M814 105.7v4.0M644 138.9v4.0M778 147.2v4.0M818 73.4v4.0M768 140.7v8.0M678 83.2v4.0M810 254.5v4.0M852 64.3v4.0M126 93.0v4.0M638 140.2v4.0M760 99.5v4.0M786 223.2v4.0M1436 178.4v4.0M888 72.9v8.0M980 99.4v4.0M178 120.1v4.0M820 66.9v4.0M850 68.0v4.0M800 139.0v4.0M156 234.8v4.0M614 158.7v8.0M778 100.4v8.0M1152 93.9v4.0M694 136.2v4.0M602 52.8v8.0M634 120.4v4.0M674 125.8v4.0M478 133.4v4.0M902 62.7v4.0M480 81.9v4.0M568 128.0v4.0M754 145.3v4.0M826 58.6v4.0M184 53.5v4.0M800 50.9v4.0M880 148.9v4.0M802 60.3v4.0M906 47.2v8.0M660 131.7v8.0M810 120.0v4.0M522 231.3v4.0M836 40.0v4.0M518 152.4v4.0M870 149.4v8.0M616 250.5v8.0M592 222.4v8.0M622 78.2v4.0M838 45.8v8.0M508 135.1v8.0M806 86.3v4.0M580 58.4v8.0M718 73.0v4.0M840 107.7v4.0M1190 48.2v8.0M780 102.0v4.0M848 49.6v4.0M706 100.6v4.0M814 47.2v8.0M810 86.0v8.0M1356 143.7v4.0M802 172.9v4.0M602 115.6v4.0M584 111.3v8.0M1162 45.5v4.0M590 96.9v8.0M678 135.5v4.0M834 42.7v8.0M858 144.0v4.0M796 173.4v4.0M524 169.4v4.0M258 192.3v4.0M532 153.4v4.0M568 122.3v4.0M476 39.6v8.0M520 229.0v4.0M826 102.8v4.0M372 230.5v4.0M832 224.3v4.0M1112 117.8v4.0M818 42.0v4.0M838 195.3v8.0M780 71.4v4.0M520 155.2v4.0M836 114.7v4.0M674 40.2v4.0M732 154.9v4.0M514 139.6v4.0M868 167.7v4.0M808 76.1v4.0M894 76.6v8.0"/>
<path stroke="#b4b4b4" stroke-width="1" stroke-dasharray="1 2.5" fill="none" d="M140.5 38.4V447.8M198.5 38.4V447.8M256.5 38.4V447.8M314.5 38.4V447.8M372.5 38.4V447.8M430.5 38.4V447.8M489.5 38.4V447.8M547.5 38.4V447.8M605.5 38.4V447.8M663.5 38.4V447.8M721.5 38.4V447.8M779.5 38.4V447.8M837.5 38.4V447.8M895.5 38.4V447.8M953.5 38.4V447.8M1011.5 38.4V447.8M1069.5 38.4V447.8M1128.5 38.4V447.8M1186.5 38.4V447.8M1244.5 38.4V447.8M1302.5 38.4V447.8M1360.5 38.4V447.8M1418.5 38.4V447.8M82.5 345.5H1476.0M82.5 243.5H1476.0M82.5 140.5H1476.0"/>
<rect x="81.45" y="37.40" width="1395.00" height="410.90" fill="none" stroke="#000" stroke-width="1.3"/>
<path stroke="#000" stroke-width="1.2" fill="none" d="M81.45 448.30v6M140.49 448.30v6M198.58 448.30v6M256.67 448.30v6M314.76 448.30v6M372.85 448.30v6M430.94 448.30v6M489.03 448.30v6M547.12 448.30v6M605.21 448.30v6M663.30 448.30v6M721.39 448.30v6M779.48 448.30v6M837.57 448.30v6M895.66 448.30v6M953.75 448.30v6M1011.84 448.30v6M1069.93 448.30v6M1128.02 448.30v6M1186.11 448.30v6M1244.20 448.30v6M1302.29 448.30v6M1360.38 448.30v6M1418.47 448.30v6M1476.56 448.30v6M81.45 447.70h6M1476.45 447.70h-6M81.45 345.35h6M1476.45 345.35h-6M81.45 243.00h6M1476.45 243.00h-6M81.45 140.65h6M1476.45 140.65h-6M81.45 38.30h6M1476.45 38.30h-6"/>
<path stroke="#b4b4b4" stroke-width="1" stroke-dasharray="1 2.5" fill="none" d="M140.5 542.2V951.6M198.5 542.2V951.6M256.5 542.2V951.6M314.5 542.2V951.6M372.5 542.2V951.6M430.5 542.2V951.6M489.5 542.2V951.6M547.5 542.2V951.6M605.5 542.2V951.6M663.5 542.2V951.6M721.5 542.2V951.6M779.5 542.2V951.6M837.5 542.2V951.6M895.5 542.2V951.6M953.5 542.2V951.6M1011.5 542.2V951.6M1069.5 542.2V951.6M1128.5 542.2V951.6M1186.5 542.2V951.6M1244.5 542.2V951.6M1302.5 542.2V951.6M1360.5 542.2V951.6M1418.5 542.2V951.6M82.5 849.5H1476.0M82.5 746.5H1476.0M82.5 644.5H1476.0"/>
<rect x="81.45" y="541.20" width="1395.00" height="410.90" fill="none" stroke="#000" stroke-width="1.3"/>
<path stroke="#000" stroke-width="1.2" fill="none" d="M81.45 952.10v6M140.49 952.10v6M198.58 952.10v6M256.67 952.10v6M314.76 952.10v6M372.85 952.10v6M430.94 952.10v6M489.03 952.10v6M547.12 952.10v6M605.21 952.10v6M663.30 952.10v6M721.39 952.10v6M779.48 952.10v6M837.57 952.10v6M895.66 952.10v6M953.75 952.10v6M1011.84 952.10v6M1069.93 952.10v6M1128.02 952.10v6M1186.11 952.10v6M1244.20 952.10v6M1302.29 952.10v6M1360.38 952.10v6M1418.47 952.10v6M1476.56 952.10v6M81.45 951.50h6M1476.45 951.50h-6M81.45 849.15h6M1476.45 849.15h-6M81.45 746.80h6M1476.45 746.80h-6M81.45 644.45h6M1476.45 644.45h-6M81.45 542.10h6M1476.45 542.10h-6"/>
<rect shape-rendering="crispEdges" x="1530.4" y="708.60" width="22.2" height="9.00" fill="#e8e8ff"/>
<rect shape-rendering="crispEdges" x="1530.4" y="700.20" width="22.2" height="9.00" fill="#babaff"/>
<rect shape-rendering="crispEdges" x="1530.4" y="691.80" width="22.2" height="9.00" fill="#8b8bff"/>
<rect shape-rendering="crispEdges" x="1530.4" y="683.40" width="22.2" height="9.00" fill="#5d5dff"/>
<rect shape-rendering="crispEdges" x="1530.4" y="675.00" width="22.2" height="9.00" fill="#2e2eff"/>
<rect shape-rendering="crispEdges" x="1530.4" y="666.60" width="22.2" height="9.00" fill="#0000f6"/>
<rect shape-rendering="crispEdges" x="1530.4" y="658.20" width="22.2" height="9.00" fill="#0000ff"/>
<rect shape-rendering="crispEdges" x="1530.4" y="649.80" width="22.2" height="9.00" fill="#0012ff"/>
<rect shape-rendering="crispEdges" x="1530.4" y="641.40" width="22.2" height="9.00" fill="#0027ff"/>
<rect shape-rendering="crispEdges" x="1530.4" y="633.00" width="22.2" height="9.00" fill="#003cff"/>
<rect shape-rendering="crispEdges" x="1530.4" y="624.60" width="22.2" height="9.00" fill="#0051ff"/>
<rect shape-rendering="crispEdges" x="1530.4" y="616.20" width="22.2" height="9.00" fill="#0065ff"/>
<rect shape-rendering="crispEdges" x="1530.4" y="607.80" width="22.2" height="9.00" fill="#007aff"/>
<rect shape-rendering="crispEdges" x="1530.4" y="599.40" width="22.2" height="9.00" fill="#008fff"/>
<rect shape-rendering="crispEdges" x="1530.4" y="591.00" width="22.2" height="9.00" fill="#00a4ff"/>
<rect shape-rendering="crispEdges" x="1530.4" y="582.60" width="22.2" height="9.00" fill="#00b9ff"/>
<rect shape-rendering="crispEdges" x="1530.4" y="574.20" width="22.2" height="9.00" fill="#00ceff"/>
<rect shape-rendering="crispEdges" x="1530.4" y="565.80" width="22.2" height="9.00" fill="#00e2f9"/>
<rect shape-rendering="crispEdges" x="1530.4" y="557.40" width="22.2" height="9.00" fill="#0ef7e9"/>
<rect shape-rendering="crispEdges" x="1530.4" y="549.00" width="22.2" height="9.00" fill="#1fffd8"/>
<rect shape-rendering="crispEdges" x="1530.4" y="540.60" width="22.2" height="9.00" fill="#30ffc7"/>
<rect shape-rendering="crispEdges" x="1530.4" y="532.20" width="22.2" height="9.00" fill="#41ffb6"/>
<rect shape-rendering="crispEdges" x="1530.4" y="523.80" width="22.2" height="9.00" fill="#51ffa5"/>
<rect shape-rendering="crispEdges" x="1530.4" y="515.40" width="22.2" height="9.00" fill="#62ff95"/>
<rect shape-rendering="crispEdges" x="1530.4" y="507.00" width="22.2" height="9.00" fill="#73ff84"/>
<rect shape-rendering="crispEdges" x="1530.4" y="498.60" width="22.2" height="9.00" fill="#84ff73"/>
<rect shape-rendering="crispEdges" x="1530.4" y="490.20" width="22.2" height="9.00" fill="#95ff62"/>
<rect shape-rendering="crispEdges" x="1530.4" y="481.80" width="22.2" height="9.00" fill="#a5ff51"/>
<rect shape-rendering="crispEdges" x="1530.4" y="473.40" width="22.2" height="9.00" fill="#b6ff41"/>
<rect shape-rendering="crispEdges" x="1530.4" y="465.00" width="22.2" height="9.00" fill="#c7ff30"/>
<rect shape-rendering="crispEdges" x="1530.4" y="456.60" width="22.2" height="9.00" fill="#d8ff1f"/>
<rect shape-rendering="crispEdges" x="1530.4" y="448.20" width="22.2" height="9.00" fill="#e9ff0e"/>
<rect shape-rendering="crispEdges" x="1530.4" y="439.80" width="22.2" height="9.00" fill="#f9f300"/>
<rect shape-rendering="crispEdges" x="1530.4" y="431.40" width="22.2" height="9.00" fill="#ffdf00"/>
<rect shape-rendering="crispEdges" x="1530.4" y="423.00" width="22.2" height="9.00" fill="#ffcc00"/>
<rect shape-rendering="crispEdges" x="1530.4" y="414.60" width="22.2" height="9.00" fill="#ffb900"/>
<rect shape-rendering="crispEdges" x="1530.4" y="406.20" width="22.2" height="9.00" fill="#ffa600"/>
<rect shape-rendering="crispEdges" x="1530.4" y="397.80" width="22.2" height="9.00" fill="#ff9200"/>
<rect shape-rendering="crispEdges" x="1530.4" y="389.40" width="22.2" height="9.00" fill="#ff7f00"/>
<rect shape-rendering="crispEdges" x="1530.4" y="381.00" width="22.2" height="9.00" fill="#ff6c00"/>
<rect shape-rendering="crispEdges" x="1530.4" y="372.60" width="22.2" height="9.00" fill="#ff5800"/>
<rect shape-rendering="crispEdges" x="1530.4" y="364.20" width="22.2" height="9.00" fill="#ff4500"/>
<rect shape-rendering="crispEdges" x="1530.4" y="355.80" width="22.2" height="9.00" fill="#ff3200"/>
<rect shape-rendering="crispEdges" x="1530.4" y="347.40" width="22.2" height="9.00" fill="#ff1f00"/>
<rect shape-rendering="crispEdges" x="1530.4" y="339.00" width="22.2" height="9.00" fill="#f60b00"/>
<rect shape-rendering="crispEdges" x="1530.4" y="330.60" width="22.2" height="9.00" fill="#de0000"/>
<rect shape-rendering="crispEdges" x="1530.4" y="322.20" width="22.2" height="9.00" fill="#c60000"/>
<rect shape-rendering="crispEdges" x="1530.4" y="313.80" width="22.2" height="9.00" fill="#af0000"/>
<rect shape-rendering="crispEdges" x="1530.4" y="305.40" width="22.2" height="9.00" fill="#970000"/>
<rect shape-rendering="crispEdges" x="1530.4" y="297.00" width="22.2" height="9.00" fill="#800000"/>
<rect x="1530.4" y="297.0" width="22.2" height="420.0" fill="none" stroke="#000" stroke-width="1.2"/>
<g font-family="Liberation Sans, sans-serif">
<text x="779.9" y="27.8" font-size="20.60" text-anchor="middle" fill="#404040" font-weight="bold" textLength="519.5" lengthAdjust="spacingAndGlyphs">Raw attenuated backscattering coefficient</text>
<text x="778.3" y="532.0" font-size="20.60" text-anchor="middle" fill="#404040" font-weight="bold" textLength="662.0" lengthAdjust="spacingAndGlyphs">Attenuated backscattering coefficient (SNR-screened)</text>
<text x="778.8" y="1004.8" font-size="20.60" text-anchor="middle" fill="#000" textLength="121.5" lengthAdjust="spacingAndGlyphs">Time (UTC)</text>
<text x="26.0" y="243.8" font-size="20.60" text-anchor="middle" fill="#000" textLength="141.0" lengthAdjust="spacingAndGlyphs" transform="rotate(-90 26.0 243.8)">Altitude (km)</text>
<text x="81.5" y="473.8" font-size="15.60" text-anchor="middle" fill="#000" textLength="8.4" lengthAdjust="spacingAndGlyphs">0</text>
<text x="140.5" y="473.8" font-size="15.60" text-anchor="middle" fill="#000" textLength="8.4" lengthAdjust="spacingAndGlyphs">1</text>
<text x="198.6" y="473.8" font-size="15.60" text-anchor="middle" fill="#000" textLength="8.4" lengthAdjust="spacingAndGlyphs">2</text>
<text x="256.7" y="473.8" font-size="15.60" text-anchor="middle" fill="#000" textLength="8.4" lengthAdjust="spacingAndGlyphs">3</text>
<text x="314.8" y="473.8" font-size="15.60" text-anchor="middle" fill="#000" textLength="8.4" lengthAdjust="spacingAndGlyphs">4</text>
<text x="372.9" y="473.8" font-size="15.60" text-anchor="middle" fill="#000" textLength="8.4" lengthAdjust="spacingAndGlyphs">5</text>
<text x="430.9" y="473.8" font-size="15.60" text-anchor="middle" fill="#000" textLength="8.4" lengthAdjust="spacingAndGlyphs">6</text>
<text x="489.0" y="473.8" font-size="15.60" text-anchor="middle" fill="#000" textLength="8.4" lengthAdjust="spacingAndGlyphs">7</text>
<text x="547.1" y="473.8" font-size="15.60" text-anchor="middle" fill="#000" textLength="8.4" lengthAdjust="spacingAndGlyphs">8</text>
<text x="605.2" y="473.8" font-size="15.60" text-anchor="middle" fill="#000" textLength="8.4" lengthAdjust="spacingAndGlyphs">9</text>
<text x="663.3" y="473.8" font-size="15.60" text-anchor="middle" fill="#000" textLength="17.8" lengthAdjust="spacingAndGlyphs">10</text>
<text x="721.4" y="473.8" font-size="15.60" text-anchor="middle" fill="#000" textLength="17.8" lengthAdjust="spacingAndGlyphs">11</text>
<text x="779.5" y="473.8" font-size="15.60" text-anchor="middle" fill="#000" textLength="17.8" lengthAdjust="spacingAndGlyphs">12</text>
<text x="837.6" y="473.8" font-size="15.60" text-anchor="middle" fill="#000" textLength="17.8" lengthAdjust="spacingAndGlyphs">13</text>
<text x="895.7" y="473.8" font-size="15.60" text-anchor="middle" fill="#000" textLength="17.8" lengthAdjust="spacingAndGlyphs">14</text>
<text x="953.8" y="473.8" font-size="15.60" text-anchor="middle" fill="#000" textLength="17.8" lengthAdjust="spacingAndGlyphs">15</text>
<text x="1011.8" y="473.8" font-size="15.60" text-anchor="middle" fill="#000" textLength="17.8" lengthAdjust="spacingAndGlyphs">16</text>
<text x="1069.9" y="473.8" font-size="15.60" text-anchor="middle" fill="#000" textLength="17.8" lengthAdjust="spacingAndGlyphs">17</text>
<text x="1128.0" y="473.8" font-size="15.60" text-anchor="middle" fill="#000" textLength="17.8" lengthAdjust="spacingAndGlyphs">18</text>
<text x="1186.1" y="473.8" font-size="15.60" text-anchor="middle" fill="#000" textLength="17.8" lengthAdjust="spacingAndGlyphs">19</text>
<text x="1244.2" y="473.8" font-size="15.60" text-anchor="middle" fill="#000" textLength="17.8" lengthAdjust="spacingAndGlyphs">20</text>
<text x="1302.3" y="473.8" font-size="15.60" text-anchor="middle" fill="#000" textLength="17.8" lengthAdjust="spacingAndGlyphs">21</text>
<text x="1360.4" y="473.8" font-size="15.60" text-anchor="middle" fill="#000" textLength="17.8" lengthAdjust="spacingAndGlyphs">22</text>
<text x="1418.5" y="473.8" font-size="15.60" text-anchor="middle" fill="#000" textLength="17.8" lengthAdjust="spacingAndGlyphs">23</text>
<text x="1476.6" y="473.8" font-size="15.60" text-anchor="middle" fill="#000" textLength="17.8" lengthAdjust="spacingAndGlyphs">24</text>
<text x="73.8" y="454.3" font-size="15.60" text-anchor="end" fill="#000" textLength="8.4" lengthAdjust="spacingAndGlyphs">0</text>
<text x="73.8" y="352.9" font-size="15.60" text-anchor="end" fill="#000" textLength="33.6" lengthAdjust="spacingAndGlyphs">0.25</text>
<text x="73.8" y="249.5" font-size="15.60" text-anchor="end" fill="#000" textLength="23.8" lengthAdjust="spacingAndGlyphs">0.5</text>
<text x="73.8" y="147.0" font-size="15.60" text-anchor="end" fill="#000" textLength="33.6" lengthAdjust="spacingAndGlyphs">0.75</text>
<text x="74.8" y="44.6" font-size="15.60" text-anchor="end" fill="#000" textLength="8.4" lengthAdjust="spacingAndGlyphs">1</text>
<text x="26.0" y="747.7" font-size="20.60" text-anchor="middle" fill="#000" textLength="141.0" lengthAdjust="spacingAndGlyphs" transform="rotate(-90 26.0 747.7)">Altitude (km)</text>
<text x="81.5" y="977.6" font-size="15.60" text-anchor="middle" fill="#000" textLength="8.4" lengthAdjust="spacingAndGlyphs">0</text>
<text x="140.5" y="977.6" font-size="15.60" text-anchor="middle" fill="#000" textLength="8.4" lengthAdjust="spacingAndGlyphs">1</text>
<text x="198.6" y="977.6" font-size="15.60" text-anchor="middle" fill="#000" textLength="8.4" lengthAdjust="spacingAndGlyphs">2</text>
<text x="256.7" y="977.6" font-size="15.60" text-anchor="middle" fill="#000" textLength="8.4" lengthAdjust="spacingAndGlyphs">3</text>
<text x="314.8" y="977.6" font-size="15.60" text-anchor="middle" fill="#000" textLength="8.4" lengthAdjust="spacingAndGlyphs">4</text>
<text x="372.9" y="977.6" font-size="15.60" text-anchor="middle" fill="#000" textLength="8.4" lengthAdjust="spacingAndGlyphs">5</text>
<text x="430.9" y="977.6" font-size="15.60" text-anchor="middle" fill="#000" textLength="8.4" lengthAdjust="spacingAndGlyphs">6</text>
<text x="489.0" y="977.6" font-size="15.60" text-anchor="middle" fill="#000" textLength="8.4" lengthAdjust="spacingAndGlyphs">7</text>
<text x="547.1" y="977.6" font-size="15.60" text-anchor="middle" fill="#000" textLength="8.4" lengthAdjust="spacingAndGlyphs">8</text>
<text x="605.2" y="977.6" font-size="15.60" text-anchor="middle" fill="#000" textLength="8.4" lengthAdjust="spacingAndGlyphs">9</text>
<text x="663.3" y="977.6" font-size="15.60" text-anchor="middle" fill="#000" textLength="17.8" lengthAdjust="spacingAndGlyphs">10</text>
<text x="721.4" y="977.6" font-size="15.60" text-anchor="middle" fill="#000" textLength="17.8" lengthAdjust="spacingAndGlyphs">11</text>
<text x="779.5" y="977.6" font-size="15.60" text-anchor="middle" fill="#000" textLength="17.8" lengthAdjust="spacingAndGlyphs">12</text>
<text x="837.6" y="977.6" font-size="15.60" text-anchor="middle" fill="#000" textLength="17.8" lengthAdjust="spacingAndGlyphs">13</text>
<text x="895.7" y="977.6" font-size="15.60" text-anchor="middle" fill="#000" textLength="17.8" lengthAdjust="spacingAndGlyphs">14</text>
<text x="953.8" y="977.6" font-size="15.60" text-anchor="middle" fill="#000" textLength="17.8" lengthAdjust="spacingAndGlyphs">15</text>
<text x="1011.8" y="977.6" font-size="15.60" text-anchor="middle" fill="#000" textLength="17.8" lengthAdjust="spacingAndGlyphs">16</text>
<text x="1069.9" y="977.6" font-size="15.60" text-anchor="middle" fill="#000" textLength="17.8" lengthAdjust="spacingAndGlyphs">17</text>
<text x="1128.0" y="977.6" font-size="15.60" text-anchor="middle" fill="#000" textLength="17.8" lengthAdjust="spacingAndGlyphs">18</text>
<text x="1186.1" y="977.6" font-size="15.60" text-anchor="middle" fill="#000" textLength="17.8" lengthAdjust="spacingAndGlyphs">19</text>
<text x="1244.2" y="977.6" font-size="15.60" text-anchor="middle" fill="#000" textLength="17.8" lengthAdjust="spacingAndGlyphs">20</text>
<text x="1302.3" y="977.6" font-size="15.60" text-anchor="middle" fill="#000" textLength="17.8" lengthAdjust="spacingAndGlyphs">21</text>
<text x="1360.4" y="977.6" font-size="15.60" text-anchor="middle" fill="#000" textLength="17.8" lengthAdjust="spacingAndGlyphs">22</text>
<text x="1418.5" y="977.6" font-size="15.60" text-anchor="middle" fill="#000" textLength="17.8" lengthAdjust="spacingAndGlyphs">23</text>
<text x="1476.6" y="977.6" font-size="15.60" text-anchor="middle" fill="#000" textLength="17.8" lengthAdjust="spacingAndGlyphs">24</text>
<text x="73.8" y="958.1" font-size="15.60" text-anchor="end" fill="#000" textLength="8.4" lengthAdjust="spacingAndGlyphs">0</text>
<text x="73.8" y="856.6" font-size="15.60" text-anchor="end" fill="#000" textLength="33.6" lengthAdjust="spacingAndGlyphs">0.25</text>
<text x="73.8" y="753.3" font-size="15.60" text-anchor="end" fill="#000" textLength="23.8" lengthAdjust="spacingAndGlyphs">0.5</text>
<text x="73.8" y="650.8" font-size="15.60" text-anchor="end" fill="#000" textLength="33.6" lengthAdjust="spacingAndGlyphs">0.75</text>
<text x="74.8" y="548.4" font-size="15.60" text-anchor="end" fill="#000" textLength="8.4" lengthAdjust="spacingAndGlyphs">1</text>
<text x="1558.0" y="304.9" font-size="21.60" text-anchor="start" fill="#000" textLength="47.0" lengthAdjust="spacingAndGlyphs">1e-4</text>
<text x="1558.0" y="724.7" font-size="21.60" text-anchor="start" fill="#000" textLength="46.5" lengthAdjust="spacingAndGlyphs">1e-7</text>
<text x="1608.1" y="509.5" font-size="22.60" text-anchor="middle" fill="#000" textLength="69.0" lengthAdjust="spacingAndGlyphs" transform="rotate(-90 1608.1 509.5)">1/m/sr</text>
</g>
</svg>
</body></html>
